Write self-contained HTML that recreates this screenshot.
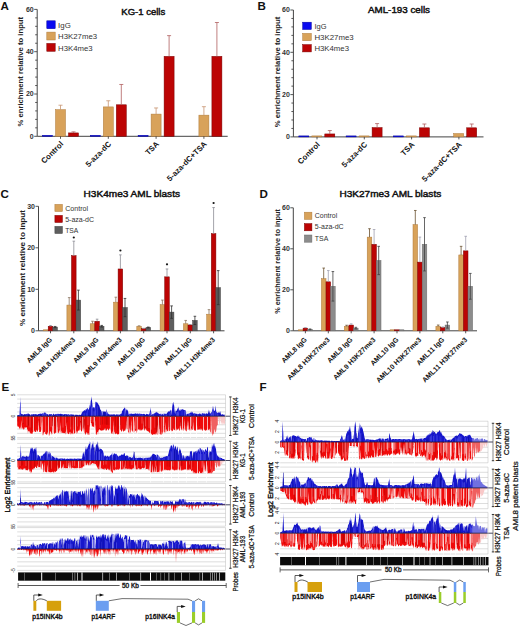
<!DOCTYPE html>
<html><head><meta charset="utf-8"><style>
html,body{margin:0;padding:0;background:#fff;}
svg{display:block;}
svg text{font-family:"Liberation Sans",sans-serif;}
</style></head><body>
<svg width="520" height="627" viewBox="0 0 520 627">
<rect width="520" height="627" fill="#fff"/>
<text x="0.60" y="10.30" font-size="11.6" font-weight="bold" text-anchor="start" fill="#111">A</text>
<text x="257.40" y="10.30" font-size="11.6" font-weight="bold" text-anchor="start" fill="#111">B</text>
<text x="0.60" y="197.50" font-size="11.6" font-weight="bold" text-anchor="start" fill="#111">C</text>
<text x="259.60" y="197.90" font-size="11.6" font-weight="bold" text-anchor="start" fill="#111">D</text>
<text x="1.40" y="390.90" font-size="11.6" font-weight="bold" text-anchor="start" fill="#111">E</text>
<text x="259.60" y="391.10" font-size="11.6" font-weight="bold" text-anchor="start" fill="#111">F</text>
<line x1="37.20" y1="9.40" x2="37.20" y2="136.30" stroke="#444" stroke-width="1"/>
<line x1="34.20" y1="136.30" x2="37.20" y2="136.30" stroke="#444" stroke-width="0.9"/>
<text x="33.70" y="138.70" font-size="7" font-weight="bold" text-anchor="end" fill="#333">0</text>
<line x1="35.20" y1="127.84" x2="37.20" y2="127.84" stroke="#444" stroke-width="0.9"/>
<line x1="35.20" y1="119.38" x2="37.20" y2="119.38" stroke="#444" stroke-width="0.9"/>
<line x1="35.20" y1="110.92" x2="37.20" y2="110.92" stroke="#444" stroke-width="0.9"/>
<line x1="35.20" y1="102.46" x2="37.20" y2="102.46" stroke="#444" stroke-width="0.9"/>
<line x1="34.20" y1="94.00" x2="37.20" y2="94.00" stroke="#444" stroke-width="0.9"/>
<text x="33.70" y="96.40" font-size="7" font-weight="bold" text-anchor="end" fill="#333">20</text>
<line x1="35.20" y1="85.54" x2="37.20" y2="85.54" stroke="#444" stroke-width="0.9"/>
<line x1="35.20" y1="77.08" x2="37.20" y2="77.08" stroke="#444" stroke-width="0.9"/>
<line x1="35.20" y1="68.62" x2="37.20" y2="68.62" stroke="#444" stroke-width="0.9"/>
<line x1="35.20" y1="60.16" x2="37.20" y2="60.16" stroke="#444" stroke-width="0.9"/>
<line x1="34.20" y1="51.70" x2="37.20" y2="51.70" stroke="#444" stroke-width="0.9"/>
<text x="33.70" y="54.10" font-size="7" font-weight="bold" text-anchor="end" fill="#333">40</text>
<line x1="35.20" y1="43.24" x2="37.20" y2="43.24" stroke="#444" stroke-width="0.9"/>
<line x1="35.20" y1="34.78" x2="37.20" y2="34.78" stroke="#444" stroke-width="0.9"/>
<line x1="35.20" y1="26.32" x2="37.20" y2="26.32" stroke="#444" stroke-width="0.9"/>
<line x1="35.20" y1="17.86" x2="37.20" y2="17.86" stroke="#444" stroke-width="0.9"/>
<line x1="34.20" y1="9.40" x2="37.20" y2="9.40" stroke="#444" stroke-width="0.9"/>
<text x="33.70" y="11.80" font-size="7" font-weight="bold" text-anchor="end" fill="#333">60</text>
<line x1="37.20" y1="136.30" x2="227.70" y2="136.30" stroke="#444" stroke-width="1"/>
<text x="23.20" y="71.70" font-size="7.2" font-weight="bold" text-anchor="middle" fill="#222" transform="rotate(-90 23.20 71.70)" textLength="109.6" lengthAdjust="spacingAndGlyphs">% enrichment relative to input</text>
<text x="121.30" y="14.80" font-size="9.2" font-weight="normal" text-anchor="start" fill="#111" textLength="43.9" lengthAdjust="spacingAndGlyphs" stroke="#111" stroke-width="0.45">KG-1 cells</text>
<rect x="46.80" y="20.80" width="8.40" height="7.90" fill="#0a0af0" stroke="#0000a0" stroke-width="0.5"/>
<text x="58.10" y="28.00" font-size="7.7" font-weight="normal" text-anchor="start" fill="#333" textLength="12.7" lengthAdjust="spacingAndGlyphs">IgG</text>
<rect x="46.80" y="32.10" width="8.40" height="7.90" fill="#d8a25a" stroke="#b07a3a" stroke-width="0.5"/>
<text x="58.10" y="39.30" font-size="7.7" font-weight="normal" text-anchor="start" fill="#333" textLength="39" lengthAdjust="spacingAndGlyphs">H3K27me3</text>
<rect x="46.80" y="43.40" width="8.40" height="7.90" fill="#bc0404" stroke="#7a0000" stroke-width="0.5"/>
<text x="58.10" y="50.60" font-size="7.7" font-weight="normal" text-anchor="start" fill="#333" textLength="34.5" lengthAdjust="spacingAndGlyphs">H3K4me3</text>
<rect x="42.50" y="135.30" width="10.00" height="1.00" fill="#0a0af0" stroke="#0000a0" stroke-width="0.5"/>
<rect x="55.50" y="109.65" width="10.00" height="26.65" fill="#d8a25a" stroke="#b07a3a" stroke-width="0.5"/>
<line x1="60.50" y1="105.21" x2="60.50" y2="109.65" stroke="#c89470" stroke-width="0.8"/>
<line x1="58.50" y1="105.21" x2="62.50" y2="105.21" stroke="#c89470" stroke-width="0.8"/>
<rect x="68.50" y="132.92" width="10.00" height="3.38" fill="#bc0404" stroke="#7a0000" stroke-width="0.5"/>
<line x1="73.50" y1="131.86" x2="73.50" y2="132.92" stroke="#b06060" stroke-width="0.8"/>
<line x1="71.50" y1="131.86" x2="75.50" y2="131.86" stroke="#b06060" stroke-width="0.8"/>
<line x1="60.50" y1="136.30" x2="60.50" y2="138.80" stroke="#444" stroke-width="0.9"/>
<rect x="90.30" y="135.30" width="10.00" height="1.00" fill="#0a0af0" stroke="#0000a0" stroke-width="0.5"/>
<rect x="103.30" y="106.90" width="10.00" height="29.40" fill="#d8a25a" stroke="#b07a3a" stroke-width="0.5"/>
<line x1="108.30" y1="100.77" x2="108.30" y2="106.90" stroke="#c89470" stroke-width="0.8"/>
<line x1="106.30" y1="100.77" x2="110.30" y2="100.77" stroke="#c89470" stroke-width="0.8"/>
<rect x="116.30" y="104.79" width="10.00" height="31.51" fill="#bc0404" stroke="#7a0000" stroke-width="0.5"/>
<line x1="121.30" y1="84.48" x2="121.30" y2="104.79" stroke="#b06060" stroke-width="0.8"/>
<line x1="119.30" y1="84.48" x2="123.30" y2="84.48" stroke="#b06060" stroke-width="0.8"/>
<line x1="108.30" y1="136.30" x2="108.30" y2="138.80" stroke="#444" stroke-width="0.9"/>
<rect x="138.10" y="135.30" width="10.00" height="1.00" fill="#0a0af0" stroke="#0000a0" stroke-width="0.5"/>
<rect x="151.10" y="114.09" width="10.00" height="22.21" fill="#d8a25a" stroke="#b07a3a" stroke-width="0.5"/>
<line x1="156.10" y1="107.96" x2="156.10" y2="114.09" stroke="#c89470" stroke-width="0.8"/>
<line x1="154.10" y1="107.96" x2="158.10" y2="107.96" stroke="#c89470" stroke-width="0.8"/>
<rect x="164.10" y="56.35" width="10.00" height="79.95" fill="#bc0404" stroke="#7a0000" stroke-width="0.5"/>
<line x1="169.10" y1="35.63" x2="169.10" y2="56.35" stroke="#b06060" stroke-width="0.8"/>
<line x1="167.10" y1="35.63" x2="171.10" y2="35.63" stroke="#b06060" stroke-width="0.8"/>
<line x1="156.10" y1="136.30" x2="156.10" y2="138.80" stroke="#444" stroke-width="0.9"/>
<rect x="198.90" y="115.15" width="10.00" height="21.15" fill="#d8a25a" stroke="#b07a3a" stroke-width="0.5"/>
<line x1="203.90" y1="106.69" x2="203.90" y2="115.15" stroke="#c89470" stroke-width="0.8"/>
<line x1="201.90" y1="106.69" x2="205.90" y2="106.69" stroke="#c89470" stroke-width="0.8"/>
<rect x="211.90" y="56.35" width="10.00" height="79.95" fill="#bc0404" stroke="#7a0000" stroke-width="0.5"/>
<line x1="216.90" y1="22.51" x2="216.90" y2="56.35" stroke="#b06060" stroke-width="0.8"/>
<line x1="214.90" y1="22.51" x2="218.90" y2="22.51" stroke="#b06060" stroke-width="0.8"/>
<line x1="203.90" y1="136.30" x2="203.90" y2="138.80" stroke="#444" stroke-width="0.9"/>
<text x="63.90" y="144.50" font-size="7.8" font-weight="bold" text-anchor="end" fill="#111" transform="rotate(-45 63.90 144.50)">Control</text>
<text x="111.70" y="144.50" font-size="7.8" font-weight="bold" text-anchor="end" fill="#111" transform="rotate(-45 111.70 144.50)">5-aza-dC</text>
<text x="159.50" y="144.50" font-size="7.8" font-weight="bold" text-anchor="end" fill="#111" transform="rotate(-45 159.50 144.50)">TSA</text>
<text x="207.30" y="144.50" font-size="7.8" font-weight="bold" text-anchor="end" fill="#111" transform="rotate(-45 207.30 144.50)">5-aza-dC+TSA</text>
<line x1="293.40" y1="10.00" x2="293.40" y2="136.90" stroke="#444" stroke-width="1"/>
<line x1="290.40" y1="136.90" x2="293.40" y2="136.90" stroke="#444" stroke-width="0.9"/>
<text x="289.90" y="139.30" font-size="7" font-weight="bold" text-anchor="end" fill="#333">0</text>
<line x1="291.40" y1="128.44" x2="293.40" y2="128.44" stroke="#444" stroke-width="0.9"/>
<line x1="291.40" y1="119.98" x2="293.40" y2="119.98" stroke="#444" stroke-width="0.9"/>
<line x1="291.40" y1="111.52" x2="293.40" y2="111.52" stroke="#444" stroke-width="0.9"/>
<line x1="291.40" y1="103.06" x2="293.40" y2="103.06" stroke="#444" stroke-width="0.9"/>
<line x1="290.40" y1="94.60" x2="293.40" y2="94.60" stroke="#444" stroke-width="0.9"/>
<text x="289.90" y="97.00" font-size="7" font-weight="bold" text-anchor="end" fill="#333">20</text>
<line x1="291.40" y1="86.14" x2="293.40" y2="86.14" stroke="#444" stroke-width="0.9"/>
<line x1="291.40" y1="77.68" x2="293.40" y2="77.68" stroke="#444" stroke-width="0.9"/>
<line x1="291.40" y1="69.22" x2="293.40" y2="69.22" stroke="#444" stroke-width="0.9"/>
<line x1="291.40" y1="60.76" x2="293.40" y2="60.76" stroke="#444" stroke-width="0.9"/>
<line x1="290.40" y1="52.30" x2="293.40" y2="52.30" stroke="#444" stroke-width="0.9"/>
<text x="289.90" y="54.70" font-size="7" font-weight="bold" text-anchor="end" fill="#333">40</text>
<line x1="291.40" y1="43.84" x2="293.40" y2="43.84" stroke="#444" stroke-width="0.9"/>
<line x1="291.40" y1="35.38" x2="293.40" y2="35.38" stroke="#444" stroke-width="0.9"/>
<line x1="291.40" y1="26.92" x2="293.40" y2="26.92" stroke="#444" stroke-width="0.9"/>
<line x1="291.40" y1="18.46" x2="293.40" y2="18.46" stroke="#444" stroke-width="0.9"/>
<line x1="290.40" y1="10.00" x2="293.40" y2="10.00" stroke="#444" stroke-width="0.9"/>
<text x="289.90" y="12.40" font-size="7" font-weight="bold" text-anchor="end" fill="#333">60</text>
<line x1="293.40" y1="136.90" x2="483.50" y2="136.90" stroke="#444" stroke-width="1"/>
<text x="279.80" y="72.00" font-size="7.2" font-weight="bold" text-anchor="middle" fill="#222" transform="rotate(-90 279.80 72.00)" textLength="110.5" lengthAdjust="spacingAndGlyphs">% enrichment relative to input</text>
<text x="368.00" y="13.10" font-size="9.3" font-weight="normal" text-anchor="start" fill="#111" textLength="62" lengthAdjust="spacingAndGlyphs" stroke="#111" stroke-width="0.45">AML-193 cells</text>
<rect x="302.70" y="22.20" width="8.60" height="7.30" fill="#0a0af0" stroke="#0000a0" stroke-width="0.5"/>
<text x="314.40" y="28.50" font-size="7.7" font-weight="normal" text-anchor="start" fill="#333" textLength="12.1" lengthAdjust="spacingAndGlyphs">IgG</text>
<rect x="302.70" y="33.40" width="8.60" height="7.30" fill="#d8a25a" stroke="#b07a3a" stroke-width="0.5"/>
<text x="314.40" y="39.70" font-size="7.7" font-weight="normal" text-anchor="start" fill="#333" textLength="39.3" lengthAdjust="spacingAndGlyphs">H3K27me3</text>
<rect x="302.70" y="44.60" width="8.60" height="7.30" fill="#bc0404" stroke="#7a0000" stroke-width="0.5"/>
<text x="314.40" y="50.90" font-size="7.7" font-weight="normal" text-anchor="start" fill="#333" textLength="34.6" lengthAdjust="spacingAndGlyphs">H3K4me3</text>
<rect x="298.80" y="135.90" width="10.00" height="1.00" fill="#0a0af0" stroke="#0000a0" stroke-width="0.5"/>
<rect x="311.80" y="135.90" width="10.00" height="1.00" fill="#d8a25a" stroke="#b07a3a" stroke-width="0.5"/>
<rect x="324.80" y="133.94" width="10.00" height="2.96" fill="#bc0404" stroke="#7a0000" stroke-width="0.5"/>
<line x1="329.80" y1="130.56" x2="329.80" y2="133.94" stroke="#b06060" stroke-width="0.8"/>
<line x1="327.80" y1="130.56" x2="331.80" y2="130.56" stroke="#b06060" stroke-width="0.8"/>
<line x1="317.00" y1="136.90" x2="317.00" y2="139.40" stroke="#444" stroke-width="0.9"/>
<rect x="346.10" y="135.90" width="10.00" height="1.00" fill="#0a0af0" stroke="#0000a0" stroke-width="0.5"/>
<rect x="359.10" y="135.90" width="10.00" height="1.00" fill="#d8a25a" stroke="#b07a3a" stroke-width="0.5"/>
<rect x="372.10" y="127.59" width="10.00" height="9.31" fill="#bc0404" stroke="#7a0000" stroke-width="0.5"/>
<line x1="377.10" y1="123.58" x2="377.10" y2="127.59" stroke="#b06060" stroke-width="0.8"/>
<line x1="375.10" y1="123.58" x2="379.10" y2="123.58" stroke="#b06060" stroke-width="0.8"/>
<line x1="364.30" y1="136.90" x2="364.30" y2="139.40" stroke="#444" stroke-width="0.9"/>
<rect x="393.40" y="135.90" width="10.00" height="1.00" fill="#0a0af0" stroke="#0000a0" stroke-width="0.5"/>
<rect x="406.40" y="135.90" width="10.00" height="1.00" fill="#d8a25a" stroke="#b07a3a" stroke-width="0.5"/>
<rect x="419.40" y="127.81" width="10.00" height="9.09" fill="#bc0404" stroke="#7a0000" stroke-width="0.5"/>
<line x1="424.40" y1="124.00" x2="424.40" y2="127.81" stroke="#b06060" stroke-width="0.8"/>
<line x1="422.40" y1="124.00" x2="426.40" y2="124.00" stroke="#b06060" stroke-width="0.8"/>
<line x1="411.60" y1="136.90" x2="411.60" y2="139.40" stroke="#444" stroke-width="0.9"/>
<rect x="453.70" y="133.52" width="10.00" height="3.38" fill="#d8a25a" stroke="#b07a3a" stroke-width="0.5"/>
<rect x="466.70" y="127.81" width="10.00" height="9.09" fill="#bc0404" stroke="#7a0000" stroke-width="0.5"/>
<line x1="471.70" y1="124.00" x2="471.70" y2="127.81" stroke="#b06060" stroke-width="0.8"/>
<line x1="469.70" y1="124.00" x2="473.70" y2="124.00" stroke="#b06060" stroke-width="0.8"/>
<line x1="458.90" y1="136.90" x2="458.90" y2="139.40" stroke="#444" stroke-width="0.9"/>
<text x="320.40" y="145.10" font-size="7.8" font-weight="bold" text-anchor="end" fill="#111" transform="rotate(-45 320.40 145.10)">Control</text>
<text x="367.70" y="145.10" font-size="7.8" font-weight="bold" text-anchor="end" fill="#111" transform="rotate(-45 367.70 145.10)">5-aza-dC</text>
<text x="415.00" y="145.10" font-size="7.8" font-weight="bold" text-anchor="end" fill="#111" transform="rotate(-45 415.00 145.10)">TSA</text>
<text x="462.30" y="145.10" font-size="7.8" font-weight="bold" text-anchor="end" fill="#111" transform="rotate(-45 462.30 145.10)">5-aza-dC+TSA</text>
<line x1="38.50" y1="206.30" x2="38.50" y2="330.80" stroke="#444" stroke-width="1"/>
<line x1="35.50" y1="330.80" x2="38.50" y2="330.80" stroke="#444" stroke-width="0.9"/>
<text x="35.00" y="333.20" font-size="7" font-weight="bold" text-anchor="end" fill="#333">0</text>
<line x1="35.50" y1="289.30" x2="38.50" y2="289.30" stroke="#444" stroke-width="0.9"/>
<text x="35.00" y="291.70" font-size="7" font-weight="bold" text-anchor="end" fill="#333">10</text>
<line x1="35.50" y1="247.80" x2="38.50" y2="247.80" stroke="#444" stroke-width="0.9"/>
<text x="35.00" y="250.20" font-size="7" font-weight="bold" text-anchor="end" fill="#333">20</text>
<line x1="35.50" y1="206.30" x2="38.50" y2="206.30" stroke="#444" stroke-width="0.9"/>
<text x="35.00" y="208.70" font-size="7" font-weight="bold" text-anchor="end" fill="#333">30</text>
<line x1="38.50" y1="330.80" x2="224.50" y2="330.80" stroke="#444" stroke-width="1"/>
<text x="25.00" y="268.00" font-size="7.2" font-weight="bold" text-anchor="middle" fill="#222" transform="rotate(-90 25.00 268.00)" textLength="116" lengthAdjust="spacingAndGlyphs">% enrichment relative to input</text>
<text x="83.60" y="197.10" font-size="9.4" font-weight="normal" text-anchor="start" fill="#111" textLength="96.4" lengthAdjust="spacingAndGlyphs" stroke="#111" stroke-width="0.45">H3K4me3 AML blasts</text>
<rect x="54.90" y="204.40" width="7.50" height="7.10" fill="#d8a25a" stroke="#b07a3a" stroke-width="0.5"/>
<text x="65.20" y="210.60" font-size="7.4" font-weight="normal" text-anchor="start" fill="#333" textLength="22.9" lengthAdjust="spacingAndGlyphs">Control</text>
<rect x="54.90" y="215.40" width="7.50" height="7.10" fill="#bc0404" stroke="#7a0000" stroke-width="0.5"/>
<text x="65.20" y="221.60" font-size="7.4" font-weight="normal" text-anchor="start" fill="#333" textLength="28.9" lengthAdjust="spacingAndGlyphs">5-aza-dC</text>
<rect x="54.90" y="226.40" width="7.50" height="7.10" fill="#5e5e5e" stroke="#404040" stroke-width="0.5"/>
<text x="65.20" y="232.60" font-size="7.4" font-weight="normal" text-anchor="start" fill="#333" textLength="13.1" lengthAdjust="spacingAndGlyphs">TSA</text>
<rect x="43.60" y="329.80" width="4.60" height="1.00" fill="#d8a25a" stroke="#b07a3a" stroke-width="0.5"/>
<rect x="48.20" y="326.32" width="4.60" height="4.48" fill="#bc0404" stroke="#7a0000" stroke-width="0.5"/>
<line x1="50.50" y1="325.49" x2="50.50" y2="326.32" stroke="#8c8c94" stroke-width="0.8"/>
<line x1="49.20" y1="325.49" x2="51.80" y2="325.49" stroke="#8c8c94" stroke-width="0.8"/>
<rect x="52.80" y="327.06" width="4.60" height="3.74" fill="#5e5e5e" stroke="#404040" stroke-width="0.5"/>
<line x1="55.10" y1="326.44" x2="55.10" y2="327.69" stroke="#303030" stroke-width="0.8"/>
<line x1="53.80" y1="326.44" x2="56.40" y2="326.44" stroke="#303030" stroke-width="0.8"/>
<line x1="53.80" y1="327.69" x2="56.40" y2="327.69" stroke="#303030" stroke-width="0.8"/>
<line x1="50.50" y1="330.80" x2="50.50" y2="333.30" stroke="#444" stroke-width="0.9"/>
<rect x="66.90" y="305.07" width="4.60" height="25.73" fill="#d8a25a" stroke="#b07a3a" stroke-width="0.5"/>
<line x1="69.20" y1="297.60" x2="69.20" y2="305.07" stroke="#8a7460" stroke-width="0.8"/>
<line x1="67.90" y1="297.60" x2="70.50" y2="297.60" stroke="#8a7460" stroke-width="0.8"/>
<rect x="71.50" y="255.69" width="4.60" height="75.12" fill="#bc0404" stroke="#7a0000" stroke-width="0.5"/>
<line x1="73.80" y1="241.16" x2="73.80" y2="255.69" stroke="#8c8c94" stroke-width="0.8"/>
<line x1="72.50" y1="241.16" x2="75.10" y2="241.16" stroke="#8c8c94" stroke-width="0.8"/>
<rect x="76.10" y="300.09" width="4.60" height="30.71" fill="#5e5e5e" stroke="#404040" stroke-width="0.5"/>
<line x1="78.40" y1="290.13" x2="78.40" y2="310.05" stroke="#303030" stroke-width="0.8"/>
<line x1="77.10" y1="290.13" x2="79.70" y2="290.13" stroke="#303030" stroke-width="0.8"/>
<line x1="77.10" y1="310.05" x2="79.70" y2="310.05" stroke="#303030" stroke-width="0.8"/>
<line x1="73.80" y1="330.80" x2="73.80" y2="333.30" stroke="#444" stroke-width="0.9"/>
<circle cx="73.80" cy="237.50" r="1.1" fill="#111"/>
<rect x="90.20" y="323.75" width="4.60" height="7.06" fill="#d8a25a" stroke="#b07a3a" stroke-width="0.5"/>
<line x1="92.50" y1="321.25" x2="92.50" y2="323.75" stroke="#8a7460" stroke-width="0.8"/>
<line x1="91.20" y1="321.25" x2="93.80" y2="321.25" stroke="#8a7460" stroke-width="0.8"/>
<rect x="94.80" y="321.25" width="4.60" height="9.54" fill="#bc0404" stroke="#7a0000" stroke-width="0.5"/>
<line x1="97.10" y1="319.18" x2="97.10" y2="321.25" stroke="#8c8c94" stroke-width="0.8"/>
<line x1="95.80" y1="319.18" x2="98.40" y2="319.18" stroke="#8c8c94" stroke-width="0.8"/>
<rect x="99.40" y="326.24" width="4.60" height="4.57" fill="#5e5e5e" stroke="#404040" stroke-width="0.5"/>
<line x1="101.70" y1="325.41" x2="101.70" y2="327.06" stroke="#303030" stroke-width="0.8"/>
<line x1="100.40" y1="325.41" x2="103.00" y2="325.41" stroke="#303030" stroke-width="0.8"/>
<line x1="100.40" y1="327.06" x2="103.00" y2="327.06" stroke="#303030" stroke-width="0.8"/>
<line x1="97.10" y1="330.80" x2="97.10" y2="333.30" stroke="#444" stroke-width="0.9"/>
<rect x="113.50" y="302.17" width="4.60" height="28.64" fill="#d8a25a" stroke="#b07a3a" stroke-width="0.5"/>
<line x1="115.80" y1="297.19" x2="115.80" y2="302.17" stroke="#8a7460" stroke-width="0.8"/>
<line x1="114.50" y1="297.19" x2="117.10" y2="297.19" stroke="#8a7460" stroke-width="0.8"/>
<rect x="118.10" y="268.97" width="4.60" height="61.84" fill="#bc0404" stroke="#7a0000" stroke-width="0.5"/>
<line x1="120.40" y1="254.86" x2="120.40" y2="268.97" stroke="#8c8c94" stroke-width="0.8"/>
<line x1="119.10" y1="254.86" x2="121.70" y2="254.86" stroke="#8c8c94" stroke-width="0.8"/>
<rect x="122.70" y="307.56" width="4.60" height="23.24" fill="#5e5e5e" stroke="#404040" stroke-width="0.5"/>
<line x1="125.00" y1="298.43" x2="125.00" y2="316.69" stroke="#303030" stroke-width="0.8"/>
<line x1="123.70" y1="298.43" x2="126.30" y2="298.43" stroke="#303030" stroke-width="0.8"/>
<line x1="123.70" y1="316.69" x2="126.30" y2="316.69" stroke="#303030" stroke-width="0.8"/>
<line x1="120.40" y1="330.80" x2="120.40" y2="333.30" stroke="#444" stroke-width="0.9"/>
<circle cx="120.40" cy="250.50" r="1.1" fill="#111"/>
<rect x="136.80" y="326.24" width="4.60" height="4.57" fill="#d8a25a" stroke="#b07a3a" stroke-width="0.5"/>
<line x1="139.10" y1="325.82" x2="139.10" y2="326.24" stroke="#8a7460" stroke-width="0.8"/>
<line x1="137.80" y1="325.82" x2="140.40" y2="325.82" stroke="#8a7460" stroke-width="0.8"/>
<rect x="141.40" y="328.73" width="4.60" height="2.08" fill="#bc0404" stroke="#7a0000" stroke-width="0.5"/>
<line x1="143.70" y1="328.31" x2="143.70" y2="328.73" stroke="#8c8c94" stroke-width="0.8"/>
<line x1="142.40" y1="328.31" x2="145.00" y2="328.31" stroke="#8c8c94" stroke-width="0.8"/>
<rect x="146.00" y="327.48" width="4.60" height="3.32" fill="#5e5e5e" stroke="#404040" stroke-width="0.5"/>
<line x1="148.30" y1="327.06" x2="148.30" y2="327.90" stroke="#303030" stroke-width="0.8"/>
<line x1="147.00" y1="327.06" x2="149.60" y2="327.06" stroke="#303030" stroke-width="0.8"/>
<line x1="147.00" y1="327.90" x2="149.60" y2="327.90" stroke="#303030" stroke-width="0.8"/>
<line x1="143.70" y1="330.80" x2="143.70" y2="333.30" stroke="#444" stroke-width="0.9"/>
<rect x="160.10" y="304.66" width="4.60" height="26.15" fill="#d8a25a" stroke="#b07a3a" stroke-width="0.5"/>
<line x1="162.40" y1="300.09" x2="162.40" y2="304.66" stroke="#8a7460" stroke-width="0.8"/>
<line x1="161.10" y1="300.09" x2="163.70" y2="300.09" stroke="#8a7460" stroke-width="0.8"/>
<rect x="164.70" y="276.85" width="4.60" height="53.95" fill="#bc0404" stroke="#7a0000" stroke-width="0.5"/>
<line x1="167.00" y1="268.97" x2="167.00" y2="276.85" stroke="#8c8c94" stroke-width="0.8"/>
<line x1="165.70" y1="268.97" x2="168.30" y2="268.97" stroke="#8c8c94" stroke-width="0.8"/>
<rect x="169.30" y="312.12" width="4.60" height="18.68" fill="#5e5e5e" stroke="#404040" stroke-width="0.5"/>
<line x1="171.60" y1="305.90" x2="171.60" y2="318.35" stroke="#303030" stroke-width="0.8"/>
<line x1="170.30" y1="305.90" x2="172.90" y2="305.90" stroke="#303030" stroke-width="0.8"/>
<line x1="170.30" y1="318.35" x2="172.90" y2="318.35" stroke="#303030" stroke-width="0.8"/>
<line x1="167.00" y1="330.80" x2="167.00" y2="333.30" stroke="#444" stroke-width="0.9"/>
<circle cx="167.00" cy="264.30" r="1.1" fill="#111"/>
<rect x="183.40" y="323.75" width="4.60" height="7.06" fill="#d8a25a" stroke="#b07a3a" stroke-width="0.5"/>
<line x1="185.70" y1="320.43" x2="185.70" y2="323.75" stroke="#8a7460" stroke-width="0.8"/>
<line x1="184.40" y1="320.43" x2="187.00" y2="320.43" stroke="#8a7460" stroke-width="0.8"/>
<rect x="188.00" y="324.99" width="4.60" height="5.81" fill="#bc0404" stroke="#7a0000" stroke-width="0.5"/>
<line x1="190.30" y1="324.57" x2="190.30" y2="324.99" stroke="#8c8c94" stroke-width="0.8"/>
<line x1="189.00" y1="324.57" x2="191.60" y2="324.57" stroke="#8c8c94" stroke-width="0.8"/>
<rect x="192.60" y="320.43" width="4.60" height="10.38" fill="#5e5e5e" stroke="#404040" stroke-width="0.5"/>
<line x1="194.90" y1="316.28" x2="194.90" y2="324.57" stroke="#303030" stroke-width="0.8"/>
<line x1="193.60" y1="316.28" x2="196.20" y2="316.28" stroke="#303030" stroke-width="0.8"/>
<line x1="193.60" y1="324.57" x2="196.20" y2="324.57" stroke="#303030" stroke-width="0.8"/>
<line x1="190.30" y1="330.80" x2="190.30" y2="333.30" stroke="#444" stroke-width="0.9"/>
<rect x="206.70" y="314.20" width="4.60" height="16.60" fill="#d8a25a" stroke="#b07a3a" stroke-width="0.5"/>
<line x1="209.00" y1="309.63" x2="209.00" y2="314.20" stroke="#8a7460" stroke-width="0.8"/>
<line x1="207.70" y1="309.63" x2="210.30" y2="309.63" stroke="#8a7460" stroke-width="0.8"/>
<rect x="211.30" y="233.69" width="4.60" height="97.11" fill="#bc0404" stroke="#7a0000" stroke-width="0.5"/>
<line x1="213.60" y1="207.55" x2="213.60" y2="233.69" stroke="#8c8c94" stroke-width="0.8"/>
<line x1="212.30" y1="207.55" x2="214.90" y2="207.55" stroke="#8c8c94" stroke-width="0.8"/>
<rect x="215.90" y="287.64" width="4.60" height="43.16" fill="#5e5e5e" stroke="#404040" stroke-width="0.5"/>
<line x1="218.20" y1="270.62" x2="218.20" y2="304.66" stroke="#303030" stroke-width="0.8"/>
<line x1="216.90" y1="270.62" x2="219.50" y2="270.62" stroke="#303030" stroke-width="0.8"/>
<line x1="216.90" y1="304.66" x2="219.50" y2="304.66" stroke="#303030" stroke-width="0.8"/>
<line x1="213.60" y1="330.80" x2="213.60" y2="333.30" stroke="#444" stroke-width="0.9"/>
<circle cx="213.60" cy="203.00" r="1.1" fill="#111"/>
<text x="52.50" y="340.20" font-size="7.0" font-weight="bold" text-anchor="end" fill="#111" transform="rotate(-45 52.50 340.20)">AML8 IgG</text>
<text x="75.80" y="340.20" font-size="7.0" font-weight="bold" text-anchor="end" fill="#111" transform="rotate(-45 75.80 340.20)">AML8 H3K4me3</text>
<text x="99.10" y="340.20" font-size="7.0" font-weight="bold" text-anchor="end" fill="#111" transform="rotate(-45 99.10 340.20)">AML9 IgG</text>
<text x="122.40" y="340.20" font-size="7.0" font-weight="bold" text-anchor="end" fill="#111" transform="rotate(-45 122.40 340.20)">AML9 H3K4me3</text>
<text x="145.70" y="340.20" font-size="7.0" font-weight="bold" text-anchor="end" fill="#111" transform="rotate(-45 145.70 340.20)">AML10 IgG</text>
<text x="169.00" y="340.20" font-size="7.0" font-weight="bold" text-anchor="end" fill="#111" transform="rotate(-45 169.00 340.20)">AML10 H3K4me3</text>
<text x="192.30" y="340.20" font-size="7.0" font-weight="bold" text-anchor="end" fill="#111" transform="rotate(-45 192.30 340.20)">AML11 IgG</text>
<text x="215.60" y="340.20" font-size="7.0" font-weight="bold" text-anchor="end" fill="#111" transform="rotate(-45 215.60 340.20)">AML11 H3K4me3</text>
<line x1="293.30" y1="207.80" x2="293.30" y2="330.80" stroke="#444" stroke-width="1"/>
<line x1="290.30" y1="330.80" x2="293.30" y2="330.80" stroke="#444" stroke-width="0.9"/>
<text x="289.80" y="333.20" font-size="7" font-weight="bold" text-anchor="end" fill="#333">0</text>
<line x1="290.30" y1="289.80" x2="293.30" y2="289.80" stroke="#444" stroke-width="0.9"/>
<text x="289.80" y="292.20" font-size="7" font-weight="bold" text-anchor="end" fill="#333">20</text>
<line x1="290.30" y1="248.80" x2="293.30" y2="248.80" stroke="#444" stroke-width="0.9"/>
<text x="289.80" y="251.20" font-size="7" font-weight="bold" text-anchor="end" fill="#333">40</text>
<line x1="290.30" y1="207.80" x2="293.30" y2="207.80" stroke="#444" stroke-width="0.9"/>
<text x="289.80" y="210.20" font-size="7" font-weight="bold" text-anchor="end" fill="#333">60</text>
<line x1="293.30" y1="330.80" x2="477.00" y2="330.80" stroke="#444" stroke-width="1"/>
<text x="280.00" y="261.40" font-size="7.2" font-weight="bold" text-anchor="middle" fill="#222" transform="rotate(-90 280.00 261.40)" textLength="104.8" lengthAdjust="spacingAndGlyphs">% enrichment relative to input</text>
<text x="339.50" y="197.30" font-size="9.4" font-weight="normal" text-anchor="start" fill="#111" textLength="101.7" lengthAdjust="spacingAndGlyphs" stroke="#111" stroke-width="0.45">H3K27me3 AML blasts</text>
<rect x="304.40" y="212.20" width="7.50" height="7.20" fill="#d8a25a" stroke="#b07a3a" stroke-width="0.5"/>
<text x="314.80" y="218.00" font-size="7.4" font-weight="normal" text-anchor="start" fill="#333" textLength="22.4" lengthAdjust="spacingAndGlyphs">Control</text>
<rect x="304.40" y="223.60" width="7.50" height="7.20" fill="#bc0404" stroke="#7a0000" stroke-width="0.5"/>
<text x="314.80" y="229.40" font-size="7.4" font-weight="normal" text-anchor="start" fill="#333" textLength="28.8" lengthAdjust="spacingAndGlyphs">5-aza-dC</text>
<rect x="304.40" y="235.00" width="7.50" height="7.20" fill="#8c8c8c" stroke="#6a6a6a" stroke-width="0.5"/>
<text x="314.80" y="240.80" font-size="7.4" font-weight="normal" text-anchor="start" fill="#333" textLength="13.5" lengthAdjust="spacingAndGlyphs">TSA</text>
<rect x="298.50" y="329.80" width="4.60" height="1.00" fill="#d8a25a" stroke="#b07a3a" stroke-width="0.5"/>
<rect x="303.10" y="328.13" width="4.60" height="2.67" fill="#bc0404" stroke="#7a0000" stroke-width="0.5"/>
<line x1="305.40" y1="327.52" x2="305.40" y2="328.13" stroke="#a0a0b0" stroke-width="0.8"/>
<line x1="304.10" y1="327.52" x2="306.70" y2="327.52" stroke="#a0a0b0" stroke-width="0.8"/>
<rect x="307.70" y="329.37" width="4.60" height="1.43" fill="#8c8c8c" stroke="#6a6a6a" stroke-width="0.5"/>
<line x1="310.00" y1="328.95" x2="310.00" y2="329.78" stroke="#404040" stroke-width="0.8"/>
<line x1="308.70" y1="328.95" x2="311.30" y2="328.95" stroke="#404040" stroke-width="0.8"/>
<line x1="308.70" y1="329.78" x2="311.30" y2="329.78" stroke="#404040" stroke-width="0.8"/>
<line x1="305.40" y1="330.80" x2="305.40" y2="333.30" stroke="#444" stroke-width="0.9"/>
<rect x="321.40" y="278.73" width="4.60" height="52.07" fill="#d8a25a" stroke="#b07a3a" stroke-width="0.5"/>
<line x1="323.70" y1="268.07" x2="323.70" y2="278.73" stroke="#6a5030" stroke-width="0.8"/>
<line x1="322.40" y1="268.07" x2="325.00" y2="268.07" stroke="#6a5030" stroke-width="0.8"/>
<rect x="326.00" y="281.81" width="4.60" height="48.99" fill="#bc0404" stroke="#7a0000" stroke-width="0.5"/>
<line x1="328.30" y1="270.53" x2="328.30" y2="281.81" stroke="#a0a0b0" stroke-width="0.8"/>
<line x1="327.00" y1="270.53" x2="329.60" y2="270.53" stroke="#a0a0b0" stroke-width="0.8"/>
<rect x="330.60" y="286.31" width="4.60" height="44.48" fill="#8c8c8c" stroke="#6a6a6a" stroke-width="0.5"/>
<line x1="332.90" y1="271.56" x2="332.90" y2="301.07" stroke="#404040" stroke-width="0.8"/>
<line x1="331.60" y1="271.56" x2="334.20" y2="271.56" stroke="#404040" stroke-width="0.8"/>
<line x1="331.60" y1="301.07" x2="334.20" y2="301.07" stroke="#404040" stroke-width="0.8"/>
<line x1="328.30" y1="330.80" x2="328.30" y2="333.30" stroke="#444" stroke-width="0.9"/>
<rect x="344.30" y="326.29" width="4.60" height="4.51" fill="#d8a25a" stroke="#b07a3a" stroke-width="0.5"/>
<line x1="346.60" y1="325.26" x2="346.60" y2="326.29" stroke="#6a5030" stroke-width="0.8"/>
<line x1="345.30" y1="325.26" x2="347.90" y2="325.26" stroke="#6a5030" stroke-width="0.8"/>
<rect x="348.90" y="325.06" width="4.60" height="5.74" fill="#bc0404" stroke="#7a0000" stroke-width="0.5"/>
<line x1="351.20" y1="323.83" x2="351.20" y2="325.06" stroke="#a0a0b0" stroke-width="0.8"/>
<line x1="349.90" y1="323.83" x2="352.50" y2="323.83" stroke="#a0a0b0" stroke-width="0.8"/>
<rect x="353.50" y="328.13" width="4.60" height="2.67" fill="#8c8c8c" stroke="#6a6a6a" stroke-width="0.5"/>
<line x1="355.80" y1="327.31" x2="355.80" y2="328.95" stroke="#404040" stroke-width="0.8"/>
<line x1="354.50" y1="327.31" x2="357.10" y2="327.31" stroke="#404040" stroke-width="0.8"/>
<line x1="354.50" y1="328.95" x2="357.10" y2="328.95" stroke="#404040" stroke-width="0.8"/>
<line x1="351.20" y1="330.80" x2="351.20" y2="333.30" stroke="#444" stroke-width="0.9"/>
<rect x="367.20" y="237.12" width="4.60" height="93.69" fill="#d8a25a" stroke="#b07a3a" stroke-width="0.5"/>
<line x1="369.50" y1="228.71" x2="369.50" y2="237.12" stroke="#6a5030" stroke-width="0.8"/>
<line x1="368.20" y1="228.71" x2="370.80" y2="228.71" stroke="#6a5030" stroke-width="0.8"/>
<rect x="371.80" y="244.29" width="4.60" height="86.51" fill="#bc0404" stroke="#7a0000" stroke-width="0.5"/>
<line x1="374.10" y1="229.53" x2="374.10" y2="244.29" stroke="#a0a0b0" stroke-width="0.8"/>
<line x1="372.80" y1="229.53" x2="375.40" y2="229.53" stroke="#a0a0b0" stroke-width="0.8"/>
<rect x="376.40" y="260.49" width="4.60" height="70.31" fill="#8c8c8c" stroke="#6a6a6a" stroke-width="0.5"/>
<line x1="378.70" y1="246.34" x2="378.70" y2="274.63" stroke="#404040" stroke-width="0.8"/>
<line x1="377.40" y1="246.34" x2="380.00" y2="246.34" stroke="#404040" stroke-width="0.8"/>
<line x1="377.40" y1="274.63" x2="380.00" y2="274.63" stroke="#404040" stroke-width="0.8"/>
<line x1="374.10" y1="330.80" x2="374.10" y2="333.30" stroke="#444" stroke-width="0.9"/>
<rect x="390.10" y="329.80" width="4.60" height="1.00" fill="#d8a25a" stroke="#b07a3a" stroke-width="0.5"/>
<rect x="394.70" y="329.80" width="4.60" height="1.00" fill="#bc0404" stroke="#7a0000" stroke-width="0.5"/>
<rect x="399.30" y="329.80" width="4.60" height="1.00" fill="#8c8c8c" stroke="#6a6a6a" stroke-width="0.5"/>
<line x1="397.00" y1="330.80" x2="397.00" y2="333.30" stroke="#444" stroke-width="0.9"/>
<rect x="413.00" y="224.61" width="4.60" height="106.19" fill="#d8a25a" stroke="#b07a3a" stroke-width="0.5"/>
<line x1="415.30" y1="210.47" x2="415.30" y2="224.61" stroke="#6a5030" stroke-width="0.8"/>
<line x1="414.00" y1="210.47" x2="416.60" y2="210.47" stroke="#6a5030" stroke-width="0.8"/>
<rect x="417.60" y="262.12" width="4.60" height="68.67" fill="#bc0404" stroke="#7a0000" stroke-width="0.5"/>
<line x1="419.90" y1="237.12" x2="419.90" y2="262.12" stroke="#a0a0b0" stroke-width="0.8"/>
<line x1="418.60" y1="237.12" x2="421.20" y2="237.12" stroke="#a0a0b0" stroke-width="0.8"/>
<rect x="422.20" y="244.29" width="4.60" height="86.51" fill="#8c8c8c" stroke="#6a6a6a" stroke-width="0.5"/>
<line x1="424.50" y1="217.64" x2="424.50" y2="270.94" stroke="#404040" stroke-width="0.8"/>
<line x1="423.20" y1="217.64" x2="425.80" y2="217.64" stroke="#404040" stroke-width="0.8"/>
<line x1="423.20" y1="270.94" x2="425.80" y2="270.94" stroke="#404040" stroke-width="0.8"/>
<line x1="419.90" y1="330.80" x2="419.90" y2="333.30" stroke="#444" stroke-width="0.9"/>
<rect x="435.90" y="326.29" width="4.60" height="4.51" fill="#d8a25a" stroke="#b07a3a" stroke-width="0.5"/>
<line x1="438.20" y1="325.06" x2="438.20" y2="326.29" stroke="#6a5030" stroke-width="0.8"/>
<line x1="436.90" y1="325.06" x2="439.50" y2="325.06" stroke="#6a5030" stroke-width="0.8"/>
<rect x="440.50" y="327.52" width="4.60" height="3.28" fill="#bc0404" stroke="#7a0000" stroke-width="0.5"/>
<line x1="442.80" y1="326.91" x2="442.80" y2="327.52" stroke="#a0a0b0" stroke-width="0.8"/>
<line x1="441.50" y1="326.91" x2="444.10" y2="326.91" stroke="#a0a0b0" stroke-width="0.8"/>
<rect x="445.10" y="325.06" width="4.60" height="5.74" fill="#8c8c8c" stroke="#6a6a6a" stroke-width="0.5"/>
<line x1="447.40" y1="321.99" x2="447.40" y2="328.13" stroke="#404040" stroke-width="0.8"/>
<line x1="446.10" y1="321.99" x2="448.70" y2="321.99" stroke="#404040" stroke-width="0.8"/>
<line x1="446.10" y1="328.13" x2="448.70" y2="328.13" stroke="#404040" stroke-width="0.8"/>
<line x1="442.80" y1="330.80" x2="442.80" y2="333.30" stroke="#444" stroke-width="0.9"/>
<rect x="458.80" y="254.95" width="4.60" height="75.85" fill="#d8a25a" stroke="#b07a3a" stroke-width="0.5"/>
<line x1="461.10" y1="246.34" x2="461.10" y2="254.95" stroke="#6a5030" stroke-width="0.8"/>
<line x1="459.80" y1="246.34" x2="462.40" y2="246.34" stroke="#6a5030" stroke-width="0.8"/>
<rect x="463.40" y="250.85" width="4.60" height="79.95" fill="#bc0404" stroke="#7a0000" stroke-width="0.5"/>
<line x1="465.70" y1="236.30" x2="465.70" y2="250.85" stroke="#a0a0b0" stroke-width="0.8"/>
<line x1="464.40" y1="236.30" x2="467.00" y2="236.30" stroke="#a0a0b0" stroke-width="0.8"/>
<rect x="468.00" y="286.31" width="4.60" height="44.48" fill="#8c8c8c" stroke="#6a6a6a" stroke-width="0.5"/>
<line x1="470.30" y1="273.40" x2="470.30" y2="299.23" stroke="#404040" stroke-width="0.8"/>
<line x1="469.00" y1="273.40" x2="471.60" y2="273.40" stroke="#404040" stroke-width="0.8"/>
<line x1="469.00" y1="299.23" x2="471.60" y2="299.23" stroke="#404040" stroke-width="0.8"/>
<line x1="465.70" y1="330.80" x2="465.70" y2="333.30" stroke="#444" stroke-width="0.9"/>
<text x="307.40" y="340.20" font-size="7.0" font-weight="bold" text-anchor="end" fill="#111" transform="rotate(-45 307.40 340.20)">AML8 IgG</text>
<text x="330.30" y="340.20" font-size="7.0" font-weight="bold" text-anchor="end" fill="#111" transform="rotate(-45 330.30 340.20)">AML8 H3K27me3</text>
<text x="353.20" y="340.20" font-size="7.0" font-weight="bold" text-anchor="end" fill="#111" transform="rotate(-45 353.20 340.20)">AML9 IgG</text>
<text x="376.10" y="340.20" font-size="7.0" font-weight="bold" text-anchor="end" fill="#111" transform="rotate(-45 376.10 340.20)">AML9 H3K27me3</text>
<text x="399.00" y="340.20" font-size="7.0" font-weight="bold" text-anchor="end" fill="#111" transform="rotate(-45 399.00 340.20)">AML10 IgG</text>
<text x="421.90" y="340.20" font-size="7.0" font-weight="bold" text-anchor="end" fill="#111" transform="rotate(-45 421.90 340.20)">AML10 H3K27me3</text>
<text x="444.80" y="340.20" font-size="7.0" font-weight="bold" text-anchor="end" fill="#111" transform="rotate(-45 444.80 340.20)">AML11 IgG</text>
<text x="467.70" y="340.20" font-size="7.0" font-weight="bold" text-anchor="end" fill="#111" transform="rotate(-45 467.70 340.20)">AML11 H3K27me3</text>
<line x1="17.20" y1="411.92" x2="225.50" y2="411.92" stroke="#cfcfcf" stroke-width="0.7"/>
<line x1="17.20" y1="420.48" x2="225.50" y2="420.48" stroke="#cfcfcf" stroke-width="0.7"/>
<line x1="17.20" y1="407.64" x2="225.50" y2="407.64" stroke="#cfcfcf" stroke-width="0.7"/>
<line x1="17.20" y1="424.76" x2="225.50" y2="424.76" stroke="#cfcfcf" stroke-width="0.7"/>
<line x1="17.20" y1="403.36" x2="225.50" y2="403.36" stroke="#cfcfcf" stroke-width="0.7"/>
<line x1="17.20" y1="429.04" x2="225.50" y2="429.04" stroke="#cfcfcf" stroke-width="0.7"/>
<line x1="17.20" y1="399.08" x2="225.50" y2="399.08" stroke="#cfcfcf" stroke-width="0.7"/>
<line x1="17.20" y1="433.32" x2="225.50" y2="433.32" stroke="#cfcfcf" stroke-width="0.7"/>
<line x1="17.20" y1="394.80" x2="225.50" y2="394.80" stroke="#cfcfcf" stroke-width="0.7"/>
<line x1="17.20" y1="437.60" x2="225.50" y2="437.60" stroke="#cfcfcf" stroke-width="0.7"/>
<path d="M17.20,416.20 L17.20,415.20 L17.70,415.32 L18.20,415.09 L18.70,415.07 L19.20,415.59 L19.50,414.70 L19.70,410.20 L20.20,402.09 L20.30,396.70 L20.70,412.69 L21.20,413.70 L21.70,414.05 L22.00,414.20 L22.20,414.32 L22.70,414.17 L23.20,414.12 L23.70,415.27 L24.20,414.22 L24.70,413.96 L25.20,414.48 L25.70,413.92 L26.20,414.21 L26.70,413.88 L27.00,413.70 L27.20,413.74 L27.70,413.54 L28.00,415.56 L28.20,413.40 L28.70,413.63 L29.00,414.20 L29.20,414.29 L29.70,414.35 L30.20,414.34 L30.70,416.06 L31.20,414.46 L31.70,414.34 L32.20,414.08 L32.70,414.76 L33.20,414.23 L33.70,414.03 L34.20,414.67 L34.70,414.11 L35.20,414.16 L35.70,413.90 L36.20,414.42 L36.70,414.30 L37.20,414.05 L37.70,415.14 L38.20,414.06 L38.70,413.98 L39.20,413.85 L39.70,413.97 L40.00,413.70 L40.20,413.64 L40.70,413.52 L41.20,414.08 L41.70,413.86 L42.20,413.11 L42.70,413.41 L43.20,414.85 L43.70,412.67 L44.20,412.95 L44.70,412.30 L45.00,412.20 L45.20,412.60 L45.70,413.46 L46.00,415.64 L46.20,413.86 L46.70,413.71 L47.20,413.93 L47.70,414.02 L48.20,415.91 L48.70,414.15 L49.20,414.13 L49.70,413.96 L50.20,414.53 L50.70,413.93 L51.20,414.07 L51.70,413.99 L52.20,415.74 L52.70,414.52 L53.20,413.78 L53.70,413.78 L54.20,414.18 L54.70,415.09 L55.20,413.70 L55.70,414.51 L56.20,413.73 L56.70,414.53 L57.20,413.93 L57.70,413.81 L58.20,414.10 L58.70,413.73 L59.20,414.09 L59.70,413.92 L60.00,413.70 L60.20,413.71 L60.70,413.83 L61.20,414.29 L61.70,413.83 L62.20,414.41 L62.70,413.95 L63.20,414.26 L63.70,414.69 L64.20,414.35 L64.70,413.98 L65.20,414.02 L65.70,414.29 L66.20,414.15 L66.70,414.14 L67.20,414.37 L67.70,414.70 L68.20,414.37 L68.70,414.18 L69.20,414.73 L69.70,414.71 L70.20,414.52 L70.70,414.39 L71.20,414.36 L71.70,414.40 L72.20,414.58 L72.70,414.54 L73.20,414.82 L73.70,414.46 L74.20,414.49 L74.70,415.93 L75.20,415.11 L75.70,414.58 L76.20,414.63 L76.70,414.63 L77.20,414.73 L77.70,415.12 L78.00,414.70 L78.20,414.71 L78.70,415.46 L79.20,414.75 L79.70,414.81 L80.20,414.70 L80.70,415.19 L81.00,414.70 L81.20,414.47 L81.70,413.29 L82.00,412.20 L82.20,412.43 L82.70,411.60 L83.20,411.14 L83.70,410.90 L84.00,410.20 L84.20,410.39 L84.70,409.98 L85.20,411.11 L85.70,409.30 L86.20,409.51 L86.70,409.37 L87.00,408.20 L87.20,408.21 L87.70,408.21 L88.20,409.33 L88.70,409.96 L89.00,408.20 L89.20,408.17 L89.70,405.42 L90.00,404.20 L90.20,407.57 L90.70,401.03 L91.20,399.50 L91.50,396.20 L91.70,398.11 L92.20,402.43 L92.40,404.20 L92.70,408.72 L93.00,407.20 L93.20,407.30 L93.70,407.28 L94.20,408.60 L94.70,407.21 L95.00,407.20 L95.20,405.97 L95.50,401.20 L95.70,401.93 L96.20,401.67 L96.70,402.86 L97.00,402.20 L97.20,402.49 L97.70,403.21 L98.20,404.11 L98.70,405.51 L99.00,404.20 L99.20,405.80 L99.70,406.97 L100.20,409.37 L100.70,409.89 L101.00,410.20 L101.20,410.90 L101.70,412.08 L102.20,415.73 L102.70,411.09 L103.20,410.74 L103.70,412.27 L104.20,411.80 L104.70,411.27 L105.20,412.10 L105.50,411.20 L105.70,412.54 L106.20,409.87 L106.50,409.20 L106.70,413.89 L107.20,411.99 L107.70,412.75 L108.00,414.73 L108.20,413.96 L108.70,413.62 L109.20,414.57 L109.70,414.50 L110.00,414.20 L110.20,414.34 L110.70,414.86 L111.20,414.65 L111.70,414.22 L112.20,414.21 L112.70,414.84 L113.20,414.45 L113.70,414.21 L114.20,414.24 L114.70,414.20 L115.20,415.54 L115.70,414.46 L116.20,414.23 L116.70,414.41 L117.20,414.44 L117.70,414.53 L118.20,414.66 L118.70,414.41 L119.20,414.71 L119.70,414.43 L120.00,414.20 L120.20,414.42 L120.70,413.75 L121.20,413.64 L121.70,413.16 L122.00,411.20 L122.20,411.05 L122.70,410.31 L123.20,409.20 L123.70,408.92 L124.20,408.02 L124.70,408.25 L125.00,406.20 L125.20,414.49 L125.70,408.06 L126.20,409.52 L126.70,410.73 L127.00,408.20 L127.20,410.16 L127.70,410.15 L128.20,411.87 L128.70,415.36 L129.00,413.20 L129.20,413.98 L129.70,413.78 L130.20,413.81 L130.70,413.82 L131.20,413.69 L131.70,413.44 L132.20,413.69 L132.70,413.91 L133.20,413.90 L133.70,413.68 L134.20,413.40 L134.70,414.10 L135.20,413.37 L135.70,413.60 L136.20,413.38 L136.70,413.93 L137.20,413.52 L137.70,413.41 L138.20,414.29 L138.70,413.59 L139.20,413.80 L139.70,413.50 L140.20,413.54 L140.70,414.14 L141.20,413.63 L141.70,414.02 L142.20,413.92 L142.70,414.15 L143.20,413.89 L143.70,413.85 L144.20,414.14 L144.70,413.68 L145.20,414.44 L145.70,415.02 L146.20,413.97 L146.70,413.80 L147.20,414.20 L147.70,414.00 L148.20,414.51 L148.70,414.42 L149.20,414.02 L149.50,413.70 L149.70,412.43 L150.20,409.47 L150.50,407.20 L150.70,409.97 L151.20,412.12 L151.50,414.20 L151.70,415.54 L152.20,414.55 L152.70,413.72 L153.20,414.14 L153.70,413.70 L154.00,413.20 L154.20,413.63 L154.70,413.06 L155.20,412.82 L155.70,412.48 L156.20,412.47 L156.70,412.01 L157.00,411.80 L157.20,413.17 L157.70,412.30 L158.20,413.56 L158.70,413.16 L159.20,414.19 L159.70,413.70 L160.20,413.68 L160.70,413.63 L161.20,415.62 L161.70,413.57 L162.20,414.18 L162.70,413.48 L163.20,415.72 L163.70,413.42 L164.20,413.37 L164.70,413.89 L165.20,414.02 L165.70,413.42 L166.20,414.20 L166.50,413.20 L166.70,413.97 L167.20,412.62 L167.70,412.41 L168.20,411.42 L168.70,411.20 L169.20,411.94 L169.70,410.81 L170.20,410.64 L170.30,409.20 L170.70,410.86 L171.20,409.65 L171.70,415.24 L172.20,407.09 L172.70,403.71 L173.20,401.80 L173.70,404.36 L174.20,405.77 L174.70,413.53 L175.10,408.20 L175.20,414.46 L175.70,410.75 L176.20,410.59 L176.50,411.20 L176.70,410.85 L177.20,409.50 L177.70,408.35 L178.20,408.76 L178.40,406.20 L178.70,408.46 L179.20,411.20 L179.40,409.20 L179.70,409.90 L180.20,410.89 L180.70,409.26 L181.20,409.87 L181.70,409.49 L182.20,409.20 L182.70,409.20 L183.20,409.59 L183.70,409.79 L184.20,410.29 L184.70,409.94 L185.20,410.29 L185.60,410.20 L185.70,411.60 L186.00,414.20 L186.20,414.60 L186.70,414.60 L187.20,413.74 L187.70,413.83 L188.20,413.94 L188.50,413.20 L188.70,414.05 L189.20,412.99 L189.70,413.75 L190.20,412.27 L190.70,412.65 L191.20,412.96 L191.70,411.66 L192.00,411.20 L192.20,412.08 L192.70,412.61 L193.00,413.20 L193.20,413.21 L193.70,413.96 L194.20,413.23 L194.70,413.20 L195.20,413.95 L195.70,413.28 L196.20,413.58 L196.70,414.04 L197.20,413.68 L197.70,414.14 L198.20,413.75 L198.70,414.25 L199.20,413.24 L199.70,413.82 L200.20,413.45 L200.70,414.02 L201.20,414.90 L201.70,413.42 L202.20,413.29 L202.70,413.20 L203.20,413.30 L203.70,413.79 L204.20,413.51 L204.70,413.52 L205.20,413.51 L205.70,414.15 L206.20,413.62 L206.70,413.30 L207.20,413.56 L207.70,414.20 L208.00,413.20 L208.20,413.12 L208.70,410.68 L209.00,409.20 L209.20,410.97 L209.70,413.26 L210.00,413.20 L210.20,413.71 L210.70,413.23 L211.20,412.17 L211.70,411.52 L212.00,415.56 L212.20,410.15 L212.70,408.12 L213.00,405.20 L213.20,407.12 L213.70,409.95 L214.20,411.20 L214.70,410.45 L215.20,410.17 L215.70,405.20 L216.20,411.41 L216.60,412.20 L216.70,412.52 L217.20,412.42 L217.70,413.17 L218.20,412.72 L218.30,412.20 L218.70,412.17 L219.20,413.20 L219.70,411.97 L220.20,411.20 L220.70,413.15 L221.00,414.20 L221.20,414.72 L221.70,414.52 L222.20,414.31 L222.70,414.26 L223.20,414.77 L223.70,414.71 L224.00,414.20 L224.20,414.43 L224.70,414.98 L224.70,416.20Z" fill="#1616cc"/>
<rect x="20.30" y="402.38" width="0.6" height="13.82" fill="#4848e8" opacity="0.75"/>
<rect x="20.70" y="414.18" width="0.6" height="2.02" fill="#4848e8" opacity="0.75"/>
<rect x="21.20" y="414.15" width="0.6" height="2.05" fill="#0c0c9a" opacity="0.75"/>
<rect x="22.00" y="414.84" width="0.6" height="1.36" fill="#4848e8" opacity="0.75"/>
<rect x="22.70" y="415.06" width="0.6" height="1.14" fill="#0c0c9a" opacity="0.75"/>
<rect x="24.20" y="414.57" width="0.6" height="1.63" fill="#0c0c9a" opacity="0.75"/>
<rect x="26.70" y="414.78" width="0.6" height="1.42" fill="#6a6af2" opacity="0.75"/>
<rect x="27.70" y="414.52" width="0.6" height="1.68" fill="#0c0c9a" opacity="0.75"/>
<rect x="28.20" y="413.65" width="0.6" height="2.55" fill="#0c0c9a" opacity="0.75"/>
<rect x="29.20" y="414.65" width="0.6" height="1.55" fill="#0c0c9a" opacity="0.75"/>
<rect x="29.70" y="415.21" width="0.6" height="0.99" fill="#0c0c9a" opacity="0.75"/>
<rect x="31.70" y="415.15" width="0.6" height="1.05" fill="#6a6af2" opacity="0.75"/>
<rect x="33.70" y="414.29" width="0.6" height="1.91" fill="#0c0c9a" opacity="0.75"/>
<rect x="34.20" y="414.76" width="0.6" height="1.44" fill="#4848e8" opacity="0.75"/>
<rect x="37.20" y="414.98" width="0.6" height="1.22" fill="#0c0c9a" opacity="0.75"/>
<rect x="39.20" y="414.97" width="0.6" height="1.23" fill="#4848e8" opacity="0.75"/>
<rect x="40.00" y="414.79" width="0.6" height="1.41" fill="#0c0c9a" opacity="0.75"/>
<rect x="42.20" y="414.18" width="0.6" height="2.02" fill="#6a6af2" opacity="0.75"/>
<rect x="42.70" y="414.77" width="0.6" height="1.43" fill="#4848e8" opacity="0.75"/>
<rect x="43.70" y="413.57" width="0.6" height="2.63" fill="#4848e8" opacity="0.75"/>
<rect x="44.70" y="413.51" width="0.6" height="2.69" fill="#6a6af2" opacity="0.75"/>
<rect x="45.00" y="412.92" width="0.6" height="3.28" fill="#0c0c9a" opacity="0.75"/>
<rect x="45.70" y="413.67" width="0.6" height="2.53" fill="#4848e8" opacity="0.75"/>
<rect x="46.20" y="414.56" width="0.6" height="1.64" fill="#4848e8" opacity="0.75"/>
<rect x="47.70" y="414.86" width="0.6" height="1.34" fill="#0c0c9a" opacity="0.75"/>
<rect x="50.20" y="414.94" width="0.6" height="1.26" fill="#0c0c9a" opacity="0.75"/>
<rect x="50.70" y="414.74" width="0.6" height="1.46" fill="#4848e8" opacity="0.75"/>
<rect x="51.20" y="415.11" width="0.6" height="1.09" fill="#6a6af2" opacity="0.75"/>
<rect x="53.20" y="414.92" width="0.6" height="1.28" fill="#0c0c9a" opacity="0.75"/>
<rect x="53.70" y="414.86" width="0.6" height="1.34" fill="#4848e8" opacity="0.75"/>
<rect x="54.20" y="415.14" width="0.6" height="1.06" fill="#0c0c9a" opacity="0.75"/>
<rect x="56.20" y="414.74" width="0.6" height="1.46" fill="#4848e8" opacity="0.75"/>
<rect x="57.20" y="414.18" width="0.6" height="2.02" fill="#6a6af2" opacity="0.75"/>
<rect x="58.70" y="414.22" width="0.6" height="1.98" fill="#6a6af2" opacity="0.75"/>
<rect x="59.20" y="414.66" width="0.6" height="1.54" fill="#4848e8" opacity="0.75"/>
<rect x="59.70" y="414.12" width="0.6" height="2.08" fill="#0c0c9a" opacity="0.75"/>
<rect x="60.70" y="414.54" width="0.6" height="1.66" fill="#0c0c9a" opacity="0.75"/>
<rect x="62.20" y="414.53" width="0.6" height="1.67" fill="#4848e8" opacity="0.75"/>
<rect x="63.70" y="415.02" width="0.6" height="1.18" fill="#0c0c9a" opacity="0.75"/>
<rect x="64.20" y="415.08" width="0.6" height="1.12" fill="#0c0c9a" opacity="0.75"/>
<rect x="65.20" y="414.32" width="0.6" height="1.88" fill="#6a6af2" opacity="0.75"/>
<rect x="66.70" y="414.64" width="0.6" height="1.56" fill="#0c0c9a" opacity="0.75"/>
<rect x="67.70" y="415.28" width="0.6" height="0.92" fill="#6a6af2" opacity="0.75"/>
<rect x="68.20" y="414.61" width="0.6" height="1.59" fill="#4848e8" opacity="0.75"/>
<rect x="68.70" y="414.52" width="0.6" height="1.68" fill="#6a6af2" opacity="0.75"/>
<rect x="70.20" y="414.80" width="0.6" height="1.40" fill="#6a6af2" opacity="0.75"/>
<rect x="70.70" y="414.73" width="0.6" height="1.47" fill="#4848e8" opacity="0.75"/>
<rect x="74.20" y="415.22" width="0.6" height="0.98" fill="#6a6af2" opacity="0.75"/>
<rect x="81.20" y="415.29" width="0.6" height="0.91" fill="#0c0c9a" opacity="0.75"/>
<rect x="83.20" y="412.51" width="0.6" height="3.69" fill="#0c0c9a" opacity="0.75"/>
<rect x="83.70" y="412.88" width="0.6" height="3.32" fill="#6a6af2" opacity="0.75"/>
<rect x="86.20" y="412.69" width="0.6" height="3.51" fill="#4848e8" opacity="0.75"/>
<rect x="87.20" y="408.70" width="0.6" height="7.50" fill="#4848e8" opacity="0.75"/>
<rect x="88.70" y="412.54" width="0.6" height="3.66" fill="#0c0c9a" opacity="0.75"/>
<rect x="91.20" y="407.31" width="0.6" height="8.89" fill="#6a6af2" opacity="0.75"/>
<rect x="91.70" y="405.85" width="0.6" height="10.35" fill="#6a6af2" opacity="0.75"/>
<rect x="92.70" y="409.41" width="0.6" height="6.79" fill="#4848e8" opacity="0.75"/>
<rect x="93.00" y="408.51" width="0.6" height="7.69" fill="#0c0c9a" opacity="0.75"/>
<rect x="93.70" y="411.33" width="0.6" height="4.87" fill="#6a6af2" opacity="0.75"/>
<rect x="94.70" y="407.68" width="0.6" height="8.52" fill="#6a6af2" opacity="0.75"/>
<rect x="95.00" y="410.23" width="0.6" height="5.97" fill="#4848e8" opacity="0.75"/>
<rect x="95.20" y="410.39" width="0.6" height="5.81" fill="#4848e8" opacity="0.75"/>
<rect x="95.50" y="403.58" width="0.6" height="12.62" fill="#4848e8" opacity="0.75"/>
<rect x="97.00" y="405.69" width="0.6" height="10.51" fill="#6a6af2" opacity="0.75"/>
<rect x="97.70" y="404.80" width="0.6" height="11.40" fill="#0c0c9a" opacity="0.75"/>
<rect x="99.20" y="408.88" width="0.6" height="7.32" fill="#0c0c9a" opacity="0.75"/>
<rect x="100.20" y="410.43" width="0.6" height="5.77" fill="#0c0c9a" opacity="0.75"/>
<rect x="100.70" y="410.80" width="0.6" height="5.40" fill="#4848e8" opacity="0.75"/>
<rect x="101.70" y="414.07" width="0.6" height="2.13" fill="#6a6af2" opacity="0.75"/>
<rect x="103.20" y="411.95" width="0.6" height="4.25" fill="#0c0c9a" opacity="0.75"/>
<rect x="104.20" y="412.39" width="0.6" height="3.81" fill="#0c0c9a" opacity="0.75"/>
<rect x="104.70" y="412.07" width="0.6" height="4.13" fill="#0c0c9a" opacity="0.75"/>
<rect x="106.50" y="411.93" width="0.6" height="4.27" fill="#6a6af2" opacity="0.75"/>
<rect x="109.20" y="415.04" width="0.6" height="1.16" fill="#0c0c9a" opacity="0.75"/>
<rect x="109.70" y="415.27" width="0.6" height="0.93" fill="#6a6af2" opacity="0.75"/>
<rect x="117.70" y="414.72" width="0.6" height="1.48" fill="#4848e8" opacity="0.75"/>
<rect x="118.20" y="414.78" width="0.6" height="1.42" fill="#6a6af2" opacity="0.75"/>
<rect x="118.70" y="415.24" width="0.6" height="0.96" fill="#0c0c9a" opacity="0.75"/>
<rect x="120.00" y="414.74" width="0.6" height="1.46" fill="#4848e8" opacity="0.75"/>
<rect x="124.20" y="410.17" width="0.6" height="6.03" fill="#6a6af2" opacity="0.75"/>
<rect x="125.70" y="410.31" width="0.6" height="5.89" fill="#6a6af2" opacity="0.75"/>
<rect x="126.20" y="410.50" width="0.6" height="5.70" fill="#0c0c9a" opacity="0.75"/>
<rect x="129.20" y="414.11" width="0.6" height="2.09" fill="#6a6af2" opacity="0.75"/>
<rect x="129.70" y="414.17" width="0.6" height="2.03" fill="#6a6af2" opacity="0.75"/>
<rect x="136.70" y="414.66" width="0.6" height="1.54" fill="#4848e8" opacity="0.75"/>
<rect x="138.70" y="413.93" width="0.6" height="2.27" fill="#4848e8" opacity="0.75"/>
<rect x="139.70" y="414.29" width="0.6" height="1.91" fill="#6a6af2" opacity="0.75"/>
<rect x="141.20" y="414.62" width="0.6" height="1.58" fill="#4848e8" opacity="0.75"/>
<rect x="142.20" y="414.41" width="0.6" height="1.79" fill="#4848e8" opacity="0.75"/>
<rect x="142.70" y="415.06" width="0.6" height="1.14" fill="#6a6af2" opacity="0.75"/>
<rect x="148.70" y="414.68" width="0.6" height="1.52" fill="#4848e8" opacity="0.75"/>
<rect x="149.50" y="414.74" width="0.6" height="1.46" fill="#4848e8" opacity="0.75"/>
<rect x="149.70" y="413.00" width="0.6" height="3.20" fill="#4848e8" opacity="0.75"/>
<rect x="150.20" y="411.55" width="0.6" height="4.65" fill="#6a6af2" opacity="0.75"/>
<rect x="152.70" y="414.41" width="0.6" height="1.79" fill="#6a6af2" opacity="0.75"/>
<rect x="153.70" y="413.88" width="0.6" height="2.32" fill="#6a6af2" opacity="0.75"/>
<rect x="154.00" y="414.00" width="0.6" height="2.20" fill="#0c0c9a" opacity="0.75"/>
<rect x="159.20" y="415.16" width="0.6" height="1.04" fill="#4848e8" opacity="0.75"/>
<rect x="160.20" y="414.09" width="0.6" height="2.11" fill="#4848e8" opacity="0.75"/>
<rect x="164.70" y="414.20" width="0.6" height="2.00" fill="#6a6af2" opacity="0.75"/>
<rect x="166.20" y="414.75" width="0.6" height="1.45" fill="#6a6af2" opacity="0.75"/>
<rect x="166.70" y="414.17" width="0.6" height="2.03" fill="#6a6af2" opacity="0.75"/>
<rect x="167.20" y="412.95" width="0.6" height="3.25" fill="#0c0c9a" opacity="0.75"/>
<rect x="169.20" y="413.26" width="0.6" height="2.94" fill="#4848e8" opacity="0.75"/>
<rect x="170.20" y="412.42" width="0.6" height="3.78" fill="#0c0c9a" opacity="0.75"/>
<rect x="170.30" y="411.51" width="0.6" height="4.69" fill="#6a6af2" opacity="0.75"/>
<rect x="176.50" y="413.45" width="0.6" height="2.75" fill="#4848e8" opacity="0.75"/>
<rect x="176.70" y="411.87" width="0.6" height="4.33" fill="#6a6af2" opacity="0.75"/>
<rect x="177.20" y="411.89" width="0.6" height="4.31" fill="#6a6af2" opacity="0.75"/>
<rect x="178.20" y="412.44" width="0.6" height="3.76" fill="#6a6af2" opacity="0.75"/>
<rect x="178.40" y="407.93" width="0.6" height="8.27" fill="#4848e8" opacity="0.75"/>
<rect x="181.70" y="410.26" width="0.6" height="5.94" fill="#4848e8" opacity="0.75"/>
<rect x="184.20" y="410.78" width="0.6" height="5.42" fill="#6a6af2" opacity="0.75"/>
<rect x="185.70" y="411.95" width="0.6" height="4.25" fill="#6a6af2" opacity="0.75"/>
<rect x="186.20" y="415.08" width="0.6" height="1.12" fill="#6a6af2" opacity="0.75"/>
<rect x="188.20" y="414.34" width="0.6" height="1.86" fill="#0c0c9a" opacity="0.75"/>
<rect x="188.50" y="413.58" width="0.6" height="2.62" fill="#6a6af2" opacity="0.75"/>
<rect x="189.20" y="414.22" width="0.6" height="1.98" fill="#6a6af2" opacity="0.75"/>
<rect x="190.20" y="414.00" width="0.6" height="2.20" fill="#4848e8" opacity="0.75"/>
<rect x="192.70" y="414.28" width="0.6" height="1.92" fill="#0c0c9a" opacity="0.75"/>
<rect x="193.00" y="414.55" width="0.6" height="1.65" fill="#6a6af2" opacity="0.75"/>
<rect x="193.20" y="413.40" width="0.6" height="2.80" fill="#0c0c9a" opacity="0.75"/>
<rect x="194.20" y="413.56" width="0.6" height="2.64" fill="#4848e8" opacity="0.75"/>
<rect x="196.20" y="414.25" width="0.6" height="1.95" fill="#0c0c9a" opacity="0.75"/>
<rect x="197.20" y="413.88" width="0.6" height="2.32" fill="#6a6af2" opacity="0.75"/>
<rect x="198.20" y="414.23" width="0.6" height="1.97" fill="#4848e8" opacity="0.75"/>
<rect x="198.70" y="414.62" width="0.6" height="1.58" fill="#0c0c9a" opacity="0.75"/>
<rect x="200.20" y="414.39" width="0.6" height="1.81" fill="#0c0c9a" opacity="0.75"/>
<rect x="202.70" y="414.53" width="0.6" height="1.67" fill="#6a6af2" opacity="0.75"/>
<rect x="205.20" y="413.86" width="0.6" height="2.34" fill="#4848e8" opacity="0.75"/>
<rect x="206.70" y="413.69" width="0.6" height="2.51" fill="#0c0c9a" opacity="0.75"/>
<rect x="208.70" y="411.87" width="0.6" height="4.33" fill="#0c0c9a" opacity="0.75"/>
<rect x="210.20" y="414.50" width="0.6" height="1.70" fill="#4848e8" opacity="0.75"/>
<rect x="211.20" y="413.95" width="0.6" height="2.25" fill="#6a6af2" opacity="0.75"/>
<rect x="212.20" y="410.86" width="0.6" height="5.34" fill="#4848e8" opacity="0.75"/>
<rect x="212.70" y="409.89" width="0.6" height="6.31" fill="#4848e8" opacity="0.75"/>
<rect x="213.20" y="409.43" width="0.6" height="6.77" fill="#4848e8" opacity="0.75"/>
<rect x="213.70" y="412.29" width="0.6" height="3.91" fill="#6a6af2" opacity="0.75"/>
<rect x="214.70" y="411.65" width="0.6" height="4.55" fill="#0c0c9a" opacity="0.75"/>
<rect x="215.20" y="411.31" width="0.6" height="4.89" fill="#4848e8" opacity="0.75"/>
<rect x="216.20" y="412.64" width="0.6" height="3.56" fill="#4848e8" opacity="0.75"/>
<rect x="216.70" y="413.30" width="0.6" height="2.90" fill="#0c0c9a" opacity="0.75"/>
<rect x="217.20" y="413.21" width="0.6" height="2.99" fill="#4848e8" opacity="0.75"/>
<rect x="217.70" y="414.05" width="0.6" height="2.15" fill="#6a6af2" opacity="0.75"/>
<rect x="218.70" y="413.96" width="0.6" height="2.24" fill="#0c0c9a" opacity="0.75"/>
<rect x="221.00" y="415.17" width="0.6" height="1.03" fill="#0c0c9a" opacity="0.75"/>
<path d="M17.20,416.20 L17.20,425.20 L17.70,426.38 L18.00,427.10 L18.20,426.25 L18.70,427.02 L19.20,427.68 L19.70,428.69 L20.00,429.60 L20.20,426.94 L20.70,429.02 L21.20,419.67 L21.70,429.30 L22.20,427.26 L22.70,428.67 L23.20,429.60 L23.70,429.54 L24.20,426.66 L24.70,429.50 L25.20,427.73 L25.70,427.18 L26.20,427.76 L26.70,426.76 L27.20,429.52 L27.50,429.60 L27.70,430.38 L28.00,433.90 L28.20,431.21 L28.70,430.86 L29.20,433.07 L29.70,430.60 L30.20,432.98 L30.70,433.49 L31.20,433.79 L31.70,433.62 L32.20,433.53 L32.50,433.90 L32.70,432.59 L33.20,431.62 L33.70,432.02 L33.75,432.10 L34.20,432.08 L34.70,430.26 L35.20,431.97 L35.70,432.09 L36.20,431.84 L36.70,429.42 L37.20,431.15 L37.70,431.89 L38.20,429.39 L38.70,419.59 L39.20,432.00 L39.70,432.08 L40.20,432.10 L40.70,432.10 L41.20,429.79 L41.25,432.10 L41.70,424.63 L42.20,419.94 L42.50,435.20 L42.70,435.15 L43.20,435.20 L43.70,432.75 L44.20,431.80 L44.70,432.09 L45.20,434.27 L45.70,433.37 L46.20,435.16 L46.25,435.20 L46.70,433.99 L47.20,434.56 L47.70,431.95 L48.20,434.60 L48.70,436.47 L48.75,417.52 L49.20,436.15 L49.70,434.25 L50.20,431.59 L50.70,431.29 L51.20,434.40 L51.25,435.20 L51.70,432.37 L52.20,434.55 L52.70,417.42 L53.20,433.75 L53.70,432.14 L54.20,433.98 L54.70,433.61 L55.20,432.58 L55.70,433.06 L56.20,433.05 L56.25,433.20 L56.70,432.50 L57.20,420.25 L57.70,432.17 L58.20,433.17 L58.70,432.70 L59.20,430.02 L59.70,432.89 L60.20,422.29 L60.70,433.16 L61.20,430.56 L61.70,433.20 L62.20,432.57 L62.70,433.04 L63.20,433.18 L63.70,432.68 L64.20,433.18 L64.70,433.06 L65.00,433.20 L65.20,431.32 L65.70,434.12 L66.00,434.60 L66.20,432.94 L66.70,422.58 L67.20,432.15 L67.70,433.60 L68.20,433.75 L68.70,434.31 L69.20,433.68 L69.70,431.98 L70.20,431.77 L70.70,434.38 L71.20,434.33 L71.70,432.73 L72.20,433.21 L72.70,434.56 L73.20,430.57 L73.70,417.83 L73.75,434.60 L74.20,432.77 L74.70,433.95 L75.20,432.37 L75.70,433.24 L76.20,433.79 L76.70,430.21 L77.20,433.49 L77.70,431.43 L78.20,430.21 L78.70,431.22 L79.20,429.26 L79.70,431.54 L80.20,421.41 L80.70,429.65 L81.20,431.35 L81.70,431.54 L81.75,432.10 L82.20,429.98 L82.70,428.82 L83.00,428.20 L83.20,427.22 L83.70,430.77 L84.20,433.09 L84.25,421.12 L84.70,433.08 L85.20,433.43 L85.70,435.20 L86.20,432.98 L86.70,431.77 L87.20,435.16 L87.70,432.74 L88.20,432.88 L88.70,435.05 L89.20,435.12 L89.25,435.20 L89.70,427.73 L90.00,424.20 L90.20,418.35 L90.70,422.97 L91.20,423.20 L91.70,423.40 L91.75,424.20 L92.00,427.70 L92.20,426.26 L92.70,426.28 L93.20,427.29 L93.70,426.13 L94.20,427.65 L94.70,427.33 L95.20,419.66 L95.50,427.70 L95.70,429.78 L96.00,435.20 L96.20,434.80 L96.70,434.22 L97.20,431.70 L97.70,432.36 L98.00,435.20 L98.20,432.62 L98.70,429.64 L99.00,430.80 L99.20,429.90 L99.70,428.76 L100.20,430.50 L100.70,430.13 L101.20,430.55 L101.70,430.76 L102.20,430.34 L102.70,430.47 L103.20,430.13 L103.70,430.17 L104.20,428.23 L104.70,430.17 L105.20,428.02 L105.70,430.77 L106.20,430.68 L106.70,430.35 L107.20,428.77 L107.70,428.70 L108.20,430.29 L108.70,430.42 L109.20,428.05 L109.70,429.27 L110.20,429.03 L110.50,430.80 L110.70,430.31 L111.00,434.60 L111.20,432.78 L111.70,433.97 L112.20,430.89 L112.70,433.68 L113.20,434.46 L113.70,420.02 L114.20,434.08 L114.70,431.44 L115.20,433.83 L115.70,434.37 L116.20,433.98 L116.70,432.95 L117.20,434.19 L117.70,434.56 L118.20,434.43 L118.70,433.88 L119.20,434.12 L119.25,434.60 L119.70,432.68 L120.00,418.03 L120.20,429.57 L120.70,429.98 L121.20,431.14 L121.70,431.70 L122.20,430.80 L122.70,428.62 L123.20,431.31 L123.70,431.75 L124.20,430.85 L124.70,431.09 L125.20,428.68 L125.70,431.38 L126.20,417.77 L126.70,428.64 L127.20,429.03 L127.70,429.17 L128.00,432.10 L128.20,432.32 L128.70,432.42 L129.00,433.20 L129.20,433.17 L129.70,423.93 L130.20,432.98 L130.70,432.03 L131.20,418.58 L131.70,430.04 L132.20,432.18 L132.70,430.33 L133.20,432.29 L133.70,433.15 L134.20,418.70 L134.70,432.66 L135.20,430.44 L135.70,431.27 L136.20,430.06 L136.70,433.16 L136.75,433.20 L137.20,431.27 L137.50,430.80 L137.70,430.29 L138.20,428.68 L138.70,430.08 L139.20,428.92 L139.70,430.63 L140.20,429.23 L140.70,430.80 L141.20,430.67 L141.70,429.72 L142.20,429.54 L142.70,429.21 L143.00,430.80 L143.20,428.66 L143.70,418.24 L144.20,431.04 L144.70,430.22 L145.20,428.28 L145.70,428.72 L146.20,431.26 L146.70,429.35 L147.20,431.52 L147.70,430.78 L148.20,431.41 L148.70,431.40 L149.00,432.20 L149.20,432.23 L149.70,433.08 L150.20,432.87 L150.70,433.62 L151.00,435.20 L151.20,433.19 L151.70,434.36 L152.20,434.70 L152.70,434.93 L153.20,434.25 L153.70,434.28 L154.20,434.80 L154.70,433.67 L155.20,434.99 L155.70,433.39 L156.20,433.25 L156.70,435.02 L157.20,424.59 L157.70,435.04 L158.20,434.77 L158.70,433.01 L159.20,434.39 L159.70,422.11 L160.20,435.13 L160.70,433.66 L161.20,435.18 L161.70,431.71 L162.00,435.20 L162.20,431.58 L162.70,434.37 L163.20,430.97 L163.70,432.12 L164.20,432.38 L164.70,432.36 L165.20,422.10 L165.70,432.66 L166.20,431.85 L166.70,428.78 L167.20,430.96 L167.70,431.25 L168.00,431.20 L168.20,431.17 L168.70,421.72 L169.20,430.67 L169.70,431.17 L170.20,430.31 L170.70,430.09 L171.20,429.42 L171.70,431.20 L172.20,431.14 L172.70,430.86 L173.20,429.95 L173.70,428.27 L174.20,430.17 L174.70,429.72 L175.20,431.14 L175.70,429.76 L176.20,428.26 L176.70,430.82 L177.20,429.99 L177.70,429.17 L178.20,428.24 L178.70,429.06 L179.20,430.34 L179.70,431.20 L180.20,421.49 L180.70,427.91 L181.20,428.75 L181.70,430.24 L182.20,430.57 L182.70,429.14 L183.20,431.19 L183.70,428.12 L184.20,429.70 L184.70,418.61 L185.20,429.15 L185.70,430.66 L186.20,431.16 L186.70,431.18 L187.20,419.69 L187.70,430.37 L188.20,420.44 L188.70,430.28 L189.20,428.44 L189.70,430.60 L190.20,430.74 L190.70,430.12 L191.20,430.56 L191.70,428.22 L192.20,429.82 L192.70,430.03 L193.20,421.71 L193.70,428.05 L194.20,430.13 L194.70,430.55 L195.20,430.61 L195.70,431.04 L196.20,428.21 L196.70,418.99 L197.20,428.87 L197.70,430.21 L198.20,429.65 L198.70,429.53 L199.20,428.83 L199.70,429.75 L200.20,430.26 L200.70,428.21 L201.20,430.62 L201.70,428.54 L202.20,429.79 L202.70,431.15 L203.20,429.91 L203.70,428.14 L204.20,430.70 L204.70,429.27 L205.20,430.77 L205.70,430.80 L206.20,429.74 L206.70,430.65 L207.20,427.98 L207.70,430.65 L208.20,430.13 L208.70,429.82 L209.20,428.55 L209.70,429.73 L210.00,431.20 L210.20,431.66 L210.70,432.47 L210.70,416.20Z" fill="#f00a0a"/>
<rect x="17.70" y="416.20" width="0.6" height="5.40" fill="#b00000" opacity="0.75"/>
<rect x="22.70" y="416.20" width="0.6" height="6.60" fill="#f89090" opacity="0.75"/>
<rect x="23.20" y="416.20" width="0.6" height="7.56" fill="#b00000" opacity="0.75"/>
<rect x="26.70" y="416.20" width="0.6" height="9.51" fill="#f89090" opacity="0.75"/>
<rect x="27.50" y="416.20" width="0.6" height="10.36" fill="#c80000" opacity="0.75"/>
<rect x="28.00" y="416.20" width="0.6" height="9.09" fill="#b00000" opacity="0.75"/>
<rect x="28.20" y="416.20" width="0.6" height="9.35" fill="#b00000" opacity="0.75"/>
<rect x="29.70" y="416.20" width="0.6" height="11.31" fill="#f89090" opacity="0.75"/>
<rect x="31.20" y="416.20" width="0.6" height="14.63" fill="#b00000" opacity="0.75"/>
<rect x="32.70" y="416.20" width="0.6" height="11.79" fill="#c80000" opacity="0.75"/>
<rect x="33.75" y="416.20" width="0.6" height="14.61" fill="#b00000" opacity="0.75"/>
<rect x="36.70" y="416.20" width="0.6" height="6.99" fill="#c80000" opacity="0.75"/>
<rect x="38.70" y="416.20" width="0.6" height="2.79" fill="#f89090" opacity="0.75"/>
<rect x="39.20" y="416.20" width="0.6" height="10.49" fill="#c80000" opacity="0.75"/>
<rect x="40.20" y="416.20" width="0.6" height="10.67" fill="#f89090" opacity="0.75"/>
<rect x="41.70" y="416.20" width="0.6" height="6.29" fill="#b00000" opacity="0.75"/>
<rect x="45.20" y="416.20" width="0.6" height="16.58" fill="#f89090" opacity="0.75"/>
<rect x="46.70" y="416.20" width="0.6" height="9.48" fill="#c80000" opacity="0.75"/>
<rect x="48.70" y="416.20" width="0.6" height="14.57" fill="#c80000" opacity="0.75"/>
<rect x="50.70" y="416.20" width="0.6" height="10.94" fill="#f89090" opacity="0.75"/>
<rect x="52.20" y="416.20" width="0.6" height="9.94" fill="#b00000" opacity="0.75"/>
<rect x="53.20" y="416.20" width="0.6" height="16.11" fill="#c80000" opacity="0.75"/>
<rect x="54.20" y="416.20" width="0.6" height="9.78" fill="#b00000" opacity="0.75"/>
<rect x="55.20" y="416.20" width="0.6" height="12.51" fill="#c80000" opacity="0.75"/>
<rect x="56.70" y="416.20" width="0.6" height="11.11" fill="#c80000" opacity="0.75"/>
<rect x="58.70" y="416.20" width="0.6" height="13.15" fill="#f89090" opacity="0.75"/>
<rect x="60.20" y="416.20" width="0.6" height="5.16" fill="#c80000" opacity="0.75"/>
<rect x="62.70" y="416.20" width="0.6" height="11.36" fill="#f89090" opacity="0.75"/>
<rect x="65.00" y="416.20" width="0.6" height="9.78" fill="#f89090" opacity="0.75"/>
<rect x="66.70" y="416.20" width="0.6" height="5.84" fill="#b00000" opacity="0.75"/>
<rect x="70.20" y="416.20" width="0.6" height="13.22" fill="#f89090" opacity="0.75"/>
<rect x="70.70" y="416.20" width="0.6" height="10.67" fill="#c80000" opacity="0.75"/>
<rect x="71.70" y="416.20" width="0.6" height="9.10" fill="#c80000" opacity="0.75"/>
<rect x="73.20" y="416.20" width="0.6" height="9.49" fill="#f89090" opacity="0.75"/>
<rect x="73.75" y="416.20" width="0.6" height="13.38" fill="#b00000" opacity="0.75"/>
<rect x="75.70" y="416.20" width="0.6" height="10.41" fill="#b00000" opacity="0.75"/>
<rect x="76.70" y="416.20" width="0.6" height="7.64" fill="#c80000" opacity="0.75"/>
<rect x="77.20" y="416.20" width="0.6" height="10.30" fill="#f89090" opacity="0.75"/>
<rect x="77.70" y="416.20" width="0.6" height="11.41" fill="#c80000" opacity="0.75"/>
<rect x="80.20" y="416.20" width="0.6" height="4.81" fill="#f89090" opacity="0.75"/>
<rect x="80.70" y="416.20" width="0.6" height="6.96" fill="#c80000" opacity="0.75"/>
<rect x="81.20" y="416.20" width="0.6" height="10.86" fill="#c80000" opacity="0.75"/>
<rect x="81.70" y="416.20" width="0.6" height="14.18" fill="#c80000" opacity="0.75"/>
<rect x="83.00" y="416.20" width="0.6" height="11.09" fill="#b00000" opacity="0.75"/>
<rect x="83.70" y="416.20" width="0.6" height="12.49" fill="#b00000" opacity="0.75"/>
<rect x="84.25" y="416.20" width="0.6" height="2.94" fill="#f89090" opacity="0.75"/>
<rect x="84.70" y="416.20" width="0.6" height="9.29" fill="#b00000" opacity="0.75"/>
<rect x="85.70" y="416.20" width="0.6" height="13.01" fill="#c80000" opacity="0.75"/>
<rect x="87.70" y="416.20" width="0.6" height="8.89" fill="#f89090" opacity="0.75"/>
<rect x="89.25" y="416.20" width="0.6" height="10.21" fill="#c80000" opacity="0.75"/>
<rect x="90.70" y="416.20" width="0.6" height="3.74" fill="#f89090" opacity="0.75"/>
<rect x="91.75" y="416.20" width="0.6" height="5.94" fill="#f89090" opacity="0.75"/>
<rect x="92.00" y="416.20" width="0.6" height="9.05" fill="#c80000" opacity="0.75"/>
<rect x="93.20" y="416.20" width="0.6" height="6.11" fill="#f89090" opacity="0.75"/>
<rect x="94.70" y="416.20" width="0.6" height="9.16" fill="#b00000" opacity="0.75"/>
<rect x="99.70" y="416.20" width="0.6" height="11.65" fill="#f89090" opacity="0.75"/>
<rect x="100.20" y="416.20" width="0.6" height="8.67" fill="#b00000" opacity="0.75"/>
<rect x="102.20" y="416.20" width="0.6" height="8.29" fill="#b00000" opacity="0.75"/>
<rect x="104.70" y="416.20" width="0.6" height="8.21" fill="#b00000" opacity="0.75"/>
<rect x="106.20" y="416.20" width="0.6" height="8.58" fill="#b00000" opacity="0.75"/>
<rect x="106.70" y="416.20" width="0.6" height="8.58" fill="#b00000" opacity="0.75"/>
<rect x="107.20" y="416.20" width="0.6" height="8.40" fill="#c80000" opacity="0.75"/>
<rect x="108.70" y="416.20" width="0.6" height="8.74" fill="#b00000" opacity="0.75"/>
<rect x="110.20" y="416.20" width="0.6" height="9.76" fill="#c80000" opacity="0.75"/>
<rect x="114.70" y="416.20" width="0.6" height="9.03" fill="#c80000" opacity="0.75"/>
<rect x="115.20" y="416.20" width="0.6" height="10.40" fill="#b00000" opacity="0.75"/>
<rect x="117.20" y="416.20" width="0.6" height="14.77" fill="#b00000" opacity="0.75"/>
<rect x="117.70" y="416.20" width="0.6" height="17.31" fill="#c80000" opacity="0.75"/>
<rect x="118.20" y="416.20" width="0.6" height="12.49" fill="#c80000" opacity="0.75"/>
<rect x="119.25" y="416.20" width="0.6" height="9.64" fill="#f89090" opacity="0.75"/>
<rect x="119.70" y="416.20" width="0.6" height="9.67" fill="#f89090" opacity="0.75"/>
<rect x="120.00" y="416.20" width="0.6" height="1.68" fill="#b00000" opacity="0.75"/>
<rect x="120.20" y="416.20" width="0.6" height="9.22" fill="#b00000" opacity="0.75"/>
<rect x="125.70" y="416.20" width="0.6" height="11.61" fill="#c80000" opacity="0.75"/>
<rect x="127.70" y="416.20" width="0.6" height="10.28" fill="#b00000" opacity="0.75"/>
<rect x="128.00" y="416.20" width="0.6" height="14.17" fill="#f89090" opacity="0.75"/>
<rect x="129.00" y="416.20" width="0.6" height="12.29" fill="#c80000" opacity="0.75"/>
<rect x="135.20" y="416.20" width="0.6" height="12.72" fill="#f89090" opacity="0.75"/>
<rect x="139.70" y="416.20" width="0.6" height="11.62" fill="#b00000" opacity="0.75"/>
<rect x="141.70" y="416.20" width="0.6" height="7.36" fill="#f89090" opacity="0.75"/>
<rect x="143.00" y="416.20" width="0.6" height="12.17" fill="#c80000" opacity="0.75"/>
<rect x="144.20" y="416.20" width="0.6" height="12.20" fill="#b00000" opacity="0.75"/>
<rect x="145.20" y="416.20" width="0.6" height="10.22" fill="#f89090" opacity="0.75"/>
<rect x="147.70" y="416.20" width="0.6" height="12.68" fill="#b00000" opacity="0.75"/>
<rect x="148.70" y="416.20" width="0.6" height="11.97" fill="#f89090" opacity="0.75"/>
<rect x="151.00" y="416.20" width="0.6" height="13.45" fill="#f89090" opacity="0.75"/>
<rect x="154.70" y="416.20" width="0.6" height="11.45" fill="#f89090" opacity="0.75"/>
<rect x="155.20" y="416.20" width="0.6" height="13.39" fill="#c80000" opacity="0.75"/>
<rect x="155.70" y="416.20" width="0.6" height="10.89" fill="#c80000" opacity="0.75"/>
<rect x="156.20" y="416.20" width="0.6" height="16.04" fill="#b00000" opacity="0.75"/>
<rect x="156.70" y="416.20" width="0.6" height="15.52" fill="#b00000" opacity="0.75"/>
<rect x="159.20" y="416.20" width="0.6" height="12.59" fill="#b00000" opacity="0.75"/>
<rect x="161.20" y="416.20" width="0.6" height="16.89" fill="#f89090" opacity="0.75"/>
<rect x="162.00" y="416.20" width="0.6" height="11.45" fill="#c80000" opacity="0.75"/>
<rect x="162.20" y="416.20" width="0.6" height="13.19" fill="#c80000" opacity="0.75"/>
<rect x="162.70" y="416.20" width="0.6" height="16.91" fill="#f89090" opacity="0.75"/>
<rect x="163.70" y="416.20" width="0.6" height="9.88" fill="#f89090" opacity="0.75"/>
<rect x="168.00" y="416.20" width="0.6" height="11.24" fill="#b00000" opacity="0.75"/>
<rect x="168.20" y="416.20" width="0.6" height="12.59" fill="#f89090" opacity="0.75"/>
<rect x="168.70" y="416.20" width="0.6" height="4.34" fill="#c80000" opacity="0.75"/>
<rect x="169.20" y="416.20" width="0.6" height="10.67" fill="#b00000" opacity="0.75"/>
<rect x="169.70" y="416.20" width="0.6" height="11.77" fill="#f89090" opacity="0.75"/>
<rect x="170.20" y="416.20" width="0.6" height="12.88" fill="#b00000" opacity="0.75"/>
<rect x="171.70" y="416.20" width="0.6" height="12.68" fill="#f89090" opacity="0.75"/>
<rect x="172.20" y="416.20" width="0.6" height="12.42" fill="#b00000" opacity="0.75"/>
<rect x="174.70" y="416.20" width="0.6" height="7.87" fill="#c80000" opacity="0.75"/>
<rect x="176.20" y="416.20" width="0.6" height="10.49" fill="#b00000" opacity="0.75"/>
<rect x="179.70" y="416.20" width="0.6" height="10.15" fill="#c80000" opacity="0.75"/>
<rect x="180.70" y="416.20" width="0.6" height="9.81" fill="#b00000" opacity="0.75"/>
<rect x="181.70" y="416.20" width="0.6" height="7.98" fill="#b00000" opacity="0.75"/>
<rect x="185.70" y="416.20" width="0.6" height="7.74" fill="#b00000" opacity="0.75"/>
<rect x="189.20" y="416.20" width="0.6" height="10.15" fill="#b00000" opacity="0.75"/>
<rect x="191.20" y="416.20" width="0.6" height="10.20" fill="#f89090" opacity="0.75"/>
<rect x="192.20" y="416.20" width="0.6" height="10.10" fill="#c80000" opacity="0.75"/>
<rect x="192.70" y="416.20" width="0.6" height="12.67" fill="#f89090" opacity="0.75"/>
<rect x="196.70" y="416.20" width="0.6" height="2.17" fill="#c80000" opacity="0.75"/>
<rect x="199.20" y="416.20" width="0.6" height="9.77" fill="#c80000" opacity="0.75"/>
<rect x="208.70" y="416.20" width="0.6" height="8.98" fill="#c80000" opacity="0.75"/>
<path d="M210.80,416.20 L210.80,432.81 L211.30,433.45 L211.80,417.29 L212.00,436.20 L212.30,435.57 L212.80,433.94 L213.30,433.60 L213.80,434.83 L214.30,429.10 L214.80,430.35 L215.00,434.20 L215.30,431.17 L215.80,432.59 L216.30,430.22 L216.80,426.15 L217.30,425.05 L217.80,425.42 L217.80,416.20Z" fill="#f06060"/>
<path d="M218.00,416.20 L218.00,418.94 L218.50,418.90 L219.00,422.81 L219.50,424.08 L220.00,425.49 L220.50,417.75 L221.00,422.06 L221.50,422.95 L222.00,425.73 L222.50,423.78 L223.00,422.00 L223.50,425.02 L224.00,422.84 L224.50,424.35 L225.00,424.20 L225.00,416.20Z" fill="#f8c8c8"/>
<rect x="33.10" y="417.00" width="0.8" height="21.40" fill="#fff" opacity="0.85"/>
<rect x="41.60" y="417.00" width="0.8" height="21.40" fill="#fff" opacity="0.85"/>
<rect x="48.10" y="417.00" width="0.8" height="21.40" fill="#fff" opacity="0.85"/>
<rect x="53.10" y="417.00" width="0.8" height="21.40" fill="#fff" opacity="0.85"/>
<rect x="56.25" y="417.00" width="0.8" height="21.40" fill="#fff" opacity="0.85"/>
<rect x="75.00" y="417.00" width="0.8" height="21.40" fill="#fff" opacity="0.85"/>
<rect x="82.40" y="417.00" width="0.8" height="21.40" fill="#fff" opacity="0.85"/>
<rect x="89.90" y="417.00" width="0.8" height="21.40" fill="#fff" opacity="0.85"/>
<rect x="94.20" y="417.00" width="0.8" height="21.40" fill="#fff" opacity="0.85"/>
<rect x="109.90" y="417.00" width="0.8" height="21.40" fill="#fff" opacity="0.85"/>
<rect x="119.20" y="417.00" width="0.8" height="21.40" fill="#fff" opacity="0.85"/>
<rect x="127.40" y="417.00" width="0.8" height="21.40" fill="#fff" opacity="0.85"/>
<rect x="133.00" y="417.00" width="0.8" height="21.40" fill="#fff" opacity="0.85"/>
<rect x="136.80" y="417.00" width="0.8" height="21.40" fill="#fff" opacity="0.85"/>
<rect x="150.00" y="417.00" width="0.8" height="21.40" fill="#fff" opacity="0.85"/>
<rect x="158.00" y="417.00" width="0.8" height="21.40" fill="#fff" opacity="0.85"/>
<rect x="163.00" y="417.00" width="0.8" height="21.40" fill="#fff" opacity="0.85"/>
<rect x="170.00" y="417.00" width="0.8" height="21.40" fill="#fff" opacity="0.85"/>
<rect x="175.00" y="417.00" width="0.8" height="21.40" fill="#fff" opacity="0.85"/>
<rect x="182.00" y="417.00" width="0.8" height="21.40" fill="#fff" opacity="0.85"/>
<rect x="190.00" y="417.00" width="0.8" height="21.40" fill="#fff" opacity="0.85"/>
<rect x="196.00" y="417.00" width="0.8" height="21.40" fill="#fff" opacity="0.85"/>
<rect x="203.00" y="417.00" width="0.8" height="21.40" fill="#fff" opacity="0.85"/>
<rect x="207.00" y="417.00" width="0.8" height="21.40" fill="#fff" opacity="0.85"/>
<line x1="17.20" y1="416.20" x2="230.40" y2="416.20" stroke="#1a1a3a" stroke-width="0.8"/>
<line x1="230.40" y1="396.94" x2="230.40" y2="435.46" stroke="#555" stroke-width="0.7"/>
<line x1="229.20" y1="396.94" x2="231.60" y2="396.94" stroke="#333" stroke-width="1.0"/>
<line x1="229.20" y1="435.46" x2="231.60" y2="435.46" stroke="#333" stroke-width="1.0"/>
<line x1="225.50" y1="394.80" x2="225.50" y2="437.60" stroke="#bbb" stroke-width="0.5"/>
<line x1="17.20" y1="456.22" x2="225.50" y2="456.22" stroke="#cfcfcf" stroke-width="0.7"/>
<line x1="17.20" y1="464.78" x2="225.50" y2="464.78" stroke="#cfcfcf" stroke-width="0.7"/>
<line x1="17.20" y1="451.94" x2="225.50" y2="451.94" stroke="#cfcfcf" stroke-width="0.7"/>
<line x1="17.20" y1="469.06" x2="225.50" y2="469.06" stroke="#cfcfcf" stroke-width="0.7"/>
<line x1="17.20" y1="447.66" x2="225.50" y2="447.66" stroke="#cfcfcf" stroke-width="0.7"/>
<line x1="17.20" y1="473.34" x2="225.50" y2="473.34" stroke="#cfcfcf" stroke-width="0.7"/>
<line x1="17.20" y1="443.38" x2="225.50" y2="443.38" stroke="#cfcfcf" stroke-width="0.7"/>
<line x1="17.20" y1="477.62" x2="225.50" y2="477.62" stroke="#cfcfcf" stroke-width="0.7"/>
<line x1="17.20" y1="439.10" x2="225.50" y2="439.10" stroke="#cfcfcf" stroke-width="0.7"/>
<line x1="17.20" y1="481.90" x2="225.50" y2="481.90" stroke="#cfcfcf" stroke-width="0.7"/>
<path d="M17.20,460.50 L17.20,459.00 L17.70,458.73 L18.20,458.96 L18.70,458.56 L19.20,458.26 L19.70,458.00 L20.00,457.50 L20.20,450.97 L20.30,444.50 L20.70,451.99 L21.00,459.46 L21.20,456.58 L21.70,457.45 L22.20,456.58 L22.70,455.93 L23.20,455.80 L23.70,457.31 L24.00,455.50 L24.20,456.61 L24.70,456.94 L25.20,456.59 L25.70,457.18 L26.20,455.55 L26.70,456.40 L27.20,455.99 L27.70,457.00 L28.20,456.71 L28.70,456.86 L29.00,455.50 L29.20,456.33 L29.70,452.92 L30.20,450.29 L30.50,448.50 L30.70,448.54 L31.20,448.00 L31.70,449.27 L32.00,446.50 L32.20,448.46 L32.70,447.75 L33.20,452.03 L33.70,449.07 L34.00,449.50 L34.20,449.34 L34.70,448.46 L35.20,448.03 L35.70,450.59 L36.00,446.50 L36.20,447.84 L36.70,453.02 L37.20,458.88 L37.50,454.50 L37.70,454.63 L38.20,454.90 L38.70,455.19 L39.20,456.64 L39.70,455.81 L40.20,458.29 L40.70,459.65 L41.00,456.50 L41.20,456.25 L41.70,455.57 L42.20,456.05 L42.50,454.50 L42.70,455.89 L43.20,454.23 L43.70,454.26 L44.20,452.59 L44.70,454.27 L45.20,452.50 L45.70,451.74 L46.00,450.50 L46.20,451.83 L46.70,450.68 L47.20,459.87 L47.70,451.01 L48.20,452.38 L48.70,454.33 L49.20,454.48 L49.70,452.05 L50.00,451.50 L50.20,453.78 L50.70,452.85 L51.20,460.04 L51.70,454.69 L52.20,456.14 L52.70,456.02 L53.00,456.50 L53.20,456.93 L53.70,456.83 L54.20,456.90 L54.70,458.13 L55.20,457.35 L55.70,459.73 L56.20,457.71 L56.70,457.57 L57.20,457.83 L57.70,458.63 L58.20,458.06 L58.70,459.65 L59.20,458.28 L59.70,458.93 L60.00,458.50 L60.20,458.62 L60.70,458.53 L61.20,458.50 L61.70,458.60 L62.20,458.50 L62.70,458.53 L63.20,458.61 L63.70,458.90 L64.20,458.51 L64.70,458.50 L65.20,458.79 L65.70,459.81 L66.20,458.92 L66.70,458.67 L67.20,458.65 L67.70,458.55 L68.20,458.66 L68.70,458.95 L69.20,458.99 L69.70,458.54 L70.20,458.55 L70.70,458.82 L71.20,458.74 L71.70,458.51 L72.20,459.20 L72.70,458.62 L73.20,458.51 L73.70,459.18 L74.20,458.51 L74.70,458.54 L75.20,458.82 L75.70,458.69 L76.20,458.70 L76.70,458.90 L77.20,458.69 L77.70,458.55 L78.20,458.65 L78.70,458.61 L79.20,458.93 L79.70,458.51 L80.20,458.50 L80.70,459.04 L81.20,458.68 L81.70,458.61 L82.00,458.50 L82.20,457.55 L82.70,454.54 L83.00,452.50 L83.20,454.18 L83.70,452.17 L84.20,451.38 L84.70,457.40 L85.20,449.69 L85.70,448.32 L86.00,445.50 L86.20,448.37 L86.70,450.05 L87.20,446.15 L87.70,449.26 L88.00,446.50 L88.20,446.09 L88.70,444.51 L89.20,444.06 L89.70,443.54 L90.00,440.50 L90.20,455.51 L90.70,449.10 L91.00,447.50 L91.20,448.98 L91.70,445.44 L92.20,443.30 L92.70,445.32 L93.00,440.50 L93.20,442.78 L93.70,448.13 L94.00,446.50 L94.20,447.02 L94.70,456.08 L95.20,450.27 L95.70,446.39 L96.00,444.50 L96.20,444.52 L96.70,444.10 L97.20,446.92 L97.50,440.50 L97.70,444.11 L98.20,445.87 L98.70,449.06 L99.00,446.50 L99.20,448.06 L99.70,450.16 L100.20,448.13 L100.70,449.10 L101.20,449.02 L101.70,449.25 L102.20,450.24 L102.70,450.57 L103.00,450.50 L103.20,452.12 L103.70,455.82 L104.00,455.50 L104.20,457.01 L104.70,455.52 L105.20,455.56 L105.70,455.74 L106.20,456.61 L106.70,456.64 L107.20,455.78 L107.70,455.70 L108.20,457.00 L108.70,456.33 L109.20,456.46 L109.70,456.82 L110.00,455.50 L110.20,455.36 L110.70,455.40 L111.20,454.07 L111.70,455.37 L112.00,452.50 L112.20,452.65 L112.70,458.87 L113.20,453.15 L113.70,454.99 L114.20,453.55 L114.70,453.32 L115.20,453.68 L115.70,454.43 L116.00,453.50 L116.20,453.76 L116.70,454.43 L117.20,455.28 L117.70,455.74 L118.20,456.23 L118.50,456.50 L118.70,457.20 L119.20,455.97 L119.70,455.86 L120.20,455.17 L120.70,456.18 L121.00,454.50 L121.20,454.70 L121.70,454.38 L122.20,454.61 L122.70,455.12 L123.20,453.94 L123.70,455.35 L124.00,452.50 L124.20,453.14 L124.70,453.13 L125.20,455.97 L125.70,456.01 L126.20,456.23 L126.70,455.08 L127.20,455.34 L127.70,455.99 L128.20,456.27 L128.50,456.50 L128.70,458.70 L129.20,456.73 L129.70,457.17 L130.20,457.20 L130.70,457.04 L131.20,457.90 L131.70,457.75 L132.20,457.34 L132.70,457.45 L133.00,457.50 L133.20,456.10 L133.70,453.00 L134.00,450.50 L134.20,453.45 L134.70,456.90 L135.00,457.50 L135.20,457.91 L135.70,457.65 L136.20,457.69 L136.70,457.67 L137.20,458.19 L137.70,457.73 L138.20,458.12 L138.70,457.56 L139.20,458.01 L139.70,457.50 L140.20,457.54 L140.70,457.85 L141.20,457.91 L141.70,458.02 L142.20,457.50 L142.70,458.21 L143.20,460.09 L143.70,457.51 L144.20,457.81 L144.70,458.46 L145.20,458.35 L145.70,457.59 L146.20,458.21 L146.70,457.58 L147.20,457.84 L147.70,457.68 L148.20,457.72 L148.70,457.52 L149.20,457.58 L149.70,457.55 L150.00,457.50 L150.20,457.55 L150.70,456.62 L151.20,456.67 L151.70,455.60 L152.20,454.82 L152.70,454.05 L153.00,453.50 L153.20,454.08 L153.70,453.87 L154.20,454.61 L154.70,453.96 L155.20,454.94 L155.70,455.09 L156.20,454.24 L156.70,457.73 L157.20,454.42 L157.70,454.66 L158.00,454.50 L158.20,455.19 L158.70,458.96 L159.20,456.33 L159.70,457.49 L160.00,457.50 L160.20,458.34 L160.70,457.60 L161.20,458.17 L161.70,457.18 L162.20,458.02 L162.70,457.46 L163.20,457.17 L163.70,456.95 L164.20,456.51 L164.70,456.97 L165.20,456.78 L165.70,456.37 L166.20,456.19 L166.70,456.06 L167.20,455.78 L167.70,456.73 L168.00,455.50 L168.20,454.61 L168.70,452.81 L169.20,450.14 L169.70,449.05 L170.00,446.50 L170.20,448.98 L170.70,445.80 L171.20,445.39 L171.70,445.37 L172.20,446.45 L172.70,448.99 L173.00,443.50 L173.20,446.28 L173.70,444.08 L174.20,446.77 L174.70,449.59 L175.20,445.60 L175.70,447.25 L176.00,445.50 L176.20,450.28 L176.70,449.17 L177.20,447.41 L177.70,446.35 L178.20,455.60 L178.70,451.62 L179.20,450.59 L179.70,448.69 L180.00,447.50 L180.20,450.70 L180.70,449.11 L181.20,453.60 L181.70,452.83 L182.20,459.22 L182.70,455.16 L183.20,455.14 L183.50,455.50 L183.70,455.51 L184.20,459.34 L184.70,455.94 L185.20,459.09 L185.70,455.99 L186.20,456.96 L186.70,455.82 L187.20,455.74 L187.70,456.07 L188.20,455.84 L188.70,457.08 L189.00,455.50 L189.20,455.24 L189.70,457.38 L190.00,450.50 L190.20,451.64 L190.70,451.18 L191.20,451.13 L191.70,450.67 L192.20,453.68 L192.70,458.64 L193.20,452.97 L193.70,451.55 L194.20,452.15 L194.70,452.27 L195.00,450.50 L195.20,451.94 L195.70,451.12 L196.20,453.18 L196.70,450.16 L197.20,452.37 L197.70,450.61 L198.20,448.64 L198.70,449.95 L199.20,452.05 L199.70,448.36 L200.00,447.50 L200.20,448.18 L200.70,448.32 L201.20,449.92 L201.70,448.90 L202.20,452.52 L202.70,449.27 L203.20,450.11 L203.70,450.67 L204.20,452.36 L204.70,451.11 L205.00,449.50 L205.20,449.35 L205.70,449.34 L206.20,450.60 L206.70,450.89 L207.20,447.33 L207.70,447.58 L208.00,446.50 L208.20,456.78 L208.70,457.95 L209.20,449.46 L209.70,453.02 L210.20,451.64 L210.70,451.17 L211.00,451.50 L211.20,452.46 L211.70,448.59 L212.00,443.50 L212.20,445.37 L212.70,447.49 L213.20,443.10 L213.70,446.76 L214.00,442.50 L214.20,443.45 L214.70,446.52 L215.20,446.23 L215.70,448.61 L216.00,448.50 L216.20,451.33 L216.70,453.94 L217.20,455.50 L217.50,455.50 L217.70,455.63 L218.20,456.93 L218.70,456.35 L219.20,458.78 L219.70,457.08 L220.20,457.55 L220.50,457.50 L220.70,458.25 L221.20,458.01 L221.70,458.04 L222.20,458.44 L222.70,458.94 L223.20,459.10 L223.70,458.92 L224.20,459.17 L224.70,459.37 L224.70,460.50Z" fill="#1616cc"/>
<rect x="17.70" y="459.56" width="0.6" height="0.94" fill="#6a6af2" opacity="0.75"/>
<rect x="18.20" y="459.44" width="0.6" height="1.06" fill="#4848e8" opacity="0.75"/>
<rect x="20.00" y="457.91" width="0.6" height="2.59" fill="#4848e8" opacity="0.75"/>
<rect x="20.20" y="455.46" width="0.6" height="5.04" fill="#0c0c9a" opacity="0.75"/>
<rect x="20.30" y="451.47" width="0.6" height="9.03" fill="#6a6af2" opacity="0.75"/>
<rect x="20.70" y="452.72" width="0.6" height="7.78" fill="#4848e8" opacity="0.75"/>
<rect x="22.70" y="457.42" width="0.6" height="3.08" fill="#6a6af2" opacity="0.75"/>
<rect x="23.70" y="458.03" width="0.6" height="2.47" fill="#4848e8" opacity="0.75"/>
<rect x="24.20" y="458.50" width="0.6" height="2.00" fill="#6a6af2" opacity="0.75"/>
<rect x="24.70" y="458.28" width="0.6" height="2.22" fill="#6a6af2" opacity="0.75"/>
<rect x="26.20" y="456.61" width="0.6" height="3.89" fill="#0c0c9a" opacity="0.75"/>
<rect x="27.70" y="457.59" width="0.6" height="2.91" fill="#6a6af2" opacity="0.75"/>
<rect x="28.20" y="457.15" width="0.6" height="3.35" fill="#4848e8" opacity="0.75"/>
<rect x="28.70" y="457.88" width="0.6" height="2.62" fill="#4848e8" opacity="0.75"/>
<rect x="29.70" y="453.54" width="0.6" height="6.96" fill="#6a6af2" opacity="0.75"/>
<rect x="32.00" y="453.09" width="0.6" height="7.41" fill="#4848e8" opacity="0.75"/>
<rect x="33.70" y="451.10" width="0.6" height="9.40" fill="#0c0c9a" opacity="0.75"/>
<rect x="34.00" y="453.20" width="0.6" height="7.30" fill="#4848e8" opacity="0.75"/>
<rect x="34.70" y="452.42" width="0.6" height="8.08" fill="#0c0c9a" opacity="0.75"/>
<rect x="36.20" y="451.05" width="0.6" height="9.45" fill="#6a6af2" opacity="0.75"/>
<rect x="39.70" y="456.20" width="0.6" height="4.30" fill="#0c0c9a" opacity="0.75"/>
<rect x="41.70" y="457.87" width="0.6" height="2.63" fill="#4848e8" opacity="0.75"/>
<rect x="43.20" y="456.00" width="0.6" height="4.50" fill="#4848e8" opacity="0.75"/>
<rect x="45.20" y="454.70" width="0.6" height="5.80" fill="#0c0c9a" opacity="0.75"/>
<rect x="46.70" y="455.18" width="0.6" height="5.32" fill="#6a6af2" opacity="0.75"/>
<rect x="47.70" y="451.79" width="0.6" height="8.71" fill="#4848e8" opacity="0.75"/>
<rect x="48.70" y="457.11" width="0.6" height="3.39" fill="#6a6af2" opacity="0.75"/>
<rect x="49.70" y="454.05" width="0.6" height="6.45" fill="#4848e8" opacity="0.75"/>
<rect x="51.70" y="456.54" width="0.6" height="3.96" fill="#4848e8" opacity="0.75"/>
<rect x="52.70" y="456.76" width="0.6" height="3.74" fill="#0c0c9a" opacity="0.75"/>
<rect x="54.70" y="458.49" width="0.6" height="2.01" fill="#4848e8" opacity="0.75"/>
<rect x="55.20" y="458.00" width="0.6" height="2.50" fill="#4848e8" opacity="0.75"/>
<rect x="58.20" y="459.22" width="0.6" height="1.28" fill="#0c0c9a" opacity="0.75"/>
<rect x="59.20" y="459.19" width="0.6" height="1.31" fill="#0c0c9a" opacity="0.75"/>
<rect x="60.70" y="459.15" width="0.6" height="1.35" fill="#6a6af2" opacity="0.75"/>
<rect x="61.20" y="458.67" width="0.6" height="1.83" fill="#6a6af2" opacity="0.75"/>
<rect x="64.70" y="458.81" width="0.6" height="1.69" fill="#0c0c9a" opacity="0.75"/>
<rect x="65.20" y="459.49" width="0.6" height="1.01" fill="#4848e8" opacity="0.75"/>
<rect x="66.70" y="459.49" width="0.6" height="1.01" fill="#4848e8" opacity="0.75"/>
<rect x="68.20" y="459.29" width="0.6" height="1.21" fill="#0c0c9a" opacity="0.75"/>
<rect x="69.20" y="459.40" width="0.6" height="1.10" fill="#6a6af2" opacity="0.75"/>
<rect x="69.70" y="459.06" width="0.6" height="1.44" fill="#0c0c9a" opacity="0.75"/>
<rect x="71.20" y="459.27" width="0.6" height="1.23" fill="#0c0c9a" opacity="0.75"/>
<rect x="71.70" y="459.41" width="0.6" height="1.09" fill="#4848e8" opacity="0.75"/>
<rect x="72.70" y="459.38" width="0.6" height="1.12" fill="#0c0c9a" opacity="0.75"/>
<rect x="73.20" y="459.01" width="0.6" height="1.49" fill="#4848e8" opacity="0.75"/>
<rect x="76.20" y="458.84" width="0.6" height="1.66" fill="#0c0c9a" opacity="0.75"/>
<rect x="76.70" y="459.67" width="0.6" height="0.83" fill="#4848e8" opacity="0.75"/>
<rect x="77.20" y="459.20" width="0.6" height="1.30" fill="#4848e8" opacity="0.75"/>
<rect x="77.70" y="458.69" width="0.6" height="1.81" fill="#4848e8" opacity="0.75"/>
<rect x="78.70" y="459.48" width="0.6" height="1.02" fill="#4848e8" opacity="0.75"/>
<rect x="79.20" y="459.05" width="0.6" height="1.45" fill="#0c0c9a" opacity="0.75"/>
<rect x="79.70" y="458.76" width="0.6" height="1.74" fill="#0c0c9a" opacity="0.75"/>
<rect x="80.20" y="459.31" width="0.6" height="1.19" fill="#0c0c9a" opacity="0.75"/>
<rect x="81.20" y="459.50" width="0.6" height="1.00" fill="#6a6af2" opacity="0.75"/>
<rect x="82.00" y="459.13" width="0.6" height="1.37" fill="#4848e8" opacity="0.75"/>
<rect x="83.20" y="457.11" width="0.6" height="3.39" fill="#0c0c9a" opacity="0.75"/>
<rect x="85.20" y="454.69" width="0.6" height="5.81" fill="#4848e8" opacity="0.75"/>
<rect x="86.70" y="454.72" width="0.6" height="5.78" fill="#0c0c9a" opacity="0.75"/>
<rect x="88.00" y="450.10" width="0.6" height="10.40" fill="#0c0c9a" opacity="0.75"/>
<rect x="88.20" y="449.16" width="0.6" height="11.34" fill="#4848e8" opacity="0.75"/>
<rect x="88.70" y="451.12" width="0.6" height="9.38" fill="#0c0c9a" opacity="0.75"/>
<rect x="89.20" y="448.70" width="0.6" height="11.80" fill="#6a6af2" opacity="0.75"/>
<rect x="89.70" y="449.79" width="0.6" height="10.71" fill="#4848e8" opacity="0.75"/>
<rect x="90.00" y="442.24" width="0.6" height="18.26" fill="#6a6af2" opacity="0.75"/>
<rect x="92.70" y="449.93" width="0.6" height="10.57" fill="#4848e8" opacity="0.75"/>
<rect x="94.00" y="447.51" width="0.6" height="12.99" fill="#0c0c9a" opacity="0.75"/>
<rect x="94.20" y="452.33" width="0.6" height="8.17" fill="#6a6af2" opacity="0.75"/>
<rect x="96.00" y="451.12" width="0.6" height="9.38" fill="#6a6af2" opacity="0.75"/>
<rect x="97.50" y="442.50" width="0.6" height="18.00" fill="#0c0c9a" opacity="0.75"/>
<rect x="98.20" y="451.63" width="0.6" height="8.87" fill="#4848e8" opacity="0.75"/>
<rect x="99.00" y="451.35" width="0.6" height="9.15" fill="#6a6af2" opacity="0.75"/>
<rect x="99.20" y="451.35" width="0.6" height="9.15" fill="#6a6af2" opacity="0.75"/>
<rect x="101.20" y="453.45" width="0.6" height="7.05" fill="#6a6af2" opacity="0.75"/>
<rect x="102.70" y="452.94" width="0.6" height="7.56" fill="#4848e8" opacity="0.75"/>
<rect x="103.20" y="452.57" width="0.6" height="7.93" fill="#4848e8" opacity="0.75"/>
<rect x="106.20" y="458.19" width="0.6" height="2.31" fill="#4848e8" opacity="0.75"/>
<rect x="106.70" y="458.23" width="0.6" height="2.27" fill="#6a6af2" opacity="0.75"/>
<rect x="107.20" y="457.48" width="0.6" height="3.02" fill="#4848e8" opacity="0.75"/>
<rect x="109.20" y="456.70" width="0.6" height="3.80" fill="#4848e8" opacity="0.75"/>
<rect x="109.70" y="457.98" width="0.6" height="2.52" fill="#4848e8" opacity="0.75"/>
<rect x="110.70" y="457.83" width="0.6" height="2.67" fill="#0c0c9a" opacity="0.75"/>
<rect x="111.20" y="456.73" width="0.6" height="3.77" fill="#0c0c9a" opacity="0.75"/>
<rect x="111.70" y="455.78" width="0.6" height="4.72" fill="#6a6af2" opacity="0.75"/>
<rect x="112.00" y="454.98" width="0.6" height="5.52" fill="#6a6af2" opacity="0.75"/>
<rect x="114.20" y="456.14" width="0.6" height="4.36" fill="#0c0c9a" opacity="0.75"/>
<rect x="116.00" y="454.52" width="0.6" height="5.98" fill="#4848e8" opacity="0.75"/>
<rect x="118.20" y="457.11" width="0.6" height="3.39" fill="#6a6af2" opacity="0.75"/>
<rect x="118.50" y="456.94" width="0.6" height="3.56" fill="#0c0c9a" opacity="0.75"/>
<rect x="119.70" y="457.15" width="0.6" height="3.35" fill="#4848e8" opacity="0.75"/>
<rect x="125.20" y="456.45" width="0.6" height="4.05" fill="#0c0c9a" opacity="0.75"/>
<rect x="128.70" y="459.59" width="0.6" height="0.91" fill="#4848e8" opacity="0.75"/>
<rect x="129.20" y="458.50" width="0.6" height="2.00" fill="#4848e8" opacity="0.75"/>
<rect x="130.20" y="457.72" width="0.6" height="2.78" fill="#0c0c9a" opacity="0.75"/>
<rect x="130.70" y="458.62" width="0.6" height="1.88" fill="#0c0c9a" opacity="0.75"/>
<rect x="131.20" y="458.73" width="0.6" height="1.77" fill="#0c0c9a" opacity="0.75"/>
<rect x="133.20" y="456.89" width="0.6" height="3.61" fill="#6a6af2" opacity="0.75"/>
<rect x="134.00" y="452.04" width="0.6" height="8.46" fill="#0c0c9a" opacity="0.75"/>
<rect x="135.70" y="458.02" width="0.6" height="2.48" fill="#6a6af2" opacity="0.75"/>
<rect x="136.20" y="457.93" width="0.6" height="2.57" fill="#6a6af2" opacity="0.75"/>
<rect x="139.70" y="458.38" width="0.6" height="2.12" fill="#0c0c9a" opacity="0.75"/>
<rect x="144.20" y="458.74" width="0.6" height="1.76" fill="#0c0c9a" opacity="0.75"/>
<rect x="144.70" y="459.05" width="0.6" height="1.45" fill="#4848e8" opacity="0.75"/>
<rect x="145.20" y="459.14" width="0.6" height="1.36" fill="#4848e8" opacity="0.75"/>
<rect x="145.70" y="457.76" width="0.6" height="2.74" fill="#6a6af2" opacity="0.75"/>
<rect x="146.20" y="458.61" width="0.6" height="1.89" fill="#6a6af2" opacity="0.75"/>
<rect x="148.70" y="458.43" width="0.6" height="2.07" fill="#6a6af2" opacity="0.75"/>
<rect x="149.70" y="458.77" width="0.6" height="1.73" fill="#4848e8" opacity="0.75"/>
<rect x="151.20" y="458.19" width="0.6" height="2.31" fill="#4848e8" opacity="0.75"/>
<rect x="151.70" y="456.30" width="0.6" height="4.20" fill="#4848e8" opacity="0.75"/>
<rect x="152.20" y="455.21" width="0.6" height="5.29" fill="#0c0c9a" opacity="0.75"/>
<rect x="153.00" y="456.16" width="0.6" height="4.34" fill="#0c0c9a" opacity="0.75"/>
<rect x="157.20" y="455.95" width="0.6" height="4.55" fill="#6a6af2" opacity="0.75"/>
<rect x="157.70" y="455.58" width="0.6" height="4.92" fill="#0c0c9a" opacity="0.75"/>
<rect x="158.00" y="455.78" width="0.6" height="4.72" fill="#4848e8" opacity="0.75"/>
<rect x="158.20" y="456.58" width="0.6" height="3.92" fill="#6a6af2" opacity="0.75"/>
<rect x="158.70" y="459.29" width="0.6" height="1.21" fill="#0c0c9a" opacity="0.75"/>
<rect x="159.20" y="456.69" width="0.6" height="3.81" fill="#6a6af2" opacity="0.75"/>
<rect x="160.20" y="458.68" width="0.6" height="1.82" fill="#0c0c9a" opacity="0.75"/>
<rect x="160.70" y="458.09" width="0.6" height="2.41" fill="#6a6af2" opacity="0.75"/>
<rect x="161.20" y="458.65" width="0.6" height="1.85" fill="#0c0c9a" opacity="0.75"/>
<rect x="162.20" y="459.05" width="0.6" height="1.45" fill="#4848e8" opacity="0.75"/>
<rect x="163.70" y="457.41" width="0.6" height="3.09" fill="#6a6af2" opacity="0.75"/>
<rect x="167.20" y="457.31" width="0.6" height="3.19" fill="#4848e8" opacity="0.75"/>
<rect x="168.00" y="456.31" width="0.6" height="4.19" fill="#6a6af2" opacity="0.75"/>
<rect x="168.70" y="456.13" width="0.6" height="4.37" fill="#6a6af2" opacity="0.75"/>
<rect x="170.00" y="451.45" width="0.6" height="9.05" fill="#0c0c9a" opacity="0.75"/>
<rect x="170.70" y="451.12" width="0.6" height="9.38" fill="#6a6af2" opacity="0.75"/>
<rect x="171.20" y="452.34" width="0.6" height="8.16" fill="#4848e8" opacity="0.75"/>
<rect x="172.20" y="447.28" width="0.6" height="13.22" fill="#4848e8" opacity="0.75"/>
<rect x="173.00" y="446.39" width="0.6" height="14.11" fill="#6a6af2" opacity="0.75"/>
<rect x="173.70" y="448.43" width="0.6" height="12.07" fill="#0c0c9a" opacity="0.75"/>
<rect x="174.20" y="450.49" width="0.6" height="10.01" fill="#0c0c9a" opacity="0.75"/>
<rect x="175.20" y="449.65" width="0.6" height="10.85" fill="#4848e8" opacity="0.75"/>
<rect x="175.70" y="448.37" width="0.6" height="12.13" fill="#0c0c9a" opacity="0.75"/>
<rect x="179.20" y="452.80" width="0.6" height="7.70" fill="#4848e8" opacity="0.75"/>
<rect x="179.70" y="452.77" width="0.6" height="7.73" fill="#4848e8" opacity="0.75"/>
<rect x="180.00" y="451.63" width="0.6" height="8.87" fill="#0c0c9a" opacity="0.75"/>
<rect x="190.00" y="453.90" width="0.6" height="6.60" fill="#4848e8" opacity="0.75"/>
<rect x="193.70" y="453.03" width="0.6" height="7.47" fill="#0c0c9a" opacity="0.75"/>
<rect x="195.00" y="451.28" width="0.6" height="9.22" fill="#4848e8" opacity="0.75"/>
<rect x="197.70" y="451.16" width="0.6" height="9.34" fill="#4848e8" opacity="0.75"/>
<rect x="198.20" y="452.81" width="0.6" height="7.69" fill="#4848e8" opacity="0.75"/>
<rect x="199.20" y="453.77" width="0.6" height="6.73" fill="#4848e8" opacity="0.75"/>
<rect x="200.00" y="451.43" width="0.6" height="9.07" fill="#6a6af2" opacity="0.75"/>
<rect x="200.20" y="449.22" width="0.6" height="11.28" fill="#6a6af2" opacity="0.75"/>
<rect x="201.20" y="453.95" width="0.6" height="6.55" fill="#4848e8" opacity="0.75"/>
<rect x="202.70" y="453.50" width="0.6" height="7.00" fill="#4848e8" opacity="0.75"/>
<rect x="203.20" y="450.81" width="0.6" height="9.69" fill="#6a6af2" opacity="0.75"/>
<rect x="203.70" y="453.83" width="0.6" height="6.67" fill="#0c0c9a" opacity="0.75"/>
<rect x="204.20" y="454.10" width="0.6" height="6.40" fill="#6a6af2" opacity="0.75"/>
<rect x="205.20" y="450.97" width="0.6" height="9.53" fill="#4848e8" opacity="0.75"/>
<rect x="205.70" y="451.89" width="0.6" height="8.61" fill="#4848e8" opacity="0.75"/>
<rect x="206.20" y="454.11" width="0.6" height="6.39" fill="#0c0c9a" opacity="0.75"/>
<rect x="207.70" y="452.06" width="0.6" height="8.44" fill="#0c0c9a" opacity="0.75"/>
<rect x="209.20" y="452.03" width="0.6" height="8.47" fill="#6a6af2" opacity="0.75"/>
<rect x="210.20" y="452.15" width="0.6" height="8.35" fill="#0c0c9a" opacity="0.75"/>
<rect x="210.70" y="455.33" width="0.6" height="5.17" fill="#4848e8" opacity="0.75"/>
<rect x="211.00" y="455.31" width="0.6" height="5.19" fill="#0c0c9a" opacity="0.75"/>
<rect x="211.20" y="454.15" width="0.6" height="6.35" fill="#0c0c9a" opacity="0.75"/>
<rect x="211.70" y="454.29" width="0.6" height="6.21" fill="#6a6af2" opacity="0.75"/>
<rect x="212.00" y="448.66" width="0.6" height="11.84" fill="#4848e8" opacity="0.75"/>
<rect x="212.70" y="452.31" width="0.6" height="8.19" fill="#6a6af2" opacity="0.75"/>
<rect x="216.20" y="454.03" width="0.6" height="6.47" fill="#4848e8" opacity="0.75"/>
<rect x="218.20" y="457.32" width="0.6" height="3.18" fill="#0c0c9a" opacity="0.75"/>
<rect x="218.70" y="457.30" width="0.6" height="3.20" fill="#4848e8" opacity="0.75"/>
<rect x="219.20" y="459.10" width="0.6" height="1.40" fill="#4848e8" opacity="0.75"/>
<rect x="220.20" y="458.52" width="0.6" height="1.98" fill="#6a6af2" opacity="0.75"/>
<rect x="222.70" y="459.05" width="0.6" height="1.45" fill="#0c0c9a" opacity="0.75"/>
<path d="M17.20,460.50 L17.20,466.50 L17.70,468.14 L18.00,461.00 L18.20,468.13 L18.70,469.46 L19.20,469.18 L19.70,469.21 L20.20,469.67 L20.70,468.23 L21.20,468.69 L21.70,469.86 L22.20,469.20 L22.70,469.97 L23.20,469.55 L23.70,468.44 L24.20,468.32 L24.70,468.81 L25.20,468.35 L25.70,470.25 L26.20,470.22 L26.70,469.96 L27.20,470.22 L27.70,470.14 L28.00,470.50 L28.20,468.87 L28.70,469.17 L29.20,469.28 L29.70,472.13 L30.20,470.20 L30.70,472.30 L31.00,473.50 L31.20,472.25 L31.70,472.32 L32.20,469.13 L32.70,469.23 L33.20,469.79 L33.70,467.89 L34.00,468.50 L34.20,468.46 L34.70,468.19 L35.20,466.65 L35.70,466.52 L36.20,468.12 L36.70,468.05 L37.20,467.69 L37.70,463.75 L38.20,467.64 L38.70,466.44 L39.20,467.30 L39.70,466.91 L40.00,467.50 L40.20,466.41 L40.70,468.33 L41.20,469.39 L41.70,468.26 L42.20,463.03 L42.70,464.26 L43.00,464.49 L43.20,471.93 L43.70,472.17 L44.20,461.43 L44.70,471.29 L45.20,472.33 L45.70,471.57 L46.20,472.15 L46.70,472.14 L47.20,472.26 L47.70,464.17 L48.20,471.07 L48.70,472.37 L49.20,472.35 L49.70,472.00 L50.20,472.47 L50.70,472.21 L51.20,471.99 L51.70,472.42 L52.20,471.38 L52.70,471.96 L53.20,472.46 L53.70,472.40 L54.20,470.64 L54.70,472.30 L55.00,472.50 L55.20,472.03 L55.70,471.73 L56.20,471.36 L56.70,470.73 L57.20,470.36 L57.70,465.17 L58.20,468.33 L58.70,469.16 L59.20,467.51 L59.70,467.73 L60.00,468.50 L60.20,468.35 L60.70,463.02 L61.20,468.36 L61.70,468.50 L62.20,467.65 L62.70,467.09 L63.20,463.58 L63.70,468.45 L64.20,467.73 L64.70,468.20 L65.20,467.84 L65.70,468.39 L66.20,468.10 L66.70,468.28 L67.20,468.00 L67.70,468.45 L68.20,467.00 L68.70,463.16 L69.20,461.88 L69.70,468.37 L70.20,468.19 L70.70,461.10 L71.20,468.47 L71.70,468.49 L72.20,467.22 L72.70,468.06 L73.20,468.33 L73.70,467.76 L74.20,468.27 L74.70,468.31 L75.20,467.96 L75.70,468.25 L76.20,468.44 L76.70,467.86 L77.20,468.25 L77.70,467.82 L78.20,468.26 L78.70,467.63 L79.20,467.65 L79.70,468.39 L80.20,467.65 L80.70,468.18 L81.20,467.14 L81.70,468.25 L82.00,468.50 L82.20,467.98 L82.70,466.89 L83.20,466.37 L83.70,466.57 L84.20,466.41 L84.70,461.18 L85.20,461.01 L85.70,465.71 L86.00,462.64 L86.20,465.48 L86.70,465.00 L87.20,464.50 L87.70,462.48 L88.20,465.21 L88.70,465.49 L89.20,461.48 L89.70,465.15 L90.00,465.50 L90.20,465.23 L90.70,464.26 L91.20,464.19 L91.70,463.71 L92.00,463.50 L92.20,462.91 L92.70,463.28 L93.20,463.45 L93.70,463.58 L94.20,463.87 L94.70,463.52 L95.20,464.29 L95.70,463.70 L96.00,464.50 L96.20,464.97 L96.70,466.20 L97.20,467.35 L97.70,467.88 L98.00,469.50 L98.20,469.18 L98.70,468.88 L99.20,462.92 L99.70,469.35 L100.20,469.42 L100.70,468.51 L101.20,467.76 L101.70,469.07 L102.20,468.42 L102.70,469.25 L103.20,468.86 L103.70,469.64 L104.20,468.09 L104.70,469.95 L105.20,469.01 L105.70,468.19 L106.20,470.06 L106.70,470.08 L107.20,469.20 L107.70,468.56 L108.20,468.73 L108.70,470.00 L109.20,470.42 L109.70,468.95 L110.00,470.50 L110.20,462.57 L110.70,471.09 L111.20,472.19 L111.70,470.53 L112.00,473.50 L112.20,473.09 L112.70,472.77 L113.20,470.16 L113.70,469.60 L114.20,469.88 L114.70,470.60 L115.00,470.50 L115.20,470.33 L115.70,468.41 L116.20,469.76 L116.70,469.80 L117.20,469.17 L117.70,469.54 L118.20,469.29 L118.70,470.06 L119.20,469.17 L119.70,468.21 L120.20,469.75 L120.70,469.19 L121.20,469.01 L121.70,469.63 L122.20,469.77 L122.70,468.57 L123.20,468.58 L123.70,469.49 L124.20,463.02 L124.70,469.41 L125.00,469.50 L125.20,469.18 L125.70,468.32 L126.20,468.08 L126.70,469.36 L127.20,469.47 L127.70,468.45 L128.20,469.43 L128.70,468.41 L129.20,468.39 L129.70,469.46 L130.20,469.43 L130.70,468.86 L131.20,469.38 L131.70,469.50 L132.20,467.93 L132.70,469.21 L133.20,468.83 L133.70,467.61 L134.20,469.32 L134.70,469.04 L135.20,464.07 L135.70,468.63 L136.20,468.96 L136.70,469.43 L137.20,469.50 L137.70,468.67 L138.20,468.87 L138.70,467.92 L139.20,468.26 L139.70,469.49 L140.20,469.39 L140.70,468.93 L141.20,469.29 L141.70,468.54 L142.20,468.04 L142.70,467.80 L143.20,468.42 L143.70,468.21 L144.20,468.03 L144.70,468.37 L145.20,461.27 L145.70,469.42 L146.20,469.01 L146.70,468.93 L147.20,468.67 L147.70,469.07 L148.00,469.50 L148.20,468.14 L148.70,470.25 L149.20,470.63 L149.70,462.16 L150.00,472.50 L150.20,471.94 L150.70,472.38 L151.20,472.07 L151.70,472.50 L152.20,472.43 L152.70,463.52 L153.20,472.06 L153.70,472.49 L154.20,466.31 L154.70,472.37 L155.20,471.91 L155.70,471.48 L156.20,465.03 L156.70,472.30 L157.20,471.93 L157.70,472.26 L158.20,472.31 L158.70,471.46 L159.20,472.48 L159.70,470.02 L160.00,461.59 L160.20,461.39 L160.70,471.12 L161.20,471.92 L161.70,471.25 L162.20,469.56 L162.70,471.42 L163.20,470.35 L163.70,471.00 L164.20,469.18 L164.70,470.28 L165.00,470.50 L165.20,470.43 L165.70,469.31 L166.20,469.83 L166.70,470.21 L167.20,470.38 L167.70,469.99 L168.20,470.44 L168.70,469.69 L169.20,470.17 L169.70,470.45 L170.20,470.50 L170.70,469.23 L171.20,470.48 L171.70,468.93 L172.20,468.80 L172.70,470.05 L173.20,469.32 L173.70,470.20 L174.20,470.15 L174.70,470.48 L175.20,470.47 L175.70,469.57 L176.20,470.49 L176.70,469.59 L177.20,470.50 L177.70,468.44 L178.20,469.80 L178.70,469.16 L179.20,469.13 L179.70,470.42 L180.20,470.49 L180.70,465.35 L181.20,470.41 L181.70,470.48 L182.20,470.39 L182.70,469.67 L183.20,469.22 L183.70,470.24 L184.20,470.06 L184.70,468.96 L185.20,469.04 L185.70,469.86 L186.20,469.33 L186.70,470.24 L187.20,470.49 L187.70,469.31 L188.20,469.58 L188.70,470.40 L189.20,468.32 L189.70,470.09 L190.00,470.50 L190.20,468.76 L190.70,469.40 L191.20,470.78 L191.70,471.46 L192.20,470.29 L192.70,470.68 L193.00,473.50 L193.20,470.66 L193.70,473.26 L194.20,473.40 L194.70,472.01 L195.20,472.73 L195.70,473.50 L196.20,473.28 L196.70,473.16 L197.20,471.90 L197.70,473.47 L198.20,473.02 L198.70,473.43 L199.20,472.10 L199.70,470.76 L200.20,473.10 L200.70,473.22 L201.20,472.71 L201.70,473.13 L202.20,473.27 L202.70,471.25 L203.20,473.25 L203.70,461.92 L204.20,472.69 L204.70,462.34 L205.20,471.80 L205.70,470.76 L206.20,462.23 L206.70,473.50 L207.20,464.34 L207.70,473.47 L208.20,473.33 L208.70,473.00 L209.20,473.49 L209.70,472.37 L210.00,473.50 L210.20,473.42 L210.70,472.16 L211.20,473.33 L211.70,473.42 L212.00,465.25 L212.20,471.80 L212.70,472.94 L213.20,470.55 L213.70,471.30 L214.20,470.91 L214.70,470.82 L214.70,460.50Z" fill="#f00a0a"/>
<rect x="17.20" y="460.50" width="0.6" height="5.57" fill="#f89090" opacity="0.75"/>
<rect x="17.70" y="460.50" width="0.6" height="6.33" fill="#f89090" opacity="0.75"/>
<rect x="19.70" y="460.50" width="0.6" height="5.39" fill="#f89090" opacity="0.75"/>
<rect x="21.20" y="460.50" width="0.6" height="5.24" fill="#b00000" opacity="0.75"/>
<rect x="22.20" y="460.50" width="0.6" height="4.90" fill="#b00000" opacity="0.75"/>
<rect x="25.70" y="460.50" width="0.6" height="5.58" fill="#f89090" opacity="0.75"/>
<rect x="26.70" y="460.50" width="0.6" height="7.29" fill="#b00000" opacity="0.75"/>
<rect x="27.20" y="460.50" width="0.6" height="5.57" fill="#c80000" opacity="0.75"/>
<rect x="27.70" y="460.50" width="0.6" height="8.79" fill="#b00000" opacity="0.75"/>
<rect x="28.00" y="460.50" width="0.6" height="8.60" fill="#f89090" opacity="0.75"/>
<rect x="30.20" y="460.50" width="0.6" height="7.98" fill="#b00000" opacity="0.75"/>
<rect x="31.20" y="460.50" width="0.6" height="7.67" fill="#c80000" opacity="0.75"/>
<rect x="34.00" y="460.50" width="0.6" height="7.21" fill="#b00000" opacity="0.75"/>
<rect x="34.70" y="460.50" width="0.6" height="6.32" fill="#c80000" opacity="0.75"/>
<rect x="37.20" y="460.50" width="0.6" height="5.49" fill="#c80000" opacity="0.75"/>
<rect x="38.20" y="460.50" width="0.6" height="5.84" fill="#f89090" opacity="0.75"/>
<rect x="38.70" y="460.50" width="0.6" height="5.06" fill="#b00000" opacity="0.75"/>
<rect x="40.20" y="460.50" width="0.6" height="4.89" fill="#c80000" opacity="0.75"/>
<rect x="43.00" y="460.50" width="0.6" height="2.37" fill="#c80000" opacity="0.75"/>
<rect x="48.20" y="460.50" width="0.6" height="9.44" fill="#f89090" opacity="0.75"/>
<rect x="48.70" y="460.50" width="0.6" height="10.92" fill="#b00000" opacity="0.75"/>
<rect x="49.20" y="460.50" width="0.6" height="6.67" fill="#b00000" opacity="0.75"/>
<rect x="50.20" y="460.50" width="0.6" height="9.69" fill="#b00000" opacity="0.75"/>
<rect x="51.20" y="460.50" width="0.6" height="8.20" fill="#f89090" opacity="0.75"/>
<rect x="52.70" y="460.50" width="0.6" height="10.15" fill="#c80000" opacity="0.75"/>
<rect x="54.70" y="460.50" width="0.6" height="7.33" fill="#c80000" opacity="0.75"/>
<rect x="56.20" y="460.50" width="0.6" height="10.31" fill="#b00000" opacity="0.75"/>
<rect x="57.20" y="460.50" width="0.6" height="8.47" fill="#f89090" opacity="0.75"/>
<rect x="57.70" y="460.50" width="0.6" height="4.42" fill="#b00000" opacity="0.75"/>
<rect x="58.70" y="460.50" width="0.6" height="6.88" fill="#b00000" opacity="0.75"/>
<rect x="59.20" y="460.50" width="0.6" height="5.53" fill="#c80000" opacity="0.75"/>
<rect x="62.70" y="460.50" width="0.6" height="3.36" fill="#b00000" opacity="0.75"/>
<rect x="64.70" y="460.50" width="0.6" height="3.86" fill="#c80000" opacity="0.75"/>
<rect x="66.70" y="460.50" width="0.6" height="6.44" fill="#f89090" opacity="0.75"/>
<rect x="67.20" y="460.50" width="0.6" height="5.78" fill="#b00000" opacity="0.75"/>
<rect x="68.70" y="460.50" width="0.6" height="2.09" fill="#f89090" opacity="0.75"/>
<rect x="69.70" y="460.50" width="0.6" height="6.97" fill="#c80000" opacity="0.75"/>
<rect x="71.70" y="460.50" width="0.6" height="6.08" fill="#b00000" opacity="0.75"/>
<rect x="72.20" y="460.50" width="0.6" height="5.79" fill="#f89090" opacity="0.75"/>
<rect x="74.20" y="460.50" width="0.6" height="5.34" fill="#f89090" opacity="0.75"/>
<rect x="76.20" y="460.50" width="0.6" height="4.31" fill="#c80000" opacity="0.75"/>
<rect x="77.70" y="460.50" width="0.6" height="5.58" fill="#c80000" opacity="0.75"/>
<rect x="78.20" y="460.50" width="0.6" height="6.45" fill="#f89090" opacity="0.75"/>
<rect x="79.70" y="460.50" width="0.6" height="6.94" fill="#f89090" opacity="0.75"/>
<rect x="80.20" y="460.50" width="0.6" height="6.52" fill="#f89090" opacity="0.75"/>
<rect x="80.70" y="460.50" width="0.6" height="6.50" fill="#c80000" opacity="0.75"/>
<rect x="81.70" y="460.50" width="0.6" height="4.66" fill="#b00000" opacity="0.75"/>
<rect x="82.00" y="460.50" width="0.6" height="4.45" fill="#b00000" opacity="0.75"/>
<rect x="82.70" y="460.50" width="0.6" height="4.20" fill="#f89090" opacity="0.75"/>
<rect x="86.20" y="460.50" width="0.6" height="3.67" fill="#c80000" opacity="0.75"/>
<rect x="88.20" y="460.50" width="0.6" height="3.86" fill="#c80000" opacity="0.75"/>
<rect x="90.00" y="460.50" width="0.6" height="4.48" fill="#f89090" opacity="0.75"/>
<rect x="90.20" y="460.50" width="0.6" height="2.59" fill="#f89090" opacity="0.75"/>
<rect x="92.70" y="460.50" width="0.6" height="2.35" fill="#c80000" opacity="0.75"/>
<rect x="94.70" y="460.50" width="0.6" height="2.33" fill="#f89090" opacity="0.75"/>
<rect x="95.70" y="460.50" width="0.6" height="2.24" fill="#b00000" opacity="0.75"/>
<rect x="96.20" y="460.50" width="0.6" height="2.56" fill="#c80000" opacity="0.75"/>
<rect x="97.70" y="460.50" width="0.6" height="5.16" fill="#c80000" opacity="0.75"/>
<rect x="98.20" y="460.50" width="0.6" height="6.00" fill="#b00000" opacity="0.75"/>
<rect x="99.20" y="460.50" width="0.6" height="1.43" fill="#b00000" opacity="0.75"/>
<rect x="99.70" y="460.50" width="0.6" height="6.02" fill="#f89090" opacity="0.75"/>
<rect x="102.20" y="460.50" width="0.6" height="4.59" fill="#c80000" opacity="0.75"/>
<rect x="103.20" y="460.50" width="0.6" height="4.63" fill="#f89090" opacity="0.75"/>
<rect x="104.70" y="460.50" width="0.6" height="6.93" fill="#c80000" opacity="0.75"/>
<rect x="105.70" y="460.50" width="0.6" height="3.98" fill="#f89090" opacity="0.75"/>
<rect x="108.70" y="460.50" width="0.6" height="6.71" fill="#c80000" opacity="0.75"/>
<rect x="110.70" y="460.50" width="0.6" height="8.81" fill="#b00000" opacity="0.75"/>
<rect x="112.20" y="460.50" width="0.6" height="10.51" fill="#f89090" opacity="0.75"/>
<rect x="113.20" y="460.50" width="0.6" height="5.18" fill="#b00000" opacity="0.75"/>
<rect x="115.00" y="460.50" width="0.6" height="6.83" fill="#f89090" opacity="0.75"/>
<rect x="115.20" y="460.50" width="0.6" height="7.02" fill="#f89090" opacity="0.75"/>
<rect x="120.20" y="460.50" width="0.6" height="8.55" fill="#f89090" opacity="0.75"/>
<rect x="122.20" y="460.50" width="0.6" height="7.25" fill="#f89090" opacity="0.75"/>
<rect x="123.70" y="460.50" width="0.6" height="6.73" fill="#c80000" opacity="0.75"/>
<rect x="124.70" y="460.50" width="0.6" height="6.98" fill="#c80000" opacity="0.75"/>
<rect x="125.20" y="460.50" width="0.6" height="6.73" fill="#f89090" opacity="0.75"/>
<rect x="126.20" y="460.50" width="0.6" height="4.95" fill="#b00000" opacity="0.75"/>
<rect x="129.20" y="460.50" width="0.6" height="5.49" fill="#c80000" opacity="0.75"/>
<rect x="129.70" y="460.50" width="0.6" height="7.49" fill="#c80000" opacity="0.75"/>
<rect x="131.70" y="460.50" width="0.6" height="4.54" fill="#f89090" opacity="0.75"/>
<rect x="135.70" y="460.50" width="0.6" height="4.82" fill="#b00000" opacity="0.75"/>
<rect x="137.20" y="460.50" width="0.6" height="8.09" fill="#f89090" opacity="0.75"/>
<rect x="139.70" y="460.50" width="0.6" height="7.85" fill="#b00000" opacity="0.75"/>
<rect x="141.20" y="460.50" width="0.6" height="5.92" fill="#f89090" opacity="0.75"/>
<rect x="144.20" y="460.50" width="0.6" height="6.30" fill="#c80000" opacity="0.75"/>
<rect x="144.70" y="460.50" width="0.6" height="5.30" fill="#f89090" opacity="0.75"/>
<rect x="145.70" y="460.50" width="0.6" height="4.76" fill="#b00000" opacity="0.75"/>
<rect x="146.70" y="460.50" width="0.6" height="7.02" fill="#c80000" opacity="0.75"/>
<rect x="150.00" y="460.50" width="0.6" height="11.32" fill="#b00000" opacity="0.75"/>
<rect x="150.70" y="460.50" width="0.6" height="6.12" fill="#c80000" opacity="0.75"/>
<rect x="153.20" y="460.50" width="0.6" height="10.89" fill="#b00000" opacity="0.75"/>
<rect x="155.20" y="460.50" width="0.6" height="6.33" fill="#f89090" opacity="0.75"/>
<rect x="157.20" y="460.50" width="0.6" height="9.35" fill="#b00000" opacity="0.75"/>
<rect x="166.70" y="460.50" width="0.6" height="6.26" fill="#c80000" opacity="0.75"/>
<rect x="167.70" y="460.50" width="0.6" height="6.07" fill="#c80000" opacity="0.75"/>
<rect x="169.20" y="460.50" width="0.6" height="6.30" fill="#b00000" opacity="0.75"/>
<rect x="172.20" y="460.50" width="0.6" height="6.82" fill="#b00000" opacity="0.75"/>
<rect x="172.70" y="460.50" width="0.6" height="6.07" fill="#f89090" opacity="0.75"/>
<rect x="177.20" y="460.50" width="0.6" height="8.25" fill="#f89090" opacity="0.75"/>
<rect x="177.70" y="460.50" width="0.6" height="7.53" fill="#c80000" opacity="0.75"/>
<rect x="179.70" y="460.50" width="0.6" height="6.86" fill="#f89090" opacity="0.75"/>
<rect x="181.20" y="460.50" width="0.6" height="5.32" fill="#b00000" opacity="0.75"/>
<rect x="181.70" y="460.50" width="0.6" height="5.27" fill="#b00000" opacity="0.75"/>
<rect x="188.20" y="460.50" width="0.6" height="8.25" fill="#c80000" opacity="0.75"/>
<rect x="188.70" y="460.50" width="0.6" height="6.97" fill="#c80000" opacity="0.75"/>
<rect x="189.20" y="460.50" width="0.6" height="3.97" fill="#f89090" opacity="0.75"/>
<rect x="189.70" y="460.50" width="0.6" height="8.80" fill="#c80000" opacity="0.75"/>
<rect x="191.20" y="460.50" width="0.6" height="8.82" fill="#f89090" opacity="0.75"/>
<rect x="192.70" y="460.50" width="0.6" height="6.65" fill="#c80000" opacity="0.75"/>
<rect x="197.70" y="460.50" width="0.6" height="9.40" fill="#c80000" opacity="0.75"/>
<rect x="198.20" y="460.50" width="0.6" height="8.83" fill="#c80000" opacity="0.75"/>
<rect x="201.70" y="460.50" width="0.6" height="7.37" fill="#f89090" opacity="0.75"/>
<rect x="202.70" y="460.50" width="0.6" height="6.16" fill="#f89090" opacity="0.75"/>
<rect x="205.20" y="460.50" width="0.6" height="8.24" fill="#c80000" opacity="0.75"/>
<rect x="206.70" y="460.50" width="0.6" height="10.65" fill="#c80000" opacity="0.75"/>
<rect x="209.20" y="460.50" width="0.6" height="12.20" fill="#c80000" opacity="0.75"/>
<rect x="210.20" y="460.50" width="0.6" height="8.80" fill="#f89090" opacity="0.75"/>
<rect x="212.70" y="460.50" width="0.6" height="10.36" fill="#f89090" opacity="0.75"/>
<rect x="213.70" y="460.50" width="0.6" height="8.54" fill="#c80000" opacity="0.75"/>
<path d="M215.00,460.50 L215.00,462.78 L215.50,462.72 L216.00,466.65 L216.50,467.32 L217.00,468.06 L217.50,461.70 L218.00,465.63 L218.50,466.01 L219.00,467.48 L219.50,466.17 L220.00,465.00 L220.50,466.50 L220.50,460.50Z" fill="#f06060"/>
<path d="M220.50,460.50 L220.50,466.50 L221.00,464.22 L221.50,464.05 L222.00,464.83 L222.50,462.60 L223.00,461.34 L223.50,463.09 L224.00,460.81 L224.50,461.99 L225.00,460.91 L225.00,460.50Z" fill="#f8c8c8"/>
<rect x="40.50" y="461.30" width="0.8" height="21.40" fill="#fff" opacity="0.85"/>
<rect x="60.00" y="461.30" width="0.8" height="21.40" fill="#fff" opacity="0.85"/>
<rect x="78.00" y="461.30" width="0.8" height="21.40" fill="#fff" opacity="0.85"/>
<rect x="100.00" y="461.30" width="0.8" height="21.40" fill="#fff" opacity="0.85"/>
<rect x="120.00" y="461.30" width="0.8" height="21.40" fill="#fff" opacity="0.85"/>
<rect x="134.00" y="461.30" width="0.8" height="21.40" fill="#fff" opacity="0.85"/>
<rect x="150.00" y="461.30" width="0.8" height="21.40" fill="#fff" opacity="0.85"/>
<rect x="163.00" y="461.30" width="0.8" height="21.40" fill="#fff" opacity="0.85"/>
<rect x="171.00" y="461.30" width="0.8" height="21.40" fill="#fff" opacity="0.85"/>
<rect x="178.00" y="461.30" width="0.8" height="21.40" fill="#fff" opacity="0.85"/>
<rect x="186.00" y="461.30" width="0.8" height="21.40" fill="#fff" opacity="0.85"/>
<rect x="197.00" y="461.30" width="0.8" height="21.40" fill="#fff" opacity="0.85"/>
<rect x="206.00" y="461.30" width="0.8" height="21.40" fill="#fff" opacity="0.85"/>
<line x1="17.20" y1="460.50" x2="230.40" y2="460.50" stroke="#1a1a3a" stroke-width="0.8"/>
<line x1="230.40" y1="441.24" x2="230.40" y2="479.76" stroke="#555" stroke-width="0.7"/>
<line x1="229.20" y1="441.24" x2="231.60" y2="441.24" stroke="#333" stroke-width="1.0"/>
<line x1="229.20" y1="479.76" x2="231.60" y2="479.76" stroke="#333" stroke-width="1.0"/>
<line x1="225.50" y1="439.10" x2="225.50" y2="481.90" stroke="#bbb" stroke-width="0.5"/>
<line x1="17.20" y1="500.52" x2="225.50" y2="500.52" stroke="#cfcfcf" stroke-width="0.7"/>
<line x1="17.20" y1="509.08" x2="225.50" y2="509.08" stroke="#cfcfcf" stroke-width="0.7"/>
<line x1="17.20" y1="496.24" x2="225.50" y2="496.24" stroke="#cfcfcf" stroke-width="0.7"/>
<line x1="17.20" y1="513.36" x2="225.50" y2="513.36" stroke="#cfcfcf" stroke-width="0.7"/>
<line x1="17.20" y1="491.96" x2="225.50" y2="491.96" stroke="#cfcfcf" stroke-width="0.7"/>
<line x1="17.20" y1="517.64" x2="225.50" y2="517.64" stroke="#cfcfcf" stroke-width="0.7"/>
<line x1="17.20" y1="487.68" x2="225.50" y2="487.68" stroke="#cfcfcf" stroke-width="0.7"/>
<line x1="17.20" y1="521.92" x2="225.50" y2="521.92" stroke="#cfcfcf" stroke-width="0.7"/>
<line x1="17.20" y1="483.40" x2="225.50" y2="483.40" stroke="#cfcfcf" stroke-width="0.7"/>
<line x1="17.20" y1="526.20" x2="225.50" y2="526.20" stroke="#cfcfcf" stroke-width="0.7"/>
<path d="M17.20,504.80 L17.20,503.30 L17.70,503.29 L18.20,504.71 L18.70,503.47 L19.20,502.98 L19.70,503.00 L20.00,502.80 L20.20,493.56 L20.30,488.80 L20.70,497.88 L21.00,501.80 L21.20,502.17 L21.70,501.80 L22.20,502.03 L22.70,502.61 L23.20,502.69 L23.70,502.47 L24.20,502.72 L24.70,501.81 L25.20,501.85 L25.70,502.00 L26.20,501.90 L26.70,501.96 L27.20,502.16 L27.70,502.66 L28.20,502.71 L28.70,502.83 L29.20,501.83 L29.70,502.78 L30.20,502.14 L30.70,501.85 L31.20,502.15 L31.70,501.80 L32.20,503.57 L32.70,501.98 L33.20,501.89 L33.70,503.82 L34.20,501.80 L34.70,501.92 L35.20,502.81 L35.70,502.85 L36.20,501.81 L36.70,501.80 L37.20,501.97 L37.70,503.48 L38.20,501.90 L38.70,502.64 L39.20,502.02 L39.70,502.24 L40.20,502.13 L40.70,502.73 L41.20,502.00 L41.70,501.86 L42.20,502.80 L42.70,504.09 L43.20,503.82 L43.70,503.80 L44.20,502.03 L44.70,501.93 L45.20,504.57 L45.70,502.28 L46.20,501.87 L46.70,502.17 L47.20,501.94 L47.70,501.94 L48.00,501.80 L48.20,503.84 L48.70,501.96 L49.20,501.01 L49.70,500.67 L50.20,500.53 L50.70,499.89 L51.20,499.72 L51.70,499.54 L52.20,498.86 L52.70,499.38 L53.20,498.56 L53.70,497.76 L54.20,497.47 L54.70,498.93 L55.00,496.80 L55.20,497.80 L55.70,496.55 L56.20,496.02 L56.70,495.56 L57.20,495.48 L57.70,495.05 L58.20,499.68 L58.70,496.61 L59.20,493.90 L59.70,496.33 L60.20,494.69 L60.70,493.81 L61.20,491.77 L61.70,500.43 L62.20,490.91 L62.70,490.07 L63.00,489.80 L63.20,494.04 L63.70,499.06 L64.20,490.12 L64.70,492.31 L65.20,490.99 L65.70,492.10 L66.20,490.58 L66.70,491.48 L67.20,491.02 L67.70,491.90 L68.20,490.69 L68.70,494.83 L69.20,500.10 L69.70,502.38 L70.00,490.80 L70.20,491.68 L70.70,503.75 L71.20,490.88 L71.70,490.82 L72.20,500.94 L72.70,491.29 L73.20,491.40 L73.70,492.49 L74.20,490.98 L74.70,490.88 L75.20,493.31 L75.70,490.83 L76.20,491.48 L76.70,493.80 L77.20,493.95 L77.70,491.71 L78.20,492.01 L78.70,491.67 L79.20,491.84 L79.70,492.21 L80.20,490.83 L80.70,491.69 L81.20,495.10 L81.70,494.75 L82.20,491.14 L82.70,490.87 L83.20,492.95 L83.70,493.88 L84.20,493.44 L84.70,490.85 L85.00,490.80 L85.20,503.47 L85.70,488.76 L86.00,497.51 L86.20,487.89 L86.70,490.50 L87.20,493.20 L87.70,498.08 L88.20,489.36 L88.70,487.87 L89.20,501.47 L89.70,489.69 L90.20,488.15 L90.70,488.17 L91.20,491.18 L91.70,488.60 L92.20,488.53 L92.70,487.84 L93.20,493.43 L93.70,491.12 L94.20,490.64 L94.70,490.50 L95.00,487.80 L95.20,492.16 L95.70,485.76 L96.00,484.80 L96.20,486.17 L96.70,485.04 L97.20,485.08 L97.70,485.49 L98.20,488.14 L98.70,485.41 L99.20,486.00 L99.70,487.19 L100.20,499.48 L100.70,485.83 L101.20,485.71 L101.70,489.00 L102.20,491.68 L102.70,487.31 L103.20,489.68 L103.70,486.97 L104.20,488.44 L104.70,485.92 L105.20,491.25 L105.70,485.17 L106.20,488.41 L106.70,491.23 L107.20,485.21 L107.70,485.27 L108.20,488.28 L108.70,490.47 L109.20,490.04 L109.70,486.05 L110.20,496.29 L110.70,485.40 L111.20,487.16 L111.70,484.80 L112.20,486.13 L112.70,485.11 L113.20,491.19 L113.70,501.33 L114.20,495.82 L114.70,495.33 L115.20,485.78 L115.70,488.81 L116.20,488.00 L116.70,489.35 L117.20,488.78 L117.70,487.97 L118.20,484.89 L118.70,485.67 L119.20,488.02 L119.70,485.03 L120.20,487.59 L120.70,490.34 L121.20,484.91 L121.70,484.94 L122.20,488.43 L122.70,486.96 L123.20,486.27 L123.70,497.36 L124.20,488.78 L124.70,488.63 L125.00,484.80 L125.20,499.38 L125.70,486.77 L126.20,488.26 L126.70,489.55 L127.20,492.89 L127.70,502.41 L128.20,499.67 L128.70,495.29 L129.00,493.80 L129.20,495.93 L129.70,495.96 L130.20,493.88 L130.70,493.94 L131.20,495.04 L131.70,494.04 L132.20,493.80 L132.70,496.86 L133.20,494.37 L133.70,495.11 L134.20,497.47 L134.70,494.15 L135.20,494.70 L135.70,500.44 L136.20,495.49 L136.70,494.86 L137.20,493.94 L137.70,493.81 L138.20,495.41 L138.70,495.03 L139.20,496.86 L139.70,496.22 L140.00,493.80 L140.20,501.55 L140.70,496.88 L141.20,496.28 L141.70,493.02 L142.00,492.80 L142.20,495.12 L142.70,493.97 L143.20,497.28 L143.70,495.19 L144.20,504.12 L144.70,495.52 L145.20,496.08 L145.70,497.92 L146.20,497.49 L146.70,497.74 L147.20,499.36 L147.70,498.57 L148.20,500.05 L148.70,499.76 L149.00,499.80 L149.20,499.90 L149.70,501.15 L150.20,500.73 L150.70,500.71 L151.00,500.80 L151.20,504.30 L151.70,504.56 L152.20,501.08 L152.70,503.87 L153.20,502.86 L153.70,503.75 L154.20,500.84 L154.70,500.97 L155.20,500.80 L155.70,500.91 L156.20,501.10 L156.70,500.93 L157.20,500.90 L157.70,501.35 L158.20,500.81 L158.70,502.12 L159.20,504.44 L159.70,504.50 L160.20,501.40 L160.70,500.86 L161.20,501.12 L161.70,501.98 L162.20,500.80 L162.70,501.32 L163.20,500.81 L163.70,503.90 L164.20,500.96 L164.70,502.01 L165.20,501.57 L165.70,501.78 L166.20,501.99 L166.70,501.04 L167.20,501.65 L167.70,500.90 L168.20,501.53 L168.70,501.51 L169.20,501.13 L169.70,503.76 L170.20,501.61 L170.70,500.81 L171.20,501.80 L171.70,501.88 L172.20,501.08 L172.70,501.55 L173.20,503.88 L173.70,503.58 L174.20,503.43 L174.70,504.33 L175.20,501.38 L175.70,500.80 L176.20,502.11 L176.70,501.24 L177.20,501.65 L177.70,501.67 L178.00,500.80 L178.20,500.61 L178.70,502.52 L179.20,499.67 L179.70,499.11 L180.00,498.80 L180.20,499.60 L180.70,500.02 L181.20,499.05 L181.70,502.24 L182.20,499.54 L182.70,498.89 L183.20,499.25 L183.70,498.81 L184.20,503.01 L184.70,499.94 L185.00,498.80 L185.20,499.49 L185.70,502.25 L186.00,504.36 L186.20,501.83 L186.70,502.35 L187.20,502.82 L187.70,502.71 L188.20,501.98 L188.70,502.66 L189.20,502.05 L189.70,501.97 L190.20,502.69 L190.70,502.72 L191.20,501.81 L191.70,501.89 L192.20,503.64 L192.70,501.88 L193.20,501.92 L193.70,502.39 L194.20,501.81 L194.70,504.44 L195.20,502.41 L195.70,502.80 L196.20,502.61 L196.70,501.83 L197.20,502.03 L197.70,502.11 L198.20,502.56 L198.70,502.03 L199.20,502.48 L199.70,501.86 L200.20,501.80 L200.70,502.10 L201.20,504.37 L201.70,502.42 L202.20,502.81 L202.70,504.40 L203.20,501.80 L203.70,503.91 L204.20,501.81 L204.70,501.86 L205.20,501.98 L205.70,501.80 L206.20,502.21 L206.70,502.67 L207.20,501.86 L207.70,502.40 L208.20,502.07 L208.70,502.12 L209.20,503.78 L209.70,502.64 L210.00,501.80 L210.20,502.72 L210.70,502.26 L211.20,502.22 L211.70,502.05 L212.20,503.01 L212.70,502.29 L213.20,502.39 L213.70,502.44 L214.20,502.35 L214.70,502.62 L215.20,503.05 L215.70,503.21 L216.20,502.58 L216.70,502.87 L217.20,502.76 L217.70,504.09 L218.00,502.80 L218.20,503.38 L218.70,503.18 L219.20,503.51 L219.70,503.13 L220.20,503.17 L220.70,503.70 L221.20,503.31 L221.70,503.37 L222.20,503.43 L222.70,503.47 L223.20,504.44 L223.70,503.84 L224.20,503.84 L224.70,503.76 L224.70,504.80Z" fill="#1616cc"/>
<rect x="17.20" y="503.41" width="0.6" height="1.39" fill="#0c0c9a" opacity="0.75"/>
<rect x="17.70" y="503.55" width="0.6" height="1.25" fill="#0c0c9a" opacity="0.75"/>
<rect x="20.20" y="497.85" width="0.6" height="6.95" fill="#0c0c9a" opacity="0.75"/>
<rect x="21.00" y="502.88" width="0.6" height="1.92" fill="#6a6af2" opacity="0.75"/>
<rect x="21.70" y="503.11" width="0.6" height="1.69" fill="#6a6af2" opacity="0.75"/>
<rect x="25.20" y="503.11" width="0.6" height="1.69" fill="#0c0c9a" opacity="0.75"/>
<rect x="26.20" y="502.56" width="0.6" height="2.24" fill="#6a6af2" opacity="0.75"/>
<rect x="26.70" y="503.17" width="0.6" height="1.63" fill="#4848e8" opacity="0.75"/>
<rect x="27.20" y="502.39" width="0.6" height="2.41" fill="#6a6af2" opacity="0.75"/>
<rect x="27.70" y="502.96" width="0.6" height="1.84" fill="#0c0c9a" opacity="0.75"/>
<rect x="30.20" y="502.61" width="0.6" height="2.19" fill="#6a6af2" opacity="0.75"/>
<rect x="31.70" y="502.85" width="0.6" height="1.95" fill="#4848e8" opacity="0.75"/>
<rect x="35.70" y="503.04" width="0.6" height="1.76" fill="#6a6af2" opacity="0.75"/>
<rect x="36.70" y="502.34" width="0.6" height="2.46" fill="#4848e8" opacity="0.75"/>
<rect x="39.70" y="502.84" width="0.6" height="1.96" fill="#4848e8" opacity="0.75"/>
<rect x="40.20" y="502.56" width="0.6" height="2.24" fill="#6a6af2" opacity="0.75"/>
<rect x="41.20" y="502.41" width="0.6" height="2.39" fill="#6a6af2" opacity="0.75"/>
<rect x="44.70" y="502.43" width="0.6" height="2.37" fill="#4848e8" opacity="0.75"/>
<rect x="48.00" y="503.02" width="0.6" height="1.78" fill="#4848e8" opacity="0.75"/>
<rect x="53.20" y="499.23" width="0.6" height="5.57" fill="#0c0c9a" opacity="0.75"/>
<rect x="53.70" y="498.33" width="0.6" height="6.47" fill="#6a6af2" opacity="0.75"/>
<rect x="54.20" y="500.67" width="0.6" height="4.13" fill="#6a6af2" opacity="0.75"/>
<rect x="55.00" y="498.32" width="0.6" height="6.48" fill="#6a6af2" opacity="0.75"/>
<rect x="55.70" y="498.91" width="0.6" height="5.89" fill="#0c0c9a" opacity="0.75"/>
<rect x="56.20" y="498.34" width="0.6" height="6.46" fill="#0c0c9a" opacity="0.75"/>
<rect x="59.20" y="498.03" width="0.6" height="6.77" fill="#4848e8" opacity="0.75"/>
<rect x="61.20" y="492.43" width="0.6" height="12.37" fill="#6a6af2" opacity="0.75"/>
<rect x="62.20" y="492.88" width="0.6" height="11.92" fill="#0c0c9a" opacity="0.75"/>
<rect x="62.70" y="490.86" width="0.6" height="13.94" fill="#6a6af2" opacity="0.75"/>
<rect x="63.20" y="496.26" width="0.6" height="8.54" fill="#6a6af2" opacity="0.75"/>
<rect x="63.70" y="500.27" width="0.6" height="4.53" fill="#4848e8" opacity="0.75"/>
<rect x="67.70" y="498.22" width="0.6" height="6.58" fill="#6a6af2" opacity="0.75"/>
<rect x="69.70" y="503.59" width="0.6" height="1.21" fill="#4848e8" opacity="0.75"/>
<rect x="71.70" y="493.23" width="0.6" height="11.57" fill="#0c0c9a" opacity="0.75"/>
<rect x="72.20" y="501.82" width="0.6" height="2.98" fill="#6a6af2" opacity="0.75"/>
<rect x="73.70" y="495.14" width="0.6" height="9.66" fill="#0c0c9a" opacity="0.75"/>
<rect x="74.20" y="492.57" width="0.6" height="12.23" fill="#4848e8" opacity="0.75"/>
<rect x="75.70" y="494.18" width="0.6" height="10.62" fill="#6a6af2" opacity="0.75"/>
<rect x="76.20" y="493.33" width="0.6" height="11.47" fill="#0c0c9a" opacity="0.75"/>
<rect x="78.20" y="496.01" width="0.6" height="8.79" fill="#0c0c9a" opacity="0.75"/>
<rect x="80.20" y="497.21" width="0.6" height="7.59" fill="#4848e8" opacity="0.75"/>
<rect x="81.70" y="497.13" width="0.6" height="7.67" fill="#4848e8" opacity="0.75"/>
<rect x="82.20" y="493.44" width="0.6" height="11.36" fill="#0c0c9a" opacity="0.75"/>
<rect x="83.70" y="495.20" width="0.6" height="9.60" fill="#0c0c9a" opacity="0.75"/>
<rect x="84.20" y="494.44" width="0.6" height="10.36" fill="#0c0c9a" opacity="0.75"/>
<rect x="84.70" y="493.00" width="0.6" height="11.80" fill="#4848e8" opacity="0.75"/>
<rect x="85.70" y="495.15" width="0.6" height="9.65" fill="#6a6af2" opacity="0.75"/>
<rect x="86.00" y="500.75" width="0.6" height="4.05" fill="#6a6af2" opacity="0.75"/>
<rect x="86.70" y="495.40" width="0.6" height="9.40" fill="#0c0c9a" opacity="0.75"/>
<rect x="89.70" y="493.67" width="0.6" height="11.13" fill="#4848e8" opacity="0.75"/>
<rect x="91.70" y="491.55" width="0.6" height="13.25" fill="#4848e8" opacity="0.75"/>
<rect x="93.20" y="494.62" width="0.6" height="10.18" fill="#0c0c9a" opacity="0.75"/>
<rect x="93.70" y="497.32" width="0.6" height="7.48" fill="#0c0c9a" opacity="0.75"/>
<rect x="94.20" y="494.93" width="0.6" height="9.87" fill="#4848e8" opacity="0.75"/>
<rect x="95.00" y="493.67" width="0.6" height="11.13" fill="#6a6af2" opacity="0.75"/>
<rect x="96.70" y="489.55" width="0.6" height="15.25" fill="#0c0c9a" opacity="0.75"/>
<rect x="97.20" y="489.02" width="0.6" height="15.78" fill="#6a6af2" opacity="0.75"/>
<rect x="98.70" y="493.69" width="0.6" height="11.11" fill="#4848e8" opacity="0.75"/>
<rect x="100.20" y="501.09" width="0.6" height="3.71" fill="#4848e8" opacity="0.75"/>
<rect x="101.20" y="491.60" width="0.6" height="13.20" fill="#6a6af2" opacity="0.75"/>
<rect x="102.20" y="497.03" width="0.6" height="7.77" fill="#6a6af2" opacity="0.75"/>
<rect x="102.70" y="492.91" width="0.6" height="11.89" fill="#0c0c9a" opacity="0.75"/>
<rect x="104.20" y="494.66" width="0.6" height="10.14" fill="#4848e8" opacity="0.75"/>
<rect x="105.20" y="495.49" width="0.6" height="9.31" fill="#4848e8" opacity="0.75"/>
<rect x="106.20" y="493.12" width="0.6" height="11.68" fill="#4848e8" opacity="0.75"/>
<rect x="106.70" y="494.85" width="0.6" height="9.95" fill="#4848e8" opacity="0.75"/>
<rect x="107.70" y="494.69" width="0.6" height="10.11" fill="#0c0c9a" opacity="0.75"/>
<rect x="110.70" y="491.10" width="0.6" height="13.70" fill="#4848e8" opacity="0.75"/>
<rect x="113.20" y="493.47" width="0.6" height="11.33" fill="#6a6af2" opacity="0.75"/>
<rect x="113.70" y="502.10" width="0.6" height="2.70" fill="#0c0c9a" opacity="0.75"/>
<rect x="114.20" y="497.30" width="0.6" height="7.50" fill="#0c0c9a" opacity="0.75"/>
<rect x="115.20" y="494.60" width="0.6" height="10.20" fill="#6a6af2" opacity="0.75"/>
<rect x="117.20" y="493.86" width="0.6" height="10.94" fill="#0c0c9a" opacity="0.75"/>
<rect x="117.70" y="492.78" width="0.6" height="12.02" fill="#0c0c9a" opacity="0.75"/>
<rect x="122.70" y="488.31" width="0.6" height="16.49" fill="#0c0c9a" opacity="0.75"/>
<rect x="124.70" y="492.15" width="0.6" height="12.65" fill="#0c0c9a" opacity="0.75"/>
<rect x="125.70" y="491.30" width="0.6" height="13.50" fill="#4848e8" opacity="0.75"/>
<rect x="126.70" y="492.85" width="0.6" height="11.95" fill="#4848e8" opacity="0.75"/>
<rect x="127.20" y="498.36" width="0.6" height="6.44" fill="#6a6af2" opacity="0.75"/>
<rect x="129.20" y="499.74" width="0.6" height="5.06" fill="#4848e8" opacity="0.75"/>
<rect x="130.20" y="494.58" width="0.6" height="10.22" fill="#0c0c9a" opacity="0.75"/>
<rect x="130.70" y="497.25" width="0.6" height="7.55" fill="#4848e8" opacity="0.75"/>
<rect x="131.20" y="496.64" width="0.6" height="8.16" fill="#4848e8" opacity="0.75"/>
<rect x="133.20" y="499.54" width="0.6" height="5.26" fill="#0c0c9a" opacity="0.75"/>
<rect x="137.20" y="498.37" width="0.6" height="6.43" fill="#6a6af2" opacity="0.75"/>
<rect x="138.70" y="496.02" width="0.6" height="8.78" fill="#0c0c9a" opacity="0.75"/>
<rect x="140.70" y="497.89" width="0.6" height="6.91" fill="#6a6af2" opacity="0.75"/>
<rect x="142.00" y="496.72" width="0.6" height="8.08" fill="#0c0c9a" opacity="0.75"/>
<rect x="145.20" y="497.51" width="0.6" height="7.29" fill="#4848e8" opacity="0.75"/>
<rect x="145.70" y="500.16" width="0.6" height="4.64" fill="#0c0c9a" opacity="0.75"/>
<rect x="146.20" y="500.90" width="0.6" height="3.90" fill="#6a6af2" opacity="0.75"/>
<rect x="147.20" y="500.27" width="0.6" height="4.53" fill="#4848e8" opacity="0.75"/>
<rect x="149.70" y="502.52" width="0.6" height="2.28" fill="#0c0c9a" opacity="0.75"/>
<rect x="152.20" y="502.88" width="0.6" height="1.92" fill="#4848e8" opacity="0.75"/>
<rect x="155.70" y="501.13" width="0.6" height="3.67" fill="#6a6af2" opacity="0.75"/>
<rect x="157.70" y="502.89" width="0.6" height="1.91" fill="#0c0c9a" opacity="0.75"/>
<rect x="160.70" y="501.58" width="0.6" height="3.22" fill="#6a6af2" opacity="0.75"/>
<rect x="166.20" y="502.27" width="0.6" height="2.53" fill="#4848e8" opacity="0.75"/>
<rect x="170.20" y="502.74" width="0.6" height="2.06" fill="#4848e8" opacity="0.75"/>
<rect x="170.70" y="502.53" width="0.6" height="2.27" fill="#6a6af2" opacity="0.75"/>
<rect x="171.20" y="501.98" width="0.6" height="2.82" fill="#0c0c9a" opacity="0.75"/>
<rect x="172.20" y="502.70" width="0.6" height="2.10" fill="#0c0c9a" opacity="0.75"/>
<rect x="175.20" y="502.08" width="0.6" height="2.72" fill="#0c0c9a" opacity="0.75"/>
<rect x="176.20" y="502.59" width="0.6" height="2.21" fill="#6a6af2" opacity="0.75"/>
<rect x="176.70" y="502.54" width="0.6" height="2.26" fill="#0c0c9a" opacity="0.75"/>
<rect x="178.20" y="501.53" width="0.6" height="3.27" fill="#0c0c9a" opacity="0.75"/>
<rect x="179.70" y="500.11" width="0.6" height="4.69" fill="#0c0c9a" opacity="0.75"/>
<rect x="180.00" y="499.11" width="0.6" height="5.69" fill="#4848e8" opacity="0.75"/>
<rect x="181.20" y="501.02" width="0.6" height="3.78" fill="#0c0c9a" opacity="0.75"/>
<rect x="182.20" y="500.12" width="0.6" height="4.68" fill="#6a6af2" opacity="0.75"/>
<rect x="182.70" y="501.63" width="0.6" height="3.17" fill="#6a6af2" opacity="0.75"/>
<rect x="183.20" y="501.87" width="0.6" height="2.93" fill="#6a6af2" opacity="0.75"/>
<rect x="185.20" y="501.91" width="0.6" height="2.89" fill="#0c0c9a" opacity="0.75"/>
<rect x="187.20" y="503.30" width="0.6" height="1.50" fill="#4848e8" opacity="0.75"/>
<rect x="187.70" y="502.90" width="0.6" height="1.90" fill="#4848e8" opacity="0.75"/>
<rect x="188.20" y="502.82" width="0.6" height="1.98" fill="#4848e8" opacity="0.75"/>
<rect x="188.70" y="503.71" width="0.6" height="1.09" fill="#0c0c9a" opacity="0.75"/>
<rect x="189.20" y="502.27" width="0.6" height="2.53" fill="#4848e8" opacity="0.75"/>
<rect x="191.20" y="502.23" width="0.6" height="2.57" fill="#0c0c9a" opacity="0.75"/>
<rect x="193.20" y="502.92" width="0.6" height="1.88" fill="#4848e8" opacity="0.75"/>
<rect x="198.70" y="502.48" width="0.6" height="2.32" fill="#0c0c9a" opacity="0.75"/>
<rect x="199.70" y="502.73" width="0.6" height="2.07" fill="#4848e8" opacity="0.75"/>
<rect x="204.70" y="503.09" width="0.6" height="1.71" fill="#0c0c9a" opacity="0.75"/>
<rect x="205.70" y="503.08" width="0.6" height="1.72" fill="#0c0c9a" opacity="0.75"/>
<rect x="207.20" y="503.15" width="0.6" height="1.65" fill="#6a6af2" opacity="0.75"/>
<rect x="209.70" y="503.03" width="0.6" height="1.77" fill="#4848e8" opacity="0.75"/>
<rect x="211.70" y="502.21" width="0.6" height="2.59" fill="#4848e8" opacity="0.75"/>
<rect x="212.70" y="502.53" width="0.6" height="2.27" fill="#6a6af2" opacity="0.75"/>
<rect x="216.20" y="502.95" width="0.6" height="1.85" fill="#0c0c9a" opacity="0.75"/>
<rect x="217.20" y="503.19" width="0.6" height="1.61" fill="#4848e8" opacity="0.75"/>
<rect x="219.70" y="503.47" width="0.6" height="1.33" fill="#0c0c9a" opacity="0.75"/>
<rect x="86.70" y="492.46" width="0.7" height="11.74" fill="#fff" opacity="0.8"/>
<rect x="88.70" y="487.91" width="0.7" height="16.29" fill="#fff" opacity="0.8"/>
<rect x="95.70" y="489.27" width="0.7" height="14.93" fill="#fff" opacity="0.8"/>
<rect x="101.20" y="488.27" width="0.7" height="15.93" fill="#fff" opacity="0.8"/>
<rect x="105.70" y="486.03" width="0.7" height="18.17" fill="#fff" opacity="0.8"/>
<rect x="106.20" y="488.67" width="0.7" height="15.53" fill="#fff" opacity="0.8"/>
<rect x="107.70" y="485.72" width="0.7" height="18.48" fill="#fff" opacity="0.8"/>
<rect x="129.20" y="497.76" width="0.7" height="6.44" fill="#fff" opacity="0.8"/>
<path d="M17.20,504.80 L17.20,504.83 L17.60,504.90 L18.00,504.80 L18.40,505.65 L18.80,505.35 L19.20,505.03 L19.60,504.81 L20.00,504.82 L20.40,505.52 L20.80,505.47 L21.20,504.86 L21.60,505.35 L22.00,505.69 L22.40,505.15 L22.80,505.03 L23.20,505.00 L23.60,505.89 L24.00,505.09 L24.40,505.85 L24.80,505.79 L25.20,505.05 L25.60,505.19 L26.00,504.81 L26.40,504.90 L26.80,505.25 L27.20,505.11 L27.60,504.90 L28.00,504.83 L28.40,504.85 L28.80,504.95 L29.20,507.11 L29.60,506.18 L30.00,505.87 L30.40,508.38 L30.80,504.99 L31.20,504.89 L31.60,504.80 L32.00,510.12 L32.40,508.04 L32.80,504.80 L33.20,511.22 L33.60,505.56 L34.00,506.92 L34.40,505.13 L34.80,505.72 L35.20,505.43 L35.60,505.29 L36.00,504.88 L36.40,505.27 L36.80,504.81 L37.20,505.23 L37.60,505.13 L38.00,505.37 L38.40,504.80 L38.80,504.85 L39.20,504.81 L39.60,505.59 L40.00,506.25 L40.40,504.84 L40.80,504.80 L41.20,504.85 L41.60,505.74 L42.00,504.80 L42.40,504.84 L42.80,504.84 L43.20,505.50 L43.60,505.16 L44.00,504.95 L44.40,505.32 L44.80,505.52 L45.20,504.80 L45.60,505.87 L46.00,506.03 L46.40,505.95 L46.80,506.49 L47.00,506.02 L47.20,507.14 L47.60,509.71 L48.00,504.81 L48.40,510.24 L48.80,504.80 L49.20,504.83 L49.60,505.55 L50.00,506.73 L50.40,507.26 L50.80,506.75 L51.20,504.80 L51.60,504.81 L52.00,505.61 L52.40,505.14 L52.80,504.83 L53.20,504.90 L53.60,505.64 L54.00,504.91 L54.40,505.25 L54.80,505.96 L55.20,504.81 L55.60,505.69 L56.00,504.80 L56.40,505.91 L56.80,505.19 L57.20,505.80 L57.60,504.85 L58.00,506.52 L58.40,504.81 L58.80,506.22 L59.20,505.04 L59.60,505.68 L60.00,504.83 L60.40,506.08 L60.80,505.94 L61.20,506.23 L61.60,504.82 L62.00,504.93 L62.40,506.35 L62.80,504.80 L63.20,505.24 L63.60,505.67 L64.00,504.80 L64.40,506.12 L64.80,505.83 L65.20,505.42 L65.60,505.38 L66.00,506.39 L66.40,506.39 L66.80,506.20 L67.20,505.39 L67.60,504.81 L68.00,504.96 L68.40,504.81 L68.80,504.82 L69.20,504.83 L69.60,504.97 L70.00,504.95 L70.40,504.81 L70.80,506.50 L71.20,505.49 L71.60,504.92 L72.00,506.56 L72.40,505.95 L72.80,506.57 L73.20,505.32 L73.60,505.30 L74.00,505.81 L74.40,504.81 L74.80,505.55 L75.00,505.40 L75.20,504.90 L75.60,505.01 L76.00,506.32 L76.40,504.91 L76.80,504.92 L77.20,506.78 L77.60,505.00 L78.00,506.01 L78.40,505.07 L78.80,505.23 L79.20,505.39 L79.60,506.56 L80.00,505.78 L80.40,506.74 L80.80,505.37 L81.20,504.81 L81.60,504.85 L82.00,506.31 L82.40,504.82 L82.80,504.90 L83.20,504.82 L83.60,505.56 L84.00,506.60 L84.40,505.20 L84.80,505.18 L85.20,505.79 L85.60,504.89 L86.00,505.63 L86.40,506.33 L86.80,509.72 L87.00,506.68 L87.20,508.36 L87.60,506.23 L88.00,510.04 L88.40,504.81 L88.80,510.53 L89.20,505.57 L89.60,510.31 L90.00,505.54 L90.40,504.80 L90.80,504.80 L91.20,504.87 L91.60,510.11 L92.00,505.01 L92.40,506.06 L92.80,504.92 L93.20,512.73 L93.60,511.32 L94.00,505.51 L94.40,509.88 L94.80,504.83 L95.20,511.15 L95.60,507.49 L96.00,507.48 L96.40,505.06 L96.80,507.65 L97.00,510.87 L97.20,505.30 L97.60,509.45 L98.00,508.47 L98.40,506.35 L98.80,505.32 L99.00,504.95 L99.20,505.66 L99.60,505.24 L100.00,504.86 L100.40,504.80 L100.80,506.37 L101.20,504.81 L101.60,506.04 L102.00,504.80 L102.40,505.41 L102.80,504.80 L103.20,504.80 L103.60,504.82 L104.00,506.30 L104.40,506.00 L104.80,504.99 L105.20,504.80 L105.60,506.68 L106.00,506.18 L106.40,505.59 L106.80,505.63 L107.20,505.70 L107.60,506.48 L108.00,505.79 L108.40,505.42 L108.80,504.92 L109.20,504.87 L109.60,504.80 L110.00,504.89 L110.40,504.83 L110.80,504.82 L111.00,504.89 L111.20,504.95 L111.60,507.07 L112.00,505.68 L112.40,505.06 L112.80,507.34 L113.00,504.86 L113.20,504.81 L113.60,504.90 L114.00,505.51 L114.40,504.80 L114.80,504.83 L115.20,504.80 L115.60,504.83 L116.00,504.80 L116.40,504.92 L116.80,505.37 L117.20,506.75 L117.60,504.84 L118.00,506.57 L118.40,505.71 L118.80,505.63 L119.20,506.11 L119.60,504.84 L120.00,505.12 L120.40,505.23 L120.80,505.75 L121.20,505.04 L121.60,504.85 L122.00,505.30 L122.40,505.42 L122.80,504.96 L123.20,506.53 L123.60,504.94 L124.00,505.07 L124.40,506.04 L124.80,506.51 L125.20,504.80 L125.60,505.68 L126.00,504.81 L126.40,505.09 L126.80,505.07 L127.20,504.80 L127.60,505.72 L128.00,504.81 L128.40,505.27 L128.80,505.12 L129.20,505.20 L129.60,505.39 L130.00,505.36 L130.40,504.80 L130.80,508.24 L131.00,504.80 L131.20,505.08 L131.60,505.10 L132.00,504.85 L132.40,506.11 L132.80,507.05 L133.00,504.87 L133.20,505.22 L133.60,504.96 L134.00,504.83 L134.40,504.81 L134.80,505.35 L135.20,504.82 L135.60,505.64 L136.00,506.23 L136.40,506.52 L136.80,505.37 L137.20,505.33 L137.60,506.20 L138.00,505.11 L138.40,505.59 L138.80,506.29 L139.20,505.38 L139.60,506.15 L140.00,504.80 L140.40,504.80 L140.80,506.39 L141.20,506.12 L141.60,506.01 L142.00,506.42 L142.40,504.90 L142.80,504.89 L143.20,505.03 L143.60,505.46 L144.00,505.43 L144.40,505.25 L144.80,504.80 L145.20,504.81 L145.60,505.81 L146.00,504.93 L146.40,505.33 L146.80,505.46 L147.20,506.58 L147.60,505.83 L148.00,505.04 L148.40,504.95 L148.80,505.20 L149.20,504.86 L149.60,504.82 L150.00,505.49 L150.40,505.57 L150.80,504.87 L151.20,506.73 L151.60,510.15 L152.00,505.25 L152.40,505.14 L152.80,505.08 L153.20,505.45 L153.60,505.05 L154.00,504.91 L154.40,505.99 L154.80,506.20 L155.20,504.81 L155.60,505.86 L156.00,504.80 L156.40,505.40 L156.80,504.88 L157.20,505.07 L157.60,505.18 L158.00,504.94 L158.40,506.91 L158.80,507.09 L159.20,505.47 L159.60,506.24 L160.00,505.28 L160.40,506.30 L160.80,508.36 L161.20,506.00 L161.60,505.68 L162.00,505.49 L162.40,505.48 L162.80,504.80 L163.20,504.84 L163.60,508.24 L164.00,510.23 L164.40,507.53 L164.80,505.54 L165.20,504.83 L165.60,510.31 L166.00,509.58 L166.40,505.75 L166.80,510.36 L167.20,507.15 L167.60,505.14 L168.00,504.80 L168.40,507.26 L168.80,505.02 L169.20,506.06 L169.60,505.40 L170.00,505.70 L170.40,504.84 L170.80,504.80 L171.20,509.08 L171.60,508.84 L172.00,504.86 L172.40,505.12 L172.80,506.94 L173.20,513.33 L173.60,509.93 L174.00,512.56 L174.40,505.48 L174.80,509.57 L175.20,512.28 L175.60,508.41 L176.00,507.85 L176.40,507.70 L176.80,504.80 L177.20,508.89 L177.60,504.80 L178.00,506.37 L178.40,506.61 L178.80,505.55 L179.20,505.55 L179.60,506.13 L180.00,504.87 L180.40,504.80 L180.80,505.21 L181.20,506.49 L181.60,504.80 L182.00,505.02 L182.40,505.56 L182.80,507.21 L183.20,505.76 L183.60,504.89 L184.00,506.87 L184.40,506.08 L184.80,505.08 L185.20,504.89 L185.60,505.08 L186.00,506.80 L186.40,507.21 L186.80,506.50 L187.20,506.55 L187.60,507.59 L188.00,504.82 L188.40,504.86 L188.80,508.83 L189.20,508.99 L189.60,506.39 L190.00,507.09 L190.40,504.80 L190.80,506.47 L191.20,505.11 L191.60,508.95 L192.00,508.55 L192.40,511.15 L192.80,505.47 L193.20,507.19 L193.60,504.91 L194.00,506.31 L194.40,505.16 L194.80,505.81 L195.20,506.23 L195.60,509.16 L196.00,504.91 L196.40,506.61 L196.80,506.41 L197.00,506.74 L197.20,505.94 L197.60,505.23 L198.00,504.89 L198.40,509.48 L198.80,507.15 L199.20,504.80 L199.60,506.40 L200.00,505.41 L200.40,504.84 L200.80,505.37 L201.20,505.21 L201.60,507.19 L202.00,506.29 L202.40,505.29 L202.80,504.81 L203.20,506.25 L203.60,507.23 L204.00,505.30 L204.40,504.81 L204.80,505.46 L205.00,505.68 L205.20,505.40 L205.60,505.15 L206.00,505.05 L206.40,505.29 L206.80,505.61 L207.20,505.10 L207.60,505.61 L208.00,504.80 L208.40,504.80 L208.80,504.89 L209.20,504.80 L209.60,504.96 L210.00,507.06 L210.40,504.80 L210.80,505.17 L211.00,505.01 L211.20,505.55 L211.60,504.82 L212.00,507.58 L212.40,506.02 L212.80,505.16 L213.20,506.30 L213.60,506.15 L214.00,505.59 L214.40,505.69 L214.80,505.68 L215.20,504.90 L215.60,505.35 L216.00,505.20 L216.40,505.05 L216.80,505.03 L217.20,505.97 L217.60,506.48 L218.00,506.24 L218.40,504.87 L218.80,505.62 L219.20,505.17 L219.60,504.86 L220.00,504.80 L220.40,505.00 L220.80,504.81 L221.20,504.80 L221.60,504.86 L222.00,504.81 L222.40,505.53 L222.80,504.98 L223.20,504.81 L223.60,505.03 L224.00,504.88 L224.40,505.15 L224.80,505.00 L224.80,504.80Z" fill="#f00a0a"/>
<line x1="17.20" y1="504.80" x2="230.40" y2="504.80" stroke="#1a1a3a" stroke-width="0.8"/>
<line x1="230.40" y1="485.54" x2="230.40" y2="524.06" stroke="#555" stroke-width="0.7"/>
<line x1="229.20" y1="485.54" x2="231.60" y2="485.54" stroke="#333" stroke-width="1.0"/>
<line x1="229.20" y1="524.06" x2="231.60" y2="524.06" stroke="#333" stroke-width="1.0"/>
<line x1="225.50" y1="483.40" x2="225.50" y2="526.20" stroke="#bbb" stroke-width="0.5"/>
<line x1="17.20" y1="544.72" x2="225.50" y2="544.72" stroke="#cfcfcf" stroke-width="0.7"/>
<line x1="17.20" y1="553.28" x2="225.50" y2="553.28" stroke="#cfcfcf" stroke-width="0.7"/>
<line x1="17.20" y1="540.44" x2="225.50" y2="540.44" stroke="#cfcfcf" stroke-width="0.7"/>
<line x1="17.20" y1="557.56" x2="225.50" y2="557.56" stroke="#cfcfcf" stroke-width="0.7"/>
<line x1="17.20" y1="536.16" x2="225.50" y2="536.16" stroke="#cfcfcf" stroke-width="0.7"/>
<line x1="17.20" y1="561.84" x2="225.50" y2="561.84" stroke="#cfcfcf" stroke-width="0.7"/>
<line x1="17.20" y1="531.88" x2="225.50" y2="531.88" stroke="#cfcfcf" stroke-width="0.7"/>
<line x1="17.20" y1="566.12" x2="225.50" y2="566.12" stroke="#cfcfcf" stroke-width="0.7"/>
<line x1="17.20" y1="527.60" x2="225.50" y2="527.60" stroke="#cfcfcf" stroke-width="0.7"/>
<line x1="17.20" y1="570.40" x2="225.50" y2="570.40" stroke="#cfcfcf" stroke-width="0.7"/>
<path d="M17.20,549.00 L17.20,548.66 L17.70,548.63 L18.20,547.82 L18.70,547.59 L19.20,547.33 L19.70,548.71 L20.00,547.00 L20.20,541.79 L20.30,536.00 L20.70,542.72 L21.00,546.00 L21.20,546.01 L21.70,546.47 L22.20,546.03 L22.70,546.01 L23.20,546.79 L23.70,546.09 L24.20,546.34 L24.70,546.76 L25.20,546.18 L25.70,546.20 L26.20,546.10 L26.70,548.00 L27.20,546.08 L27.70,546.23 L28.20,547.04 L28.70,546.18 L29.20,546.42 L29.70,546.13 L30.00,546.00 L30.20,548.75 L30.70,545.14 L31.20,545.01 L31.70,543.94 L32.20,546.84 L32.70,544.25 L33.00,542.00 L33.20,542.40 L33.70,545.23 L34.20,544.67 L34.70,545.89 L35.00,546.00 L35.20,546.13 L35.70,545.89 L36.20,548.76 L36.70,545.36 L37.20,545.30 L37.70,544.93 L38.20,544.99 L38.70,548.44 L39.20,545.07 L39.70,544.12 L40.20,544.03 L40.70,543.75 L41.20,544.67 L41.70,545.26 L42.20,543.24 L42.50,543.00 L42.70,543.12 L43.20,544.41 L43.70,542.92 L44.20,543.01 L44.70,542.96 L45.20,546.11 L45.70,543.48 L46.20,543.10 L46.70,543.65 L47.20,543.90 L47.70,542.66 L48.20,544.32 L48.70,544.50 L49.20,543.51 L49.70,543.44 L50.20,543.11 L50.70,543.52 L51.20,544.37 L51.70,542.38 L52.20,544.49 L52.70,542.30 L53.20,542.30 L53.70,548.15 L54.20,543.15 L54.70,543.49 L55.20,545.80 L55.70,542.09 L56.20,542.09 L56.70,543.52 L57.00,542.00 L57.20,541.84 L57.70,541.37 L58.20,542.20 L58.70,548.39 L59.20,540.30 L59.70,541.17 L60.00,538.00 L60.20,540.27 L60.70,538.00 L61.20,545.76 L61.70,538.56 L62.20,538.37 L62.70,538.91 L63.20,545.38 L63.70,541.02 L64.20,538.73 L64.70,544.09 L65.20,538.15 L65.70,540.69 L66.20,540.45 L66.70,540.94 L67.20,538.09 L67.70,538.44 L68.20,541.15 L68.70,538.00 L69.20,539.14 L69.70,539.97 L70.20,538.02 L70.70,540.77 L71.20,540.26 L71.70,539.51 L72.20,539.43 L72.70,541.21 L73.20,541.20 L73.70,540.90 L74.20,539.45 L74.70,538.08 L75.20,538.51 L75.70,547.74 L76.20,540.52 L76.70,541.13 L77.20,539.28 L77.70,546.46 L78.00,538.00 L78.20,539.39 L78.70,548.29 L79.20,540.24 L79.70,538.49 L80.00,535.00 L80.20,536.67 L80.70,536.59 L81.20,537.80 L81.70,535.01 L82.20,537.17 L82.70,536.79 L83.20,535.35 L83.70,535.69 L84.20,538.84 L84.70,535.32 L85.20,535.36 L85.70,539.74 L86.20,535.59 L86.70,538.10 L87.20,547.11 L87.70,536.20 L88.20,536.61 L88.70,539.23 L89.20,542.02 L89.70,539.57 L90.20,536.49 L90.70,534.69 L91.20,534.87 L91.70,538.62 L92.20,534.70 L92.70,535.03 L93.20,534.69 L93.70,536.89 L94.20,539.19 L94.70,535.90 L95.20,546.21 L95.70,541.79 L96.20,534.89 L96.70,536.95 L97.20,536.62 L97.70,538.35 L98.20,536.00 L98.70,537.06 L99.20,535.65 L99.70,538.00 L100.20,534.35 L100.70,538.24 L101.20,535.08 L101.70,538.10 L102.20,535.03 L102.70,534.25 L103.20,534.23 L103.70,534.33 L104.20,537.93 L104.70,534.46 L105.20,535.34 L105.70,534.32 L106.20,539.30 L106.70,538.53 L107.20,534.84 L107.70,537.71 L108.20,534.12 L108.70,538.39 L109.20,536.22 L109.70,543.99 L110.00,534.00 L110.20,536.13 L110.70,537.71 L111.20,533.45 L111.70,536.95 L112.00,532.00 L112.20,534.94 L112.70,533.80 L113.20,542.79 L113.70,533.83 L114.20,534.57 L114.70,542.42 L115.20,537.44 L115.70,532.93 L116.20,536.80 L116.70,533.08 L117.20,535.35 L117.70,533.32 L118.20,533.44 L118.70,533.66 L119.20,537.92 L119.70,537.32 L120.20,534.69 L120.70,534.01 L121.20,539.07 L121.70,538.08 L122.20,536.80 L122.70,536.99 L123.20,542.53 L123.70,539.05 L124.20,537.65 L124.70,536.87 L125.00,535.00 L125.20,535.36 L125.70,535.14 L126.20,535.64 L126.70,535.42 L127.20,535.48 L127.70,547.05 L128.20,539.71 L128.70,539.42 L129.20,535.90 L129.70,536.89 L130.00,536.00 L130.20,543.06 L130.70,539.11 L131.00,540.00 L131.20,540.00 L131.70,540.03 L132.20,539.88 L132.70,539.94 L133.20,539.78 L133.70,540.08 L134.20,540.88 L134.70,542.84 L135.20,539.73 L135.70,542.53 L136.20,544.65 L136.70,541.09 L137.20,547.66 L137.70,539.39 L138.20,540.29 L138.70,539.68 L139.20,541.60 L139.70,539.13 L140.20,539.25 L140.70,540.18 L141.00,539.00 L141.20,539.49 L141.70,542.18 L142.20,539.57 L142.70,547.67 L143.20,541.59 L143.70,542.32 L144.20,539.41 L144.70,541.19 L145.20,539.59 L145.70,540.30 L146.20,540.30 L146.70,539.72 L147.20,541.51 L147.70,539.88 L148.20,540.89 L148.70,540.70 L149.00,540.00 L149.20,541.89 L149.70,543.58 L150.00,544.00 L150.20,545.12 L150.70,544.00 L151.20,544.14 L151.70,544.17 L152.20,544.05 L152.70,544.80 L153.20,545.61 L153.70,544.12 L154.20,544.51 L154.70,544.23 L155.20,544.07 L155.70,544.02 L156.20,544.62 L156.70,544.04 L157.20,546.90 L157.70,546.63 L158.20,545.08 L158.70,544.52 L159.20,544.01 L159.70,545.31 L160.20,544.39 L160.70,544.84 L161.20,545.38 L161.70,547.56 L162.00,544.00 L162.20,543.71 L162.70,542.96 L163.20,544.18 L163.70,543.34 L164.00,541.00 L164.20,543.35 L164.70,548.58 L165.20,541.17 L165.70,546.26 L166.20,542.13 L166.70,541.58 L167.20,546.98 L167.70,545.77 L168.20,541.04 L168.70,540.93 L169.20,540.72 L169.70,540.66 L170.20,540.68 L170.70,541.46 L171.20,540.82 L171.70,542.23 L172.20,541.34 L172.70,541.62 L173.20,541.12 L173.70,541.29 L174.20,541.35 L174.70,543.11 L175.20,541.90 L175.70,540.89 L176.20,540.52 L176.70,540.48 L177.20,540.31 L177.70,540.41 L178.20,541.48 L178.70,542.41 L179.20,540.39 L179.70,544.53 L180.00,545.04 L180.20,540.04 L180.70,541.10 L181.20,540.42 L181.70,540.81 L182.20,541.02 L182.70,545.57 L183.20,548.56 L183.70,543.59 L184.20,542.39 L184.70,543.62 L185.00,541.00 L185.20,542.30 L185.70,546.25 L186.00,547.50 L186.20,547.60 L186.70,548.66 L187.20,548.73 L187.70,547.51 L188.20,547.79 L188.70,547.91 L189.20,547.74 L189.70,547.58 L190.00,547.50 L190.20,547.40 L190.70,546.00 L191.00,544.00 L191.20,545.35 L191.70,544.68 L192.20,544.14 L192.70,544.00 L193.20,544.69 L193.70,544.10 L194.20,544.40 L194.70,544.22 L195.20,544.31 L195.70,544.03 L196.20,544.00 L196.70,545.02 L197.20,544.96 L197.70,544.03 L198.20,544.12 L198.70,544.56 L199.20,545.67 L199.70,545.10 L200.20,545.51 L200.70,544.21 L201.20,545.00 L201.70,545.42 L202.20,544.78 L202.70,544.68 L203.20,544.73 L203.70,544.00 L204.20,545.32 L204.70,544.00 L205.20,545.04 L205.70,545.17 L206.20,544.58 L206.70,547.76 L207.20,544.91 L207.70,544.09 L208.20,544.01 L208.70,548.31 L209.20,545.11 L209.70,544.00 L210.20,544.21 L210.70,544.58 L211.00,544.00 L211.20,548.25 L211.70,545.41 L212.00,546.00 L212.20,546.81 L212.70,546.04 L213.20,546.25 L213.70,546.01 L214.20,546.43 L214.70,546.75 L215.20,546.71 L215.70,546.19 L216.20,548.66 L216.70,546.03 L217.00,546.00 L217.20,546.32 L217.70,544.47 L218.00,543.00 L218.20,543.80 L218.70,546.16 L219.00,547.00 L219.20,547.49 L219.70,547.52 L220.20,547.78 L220.70,547.37 L221.20,547.61 L221.70,547.47 L222.20,548.72 L222.70,547.62 L223.20,547.70 L223.70,547.82 L224.20,548.10 L224.70,548.19 L224.70,549.00Z" fill="#1616cc"/>
<rect x="19.20" y="548.10" width="0.6" height="0.90" fill="#4848e8" opacity="0.75"/>
<rect x="20.00" y="547.30" width="0.6" height="1.70" fill="#0c0c9a" opacity="0.75"/>
<rect x="20.20" y="543.47" width="0.6" height="5.53" fill="#4848e8" opacity="0.75"/>
<rect x="20.30" y="541.20" width="0.6" height="7.80" fill="#6a6af2" opacity="0.75"/>
<rect x="25.70" y="546.57" width="0.6" height="2.43" fill="#0c0c9a" opacity="0.75"/>
<rect x="27.20" y="547.19" width="0.6" height="1.81" fill="#0c0c9a" opacity="0.75"/>
<rect x="29.20" y="547.28" width="0.6" height="1.72" fill="#4848e8" opacity="0.75"/>
<rect x="31.20" y="545.89" width="0.6" height="3.11" fill="#6a6af2" opacity="0.75"/>
<rect x="32.70" y="546.27" width="0.6" height="2.73" fill="#4848e8" opacity="0.75"/>
<rect x="33.20" y="545.26" width="0.6" height="3.74" fill="#0c0c9a" opacity="0.75"/>
<rect x="34.20" y="545.73" width="0.6" height="3.27" fill="#4848e8" opacity="0.75"/>
<rect x="36.70" y="545.68" width="0.6" height="3.32" fill="#6a6af2" opacity="0.75"/>
<rect x="39.20" y="545.89" width="0.6" height="3.11" fill="#0c0c9a" opacity="0.75"/>
<rect x="39.70" y="545.01" width="0.6" height="3.99" fill="#6a6af2" opacity="0.75"/>
<rect x="40.70" y="545.89" width="0.6" height="3.11" fill="#6a6af2" opacity="0.75"/>
<rect x="41.70" y="546.87" width="0.6" height="2.13" fill="#0c0c9a" opacity="0.75"/>
<rect x="43.20" y="545.96" width="0.6" height="3.04" fill="#4848e8" opacity="0.75"/>
<rect x="44.20" y="544.99" width="0.6" height="4.01" fill="#6a6af2" opacity="0.75"/>
<rect x="45.20" y="547.07" width="0.6" height="1.93" fill="#0c0c9a" opacity="0.75"/>
<rect x="47.20" y="544.63" width="0.6" height="4.37" fill="#4848e8" opacity="0.75"/>
<rect x="48.70" y="545.55" width="0.6" height="3.45" fill="#0c0c9a" opacity="0.75"/>
<rect x="50.70" y="544.49" width="0.6" height="4.51" fill="#6a6af2" opacity="0.75"/>
<rect x="51.70" y="545.25" width="0.6" height="3.75" fill="#4848e8" opacity="0.75"/>
<rect x="55.20" y="546.50" width="0.6" height="2.50" fill="#6a6af2" opacity="0.75"/>
<rect x="57.70" y="541.77" width="0.6" height="7.23" fill="#6a6af2" opacity="0.75"/>
<rect x="58.20" y="543.53" width="0.6" height="5.47" fill="#4848e8" opacity="0.75"/>
<rect x="59.20" y="541.99" width="0.6" height="7.01" fill="#4848e8" opacity="0.75"/>
<rect x="59.70" y="543.79" width="0.6" height="5.21" fill="#4848e8" opacity="0.75"/>
<rect x="60.00" y="540.67" width="0.6" height="8.33" fill="#4848e8" opacity="0.75"/>
<rect x="61.20" y="546.78" width="0.6" height="2.22" fill="#4848e8" opacity="0.75"/>
<rect x="62.20" y="542.55" width="0.6" height="6.45" fill="#0c0c9a" opacity="0.75"/>
<rect x="65.20" y="543.19" width="0.6" height="5.81" fill="#0c0c9a" opacity="0.75"/>
<rect x="65.70" y="543.70" width="0.6" height="5.30" fill="#0c0c9a" opacity="0.75"/>
<rect x="66.20" y="543.07" width="0.6" height="5.93" fill="#6a6af2" opacity="0.75"/>
<rect x="68.20" y="543.94" width="0.6" height="5.06" fill="#6a6af2" opacity="0.75"/>
<rect x="69.70" y="544.41" width="0.6" height="4.59" fill="#6a6af2" opacity="0.75"/>
<rect x="70.20" y="538.92" width="0.6" height="10.08" fill="#4848e8" opacity="0.75"/>
<rect x="70.70" y="543.62" width="0.6" height="5.38" fill="#6a6af2" opacity="0.75"/>
<rect x="71.70" y="543.90" width="0.6" height="5.10" fill="#4848e8" opacity="0.75"/>
<rect x="73.20" y="543.69" width="0.6" height="5.31" fill="#0c0c9a" opacity="0.75"/>
<rect x="74.20" y="543.54" width="0.6" height="5.46" fill="#4848e8" opacity="0.75"/>
<rect x="76.20" y="543.11" width="0.6" height="5.89" fill="#0c0c9a" opacity="0.75"/>
<rect x="76.70" y="543.81" width="0.6" height="5.19" fill="#6a6af2" opacity="0.75"/>
<rect x="80.20" y="538.98" width="0.6" height="10.02" fill="#6a6af2" opacity="0.75"/>
<rect x="84.70" y="540.22" width="0.6" height="8.78" fill="#6a6af2" opacity="0.75"/>
<rect x="85.70" y="543.71" width="0.6" height="5.29" fill="#6a6af2" opacity="0.75"/>
<rect x="86.20" y="541.26" width="0.6" height="7.74" fill="#4848e8" opacity="0.75"/>
<rect x="87.20" y="547.27" width="0.6" height="1.73" fill="#0c0c9a" opacity="0.75"/>
<rect x="90.20" y="540.36" width="0.6" height="8.64" fill="#0c0c9a" opacity="0.75"/>
<rect x="91.20" y="536.88" width="0.6" height="12.12" fill="#4848e8" opacity="0.75"/>
<rect x="91.70" y="543.71" width="0.6" height="5.29" fill="#0c0c9a" opacity="0.75"/>
<rect x="92.20" y="538.42" width="0.6" height="10.58" fill="#6a6af2" opacity="0.75"/>
<rect x="92.70" y="539.47" width="0.6" height="9.53" fill="#6a6af2" opacity="0.75"/>
<rect x="94.70" y="539.49" width="0.6" height="9.51" fill="#6a6af2" opacity="0.75"/>
<rect x="95.20" y="547.31" width="0.6" height="1.69" fill="#6a6af2" opacity="0.75"/>
<rect x="98.70" y="539.22" width="0.6" height="9.78" fill="#6a6af2" opacity="0.75"/>
<rect x="99.70" y="542.65" width="0.6" height="6.35" fill="#0c0c9a" opacity="0.75"/>
<rect x="100.70" y="539.06" width="0.6" height="9.94" fill="#0c0c9a" opacity="0.75"/>
<rect x="101.20" y="541.69" width="0.6" height="7.31" fill="#4848e8" opacity="0.75"/>
<rect x="101.70" y="538.91" width="0.6" height="10.09" fill="#0c0c9a" opacity="0.75"/>
<rect x="103.20" y="537.32" width="0.6" height="11.68" fill="#0c0c9a" opacity="0.75"/>
<rect x="105.20" y="539.84" width="0.6" height="9.16" fill="#6a6af2" opacity="0.75"/>
<rect x="106.20" y="540.72" width="0.6" height="8.28" fill="#6a6af2" opacity="0.75"/>
<rect x="107.20" y="541.22" width="0.6" height="7.78" fill="#6a6af2" opacity="0.75"/>
<rect x="110.00" y="537.80" width="0.6" height="11.20" fill="#0c0c9a" opacity="0.75"/>
<rect x="110.70" y="542.31" width="0.6" height="6.69" fill="#6a6af2" opacity="0.75"/>
<rect x="111.20" y="534.80" width="0.6" height="14.20" fill="#0c0c9a" opacity="0.75"/>
<rect x="112.00" y="534.35" width="0.6" height="14.65" fill="#6a6af2" opacity="0.75"/>
<rect x="112.20" y="541.63" width="0.6" height="7.37" fill="#6a6af2" opacity="0.75"/>
<rect x="113.20" y="543.57" width="0.6" height="5.43" fill="#0c0c9a" opacity="0.75"/>
<rect x="115.20" y="538.24" width="0.6" height="10.76" fill="#0c0c9a" opacity="0.75"/>
<rect x="116.20" y="542.38" width="0.6" height="6.62" fill="#6a6af2" opacity="0.75"/>
<rect x="125.70" y="541.98" width="0.6" height="7.02" fill="#6a6af2" opacity="0.75"/>
<rect x="128.20" y="540.96" width="0.6" height="8.04" fill="#6a6af2" opacity="0.75"/>
<rect x="129.70" y="542.01" width="0.6" height="6.99" fill="#6a6af2" opacity="0.75"/>
<rect x="135.20" y="540.98" width="0.6" height="8.02" fill="#4848e8" opacity="0.75"/>
<rect x="135.70" y="545.70" width="0.6" height="3.30" fill="#6a6af2" opacity="0.75"/>
<rect x="136.20" y="545.92" width="0.6" height="3.08" fill="#0c0c9a" opacity="0.75"/>
<rect x="138.70" y="542.71" width="0.6" height="6.29" fill="#6a6af2" opacity="0.75"/>
<rect x="143.20" y="545.22" width="0.6" height="3.78" fill="#6a6af2" opacity="0.75"/>
<rect x="144.20" y="541.26" width="0.6" height="7.74" fill="#6a6af2" opacity="0.75"/>
<rect x="149.00" y="542.74" width="0.6" height="6.26" fill="#0c0c9a" opacity="0.75"/>
<rect x="151.20" y="545.69" width="0.6" height="3.31" fill="#6a6af2" opacity="0.75"/>
<rect x="152.20" y="544.71" width="0.6" height="4.29" fill="#0c0c9a" opacity="0.75"/>
<rect x="153.70" y="545.33" width="0.6" height="3.67" fill="#0c0c9a" opacity="0.75"/>
<rect x="154.70" y="545.08" width="0.6" height="3.92" fill="#6a6af2" opacity="0.75"/>
<rect x="156.20" y="546.00" width="0.6" height="3.00" fill="#4848e8" opacity="0.75"/>
<rect x="156.70" y="545.45" width="0.6" height="3.55" fill="#0c0c9a" opacity="0.75"/>
<rect x="157.20" y="547.87" width="0.6" height="1.13" fill="#0c0c9a" opacity="0.75"/>
<rect x="158.20" y="545.44" width="0.6" height="3.56" fill="#6a6af2" opacity="0.75"/>
<rect x="160.70" y="545.55" width="0.6" height="3.45" fill="#0c0c9a" opacity="0.75"/>
<rect x="161.20" y="545.66" width="0.6" height="3.34" fill="#0c0c9a" opacity="0.75"/>
<rect x="162.00" y="546.04" width="0.6" height="2.96" fill="#6a6af2" opacity="0.75"/>
<rect x="162.20" y="544.44" width="0.6" height="4.56" fill="#6a6af2" opacity="0.75"/>
<rect x="167.20" y="547.54" width="0.6" height="1.46" fill="#6a6af2" opacity="0.75"/>
<rect x="168.70" y="542.95" width="0.6" height="6.05" fill="#0c0c9a" opacity="0.75"/>
<rect x="169.70" y="543.11" width="0.6" height="5.89" fill="#6a6af2" opacity="0.75"/>
<rect x="170.70" y="545.22" width="0.6" height="3.78" fill="#4848e8" opacity="0.75"/>
<rect x="171.70" y="542.60" width="0.6" height="6.40" fill="#4848e8" opacity="0.75"/>
<rect x="172.70" y="543.97" width="0.6" height="5.03" fill="#4848e8" opacity="0.75"/>
<rect x="175.70" y="542.67" width="0.6" height="6.33" fill="#6a6af2" opacity="0.75"/>
<rect x="176.20" y="544.16" width="0.6" height="4.84" fill="#0c0c9a" opacity="0.75"/>
<rect x="178.20" y="543.89" width="0.6" height="5.11" fill="#6a6af2" opacity="0.75"/>
<rect x="180.00" y="546.02" width="0.6" height="2.98" fill="#0c0c9a" opacity="0.75"/>
<rect x="184.20" y="543.03" width="0.6" height="5.97" fill="#4848e8" opacity="0.75"/>
<rect x="184.70" y="544.34" width="0.6" height="4.66" fill="#6a6af2" opacity="0.75"/>
<rect x="190.20" y="547.52" width="0.6" height="1.48" fill="#0c0c9a" opacity="0.75"/>
<rect x="191.00" y="544.36" width="0.6" height="4.64" fill="#6a6af2" opacity="0.75"/>
<rect x="191.20" y="547.13" width="0.6" height="1.87" fill="#6a6af2" opacity="0.75"/>
<rect x="195.70" y="545.13" width="0.6" height="3.87" fill="#6a6af2" opacity="0.75"/>
<rect x="196.70" y="546.99" width="0.6" height="2.01" fill="#6a6af2" opacity="0.75"/>
<rect x="197.20" y="545.66" width="0.6" height="3.34" fill="#6a6af2" opacity="0.75"/>
<rect x="198.70" y="545.96" width="0.6" height="3.04" fill="#0c0c9a" opacity="0.75"/>
<rect x="200.20" y="546.07" width="0.6" height="2.93" fill="#6a6af2" opacity="0.75"/>
<rect x="202.20" y="546.44" width="0.6" height="2.56" fill="#4848e8" opacity="0.75"/>
<rect x="202.70" y="546.22" width="0.6" height="2.78" fill="#4848e8" opacity="0.75"/>
<rect x="203.70" y="544.73" width="0.6" height="4.27" fill="#4848e8" opacity="0.75"/>
<rect x="204.70" y="544.68" width="0.6" height="4.32" fill="#0c0c9a" opacity="0.75"/>
<rect x="210.20" y="546.02" width="0.6" height="2.98" fill="#4848e8" opacity="0.75"/>
<rect x="210.70" y="546.63" width="0.6" height="2.37" fill="#4848e8" opacity="0.75"/>
<rect x="211.70" y="545.93" width="0.6" height="3.07" fill="#6a6af2" opacity="0.75"/>
<rect x="212.20" y="547.54" width="0.6" height="1.46" fill="#4848e8" opacity="0.75"/>
<rect x="212.70" y="547.14" width="0.6" height="1.86" fill="#0c0c9a" opacity="0.75"/>
<rect x="213.20" y="547.06" width="0.6" height="1.94" fill="#0c0c9a" opacity="0.75"/>
<rect x="215.70" y="546.96" width="0.6" height="2.04" fill="#4848e8" opacity="0.75"/>
<rect x="216.70" y="547.15" width="0.6" height="1.85" fill="#4848e8" opacity="0.75"/>
<rect x="217.00" y="546.76" width="0.6" height="2.24" fill="#6a6af2" opacity="0.75"/>
<rect x="20.20" y="543.39" width="0.7" height="5.01" fill="#fff" opacity="0.8"/>
<rect x="47.20" y="543.98" width="0.7" height="4.42" fill="#fff" opacity="0.8"/>
<rect x="57.70" y="541.88" width="0.7" height="6.52" fill="#fff" opacity="0.8"/>
<rect x="62.70" y="540.59" width="0.7" height="7.81" fill="#fff" opacity="0.8"/>
<rect x="86.70" y="540.52" width="0.7" height="7.88" fill="#fff" opacity="0.8"/>
<rect x="92.20" y="536.94" width="0.7" height="11.46" fill="#fff" opacity="0.8"/>
<rect x="93.70" y="539.54" width="0.7" height="8.86" fill="#fff" opacity="0.8"/>
<rect x="94.70" y="537.17" width="0.7" height="11.23" fill="#fff" opacity="0.8"/>
<rect x="112.70" y="535.26" width="0.7" height="13.14" fill="#fff" opacity="0.8"/>
<rect x="124.20" y="539.12" width="0.7" height="9.28" fill="#fff" opacity="0.8"/>
<rect x="125.20" y="538.77" width="0.7" height="9.63" fill="#fff" opacity="0.8"/>
<rect x="141.00" y="539.11" width="0.7" height="9.29" fill="#fff" opacity="0.8"/>
<rect x="146.20" y="541.80" width="0.7" height="6.60" fill="#fff" opacity="0.8"/>
<rect x="146.70" y="541.09" width="0.7" height="7.31" fill="#fff" opacity="0.8"/>
<rect x="148.70" y="541.11" width="0.7" height="7.29" fill="#fff" opacity="0.8"/>
<rect x="168.20" y="541.90" width="0.7" height="6.50" fill="#fff" opacity="0.8"/>
<rect x="172.20" y="541.86" width="0.7" height="6.54" fill="#fff" opacity="0.8"/>
<path d="M17.20,549.00 L17.20,549.47 L17.60,549.73 L18.00,549.68 L18.40,549.00 L18.80,550.10 L19.20,550.06 L19.60,549.39 L20.00,549.51 L20.40,549.00 L20.80,549.19 L21.20,549.99 L21.60,550.09 L22.00,549.75 L22.40,549.00 L22.80,549.14 L23.20,550.72 L23.60,549.25 L24.00,549.70 L24.40,549.15 L24.80,550.09 L25.00,550.67 L25.20,549.49 L25.60,549.65 L26.00,550.60 L26.40,549.97 L26.80,553.72 L27.00,550.11 L27.20,552.47 L27.60,549.02 L28.00,552.03 L28.40,550.54 L28.80,550.04 L29.20,556.53 L29.60,554.30 L30.00,556.73 L30.40,550.66 L30.80,554.93 L31.20,554.72 L31.60,553.42 L32.00,549.21 L32.40,553.41 L32.80,550.76 L33.00,552.79 L33.20,550.58 L33.60,549.17 L34.00,554.29 L34.40,553.66 L34.80,552.40 L35.20,549.91 L35.60,555.60 L36.00,553.07 L36.40,549.04 L36.80,555.40 L37.20,554.05 L37.60,552.90 L38.00,549.22 L38.40,549.38 L38.80,550.10 L39.20,556.59 L39.60,556.18 L40.00,551.33 L40.40,551.22 L40.80,550.66 L41.20,550.46 L41.60,555.37 L42.00,551.19 L42.40,549.14 L42.80,553.32 L43.20,550.23 L43.60,553.08 L44.00,552.12 L44.40,550.19 L44.80,549.79 L45.20,552.95 L45.60,549.85 L46.00,552.01 L46.40,549.00 L46.80,549.66 L47.20,550.75 L47.60,551.99 L48.00,550.11 L48.40,552.69 L48.80,550.12 L49.20,553.80 L49.60,554.77 L50.00,551.10 L50.40,549.34 L50.80,554.41 L51.20,552.32 L51.60,552.63 L52.00,553.03 L52.40,552.13 L52.80,551.82 L53.20,551.91 L53.60,549.02 L54.00,550.62 L54.40,549.53 L54.80,550.57 L55.20,549.66 L55.60,549.96 L56.00,550.56 L56.40,550.28 L56.80,551.58 L57.00,550.39 L57.20,549.77 L57.60,549.18 L58.00,550.85 L58.40,549.13 L58.80,549.96 L59.20,553.92 L59.60,550.28 L60.00,551.46 L60.40,549.22 L60.80,551.00 L61.20,553.75 L61.60,549.94 L62.00,549.00 L62.40,551.01 L62.80,549.22 L63.20,553.16 L63.60,550.30 L64.00,549.70 L64.40,550.06 L64.80,553.33 L65.20,549.58 L65.60,550.63 L66.00,549.80 L66.40,550.61 L66.80,550.53 L67.20,551.34 L67.60,549.70 L68.00,550.45 L68.40,549.63 L68.80,552.37 L69.20,549.61 L69.60,553.91 L70.00,551.26 L70.40,551.48 L70.80,552.11 L71.20,552.23 L71.60,550.83 L72.00,549.72 L72.40,550.47 L72.80,552.12 L73.20,549.02 L73.60,550.42 L74.00,553.13 L74.40,549.01 L74.80,550.28 L75.20,551.88 L75.60,550.55 L76.00,550.09 L76.40,552.87 L76.80,549.71 L77.20,549.06 L77.60,551.79 L78.00,549.68 L78.40,553.65 L78.80,550.78 L79.20,551.03 L79.60,549.33 L80.00,550.07 L80.40,554.38 L80.80,551.93 L81.20,556.92 L81.60,552.69 L82.00,549.79 L82.40,557.69 L82.80,549.40 L83.00,557.72 L83.20,553.54 L83.60,549.54 L84.00,549.07 L84.40,551.12 L84.80,549.10 L85.20,555.21 L85.60,549.40 L86.00,550.57 L86.40,552.19 L86.80,552.64 L87.20,549.49 L87.60,552.36 L88.00,552.90 L88.40,550.18 L88.80,550.12 L89.20,552.48 L89.60,549.98 L90.00,555.13 L90.40,554.82 L90.80,549.19 L91.20,549.22 L91.60,553.35 L92.00,557.10 L92.40,550.64 L92.80,549.04 L93.20,549.09 L93.60,558.24 L94.00,549.91 L94.40,558.57 L94.80,556.29 L95.20,553.71 L95.60,549.99 L96.00,553.58 L96.40,551.18 L96.80,556.44 L97.20,556.06 L97.60,556.73 L98.00,553.33 L98.40,555.18 L98.80,550.41 L99.20,549.06 L99.60,552.10 L100.00,549.00 L100.40,557.30 L100.80,551.58 L101.20,549.25 L101.60,549.53 L102.00,551.18 L102.40,549.49 L102.80,550.29 L103.20,550.36 L103.60,553.66 L104.00,551.03 L104.40,554.49 L104.80,552.01 L105.00,549.33 L105.20,550.33 L105.60,554.31 L106.00,550.23 L106.40,549.12 L106.80,555.13 L107.00,549.93 L107.20,549.81 L107.60,552.66 L108.00,549.65 L108.40,554.91 L108.80,550.73 L109.20,551.73 L109.60,551.07 L110.00,556.01 L110.40,550.36 L110.80,549.11 L111.20,551.43 L111.60,549.07 L112.00,549.07 L112.40,549.09 L112.80,550.94 L113.20,553.06 L113.60,549.54 L114.00,551.01 L114.40,549.17 L114.80,549.25 L115.00,556.89 L115.20,556.03 L115.60,549.01 L116.00,551.84 L116.40,550.89 L116.80,554.39 L117.20,550.36 L117.60,555.63 L118.00,549.29 L118.40,549.18 L118.80,555.54 L119.00,549.34 L119.20,549.88 L119.60,550.86 L120.00,551.19 L120.40,549.05 L120.80,549.81 L121.20,549.15 L121.60,549.94 L122.00,551.35 L122.40,552.04 L122.80,551.47 L123.20,553.34 L123.60,554.57 L124.00,552.40 L124.40,553.30 L124.80,549.76 L125.20,549.71 L125.60,551.36 L126.00,549.44 L126.40,549.23 L126.80,553.71 L127.20,551.73 L127.60,550.55 L128.00,550.88 L128.40,553.43 L128.80,549.14 L129.20,549.36 L129.60,550.65 L130.00,553.15 L130.40,549.96 L130.80,550.74 L131.20,550.62 L131.60,554.40 L132.00,554.71 L132.40,549.16 L132.80,551.94 L133.00,549.03 L133.20,550.87 L133.60,550.35 L134.00,549.78 L134.40,551.42 L134.80,552.86 L135.20,550.15 L135.60,554.98 L136.00,553.76 L136.40,550.44 L136.80,553.63 L137.20,549.03 L137.60,549.15 L138.00,554.32 L138.40,553.39 L138.80,552.44 L139.20,551.99 L139.60,550.79 L140.00,551.73 L140.40,550.42 L140.80,549.02 L141.20,550.39 L141.60,552.70 L142.00,555.35 L142.40,554.77 L142.80,552.47 L143.20,553.61 L143.60,551.87 L144.00,551.35 L144.40,549.11 L144.80,550.28 L145.20,553.33 L145.60,550.02 L146.00,549.86 L146.40,549.10 L146.80,552.59 L147.20,554.75 L147.60,554.17 L148.00,552.13 L148.40,551.40 L148.80,549.70 L149.20,551.62 L149.60,549.00 L150.00,549.44 L150.40,554.91 L150.80,552.20 L151.20,549.20 L151.60,551.72 L152.00,550.45 L152.40,549.59 L152.80,549.85 L153.20,554.89 L153.60,552.37 L154.00,551.13 L154.40,554.20 L154.80,553.21 L155.20,550.78 L155.60,554.96 L156.00,549.92 L156.40,555.63 L156.80,549.03 L157.20,551.79 L157.60,549.47 L158.00,552.05 L158.40,552.87 L158.80,549.08 L159.20,554.24 L159.60,550.12 L160.00,552.47 L160.40,549.66 L160.80,554.30 L161.20,549.18 L161.60,549.36 L162.00,549.34 L162.40,549.19 L162.80,553.29 L163.20,553.93 L163.60,555.17 L164.00,552.30 L164.40,549.19 L164.80,549.09 L165.20,550.45 L165.60,552.78 L166.00,549.13 L166.40,551.64 L166.80,549.23 L167.20,550.45 L167.60,551.28 L168.00,555.39 L168.40,553.51 L168.80,550.00 L169.20,551.16 L169.60,553.30 L170.00,550.50 L170.40,551.30 L170.80,553.79 L171.20,550.00 L171.60,554.38 L172.00,549.06 L172.40,549.70 L172.80,549.11 L173.20,549.16 L173.60,555.83 L174.00,550.53 L174.40,549.15 L174.80,551.76 L175.00,550.14 L175.20,551.41 L175.60,550.66 L176.00,562.43 L176.40,552.37 L176.80,550.09 L177.00,552.84 L177.20,549.06 L177.60,553.64 L178.00,551.99 L178.40,552.39 L178.80,551.69 L179.20,550.64 L179.60,553.94 L180.00,550.41 L180.40,553.24 L180.80,549.31 L181.20,550.64 L181.60,555.43 L182.00,550.62 L182.40,550.91 L182.80,552.32 L183.20,549.37 L183.60,549.10 L184.00,554.23 L184.40,551.61 L184.80,554.75 L185.20,549.25 L185.60,554.29 L186.00,549.02 L186.40,550.45 L186.80,552.31 L187.20,552.19 L187.60,550.54 L188.00,551.27 L188.40,549.11 L188.80,549.67 L189.20,549.86 L189.60,551.27 L190.00,549.81 L190.40,550.36 L190.80,549.21 L191.00,551.38 L191.20,550.49 L191.60,551.72 L192.00,549.06 L192.40,549.03 L192.80,550.10 L193.20,550.67 L193.60,554.29 L194.00,551.17 L194.40,554.41 L194.80,554.89 L195.20,549.34 L195.60,549.10 L196.00,552.68 L196.40,550.32 L196.80,549.87 L197.20,553.45 L197.60,550.12 L198.00,551.41 L198.40,549.54 L198.80,550.08 L199.20,554.69 L199.60,549.76 L200.00,552.72 L200.40,553.45 L200.80,550.32 L201.20,549.64 L201.60,553.86 L202.00,554.04 L202.40,551.30 L202.80,549.42 L203.20,553.40 L203.60,550.89 L204.00,549.19 L204.40,551.73 L204.80,549.54 L205.20,551.15 L205.60,550.54 L206.00,552.00 L206.40,551.04 L206.80,553.57 L207.20,552.82 L207.60,551.35 L208.00,551.08 L208.40,550.77 L208.80,549.52 L209.20,554.50 L209.60,549.12 L210.00,549.10 L210.40,551.74 L210.80,549.35 L211.20,550.80 L211.60,550.51 L212.00,553.60 L212.40,549.63 L212.80,550.87 L213.20,550.92 L213.60,550.20 L214.00,552.50 L214.40,549.13 L214.80,549.85 L215.20,549.51 L215.60,551.03 L216.00,549.13 L216.40,549.68 L216.80,550.79 L217.20,550.75 L217.60,549.75 L218.00,550.99 L218.40,549.76 L218.80,550.14 L219.20,549.71 L219.60,549.03 L220.00,549.17 L220.40,550.74 L220.80,549.81 L221.20,549.56 L221.60,549.01 L222.00,549.28 L222.40,549.64 L222.80,550.59 L223.20,549.04 L223.60,549.05 L224.00,549.03 L224.40,549.45 L224.80,549.13 L224.80,549.00Z" fill="#f00a0a"/>
<line x1="17.20" y1="549.00" x2="230.40" y2="549.00" stroke="#1a1a3a" stroke-width="0.8"/>
<line x1="230.40" y1="529.74" x2="230.40" y2="568.26" stroke="#555" stroke-width="0.7"/>
<line x1="229.20" y1="529.74" x2="231.60" y2="529.74" stroke="#333" stroke-width="1.0"/>
<line x1="229.20" y1="568.26" x2="231.60" y2="568.26" stroke="#333" stroke-width="1.0"/>
<line x1="225.50" y1="527.60" x2="225.50" y2="570.40" stroke="#bbb" stroke-width="0.5"/>
<text x="15.00" y="394.80" font-size="5.0" font-weight="normal" text-anchor="middle" fill="#222" transform="rotate(-90 15.00 394.80)">5</text>
<text x="15.00" y="416.20" font-size="5.0" font-weight="normal" text-anchor="middle" fill="#222" transform="rotate(-90 15.00 416.20)">0</text>
<text x="15.00" y="437.60" font-size="5.0" font-weight="normal" text-anchor="middle" fill="#222" transform="rotate(-90 15.00 437.60)">-5</text>
<text x="15.00" y="439.10" font-size="5.0" font-weight="normal" text-anchor="middle" fill="#222" transform="rotate(-90 15.00 439.10)">5</text>
<text x="15.00" y="460.50" font-size="5.0" font-weight="normal" text-anchor="middle" fill="#222" transform="rotate(-90 15.00 460.50)">0</text>
<text x="15.00" y="481.90" font-size="5.0" font-weight="normal" text-anchor="middle" fill="#222" transform="rotate(-90 15.00 481.90)">-5</text>
<text x="15.00" y="483.40" font-size="5.0" font-weight="normal" text-anchor="middle" fill="#222" transform="rotate(-90 15.00 483.40)">5</text>
<text x="15.00" y="504.80" font-size="5.0" font-weight="normal" text-anchor="middle" fill="#222" transform="rotate(-90 15.00 504.80)">0</text>
<text x="15.00" y="526.20" font-size="5.0" font-weight="normal" text-anchor="middle" fill="#222" transform="rotate(-90 15.00 526.20)">-5</text>
<text x="15.00" y="527.60" font-size="5.0" font-weight="normal" text-anchor="middle" fill="#222" transform="rotate(-90 15.00 527.60)">5</text>
<text x="15.00" y="549.00" font-size="5.0" font-weight="normal" text-anchor="middle" fill="#222" transform="rotate(-90 15.00 549.00)">0</text>
<text x="15.00" y="570.40" font-size="5.0" font-weight="normal" text-anchor="middle" fill="#222" transform="rotate(-90 15.00 570.40)">-5</text>
<text x="9.70" y="485.20" font-size="7.8" font-weight="normal" text-anchor="middle" fill="#111" transform="rotate(-90 9.70 485.20)" textLength="54.7" lengthAdjust="spacingAndGlyphs" stroke="#111" stroke-width="0.4">Log2 Enrichment</text>
<text x="237.80" y="416.20" font-size="7.5" font-weight="normal" text-anchor="middle" fill="#111" transform="rotate(-90 237.80 416.20)" textLength="37.5" lengthAdjust="spacingAndGlyphs" stroke="#111" stroke-width="0.25">H3K27 H3K4</text>
<text x="245.00" y="416.20" font-size="7.5" font-weight="normal" text-anchor="middle" fill="#111" transform="rotate(-90 245.00 416.20)" textLength="14" lengthAdjust="spacingAndGlyphs" stroke="#111" stroke-width="0.25">KG-1</text>
<text x="253.80" y="416.20" font-size="7.5" font-weight="normal" text-anchor="middle" fill="#111" transform="rotate(-90 253.80 416.20)" textLength="24" lengthAdjust="spacingAndGlyphs" stroke="#111" stroke-width="0.25">Control</text>
<text x="237.80" y="460.50" font-size="7.5" font-weight="normal" text-anchor="middle" fill="#111" transform="rotate(-90 237.80 460.50)" textLength="37.5" lengthAdjust="spacingAndGlyphs" stroke="#111" stroke-width="0.25">H3K27 H3K4</text>
<text x="245.00" y="460.50" font-size="7.5" font-weight="normal" text-anchor="middle" fill="#111" transform="rotate(-90 245.00 460.50)" textLength="14" lengthAdjust="spacingAndGlyphs" stroke="#111" stroke-width="0.25">KG-1</text>
<text x="253.80" y="458.30" font-size="7.5" font-weight="normal" text-anchor="middle" fill="#111" transform="rotate(-90 253.80 458.30)" textLength="43.5" lengthAdjust="spacingAndGlyphs" stroke="#111" stroke-width="0.25">5-aza-dC+TSA</text>
<text x="237.80" y="504.80" font-size="7.5" font-weight="normal" text-anchor="middle" fill="#111" transform="rotate(-90 237.80 504.80)" textLength="37.5" lengthAdjust="spacingAndGlyphs" stroke="#111" stroke-width="0.25">H3K27 H3K4</text>
<text x="245.00" y="504.80" font-size="7.5" font-weight="normal" text-anchor="middle" fill="#111" transform="rotate(-90 245.00 504.80)" textLength="26.6" lengthAdjust="spacingAndGlyphs" stroke="#111" stroke-width="0.25">AML-193</text>
<text x="253.80" y="504.80" font-size="7.5" font-weight="normal" text-anchor="middle" fill="#111" transform="rotate(-90 253.80 504.80)" textLength="24" lengthAdjust="spacingAndGlyphs" stroke="#111" stroke-width="0.25">Control</text>
<text x="237.80" y="549.00" font-size="7.5" font-weight="normal" text-anchor="middle" fill="#111" transform="rotate(-90 237.80 549.00)" textLength="37.5" lengthAdjust="spacingAndGlyphs" stroke="#111" stroke-width="0.25">H3K27 H3K4</text>
<text x="245.00" y="549.00" font-size="7.5" font-weight="normal" text-anchor="middle" fill="#111" transform="rotate(-90 245.00 549.00)" textLength="26.6" lengthAdjust="spacingAndGlyphs" stroke="#111" stroke-width="0.25">AML-193</text>
<text x="253.80" y="546.80" font-size="7.5" font-weight="normal" text-anchor="middle" fill="#111" transform="rotate(-90 253.80 546.80)" textLength="43.5" lengthAdjust="spacingAndGlyphs" stroke="#111" stroke-width="0.25">5-aza-dC+TSA</text>
<line x1="280.20" y1="436.80" x2="488.00" y2="436.80" stroke="#cfcfcf" stroke-width="0.7"/>
<line x1="280.20" y1="447.20" x2="488.00" y2="447.20" stroke="#cfcfcf" stroke-width="0.7"/>
<line x1="280.20" y1="431.60" x2="488.00" y2="431.60" stroke="#cfcfcf" stroke-width="0.7"/>
<line x1="280.20" y1="452.40" x2="488.00" y2="452.40" stroke="#cfcfcf" stroke-width="0.7"/>
<line x1="280.20" y1="426.40" x2="488.00" y2="426.40" stroke="#cfcfcf" stroke-width="0.7"/>
<line x1="280.20" y1="457.60" x2="488.00" y2="457.60" stroke="#cfcfcf" stroke-width="0.7"/>
<line x1="280.20" y1="421.20" x2="488.00" y2="421.20" stroke="#cfcfcf" stroke-width="0.7"/>
<line x1="280.20" y1="462.80" x2="488.00" y2="462.80" stroke="#cfcfcf" stroke-width="0.7"/>
<path d="M280.20,442.00 L280.20,441.00 L280.70,440.85 L281.20,440.46 L281.70,440.47 L282.00,440.00 L282.20,434.57 L282.70,421.20 L283.20,433.79 L283.50,440.50 L283.70,439.41 L284.20,441.41 L284.70,439.19 L285.20,439.68 L285.70,439.02 L286.00,439.00 L286.20,438.21 L286.70,435.69 L287.00,438.48 L287.20,435.10 L287.70,437.55 L288.00,439.00 L288.20,439.09 L288.70,438.19 L289.00,437.00 L289.20,436.95 L289.70,437.70 L290.20,436.59 L290.70,436.37 L291.20,441.44 L291.70,436.47 L292.20,435.81 L292.70,435.67 L293.00,435.00 L293.20,435.60 L293.70,435.29 L294.20,435.60 L294.70,435.76 L295.20,435.88 L295.70,435.91 L296.00,436.00 L296.20,436.61 L296.70,436.93 L297.20,435.67 L297.70,436.73 L298.00,435.00 L298.20,435.44 L298.70,436.91 L299.20,436.21 L299.70,437.49 L300.20,438.04 L300.70,437.77 L301.00,438.00 L301.20,438.07 L301.70,438.99 L302.20,438.90 L302.70,438.62 L303.20,438.96 L303.70,438.90 L304.00,439.00 L304.20,439.53 L304.70,438.91 L305.20,439.21 L305.70,438.69 L306.20,440.66 L306.70,440.76 L307.00,438.00 L307.20,438.28 L307.70,437.94 L308.20,438.50 L308.70,437.44 L309.20,437.27 L309.70,437.12 L310.00,437.00 L310.20,437.41 L310.70,437.47 L311.20,437.33 L311.70,437.59 L312.20,440.35 L312.70,438.50 L313.20,440.91 L313.70,437.93 L314.00,438.00 L314.20,438.26 L314.70,441.26 L315.20,439.27 L315.70,439.75 L316.00,440.00 L316.20,440.02 L316.70,440.16 L317.20,440.52 L317.70,440.32 L318.20,440.26 L318.70,440.45 L319.20,440.23 L319.70,440.64 L320.20,440.22 L320.70,440.54 L321.20,440.36 L321.70,440.30 L322.20,440.41 L322.70,440.42 L323.20,441.60 L323.70,440.43 L324.20,440.69 L324.70,440.54 L325.20,440.54 L325.70,440.66 L326.20,440.54 L326.70,440.65 L327.20,440.87 L327.70,440.75 L328.20,440.79 L328.70,440.83 L329.20,440.71 L329.70,440.77 L330.20,440.96 L330.70,441.77 L331.20,440.83 L331.70,440.83 L332.20,440.85 L332.70,441.13 L333.20,440.96 L333.70,441.18 L334.20,440.97 L334.70,441.09 L335.00,441.00 L335.20,441.03 L335.70,441.18 L336.20,441.12 L336.70,441.09 L337.20,441.04 L337.70,441.05 L338.20,441.10 L338.70,441.01 L339.20,441.02 L339.60,441.59 L339.70,441.02 L340.20,439.50 L340.40,439.00 L340.70,438.68 L341.20,436.92 L341.70,435.63 L341.90,435.10 L342.20,436.36 L342.70,438.57 L343.00,441.60 L343.20,439.31 L343.70,439.73 L344.00,440.00 L344.20,441.13 L344.50,438.00 L344.70,439.25 L345.00,440.00 L345.20,439.50 L345.70,437.03 L346.20,434.00 L346.70,433.01 L347.20,431.92 L347.50,431.00 L347.70,430.81 L348.20,431.64 L348.50,430.00 L348.70,429.47 L349.20,429.74 L349.70,426.90 L350.00,426.00 L350.20,427.63 L350.70,431.16 L351.20,432.00 L351.70,440.83 L352.00,439.00 L352.20,438.89 L352.70,438.74 L353.20,438.89 L353.50,438.00 L353.70,435.87 L354.20,432.68 L354.50,427.00 L354.70,425.78 L355.20,421.20 L355.70,424.56 L356.00,427.00 L356.20,432.57 L356.50,437.00 L356.70,437.64 L357.20,438.09 L357.50,438.50 L357.70,437.43 L358.00,434.00 L358.20,432.85 L358.70,429.56 L359.20,425.29 L359.50,422.40 L359.70,435.33 L360.20,424.42 L360.50,425.00 L360.70,428.68 L361.20,426.20 L361.70,427.20 L362.20,429.07 L362.50,427.00 L362.70,428.65 L363.20,431.19 L363.50,432.00 L363.70,432.94 L364.20,435.85 L364.70,438.20 L365.00,439.00 L365.20,440.95 L365.70,439.25 L366.20,439.75 L366.70,439.04 L367.00,439.00 L367.20,439.03 L367.70,439.58 L368.20,439.30 L368.70,439.49 L369.20,439.60 L369.70,439.71 L370.20,439.44 L370.70,439.86 L371.20,439.55 L371.70,440.07 L372.20,439.71 L372.70,439.72 L373.20,439.81 L373.70,439.88 L374.20,439.92 L374.70,440.22 L375.00,440.00 L375.20,440.14 L375.70,439.74 L376.20,439.52 L376.70,439.43 L377.20,439.68 L377.70,438.92 L378.20,439.01 L378.70,438.74 L379.20,438.45 L379.70,438.51 L380.00,438.00 L380.20,438.44 L380.70,438.39 L381.20,440.72 L381.70,438.53 L382.20,438.75 L382.70,438.55 L383.20,438.66 L383.70,438.83 L384.20,441.58 L384.70,438.96 L385.00,439.00 L385.20,438.94 L385.70,438.78 L386.20,439.09 L386.70,438.87 L387.20,438.27 L387.70,438.45 L388.00,438.00 L388.20,438.11 L388.70,440.82 L389.20,434.20 L389.50,433.00 L389.70,433.80 L390.20,437.03 L390.70,438.15 L391.00,439.00 L391.20,439.70 L391.70,439.39 L392.20,439.02 L392.70,439.33 L393.20,439.11 L393.70,439.00 L394.20,439.01 L394.70,439.47 L395.20,439.02 L395.70,439.01 L396.20,439.15 L396.70,439.11 L397.20,439.14 L397.70,439.30 L398.20,439.23 L398.70,439.03 L399.20,439.07 L399.70,439.03 L400.20,439.14 L400.70,439.00 L401.20,439.57 L401.70,439.33 L402.20,439.32 L402.70,439.41 L403.20,439.11 L403.70,439.26 L404.20,439.36 L404.70,439.08 L405.20,439.54 L405.70,439.35 L406.20,439.34 L406.70,439.58 L407.20,439.75 L407.70,439.11 L408.20,439.02 L408.70,439.29 L409.20,439.05 L409.70,439.28 L410.20,439.47 L410.70,439.60 L411.20,439.72 L411.70,439.37 L412.00,439.00 L412.20,438.24 L412.70,435.84 L413.20,433.68 L413.70,431.00 L414.20,434.49 L414.70,437.16 L415.00,439.00 L415.20,439.05 L415.70,439.32 L416.20,439.00 L416.70,438.84 L417.20,439.18 L417.70,439.51 L418.20,439.00 L418.70,439.04 L419.20,438.60 L419.70,439.29 L420.20,438.83 L420.70,438.50 L421.20,438.38 L421.70,438.36 L422.20,440.47 L422.70,438.26 L423.20,438.47 L423.70,438.82 L424.20,438.11 L424.70,438.04 L425.00,438.00 L425.20,437.78 L425.70,437.84 L426.20,437.18 L426.70,435.83 L427.20,435.23 L427.70,435.85 L428.00,434.00 L428.20,435.56 L428.70,434.47 L429.20,433.12 L429.70,434.90 L430.20,434.27 L430.70,433.14 L431.20,433.62 L431.70,431.87 L432.20,432.48 L432.70,430.24 L433.00,430.00 L433.20,431.37 L433.70,433.25 L434.20,431.72 L434.70,432.04 L435.20,432.59 L435.70,434.01 L436.00,433.00 L436.20,432.97 L436.70,434.45 L437.20,432.52 L437.70,431.90 L438.20,432.12 L438.70,431.76 L439.20,430.62 L439.70,430.39 L440.00,430.00 L440.20,431.57 L440.70,432.68 L441.20,432.05 L441.70,433.86 L442.20,434.53 L442.70,435.76 L443.20,435.61 L443.70,436.00 L444.00,436.00 L444.20,436.37 L444.70,437.16 L445.20,437.67 L445.70,438.97 L446.20,439.24 L446.70,439.65 L447.00,440.00 L447.20,440.21 L447.70,440.02 L448.20,440.10 L448.70,439.77 L449.20,439.85 L449.70,439.50 L450.20,441.52 L450.70,439.36 L451.20,439.48 L451.70,439.70 L452.00,439.00 L452.20,439.08 L452.70,438.30 L453.20,437.95 L453.70,437.52 L454.20,437.40 L454.70,436.38 L455.00,436.00 L455.20,435.96 L455.70,435.63 L456.20,436.15 L456.70,434.99 L457.20,436.00 L457.70,435.79 L458.20,434.14 L458.70,435.16 L459.20,433.48 L459.70,433.26 L460.00,433.00 L460.20,433.48 L460.70,433.67 L461.20,433.81 L461.70,434.08 L462.20,434.54 L462.70,434.89 L463.20,435.45 L463.70,435.61 L464.20,436.38 L464.70,436.69 L465.00,436.00 L465.20,436.11 L465.70,435.88 L466.20,435.78 L466.70,436.43 L467.20,436.46 L467.70,435.22 L468.20,434.73 L468.70,435.46 L469.20,434.75 L469.70,435.37 L470.00,434.00 L470.20,435.55 L470.70,435.59 L471.20,437.55 L471.70,437.55 L472.00,438.00 L472.20,438.20 L472.70,438.01 L472.70,442.00Z" fill="#1616cc"/>
<rect x="281.20" y="440.79" width="0.6" height="1.21" fill="#6a6af2" opacity="0.75"/>
<rect x="282.70" y="431.50" width="0.6" height="10.50" fill="#6a6af2" opacity="0.75"/>
<rect x="285.20" y="439.80" width="0.6" height="2.20" fill="#6a6af2" opacity="0.75"/>
<rect x="286.00" y="439.59" width="0.6" height="2.41" fill="#0c0c9a" opacity="0.75"/>
<rect x="287.70" y="439.60" width="0.6" height="2.40" fill="#6a6af2" opacity="0.75"/>
<rect x="288.20" y="439.98" width="0.6" height="2.02" fill="#0c0c9a" opacity="0.75"/>
<rect x="289.70" y="438.99" width="0.6" height="3.01" fill="#4848e8" opacity="0.75"/>
<rect x="291.70" y="438.41" width="0.6" height="3.59" fill="#6a6af2" opacity="0.75"/>
<rect x="292.20" y="437.07" width="0.6" height="4.93" fill="#0c0c9a" opacity="0.75"/>
<rect x="293.20" y="438.40" width="0.6" height="3.60" fill="#4848e8" opacity="0.75"/>
<rect x="294.20" y="437.33" width="0.6" height="4.67" fill="#0c0c9a" opacity="0.75"/>
<rect x="296.00" y="437.55" width="0.6" height="4.45" fill="#0c0c9a" opacity="0.75"/>
<rect x="296.70" y="437.56" width="0.6" height="4.44" fill="#6a6af2" opacity="0.75"/>
<rect x="298.00" y="438.43" width="0.6" height="3.57" fill="#6a6af2" opacity="0.75"/>
<rect x="298.70" y="438.03" width="0.6" height="3.97" fill="#4848e8" opacity="0.75"/>
<rect x="299.70" y="438.45" width="0.6" height="3.55" fill="#6a6af2" opacity="0.75"/>
<rect x="300.20" y="439.43" width="0.6" height="2.57" fill="#4848e8" opacity="0.75"/>
<rect x="301.20" y="439.56" width="0.6" height="2.44" fill="#0c0c9a" opacity="0.75"/>
<rect x="302.70" y="439.26" width="0.6" height="2.74" fill="#4848e8" opacity="0.75"/>
<rect x="303.20" y="439.69" width="0.6" height="2.31" fill="#4848e8" opacity="0.75"/>
<rect x="304.70" y="439.25" width="0.6" height="2.75" fill="#0c0c9a" opacity="0.75"/>
<rect x="305.20" y="440.22" width="0.6" height="1.78" fill="#6a6af2" opacity="0.75"/>
<rect x="308.20" y="438.74" width="0.6" height="3.26" fill="#6a6af2" opacity="0.75"/>
<rect x="309.70" y="438.58" width="0.6" height="3.42" fill="#4848e8" opacity="0.75"/>
<rect x="310.70" y="437.97" width="0.6" height="4.03" fill="#4848e8" opacity="0.75"/>
<rect x="315.20" y="439.99" width="0.6" height="2.01" fill="#4848e8" opacity="0.75"/>
<rect x="316.20" y="440.22" width="0.6" height="1.78" fill="#4848e8" opacity="0.75"/>
<rect x="318.20" y="440.95" width="0.6" height="1.05" fill="#0c0c9a" opacity="0.75"/>
<rect x="321.70" y="440.77" width="0.6" height="1.23" fill="#0c0c9a" opacity="0.75"/>
<rect x="322.20" y="441.07" width="0.6" height="0.93" fill="#4848e8" opacity="0.75"/>
<rect x="322.70" y="440.90" width="0.6" height="1.10" fill="#0c0c9a" opacity="0.75"/>
<rect x="340.20" y="439.64" width="0.6" height="2.36" fill="#4848e8" opacity="0.75"/>
<rect x="341.20" y="439.01" width="0.6" height="2.99" fill="#4848e8" opacity="0.75"/>
<rect x="341.70" y="437.25" width="0.6" height="4.75" fill="#4848e8" opacity="0.75"/>
<rect x="343.20" y="440.66" width="0.6" height="1.34" fill="#4848e8" opacity="0.75"/>
<rect x="344.00" y="440.28" width="0.6" height="1.72" fill="#6a6af2" opacity="0.75"/>
<rect x="344.70" y="439.68" width="0.6" height="2.32" fill="#4848e8" opacity="0.75"/>
<rect x="345.70" y="437.65" width="0.6" height="4.35" fill="#6a6af2" opacity="0.75"/>
<rect x="346.20" y="436.41" width="0.6" height="5.59" fill="#0c0c9a" opacity="0.75"/>
<rect x="347.20" y="435.71" width="0.6" height="6.29" fill="#4848e8" opacity="0.75"/>
<rect x="348.50" y="434.67" width="0.6" height="7.33" fill="#6a6af2" opacity="0.75"/>
<rect x="348.70" y="433.17" width="0.6" height="8.83" fill="#0c0c9a" opacity="0.75"/>
<rect x="353.50" y="439.65" width="0.6" height="2.35" fill="#0c0c9a" opacity="0.75"/>
<rect x="354.20" y="433.16" width="0.6" height="8.84" fill="#6a6af2" opacity="0.75"/>
<rect x="354.50" y="431.02" width="0.6" height="10.98" fill="#6a6af2" opacity="0.75"/>
<rect x="354.70" y="431.05" width="0.6" height="10.95" fill="#0c0c9a" opacity="0.75"/>
<rect x="355.70" y="432.48" width="0.6" height="9.52" fill="#4848e8" opacity="0.75"/>
<rect x="356.00" y="433.37" width="0.6" height="8.63" fill="#0c0c9a" opacity="0.75"/>
<rect x="356.50" y="437.37" width="0.6" height="4.63" fill="#0c0c9a" opacity="0.75"/>
<rect x="357.20" y="439.90" width="0.6" height="2.10" fill="#4848e8" opacity="0.75"/>
<rect x="357.70" y="438.68" width="0.6" height="3.32" fill="#0c0c9a" opacity="0.75"/>
<rect x="358.20" y="433.47" width="0.6" height="8.53" fill="#4848e8" opacity="0.75"/>
<rect x="359.20" y="429.64" width="0.6" height="12.36" fill="#4848e8" opacity="0.75"/>
<rect x="359.50" y="429.35" width="0.6" height="12.65" fill="#6a6af2" opacity="0.75"/>
<rect x="359.70" y="437.23" width="0.6" height="4.77" fill="#6a6af2" opacity="0.75"/>
<rect x="360.50" y="433.31" width="0.6" height="8.69" fill="#6a6af2" opacity="0.75"/>
<rect x="360.70" y="433.36" width="0.6" height="8.64" fill="#4848e8" opacity="0.75"/>
<rect x="361.70" y="434.18" width="0.6" height="7.82" fill="#0c0c9a" opacity="0.75"/>
<rect x="364.70" y="439.54" width="0.6" height="2.46" fill="#4848e8" opacity="0.75"/>
<rect x="366.70" y="439.82" width="0.6" height="2.18" fill="#6a6af2" opacity="0.75"/>
<rect x="367.70" y="439.77" width="0.6" height="2.23" fill="#4848e8" opacity="0.75"/>
<rect x="368.20" y="439.83" width="0.6" height="2.17" fill="#4848e8" opacity="0.75"/>
<rect x="369.20" y="440.51" width="0.6" height="1.49" fill="#6a6af2" opacity="0.75"/>
<rect x="370.20" y="440.10" width="0.6" height="1.90" fill="#0c0c9a" opacity="0.75"/>
<rect x="371.70" y="440.47" width="0.6" height="1.53" fill="#4848e8" opacity="0.75"/>
<rect x="375.20" y="441.04" width="0.6" height="0.96" fill="#4848e8" opacity="0.75"/>
<rect x="376.70" y="440.40" width="0.6" height="1.60" fill="#4848e8" opacity="0.75"/>
<rect x="377.70" y="440.19" width="0.6" height="1.81" fill="#0c0c9a" opacity="0.75"/>
<rect x="378.20" y="439.63" width="0.6" height="2.37" fill="#6a6af2" opacity="0.75"/>
<rect x="379.20" y="439.27" width="0.6" height="2.73" fill="#0c0c9a" opacity="0.75"/>
<rect x="381.70" y="440.16" width="0.6" height="1.84" fill="#0c0c9a" opacity="0.75"/>
<rect x="382.70" y="438.87" width="0.6" height="3.13" fill="#4848e8" opacity="0.75"/>
<rect x="384.70" y="439.86" width="0.6" height="2.14" fill="#6a6af2" opacity="0.75"/>
<rect x="385.00" y="440.11" width="0.6" height="1.89" fill="#4848e8" opacity="0.75"/>
<rect x="385.70" y="439.11" width="0.6" height="2.89" fill="#0c0c9a" opacity="0.75"/>
<rect x="386.20" y="440.01" width="0.6" height="1.99" fill="#6a6af2" opacity="0.75"/>
<rect x="386.70" y="439.80" width="0.6" height="2.20" fill="#6a6af2" opacity="0.75"/>
<rect x="387.70" y="440.12" width="0.6" height="1.88" fill="#4848e8" opacity="0.75"/>
<rect x="390.20" y="438.37" width="0.6" height="3.63" fill="#0c0c9a" opacity="0.75"/>
<rect x="391.20" y="440.54" width="0.6" height="1.46" fill="#4848e8" opacity="0.75"/>
<rect x="393.70" y="440.13" width="0.6" height="1.87" fill="#4848e8" opacity="0.75"/>
<rect x="395.70" y="440.26" width="0.6" height="1.74" fill="#6a6af2" opacity="0.75"/>
<rect x="396.70" y="440.52" width="0.6" height="1.48" fill="#4848e8" opacity="0.75"/>
<rect x="397.70" y="440.29" width="0.6" height="1.71" fill="#6a6af2" opacity="0.75"/>
<rect x="399.20" y="440.16" width="0.6" height="1.84" fill="#4848e8" opacity="0.75"/>
<rect x="400.70" y="439.73" width="0.6" height="2.27" fill="#6a6af2" opacity="0.75"/>
<rect x="401.20" y="439.93" width="0.6" height="2.07" fill="#0c0c9a" opacity="0.75"/>
<rect x="401.70" y="439.63" width="0.6" height="2.37" fill="#4848e8" opacity="0.75"/>
<rect x="403.20" y="439.69" width="0.6" height="2.31" fill="#0c0c9a" opacity="0.75"/>
<rect x="404.20" y="440.35" width="0.6" height="1.65" fill="#6a6af2" opacity="0.75"/>
<rect x="404.70" y="440.08" width="0.6" height="1.92" fill="#4848e8" opacity="0.75"/>
<rect x="405.70" y="439.97" width="0.6" height="2.03" fill="#0c0c9a" opacity="0.75"/>
<rect x="406.20" y="440.48" width="0.6" height="1.52" fill="#4848e8" opacity="0.75"/>
<rect x="407.70" y="439.47" width="0.6" height="2.53" fill="#4848e8" opacity="0.75"/>
<rect x="408.20" y="439.71" width="0.6" height="2.29" fill="#4848e8" opacity="0.75"/>
<rect x="408.70" y="440.55" width="0.6" height="1.45" fill="#4848e8" opacity="0.75"/>
<rect x="409.70" y="440.60" width="0.6" height="1.40" fill="#0c0c9a" opacity="0.75"/>
<rect x="410.70" y="440.30" width="0.6" height="1.70" fill="#6a6af2" opacity="0.75"/>
<rect x="415.70" y="440.62" width="0.6" height="1.38" fill="#6a6af2" opacity="0.75"/>
<rect x="417.20" y="439.32" width="0.6" height="2.68" fill="#0c0c9a" opacity="0.75"/>
<rect x="417.70" y="440.13" width="0.6" height="1.87" fill="#0c0c9a" opacity="0.75"/>
<rect x="418.70" y="439.22" width="0.6" height="2.78" fill="#6a6af2" opacity="0.75"/>
<rect x="421.70" y="439.89" width="0.6" height="2.11" fill="#0c0c9a" opacity="0.75"/>
<rect x="422.70" y="439.65" width="0.6" height="2.35" fill="#6a6af2" opacity="0.75"/>
<rect x="425.00" y="439.97" width="0.6" height="2.03" fill="#4848e8" opacity="0.75"/>
<rect x="426.20" y="438.60" width="0.6" height="3.40" fill="#0c0c9a" opacity="0.75"/>
<rect x="427.20" y="438.57" width="0.6" height="3.43" fill="#0c0c9a" opacity="0.75"/>
<rect x="428.70" y="437.60" width="0.6" height="4.40" fill="#0c0c9a" opacity="0.75"/>
<rect x="429.20" y="436.23" width="0.6" height="5.77" fill="#0c0c9a" opacity="0.75"/>
<rect x="429.70" y="436.64" width="0.6" height="5.36" fill="#6a6af2" opacity="0.75"/>
<rect x="430.70" y="435.71" width="0.6" height="6.29" fill="#6a6af2" opacity="0.75"/>
<rect x="431.20" y="435.13" width="0.6" height="6.87" fill="#4848e8" opacity="0.75"/>
<rect x="433.00" y="431.01" width="0.6" height="10.99" fill="#0c0c9a" opacity="0.75"/>
<rect x="433.20" y="435.99" width="0.6" height="6.01" fill="#6a6af2" opacity="0.75"/>
<rect x="433.70" y="434.03" width="0.6" height="7.97" fill="#4848e8" opacity="0.75"/>
<rect x="436.00" y="435.01" width="0.6" height="6.99" fill="#4848e8" opacity="0.75"/>
<rect x="437.20" y="435.30" width="0.6" height="6.70" fill="#4848e8" opacity="0.75"/>
<rect x="439.70" y="436.03" width="0.6" height="5.97" fill="#4848e8" opacity="0.75"/>
<rect x="440.70" y="437.09" width="0.6" height="4.91" fill="#4848e8" opacity="0.75"/>
<rect x="444.00" y="438.36" width="0.6" height="3.64" fill="#6a6af2" opacity="0.75"/>
<rect x="446.70" y="439.82" width="0.6" height="2.18" fill="#6a6af2" opacity="0.75"/>
<rect x="448.20" y="440.64" width="0.6" height="1.36" fill="#0c0c9a" opacity="0.75"/>
<rect x="450.70" y="440.67" width="0.6" height="1.33" fill="#0c0c9a" opacity="0.75"/>
<rect x="452.00" y="440.45" width="0.6" height="1.55" fill="#6a6af2" opacity="0.75"/>
<rect x="453.70" y="438.95" width="0.6" height="3.05" fill="#0c0c9a" opacity="0.75"/>
<rect x="455.00" y="438.17" width="0.6" height="3.83" fill="#6a6af2" opacity="0.75"/>
<rect x="455.20" y="436.70" width="0.6" height="5.30" fill="#4848e8" opacity="0.75"/>
<rect x="455.70" y="436.39" width="0.6" height="5.61" fill="#0c0c9a" opacity="0.75"/>
<rect x="456.70" y="438.41" width="0.6" height="3.59" fill="#6a6af2" opacity="0.75"/>
<rect x="457.70" y="438.50" width="0.6" height="3.50" fill="#6a6af2" opacity="0.75"/>
<rect x="458.20" y="436.42" width="0.6" height="5.58" fill="#6a6af2" opacity="0.75"/>
<rect x="459.20" y="434.87" width="0.6" height="7.13" fill="#4848e8" opacity="0.75"/>
<rect x="459.70" y="436.63" width="0.6" height="5.37" fill="#6a6af2" opacity="0.75"/>
<rect x="460.70" y="436.33" width="0.6" height="5.67" fill="#6a6af2" opacity="0.75"/>
<rect x="463.20" y="437.84" width="0.6" height="4.16" fill="#0c0c9a" opacity="0.75"/>
<rect x="464.70" y="437.56" width="0.6" height="4.44" fill="#6a6af2" opacity="0.75"/>
<rect x="465.00" y="436.85" width="0.6" height="5.15" fill="#4848e8" opacity="0.75"/>
<rect x="467.20" y="438.36" width="0.6" height="3.64" fill="#4848e8" opacity="0.75"/>
<rect x="468.20" y="436.26" width="0.6" height="5.74" fill="#0c0c9a" opacity="0.75"/>
<rect x="468.70" y="437.95" width="0.6" height="4.05" fill="#0c0c9a" opacity="0.75"/>
<rect x="469.70" y="438.09" width="0.6" height="3.91" fill="#4848e8" opacity="0.75"/>
<rect x="471.70" y="438.54" width="0.6" height="3.46" fill="#6a6af2" opacity="0.75"/>
<rect x="472.70" y="439.90" width="0.6" height="2.10" fill="#4848e8" opacity="0.75"/>
<path d="M473.00,442.00 L473.00,438.78 L473.50,438.06 L474.00,438.00 L474.50,440.57 L475.00,438.35 L475.50,439.27 L476.00,438.23 L476.50,438.87 L477.00,438.00 L477.50,438.07 L478.00,438.50 L478.50,439.28 L479.00,440.06 L479.50,438.12 L480.00,441.79 L480.50,438.59 L481.00,439.09 L481.50,438.53 L482.00,438.45 L482.50,438.58 L483.00,438.78 L483.50,441.72 L484.00,439.13 L484.50,438.90 L485.00,439.00 L485.50,440.15 L486.00,439.64 L486.50,440.08 L487.00,440.14 L487.50,439.93 L487.70,440.00 L487.70,442.00Z" fill="#7070e0"/>
<path d="M280.20,442.00 L280.20,447.00 L280.70,447.26 L281.20,447.49 L281.70,447.25 L282.20,447.00 L282.70,447.04 L283.20,448.06 L283.70,448.14 L284.00,445.13 L284.20,449.76 L284.70,453.81 L285.00,456.00 L285.20,454.26 L285.70,455.40 L286.20,455.51 L286.70,454.00 L287.20,455.26 L287.70,456.16 L288.20,455.53 L288.70,446.69 L289.20,458.52 L289.70,457.87 L290.00,459.00 L290.20,455.86 L290.70,458.48 L291.20,458.67 L291.70,457.90 L292.20,457.30 L292.70,458.97 L293.20,458.53 L293.70,458.39 L294.20,455.61 L294.70,458.40 L295.00,459.00 L295.20,455.64 L295.70,450.40 L296.00,443.45 L296.20,447.42 L296.70,451.46 L297.20,454.79 L297.70,455.63 L298.00,460.00 L298.20,459.05 L298.70,458.75 L299.20,457.99 L299.70,458.16 L300.20,459.86 L300.70,457.72 L301.20,447.10 L301.70,458.97 L302.20,460.58 L302.70,460.00 L303.20,460.86 L303.70,460.43 L304.00,461.00 L304.20,455.36 L304.70,450.36 L305.00,446.00 L305.20,447.16 L305.70,448.94 L306.20,453.80 L306.70,444.13 L307.00,459.00 L307.20,456.95 L307.70,458.42 L308.20,459.20 L308.70,459.55 L309.20,459.64 L309.70,446.91 L310.00,446.84 L310.20,460.30 L310.70,461.05 L311.20,457.57 L311.70,462.30 L312.00,462.80 L312.20,459.55 L312.70,462.80 L313.20,461.11 L313.70,460.02 L314.20,461.60 L314.70,459.67 L315.20,462.80 L315.70,462.80 L316.20,461.80 L316.70,459.91 L317.20,462.80 L317.70,459.47 L318.00,462.80 L318.20,459.65 L318.70,451.79 L319.00,447.00 L319.20,447.87 L319.70,454.48 L320.00,459.00 L320.20,450.11 L320.70,457.24 L321.20,456.45 L321.70,458.98 L322.20,458.05 L322.70,455.91 L323.20,457.55 L323.70,458.59 L324.20,455.68 L324.70,455.96 L325.20,457.41 L325.70,458.70 L326.20,458.99 L326.70,445.27 L327.20,458.96 L327.70,458.59 L328.20,458.15 L328.70,458.53 L329.20,458.65 L329.70,456.12 L330.20,450.12 L330.70,458.01 L331.20,458.94 L331.70,458.64 L332.20,458.99 L332.70,456.48 L333.20,458.14 L333.70,445.45 L334.20,458.46 L334.70,457.73 L335.00,448.10 L335.20,455.70 L335.70,455.11 L336.00,454.00 L336.20,453.94 L336.70,452.40 L337.20,453.41 L337.70,447.57 L338.20,453.10 L338.70,453.85 L339.00,454.00 L339.20,454.26 L339.70,456.35 L340.20,455.20 L340.70,457.28 L341.00,461.00 L341.20,460.79 L341.70,459.06 L342.20,459.49 L342.70,459.72 L343.20,458.34 L343.70,456.99 L344.20,460.78 L344.70,460.93 L345.20,460.99 L345.70,460.60 L346.20,460.93 L346.70,458.87 L347.20,460.93 L347.70,459.24 L348.00,461.00 L348.20,455.70 L348.70,448.85 L349.00,446.00 L349.20,445.90 L349.70,446.05 L350.20,445.90 L350.70,446.01 L351.20,445.79 L351.70,446.25 L352.20,442.46 L352.70,446.41 L353.20,446.18 L353.70,446.13 L354.20,446.39 L354.70,446.58 L355.20,442.96 L355.70,446.42 L356.20,445.93 L356.70,446.58 L357.20,446.40 L357.70,446.94 L358.00,447.00 L358.20,449.35 L358.70,454.91 L359.00,460.00 L359.20,458.48 L359.70,459.77 L360.20,449.43 L360.70,459.33 L361.20,458.83 L361.70,459.55 L362.20,459.21 L362.70,456.97 L363.20,458.94 L363.70,457.18 L364.20,459.11 L364.70,458.87 L365.20,458.40 L365.70,455.89 L366.20,455.82 L366.70,458.72 L367.20,456.24 L367.70,455.70 L368.20,458.46 L368.70,458.04 L369.20,455.83 L369.70,457.78 L370.20,457.95 L370.70,457.44 L371.20,456.45 L371.70,455.12 L372.20,457.16 L372.70,457.31 L373.20,457.58 L373.70,457.36 L374.20,457.04 L374.70,444.88 L375.20,456.78 L375.70,457.08 L376.20,457.05 L376.70,454.00 L377.20,446.02 L377.70,455.76 L378.20,456.23 L378.70,456.72 L379.20,455.12 L379.70,455.79 L380.20,455.61 L380.70,455.55 L381.20,443.73 L381.70,456.21 L382.20,455.96 L382.70,455.27 L383.00,456.00 L383.20,454.58 L383.70,455.17 L384.20,455.93 L384.70,453.94 L385.20,455.84 L385.70,453.72 L386.20,455.77 L386.70,453.47 L387.20,455.57 L387.70,455.70 L388.20,454.62 L388.70,453.44 L389.20,455.42 L389.70,455.56 L390.20,453.82 L390.70,455.33 L391.20,453.89 L391.70,453.62 L392.20,453.82 L392.70,453.79 L393.20,452.46 L393.70,455.21 L394.20,455.32 L394.70,453.36 L395.20,454.48 L395.70,455.23 L396.20,454.54 L396.70,453.83 L397.20,453.30 L397.70,453.78 L398.20,452.30 L398.70,454.06 L399.20,454.54 L399.70,454.62 L400.00,455.00 L400.20,453.59 L400.70,446.54 L401.20,453.47 L401.70,446.70 L402.20,454.96 L402.70,453.03 L403.20,443.75 L403.70,455.18 L404.20,443.20 L404.70,455.37 L405.20,452.65 L405.70,454.69 L406.20,453.69 L406.70,455.54 L407.20,453.37 L407.70,453.40 L408.20,452.87 L408.70,453.47 L409.20,453.75 L409.70,455.00 L410.20,454.26 L410.70,454.87 L411.20,455.83 L411.70,453.99 L412.00,456.00 L412.20,454.53 L412.70,451.99 L413.20,449.32 L413.70,446.19 L414.00,445.00 L414.20,446.87 L414.70,452.99 L415.00,457.00 L415.20,456.97 L415.70,455.58 L416.20,456.34 L416.70,457.00 L417.20,455.14 L417.70,456.10 L418.20,455.97 L418.70,444.81 L419.20,454.35 L419.70,453.79 L420.20,455.87 L420.70,455.96 L421.20,456.63 L421.70,454.33 L422.20,456.53 L422.70,456.97 L423.20,454.96 L423.70,455.40 L424.20,456.64 L424.70,453.88 L425.00,457.00 L425.20,456.36 L425.70,457.87 L426.00,461.00 L426.20,451.38 L426.70,460.95 L427.20,459.41 L427.70,460.88 L428.20,460.79 L428.70,458.86 L429.20,460.17 L429.70,459.82 L430.20,457.68 L430.70,460.89 L431.20,460.94 L431.70,460.34 L432.20,460.02 L432.70,461.00 L433.20,460.29 L433.70,460.96 L434.20,459.02 L434.70,460.21 L435.20,456.94 L435.70,458.10 L436.20,457.92 L436.70,460.65 L437.20,457.66 L437.70,460.04 L438.20,448.37 L438.70,446.18 L439.20,459.26 L439.70,459.83 L440.20,460.71 L440.70,460.49 L441.20,459.54 L441.70,460.28 L442.20,457.84 L442.70,460.87 L443.20,458.64 L443.70,459.82 L444.20,459.26 L444.70,457.66 L445.20,456.89 L445.70,458.85 L446.20,460.67 L446.70,457.53 L447.20,459.83 L447.70,460.82 L448.20,458.60 L448.70,459.62 L449.20,460.71 L449.70,460.45 L450.20,460.94 L450.70,460.75 L451.20,460.08 L451.70,458.67 L452.20,460.90 L452.70,458.49 L453.20,461.00 L453.70,458.51 L454.20,460.98 L454.70,448.43 L455.20,457.92 L455.70,460.87 L456.20,458.42 L456.70,457.96 L457.20,457.77 L457.70,458.21 L458.20,461.00 L458.70,459.96 L459.20,460.93 L459.70,443.11 L460.20,458.96 L460.70,457.84 L461.20,449.59 L461.70,460.83 L462.20,460.01 L462.70,460.75 L463.20,460.99 L463.70,460.93 L464.20,460.59 L464.70,457.61 L465.20,457.94 L465.70,460.18 L466.20,459.10 L466.70,460.71 L467.20,460.80 L467.70,461.00 L468.20,458.28 L468.70,460.85 L469.20,443.41 L469.70,460.83 L470.20,458.48 L470.70,458.98 L471.20,460.72 L471.70,460.16 L472.20,460.18 L472.70,458.48 L472.80,461.00 L472.80,442.00Z" fill="#f00a0a"/>
<rect x="281.20" y="442.00" width="0.6" height="5.07" fill="#ffffff" opacity="0.75"/>
<rect x="283.70" y="442.00" width="0.6" height="4.23" fill="#ffffff" opacity="0.75"/>
<rect x="285.00" y="442.00" width="0.6" height="13.08" fill="#ffffff" opacity="0.75"/>
<rect x="286.20" y="442.00" width="0.6" height="8.37" fill="#f8a0a0" opacity="0.75"/>
<rect x="287.20" y="442.00" width="0.6" height="9.43" fill="#b00000" opacity="0.75"/>
<rect x="287.70" y="442.00" width="0.6" height="9.57" fill="#b00000" opacity="0.75"/>
<rect x="288.20" y="442.00" width="0.6" height="12.39" fill="#ffffff" opacity="0.75"/>
<rect x="289.70" y="442.00" width="0.6" height="13.82" fill="#ffffff" opacity="0.75"/>
<rect x="290.00" y="442.00" width="0.6" height="9.18" fill="#f8a0a0" opacity="0.75"/>
<rect x="290.20" y="442.00" width="0.6" height="12.18" fill="#b00000" opacity="0.75"/>
<rect x="291.70" y="442.00" width="0.6" height="11.81" fill="#f8a0a0" opacity="0.75"/>
<rect x="292.70" y="442.00" width="0.6" height="14.45" fill="#b00000" opacity="0.75"/>
<rect x="294.20" y="442.00" width="0.6" height="10.11" fill="#b00000" opacity="0.75"/>
<rect x="295.20" y="442.00" width="0.6" height="7.48" fill="#ffffff" opacity="0.75"/>
<rect x="296.20" y="442.00" width="0.6" height="4.56" fill="#f8a0a0" opacity="0.75"/>
<rect x="298.20" y="442.00" width="0.6" height="15.02" fill="#b00000" opacity="0.75"/>
<rect x="298.70" y="442.00" width="0.6" height="10.29" fill="#f8a0a0" opacity="0.75"/>
<rect x="300.70" y="442.00" width="0.6" height="14.62" fill="#ffffff" opacity="0.75"/>
<rect x="301.20" y="442.00" width="0.6" height="3.41" fill="#ffffff" opacity="0.75"/>
<rect x="301.70" y="442.00" width="0.6" height="8.94" fill="#f8a0a0" opacity="0.75"/>
<rect x="303.70" y="442.00" width="0.6" height="17.13" fill="#ffffff" opacity="0.75"/>
<rect x="304.00" y="442.00" width="0.6" height="12.09" fill="#ffffff" opacity="0.75"/>
<rect x="304.70" y="442.00" width="0.6" height="6.68" fill="#ffffff" opacity="0.75"/>
<rect x="305.70" y="442.00" width="0.6" height="6.05" fill="#f8a0a0" opacity="0.75"/>
<rect x="306.70" y="442.00" width="0.6" height="1.80" fill="#b00000" opacity="0.75"/>
<rect x="307.00" y="442.00" width="0.6" height="14.26" fill="#b00000" opacity="0.75"/>
<rect x="307.70" y="442.00" width="0.6" height="13.90" fill="#ffffff" opacity="0.75"/>
<rect x="310.00" y="442.00" width="0.6" height="3.35" fill="#f8a0a0" opacity="0.75"/>
<rect x="311.70" y="442.00" width="0.6" height="16.22" fill="#b00000" opacity="0.75"/>
<rect x="312.00" y="442.00" width="0.6" height="14.28" fill="#ffffff" opacity="0.75"/>
<rect x="315.70" y="442.00" width="0.6" height="18.80" fill="#f8a0a0" opacity="0.75"/>
<rect x="316.20" y="442.00" width="0.6" height="12.79" fill="#f8a0a0" opacity="0.75"/>
<rect x="316.70" y="442.00" width="0.6" height="10.82" fill="#ffffff" opacity="0.75"/>
<rect x="318.00" y="442.00" width="0.6" height="12.72" fill="#ffffff" opacity="0.75"/>
<rect x="319.00" y="442.00" width="0.6" height="3.65" fill="#b00000" opacity="0.75"/>
<rect x="319.20" y="442.00" width="0.6" height="3.50" fill="#ffffff" opacity="0.75"/>
<rect x="319.70" y="442.00" width="0.6" height="11.22" fill="#b00000" opacity="0.75"/>
<rect x="320.00" y="442.00" width="0.6" height="8.72" fill="#ffffff" opacity="0.75"/>
<rect x="320.20" y="442.00" width="0.6" height="6.05" fill="#f8a0a0" opacity="0.75"/>
<rect x="321.20" y="442.00" width="0.6" height="13.07" fill="#b00000" opacity="0.75"/>
<rect x="322.20" y="442.00" width="0.6" height="10.48" fill="#f8a0a0" opacity="0.75"/>
<rect x="323.70" y="442.00" width="0.6" height="9.76" fill="#ffffff" opacity="0.75"/>
<rect x="326.70" y="442.00" width="0.6" height="2.10" fill="#ffffff" opacity="0.75"/>
<rect x="327.70" y="442.00" width="0.6" height="9.81" fill="#f8a0a0" opacity="0.75"/>
<rect x="330.20" y="442.00" width="0.6" height="6.53" fill="#ffffff" opacity="0.75"/>
<rect x="330.70" y="442.00" width="0.6" height="13.56" fill="#f8a0a0" opacity="0.75"/>
<rect x="333.70" y="442.00" width="0.6" height="2.87" fill="#b00000" opacity="0.75"/>
<rect x="334.20" y="442.00" width="0.6" height="15.24" fill="#ffffff" opacity="0.75"/>
<rect x="334.70" y="442.00" width="0.6" height="14.19" fill="#ffffff" opacity="0.75"/>
<rect x="335.00" y="442.00" width="0.6" height="5.77" fill="#b00000" opacity="0.75"/>
<rect x="337.20" y="442.00" width="0.6" height="8.71" fill="#ffffff" opacity="0.75"/>
<rect x="337.70" y="442.00" width="0.6" height="2.99" fill="#ffffff" opacity="0.75"/>
<rect x="338.20" y="442.00" width="0.6" height="9.28" fill="#b00000" opacity="0.75"/>
<rect x="339.70" y="442.00" width="0.6" height="9.62" fill="#b00000" opacity="0.75"/>
<rect x="341.00" y="442.00" width="0.6" height="17.51" fill="#b00000" opacity="0.75"/>
<rect x="342.70" y="442.00" width="0.6" height="14.52" fill="#ffffff" opacity="0.75"/>
<rect x="343.20" y="442.00" width="0.6" height="10.44" fill="#b00000" opacity="0.75"/>
<rect x="343.70" y="442.00" width="0.6" height="11.90" fill="#b00000" opacity="0.75"/>
<rect x="344.70" y="442.00" width="0.6" height="15.47" fill="#f8a0a0" opacity="0.75"/>
<rect x="345.70" y="442.00" width="0.6" height="17.28" fill="#ffffff" opacity="0.75"/>
<rect x="346.20" y="442.00" width="0.6" height="9.92" fill="#b00000" opacity="0.75"/>
<rect x="347.70" y="442.00" width="0.6" height="13.60" fill="#f8a0a0" opacity="0.75"/>
<rect x="351.70" y="442.00" width="0.6" height="3.06" fill="#ffffff" opacity="0.75"/>
<rect x="353.20" y="442.00" width="0.6" height="3.46" fill="#f8a0a0" opacity="0.75"/>
<rect x="353.70" y="442.00" width="0.6" height="3.05" fill="#f8a0a0" opacity="0.75"/>
<rect x="354.70" y="442.00" width="0.6" height="3.59" fill="#ffffff" opacity="0.75"/>
<rect x="355.70" y="442.00" width="0.6" height="3.24" fill="#f8a0a0" opacity="0.75"/>
<rect x="358.00" y="442.00" width="0.6" height="4.67" fill="#ffffff" opacity="0.75"/>
<rect x="359.20" y="442.00" width="0.6" height="13.94" fill="#f8a0a0" opacity="0.75"/>
<rect x="360.20" y="442.00" width="0.6" height="3.77" fill="#f8a0a0" opacity="0.75"/>
<rect x="364.70" y="442.00" width="0.6" height="14.31" fill="#ffffff" opacity="0.75"/>
<rect x="365.20" y="442.00" width="0.6" height="9.81" fill="#ffffff" opacity="0.75"/>
<rect x="366.20" y="442.00" width="0.6" height="12.27" fill="#ffffff" opacity="0.75"/>
<rect x="366.70" y="442.00" width="0.6" height="13.40" fill="#ffffff" opacity="0.75"/>
<rect x="368.20" y="442.00" width="0.6" height="9.57" fill="#ffffff" opacity="0.75"/>
<rect x="372.70" y="442.00" width="0.6" height="7.87" fill="#ffffff" opacity="0.75"/>
<rect x="373.20" y="442.00" width="0.6" height="8.64" fill="#f8a0a0" opacity="0.75"/>
<rect x="377.70" y="442.00" width="0.6" height="8.19" fill="#ffffff" opacity="0.75"/>
<rect x="379.20" y="442.00" width="0.6" height="7.09" fill="#ffffff" opacity="0.75"/>
<rect x="379.70" y="442.00" width="0.6" height="9.28" fill="#b00000" opacity="0.75"/>
<rect x="381.70" y="442.00" width="0.6" height="7.33" fill="#f8a0a0" opacity="0.75"/>
<rect x="382.20" y="442.00" width="0.6" height="11.62" fill="#b00000" opacity="0.75"/>
<rect x="383.20" y="442.00" width="0.6" height="9.77" fill="#b00000" opacity="0.75"/>
<rect x="383.70" y="442.00" width="0.6" height="9.24" fill="#ffffff" opacity="0.75"/>
<rect x="386.70" y="442.00" width="0.6" height="7.05" fill="#ffffff" opacity="0.75"/>
<rect x="387.20" y="442.00" width="0.6" height="8.29" fill="#ffffff" opacity="0.75"/>
<rect x="387.70" y="442.00" width="0.6" height="9.00" fill="#f8a0a0" opacity="0.75"/>
<rect x="388.70" y="442.00" width="0.6" height="5.88" fill="#f8a0a0" opacity="0.75"/>
<rect x="391.20" y="442.00" width="0.6" height="6.05" fill="#ffffff" opacity="0.75"/>
<rect x="391.70" y="442.00" width="0.6" height="8.93" fill="#ffffff" opacity="0.75"/>
<rect x="392.20" y="442.00" width="0.6" height="10.36" fill="#ffffff" opacity="0.75"/>
<rect x="392.70" y="442.00" width="0.6" height="7.44" fill="#ffffff" opacity="0.75"/>
<rect x="393.20" y="442.00" width="0.6" height="9.03" fill="#f8a0a0" opacity="0.75"/>
<rect x="393.70" y="442.00" width="0.6" height="8.40" fill="#ffffff" opacity="0.75"/>
<rect x="394.20" y="442.00" width="0.6" height="7.52" fill="#f8a0a0" opacity="0.75"/>
<rect x="395.70" y="442.00" width="0.6" height="7.24" fill="#ffffff" opacity="0.75"/>
<rect x="396.20" y="442.00" width="0.6" height="11.10" fill="#b00000" opacity="0.75"/>
<rect x="399.20" y="442.00" width="0.6" height="7.24" fill="#f8a0a0" opacity="0.75"/>
<rect x="399.70" y="442.00" width="0.6" height="7.57" fill="#ffffff" opacity="0.75"/>
<rect x="402.20" y="442.00" width="0.6" height="9.46" fill="#b00000" opacity="0.75"/>
<rect x="403.20" y="442.00" width="0.6" height="1.47" fill="#b00000" opacity="0.75"/>
<rect x="405.70" y="442.00" width="0.6" height="7.78" fill="#ffffff" opacity="0.75"/>
<rect x="406.20" y="442.00" width="0.6" height="9.68" fill="#f8a0a0" opacity="0.75"/>
<rect x="406.70" y="442.00" width="0.6" height="12.77" fill="#f8a0a0" opacity="0.75"/>
<rect x="407.70" y="442.00" width="0.6" height="9.69" fill="#ffffff" opacity="0.75"/>
<rect x="408.20" y="442.00" width="0.6" height="7.19" fill="#b00000" opacity="0.75"/>
<rect x="409.20" y="442.00" width="0.6" height="6.24" fill="#ffffff" opacity="0.75"/>
<rect x="409.70" y="442.00" width="0.6" height="10.57" fill="#b00000" opacity="0.75"/>
<rect x="410.20" y="442.00" width="0.6" height="6.58" fill="#f8a0a0" opacity="0.75"/>
<rect x="410.70" y="442.00" width="0.6" height="11.96" fill="#ffffff" opacity="0.75"/>
<rect x="412.20" y="442.00" width="0.6" height="11.43" fill="#b00000" opacity="0.75"/>
<rect x="412.70" y="442.00" width="0.6" height="8.22" fill="#f8a0a0" opacity="0.75"/>
<rect x="413.20" y="442.00" width="0.6" height="4.07" fill="#ffffff" opacity="0.75"/>
<rect x="413.70" y="442.00" width="0.6" height="2.82" fill="#b00000" opacity="0.75"/>
<rect x="414.20" y="442.00" width="0.6" height="3.49" fill="#f8a0a0" opacity="0.75"/>
<rect x="416.20" y="442.00" width="0.6" height="10.78" fill="#ffffff" opacity="0.75"/>
<rect x="418.20" y="442.00" width="0.6" height="10.25" fill="#ffffff" opacity="0.75"/>
<rect x="420.20" y="442.00" width="0.6" height="12.76" fill="#f8a0a0" opacity="0.75"/>
<rect x="421.20" y="442.00" width="0.6" height="8.17" fill="#ffffff" opacity="0.75"/>
<rect x="422.20" y="442.00" width="0.6" height="9.90" fill="#ffffff" opacity="0.75"/>
<rect x="424.70" y="442.00" width="0.6" height="7.22" fill="#f8a0a0" opacity="0.75"/>
<rect x="425.00" y="442.00" width="0.6" height="8.51" fill="#ffffff" opacity="0.75"/>
<rect x="425.20" y="442.00" width="0.6" height="7.53" fill="#ffffff" opacity="0.75"/>
<rect x="426.00" y="442.00" width="0.6" height="10.43" fill="#b00000" opacity="0.75"/>
<rect x="426.20" y="442.00" width="0.6" height="5.55" fill="#b00000" opacity="0.75"/>
<rect x="426.70" y="442.00" width="0.6" height="15.63" fill="#ffffff" opacity="0.75"/>
<rect x="428.20" y="442.00" width="0.6" height="10.34" fill="#ffffff" opacity="0.75"/>
<rect x="429.20" y="442.00" width="0.6" height="12.06" fill="#ffffff" opacity="0.75"/>
<rect x="430.70" y="442.00" width="0.6" height="10.75" fill="#ffffff" opacity="0.75"/>
<rect x="431.20" y="442.00" width="0.6" height="10.35" fill="#b00000" opacity="0.75"/>
<rect x="432.20" y="442.00" width="0.6" height="13.22" fill="#ffffff" opacity="0.75"/>
<rect x="433.20" y="442.00" width="0.6" height="9.95" fill="#b00000" opacity="0.75"/>
<rect x="433.70" y="442.00" width="0.6" height="9.86" fill="#ffffff" opacity="0.75"/>
<rect x="434.70" y="442.00" width="0.6" height="16.02" fill="#b00000" opacity="0.75"/>
<rect x="437.20" y="442.00" width="0.6" height="8.41" fill="#f8a0a0" opacity="0.75"/>
<rect x="438.70" y="442.00" width="0.6" height="2.24" fill="#f8a0a0" opacity="0.75"/>
<rect x="440.20" y="442.00" width="0.6" height="11.27" fill="#f8a0a0" opacity="0.75"/>
<rect x="441.70" y="442.00" width="0.6" height="13.54" fill="#ffffff" opacity="0.75"/>
<rect x="442.20" y="442.00" width="0.6" height="14.17" fill="#b00000" opacity="0.75"/>
<rect x="443.70" y="442.00" width="0.6" height="10.92" fill="#b00000" opacity="0.75"/>
<rect x="444.20" y="442.00" width="0.6" height="10.21" fill="#ffffff" opacity="0.75"/>
<rect x="445.20" y="442.00" width="0.6" height="8.57" fill="#f8a0a0" opacity="0.75"/>
<rect x="445.70" y="442.00" width="0.6" height="10.61" fill="#ffffff" opacity="0.75"/>
<rect x="446.20" y="442.00" width="0.6" height="14.67" fill="#ffffff" opacity="0.75"/>
<rect x="446.70" y="442.00" width="0.6" height="11.75" fill="#f8a0a0" opacity="0.75"/>
<rect x="447.70" y="442.00" width="0.6" height="17.85" fill="#ffffff" opacity="0.75"/>
<rect x="449.70" y="442.00" width="0.6" height="16.78" fill="#ffffff" opacity="0.75"/>
<rect x="450.20" y="442.00" width="0.6" height="12.76" fill="#ffffff" opacity="0.75"/>
<rect x="450.70" y="442.00" width="0.6" height="15.56" fill="#f8a0a0" opacity="0.75"/>
<rect x="451.20" y="442.00" width="0.6" height="14.33" fill="#ffffff" opacity="0.75"/>
<rect x="453.70" y="442.00" width="0.6" height="10.65" fill="#ffffff" opacity="0.75"/>
<rect x="454.70" y="442.00" width="0.6" height="5.93" fill="#ffffff" opacity="0.75"/>
<rect x="455.20" y="442.00" width="0.6" height="10.72" fill="#ffffff" opacity="0.75"/>
<rect x="455.70" y="442.00" width="0.6" height="14.52" fill="#f8a0a0" opacity="0.75"/>
<rect x="457.20" y="442.00" width="0.6" height="13.36" fill="#b00000" opacity="0.75"/>
<rect x="458.20" y="442.00" width="0.6" height="13.20" fill="#ffffff" opacity="0.75"/>
<rect x="460.20" y="442.00" width="0.6" height="9.74" fill="#b00000" opacity="0.75"/>
<rect x="460.70" y="442.00" width="0.6" height="12.71" fill="#ffffff" opacity="0.75"/>
<rect x="461.70" y="442.00" width="0.6" height="12.29" fill="#f8a0a0" opacity="0.75"/>
<rect x="463.70" y="442.00" width="0.6" height="12.07" fill="#f8a0a0" opacity="0.75"/>
<rect x="464.20" y="442.00" width="0.6" height="17.21" fill="#f8a0a0" opacity="0.75"/>
<rect x="464.70" y="442.00" width="0.6" height="13.74" fill="#ffffff" opacity="0.75"/>
<rect x="465.20" y="442.00" width="0.6" height="11.64" fill="#ffffff" opacity="0.75"/>
<rect x="467.20" y="442.00" width="0.6" height="15.04" fill="#b00000" opacity="0.75"/>
<rect x="467.70" y="442.00" width="0.6" height="17.71" fill="#ffffff" opacity="0.75"/>
<rect x="469.70" y="442.00" width="0.6" height="9.58" fill="#f8a0a0" opacity="0.75"/>
<rect x="470.70" y="442.00" width="0.6" height="8.60" fill="#f8a0a0" opacity="0.75"/>
<rect x="471.70" y="442.00" width="0.6" height="14.85" fill="#ffffff" opacity="0.75"/>
<path d="M473.00,442.00 L473.00,453.94 L473.50,447.06 L474.00,456.42 L474.50,456.97 L475.00,455.46 L475.50,443.25 L476.00,452.93 L476.50,453.84 L477.00,447.14 L477.50,452.60 L478.00,452.02 L478.50,452.79 L479.00,452.33 L479.50,450.64 L480.00,452.00 L480.00,442.00Z" fill="#f06060"/>
<path d="M480.00,442.00 L480.00,452.00 L480.50,451.45 L481.00,451.05 L481.50,450.79 L482.00,450.34 L482.50,447.94 L483.00,448.92 L483.50,444.06 L484.00,445.72 L484.50,447.85 L485.00,444.39 L485.50,443.13 L486.00,447.08 L486.50,446.60 L487.00,444.60 L487.50,442.39 L487.70,446.00 L487.70,442.00Z" fill="#f8c8c8"/>
<rect x="296.00" y="442.80" width="0.8" height="20.80" fill="#fff" opacity="0.85"/>
<rect x="305.00" y="442.80" width="0.8" height="20.80" fill="#fff" opacity="0.85"/>
<rect x="311.00" y="442.80" width="0.8" height="20.80" fill="#fff" opacity="0.85"/>
<rect x="319.00" y="442.80" width="0.8" height="20.80" fill="#fff" opacity="0.85"/>
<rect x="337.00" y="442.80" width="0.8" height="20.80" fill="#fff" opacity="0.85"/>
<rect x="349.00" y="442.80" width="0.8" height="20.80" fill="#fff" opacity="0.85"/>
<rect x="352.00" y="442.80" width="0.8" height="20.80" fill="#fff" opacity="0.85"/>
<rect x="355.00" y="442.80" width="0.8" height="20.80" fill="#fff" opacity="0.85"/>
<rect x="358.00" y="442.80" width="0.8" height="20.80" fill="#fff" opacity="0.85"/>
<rect x="392.00" y="442.80" width="0.8" height="20.80" fill="#fff" opacity="0.85"/>
<rect x="414.00" y="442.80" width="0.8" height="20.80" fill="#fff" opacity="0.85"/>
<rect x="427.50" y="442.80" width="0.8" height="20.80" fill="#fff" opacity="0.85"/>
<rect x="430.70" y="442.80" width="0.8" height="20.80" fill="#fff" opacity="0.85"/>
<rect x="438.00" y="442.80" width="0.8" height="20.80" fill="#fff" opacity="0.85"/>
<rect x="443.00" y="442.80" width="0.8" height="20.80" fill="#fff" opacity="0.85"/>
<rect x="450.00" y="442.80" width="0.8" height="20.80" fill="#fff" opacity="0.85"/>
<rect x="455.00" y="442.80" width="0.8" height="20.80" fill="#fff" opacity="0.85"/>
<rect x="461.00" y="442.80" width="0.8" height="20.80" fill="#fff" opacity="0.85"/>
<rect x="466.00" y="442.80" width="0.8" height="20.80" fill="#fff" opacity="0.85"/>
<rect x="471.00" y="442.80" width="0.8" height="20.80" fill="#fff" opacity="0.85"/>
<line x1="280.20" y1="442.00" x2="493.00" y2="442.00" stroke="#1a1a3a" stroke-width="0.8"/>
<line x1="493.00" y1="423.28" x2="493.00" y2="460.72" stroke="#555" stroke-width="0.7"/>
<line x1="491.80" y1="423.28" x2="494.20" y2="423.28" stroke="#333" stroke-width="1.0"/>
<line x1="491.80" y1="460.72" x2="494.20" y2="460.72" stroke="#333" stroke-width="1.0"/>
<line x1="488.00" y1="421.20" x2="488.00" y2="462.80" stroke="#bbb" stroke-width="0.5"/>
<line x1="280.20" y1="482.70" x2="488.00" y2="482.70" stroke="#cfcfcf" stroke-width="0.7"/>
<line x1="280.20" y1="493.10" x2="488.00" y2="493.10" stroke="#cfcfcf" stroke-width="0.7"/>
<line x1="280.20" y1="477.50" x2="488.00" y2="477.50" stroke="#cfcfcf" stroke-width="0.7"/>
<line x1="280.20" y1="498.30" x2="488.00" y2="498.30" stroke="#cfcfcf" stroke-width="0.7"/>
<line x1="280.20" y1="472.30" x2="488.00" y2="472.30" stroke="#cfcfcf" stroke-width="0.7"/>
<line x1="280.20" y1="503.50" x2="488.00" y2="503.50" stroke="#cfcfcf" stroke-width="0.7"/>
<line x1="280.20" y1="467.10" x2="488.00" y2="467.10" stroke="#cfcfcf" stroke-width="0.7"/>
<line x1="280.20" y1="508.70" x2="488.00" y2="508.70" stroke="#cfcfcf" stroke-width="0.7"/>
<path d="M280.20,487.90 L280.20,486.90 L280.70,486.68 L281.20,486.48 L281.70,486.42 L282.20,486.40 L282.50,485.90 L282.70,481.76 L283.20,471.46 L283.30,478.52 L283.70,478.12 L284.00,484.90 L284.20,485.15 L284.70,485.35 L285.20,485.14 L285.70,485.18 L286.20,485.59 L286.70,485.36 L287.20,485.22 L287.70,485.41 L288.20,487.03 L288.70,484.90 L289.20,485.09 L289.70,485.03 L290.00,484.90 L290.20,484.43 L290.70,482.91 L291.20,481.79 L291.70,480.72 L292.00,478.90 L292.20,478.99 L292.70,478.59 L293.20,480.01 L293.70,477.63 L294.20,478.95 L294.70,477.07 L295.00,475.90 L295.20,484.43 L295.70,478.00 L296.20,476.42 L296.70,476.47 L297.20,478.56 L297.70,477.39 L298.00,476.90 L298.20,478.34 L298.70,480.07 L299.20,481.19 L299.70,481.74 L300.20,482.90 L300.70,486.68 L301.20,484.40 L301.70,484.59 L302.00,484.90 L302.20,484.79 L302.70,484.61 L303.20,484.26 L303.70,484.67 L304.20,483.72 L304.70,483.61 L305.20,483.21 L305.50,482.90 L305.70,482.42 L306.20,486.96 L306.70,480.49 L307.20,480.10 L307.70,478.17 L308.00,476.90 L308.20,477.01 L308.70,477.32 L309.20,478.58 L309.70,478.38 L310.20,478.00 L310.70,478.25 L311.20,478.50 L311.70,480.97 L312.00,478.90 L312.20,479.28 L312.70,481.53 L313.20,480.90 L313.70,482.37 L314.20,483.43 L314.70,483.74 L315.00,483.90 L315.20,484.07 L315.70,484.39 L316.20,484.91 L316.70,485.51 L317.20,485.39 L317.70,486.12 L318.00,485.90 L318.20,485.92 L318.70,485.90 L319.20,485.93 L319.70,486.37 L320.20,486.06 L320.70,486.08 L321.20,486.95 L321.70,486.14 L322.20,486.24 L322.70,485.90 L323.20,486.03 L323.70,486.31 L324.20,486.09 L324.70,485.96 L325.20,486.34 L325.70,486.31 L326.20,486.11 L326.70,485.94 L327.20,485.90 L327.70,487.52 L328.20,485.91 L328.70,485.96 L329.20,486.01 L329.70,485.96 L330.20,485.95 L330.70,486.29 L331.20,486.94 L331.70,486.03 L332.20,485.91 L332.70,485.95 L333.20,485.90 L333.70,486.24 L334.20,486.02 L334.70,486.03 L335.00,485.90 L335.20,486.16 L335.70,485.34 L336.20,484.70 L336.70,484.80 L337.00,483.90 L337.20,484.30 L337.70,485.32 L338.00,485.90 L338.20,485.87 L338.70,486.73 L339.20,485.25 L339.70,484.67 L340.20,485.04 L340.70,484.03 L341.20,483.53 L341.70,484.13 L342.00,482.90 L342.20,484.33 L342.70,485.04 L343.00,485.90 L343.20,485.98 L343.70,485.68 L344.20,485.64 L344.70,485.64 L345.20,484.69 L345.70,484.37 L346.20,484.07 L346.50,483.90 L346.70,483.25 L347.20,482.37 L347.70,479.93 L348.00,478.90 L348.20,478.23 L348.70,478.42 L349.20,477.78 L349.50,473.90 L349.70,472.86 L350.20,468.52 L350.50,467.10 L350.70,467.44 L351.20,469.83 L351.50,467.90 L351.70,473.22 L352.20,474.95 L352.30,475.90 L352.70,477.56 L353.00,473.90 L353.20,474.87 L353.70,473.06 L354.20,467.59 L354.50,467.10 L354.70,470.49 L355.20,467.43 L355.70,468.61 L356.00,467.10 L356.20,472.90 L356.70,476.50 L356.80,477.50 L357.20,477.21 L357.70,475.90 L358.20,472.21 L358.70,479.71 L359.00,467.10 L359.20,467.80 L359.70,468.45 L360.20,470.50 L360.40,470.90 L360.70,471.53 L361.20,473.71 L361.70,471.93 L362.20,472.48 L362.70,473.25 L363.00,472.90 L363.20,477.04 L363.70,477.80 L364.00,479.90 L364.20,482.27 L364.70,483.40 L365.00,484.90 L365.20,485.42 L365.70,484.99 L366.00,484.90 L366.20,484.45 L366.70,483.35 L367.00,481.90 L367.20,482.75 L367.70,484.12 L368.00,484.90 L368.20,484.94 L368.70,484.99 L369.20,484.96 L369.70,484.97 L370.20,485.52 L370.70,484.93 L371.20,484.95 L371.70,485.55 L372.20,484.90 L372.70,485.16 L373.00,484.90 L373.20,483.50 L373.70,480.93 L374.00,477.90 L374.20,478.51 L374.70,478.34 L375.20,486.64 L375.70,477.34 L376.20,477.32 L376.70,477.69 L377.00,476.90 L377.20,478.65 L377.70,479.44 L378.20,480.26 L378.70,482.66 L379.20,483.07 L379.50,483.90 L379.70,483.99 L380.20,484.89 L380.70,484.43 L381.20,484.59 L381.70,485.06 L382.00,484.90 L382.20,484.95 L382.70,484.91 L383.20,485.34 L383.70,484.95 L384.20,485.31 L384.70,485.37 L385.20,485.32 L385.70,485.32 L386.20,485.65 L386.70,484.94 L387.20,484.91 L387.70,485.40 L388.00,484.90 L388.20,483.83 L388.70,481.53 L389.20,479.55 L389.30,477.90 L389.70,482.60 L390.00,484.90 L390.20,485.16 L390.70,485.03 L391.20,485.00 L391.70,485.30 L392.20,485.27 L392.70,486.86 L393.20,485.32 L393.70,486.83 L394.20,484.96 L394.70,485.47 L395.20,485.06 L395.70,484.92 L396.20,484.93 L396.70,484.90 L397.20,484.91 L397.70,485.61 L398.20,485.10 L398.70,485.36 L399.20,484.90 L399.70,485.46 L400.20,485.46 L400.70,485.60 L401.20,485.46 L401.70,485.40 L402.20,485.10 L402.70,485.29 L403.20,485.15 L403.70,484.93 L404.20,485.38 L404.70,484.99 L405.00,484.90 L405.20,484.84 L405.70,484.52 L406.20,484.60 L406.70,484.27 L407.20,484.06 L407.70,483.47 L408.20,483.67 L408.70,482.69 L409.20,482.97 L409.70,482.37 L410.00,481.90 L410.20,482.42 L410.70,481.08 L411.20,480.28 L411.70,486.17 L412.20,479.78 L412.70,479.50 L413.20,476.87 L413.70,474.90 L414.20,480.73 L414.50,483.90 L414.70,484.03 L415.20,483.87 L415.70,484.46 L416.20,484.30 L416.70,483.88 L417.20,484.72 L417.70,483.74 L418.20,484.11 L418.70,484.17 L419.20,484.64 L419.70,485.77 L420.20,483.57 L420.70,483.94 L421.20,483.53 L421.70,483.52 L422.20,484.00 L422.70,483.63 L423.20,483.69 L423.70,484.25 L424.20,483.34 L424.70,483.30 L425.20,483.43 L425.70,483.49 L426.20,483.19 L426.70,483.36 L427.20,483.14 L427.70,483.67 L428.20,483.30 L428.70,484.22 L429.20,483.86 L429.70,483.88 L430.20,483.05 L430.70,483.91 L431.00,482.90 L431.20,486.07 L431.70,486.44 L432.20,480.91 L432.70,479.56 L433.20,477.94 L433.70,476.94 L434.00,475.90 L434.20,476.18 L434.70,477.46 L435.20,474.51 L435.70,475.77 L436.20,474.19 L436.70,474.13 L437.20,475.09 L437.70,475.36 L438.00,470.90 L438.20,470.45 L438.70,472.21 L439.00,467.10 L439.20,467.71 L439.70,471.71 L440.20,471.93 L440.70,472.28 L441.00,472.90 L441.20,473.36 L441.70,474.54 L442.20,476.06 L442.70,478.00 L443.20,477.49 L443.70,479.87 L444.20,479.49 L444.40,479.90 L444.70,480.85 L445.20,482.62 L445.70,484.37 L446.00,484.90 L446.20,485.52 L446.70,484.92 L447.20,485.55 L447.70,485.32 L448.20,486.83 L448.70,485.09 L449.20,484.91 L449.70,485.51 L450.20,484.90 L450.70,484.96 L451.20,485.06 L451.70,484.90 L452.00,484.90 L452.20,483.76 L452.70,480.12 L453.00,477.90 L453.20,476.85 L453.70,474.39 L454.20,474.66 L454.70,472.09 L455.00,467.10 L455.20,471.24 L455.70,474.83 L456.00,477.90 L456.20,477.90 L456.70,479.52 L457.20,477.99 L457.70,487.16 L458.20,478.00 L458.70,479.41 L459.20,479.11 L459.70,478.07 L460.20,478.41 L460.70,478.39 L461.20,479.40 L461.70,479.36 L462.20,478.95 L462.70,480.11 L463.20,479.23 L463.70,477.96 L464.20,478.69 L464.70,478.17 L465.00,477.90 L465.20,476.39 L465.70,471.89 L466.00,467.10 L466.20,469.66 L466.70,483.96 L467.00,477.90 L467.20,478.48 L467.70,479.26 L468.20,478.28 L468.70,477.72 L469.20,477.60 L469.70,477.82 L470.20,485.97 L470.70,484.02 L471.20,478.05 L471.70,477.38 L472.20,479.65 L472.70,476.97 L472.70,487.90Z" fill="#1616cc"/>
<rect x="283.20" y="472.71" width="0.6" height="15.19" fill="#0c0c9a" opacity="0.75"/>
<rect x="284.70" y="486.14" width="0.6" height="1.76" fill="#6a6af2" opacity="0.75"/>
<rect x="286.70" y="485.66" width="0.6" height="2.24" fill="#4848e8" opacity="0.75"/>
<rect x="289.70" y="486.46" width="0.6" height="1.44" fill="#0c0c9a" opacity="0.75"/>
<rect x="290.70" y="484.95" width="0.6" height="2.95" fill="#0c0c9a" opacity="0.75"/>
<rect x="291.20" y="483.52" width="0.6" height="4.38" fill="#6a6af2" opacity="0.75"/>
<rect x="292.70" y="479.80" width="0.6" height="8.10" fill="#0c0c9a" opacity="0.75"/>
<rect x="293.20" y="483.64" width="0.6" height="4.26" fill="#0c0c9a" opacity="0.75"/>
<rect x="293.70" y="479.29" width="0.6" height="8.61" fill="#4848e8" opacity="0.75"/>
<rect x="295.20" y="485.32" width="0.6" height="2.58" fill="#0c0c9a" opacity="0.75"/>
<rect x="296.20" y="478.12" width="0.6" height="9.78" fill="#6a6af2" opacity="0.75"/>
<rect x="297.70" y="477.98" width="0.6" height="9.92" fill="#4848e8" opacity="0.75"/>
<rect x="301.20" y="485.37" width="0.6" height="2.53" fill="#4848e8" opacity="0.75"/>
<rect x="302.70" y="485.13" width="0.6" height="2.77" fill="#0c0c9a" opacity="0.75"/>
<rect x="304.70" y="484.32" width="0.6" height="3.58" fill="#4848e8" opacity="0.75"/>
<rect x="305.20" y="485.36" width="0.6" height="2.54" fill="#6a6af2" opacity="0.75"/>
<rect x="306.70" y="481.05" width="0.6" height="6.85" fill="#4848e8" opacity="0.75"/>
<rect x="307.20" y="483.33" width="0.6" height="4.57" fill="#4848e8" opacity="0.75"/>
<rect x="308.20" y="480.61" width="0.6" height="7.29" fill="#6a6af2" opacity="0.75"/>
<rect x="308.70" y="481.34" width="0.6" height="6.56" fill="#4848e8" opacity="0.75"/>
<rect x="309.70" y="479.92" width="0.6" height="7.98" fill="#6a6af2" opacity="0.75"/>
<rect x="311.70" y="483.49" width="0.6" height="4.41" fill="#0c0c9a" opacity="0.75"/>
<rect x="312.20" y="481.19" width="0.6" height="6.71" fill="#4848e8" opacity="0.75"/>
<rect x="314.70" y="485.69" width="0.6" height="2.21" fill="#6a6af2" opacity="0.75"/>
<rect x="317.20" y="485.77" width="0.6" height="2.13" fill="#6a6af2" opacity="0.75"/>
<rect x="317.70" y="486.41" width="0.6" height="1.49" fill="#6a6af2" opacity="0.75"/>
<rect x="318.20" y="486.52" width="0.6" height="1.38" fill="#4848e8" opacity="0.75"/>
<rect x="320.20" y="486.78" width="0.6" height="1.12" fill="#4848e8" opacity="0.75"/>
<rect x="320.70" y="486.40" width="0.6" height="1.50" fill="#0c0c9a" opacity="0.75"/>
<rect x="322.70" y="486.30" width="0.6" height="1.60" fill="#6a6af2" opacity="0.75"/>
<rect x="324.70" y="486.56" width="0.6" height="1.34" fill="#0c0c9a" opacity="0.75"/>
<rect x="328.20" y="486.10" width="0.6" height="1.80" fill="#0c0c9a" opacity="0.75"/>
<rect x="330.20" y="486.62" width="0.6" height="1.28" fill="#4848e8" opacity="0.75"/>
<rect x="332.70" y="486.48" width="0.6" height="1.42" fill="#4848e8" opacity="0.75"/>
<rect x="333.20" y="486.37" width="0.6" height="1.53" fill="#0c0c9a" opacity="0.75"/>
<rect x="333.70" y="486.87" width="0.6" height="1.03" fill="#4848e8" opacity="0.75"/>
<rect x="334.20" y="486.77" width="0.6" height="1.13" fill="#0c0c9a" opacity="0.75"/>
<rect x="334.70" y="486.22" width="0.6" height="1.68" fill="#6a6af2" opacity="0.75"/>
<rect x="335.00" y="486.87" width="0.6" height="1.03" fill="#0c0c9a" opacity="0.75"/>
<rect x="335.20" y="486.60" width="0.6" height="1.30" fill="#0c0c9a" opacity="0.75"/>
<rect x="336.20" y="485.01" width="0.6" height="2.89" fill="#6a6af2" opacity="0.75"/>
<rect x="337.00" y="485.29" width="0.6" height="2.61" fill="#0c0c9a" opacity="0.75"/>
<rect x="338.00" y="486.72" width="0.6" height="1.18" fill="#0c0c9a" opacity="0.75"/>
<rect x="341.20" y="485.09" width="0.6" height="2.81" fill="#0c0c9a" opacity="0.75"/>
<rect x="342.00" y="484.94" width="0.6" height="2.96" fill="#0c0c9a" opacity="0.75"/>
<rect x="343.70" y="486.12" width="0.6" height="1.78" fill="#6a6af2" opacity="0.75"/>
<rect x="344.20" y="485.87" width="0.6" height="2.03" fill="#4848e8" opacity="0.75"/>
<rect x="347.70" y="481.26" width="0.6" height="6.64" fill="#6a6af2" opacity="0.75"/>
<rect x="348.00" y="479.57" width="0.6" height="8.33" fill="#0c0c9a" opacity="0.75"/>
<rect x="348.20" y="479.18" width="0.6" height="8.72" fill="#0c0c9a" opacity="0.75"/>
<rect x="348.70" y="478.93" width="0.6" height="8.97" fill="#6a6af2" opacity="0.75"/>
<rect x="350.70" y="475.78" width="0.6" height="12.12" fill="#4848e8" opacity="0.75"/>
<rect x="351.20" y="474.18" width="0.6" height="13.72" fill="#0c0c9a" opacity="0.75"/>
<rect x="351.50" y="476.66" width="0.6" height="11.24" fill="#6a6af2" opacity="0.75"/>
<rect x="355.20" y="469.04" width="0.6" height="18.86" fill="#6a6af2" opacity="0.75"/>
<rect x="356.70" y="478.56" width="0.6" height="9.34" fill="#6a6af2" opacity="0.75"/>
<rect x="356.80" y="481.25" width="0.6" height="6.65" fill="#6a6af2" opacity="0.75"/>
<rect x="357.20" y="479.41" width="0.6" height="8.49" fill="#6a6af2" opacity="0.75"/>
<rect x="358.20" y="477.88" width="0.6" height="10.02" fill="#4848e8" opacity="0.75"/>
<rect x="359.20" y="469.23" width="0.6" height="18.67" fill="#6a6af2" opacity="0.75"/>
<rect x="359.70" y="477.71" width="0.6" height="10.19" fill="#6a6af2" opacity="0.75"/>
<rect x="360.70" y="475.22" width="0.6" height="12.68" fill="#4848e8" opacity="0.75"/>
<rect x="365.20" y="486.11" width="0.6" height="1.79" fill="#6a6af2" opacity="0.75"/>
<rect x="366.00" y="485.41" width="0.6" height="2.49" fill="#0c0c9a" opacity="0.75"/>
<rect x="366.20" y="485.36" width="0.6" height="2.54" fill="#0c0c9a" opacity="0.75"/>
<rect x="367.00" y="482.45" width="0.6" height="5.45" fill="#4848e8" opacity="0.75"/>
<rect x="368.00" y="485.70" width="0.6" height="2.20" fill="#0c0c9a" opacity="0.75"/>
<rect x="370.20" y="485.75" width="0.6" height="2.15" fill="#4848e8" opacity="0.75"/>
<rect x="373.20" y="484.18" width="0.6" height="3.72" fill="#0c0c9a" opacity="0.75"/>
<rect x="374.00" y="482.83" width="0.6" height="5.07" fill="#0c0c9a" opacity="0.75"/>
<rect x="380.20" y="486.13" width="0.6" height="1.77" fill="#6a6af2" opacity="0.75"/>
<rect x="381.20" y="485.91" width="0.6" height="1.99" fill="#4848e8" opacity="0.75"/>
<rect x="381.70" y="486.05" width="0.6" height="1.85" fill="#0c0c9a" opacity="0.75"/>
<rect x="384.70" y="486.10" width="0.6" height="1.80" fill="#4848e8" opacity="0.75"/>
<rect x="386.70" y="485.44" width="0.6" height="2.46" fill="#6a6af2" opacity="0.75"/>
<rect x="387.20" y="485.07" width="0.6" height="2.83" fill="#6a6af2" opacity="0.75"/>
<rect x="390.00" y="486.11" width="0.6" height="1.79" fill="#6a6af2" opacity="0.75"/>
<rect x="391.20" y="485.52" width="0.6" height="2.38" fill="#4848e8" opacity="0.75"/>
<rect x="391.70" y="486.23" width="0.6" height="1.67" fill="#6a6af2" opacity="0.75"/>
<rect x="392.20" y="485.87" width="0.6" height="2.03" fill="#0c0c9a" opacity="0.75"/>
<rect x="394.70" y="486.64" width="0.6" height="1.26" fill="#0c0c9a" opacity="0.75"/>
<rect x="395.20" y="486.42" width="0.6" height="1.48" fill="#4848e8" opacity="0.75"/>
<rect x="400.20" y="486.60" width="0.6" height="1.30" fill="#0c0c9a" opacity="0.75"/>
<rect x="400.70" y="485.79" width="0.6" height="2.11" fill="#4848e8" opacity="0.75"/>
<rect x="401.70" y="485.80" width="0.6" height="2.10" fill="#6a6af2" opacity="0.75"/>
<rect x="402.20" y="486.23" width="0.6" height="1.67" fill="#0c0c9a" opacity="0.75"/>
<rect x="402.70" y="485.49" width="0.6" height="2.41" fill="#0c0c9a" opacity="0.75"/>
<rect x="403.20" y="486.49" width="0.6" height="1.41" fill="#0c0c9a" opacity="0.75"/>
<rect x="405.20" y="486.34" width="0.6" height="1.56" fill="#0c0c9a" opacity="0.75"/>
<rect x="405.70" y="485.51" width="0.6" height="2.39" fill="#4848e8" opacity="0.75"/>
<rect x="406.20" y="485.01" width="0.6" height="2.89" fill="#6a6af2" opacity="0.75"/>
<rect x="406.70" y="485.61" width="0.6" height="2.29" fill="#6a6af2" opacity="0.75"/>
<rect x="407.20" y="484.58" width="0.6" height="3.32" fill="#0c0c9a" opacity="0.75"/>
<rect x="407.70" y="485.36" width="0.6" height="2.54" fill="#4848e8" opacity="0.75"/>
<rect x="408.20" y="485.51" width="0.6" height="2.39" fill="#0c0c9a" opacity="0.75"/>
<rect x="409.70" y="484.87" width="0.6" height="3.03" fill="#0c0c9a" opacity="0.75"/>
<rect x="410.00" y="482.59" width="0.6" height="5.31" fill="#6a6af2" opacity="0.75"/>
<rect x="412.70" y="483.05" width="0.6" height="4.85" fill="#0c0c9a" opacity="0.75"/>
<rect x="414.50" y="484.93" width="0.6" height="2.97" fill="#4848e8" opacity="0.75"/>
<rect x="415.20" y="484.96" width="0.6" height="2.94" fill="#6a6af2" opacity="0.75"/>
<rect x="416.20" y="484.86" width="0.6" height="3.04" fill="#6a6af2" opacity="0.75"/>
<rect x="418.20" y="485.28" width="0.6" height="2.62" fill="#4848e8" opacity="0.75"/>
<rect x="418.70" y="484.81" width="0.6" height="3.09" fill="#4848e8" opacity="0.75"/>
<rect x="420.20" y="485.15" width="0.6" height="2.75" fill="#4848e8" opacity="0.75"/>
<rect x="421.70" y="484.18" width="0.6" height="3.72" fill="#0c0c9a" opacity="0.75"/>
<rect x="422.20" y="485.32" width="0.6" height="2.58" fill="#6a6af2" opacity="0.75"/>
<rect x="423.20" y="484.83" width="0.6" height="3.07" fill="#4848e8" opacity="0.75"/>
<rect x="423.70" y="485.87" width="0.6" height="2.03" fill="#6a6af2" opacity="0.75"/>
<rect x="424.70" y="485.43" width="0.6" height="2.47" fill="#0c0c9a" opacity="0.75"/>
<rect x="425.20" y="483.75" width="0.6" height="4.15" fill="#6a6af2" opacity="0.75"/>
<rect x="427.20" y="485.39" width="0.6" height="2.51" fill="#4848e8" opacity="0.75"/>
<rect x="428.70" y="486.03" width="0.6" height="1.87" fill="#6a6af2" opacity="0.75"/>
<rect x="430.20" y="484.87" width="0.6" height="3.03" fill="#0c0c9a" opacity="0.75"/>
<rect x="430.70" y="484.32" width="0.6" height="3.58" fill="#6a6af2" opacity="0.75"/>
<rect x="431.00" y="484.32" width="0.6" height="3.58" fill="#0c0c9a" opacity="0.75"/>
<rect x="435.70" y="479.04" width="0.6" height="8.86" fill="#6a6af2" opacity="0.75"/>
<rect x="436.70" y="477.79" width="0.6" height="10.11" fill="#6a6af2" opacity="0.75"/>
<rect x="438.20" y="476.90" width="0.6" height="11.00" fill="#4848e8" opacity="0.75"/>
<rect x="439.00" y="468.25" width="0.6" height="19.65" fill="#4848e8" opacity="0.75"/>
<rect x="439.70" y="477.59" width="0.6" height="10.31" fill="#0c0c9a" opacity="0.75"/>
<rect x="440.20" y="478.61" width="0.6" height="9.29" fill="#0c0c9a" opacity="0.75"/>
<rect x="440.70" y="473.19" width="0.6" height="14.71" fill="#0c0c9a" opacity="0.75"/>
<rect x="441.20" y="479.07" width="0.6" height="8.83" fill="#0c0c9a" opacity="0.75"/>
<rect x="441.70" y="480.32" width="0.6" height="7.58" fill="#6a6af2" opacity="0.75"/>
<rect x="442.20" y="477.71" width="0.6" height="10.19" fill="#4848e8" opacity="0.75"/>
<rect x="442.70" y="481.15" width="0.6" height="6.75" fill="#4848e8" opacity="0.75"/>
<rect x="443.70" y="483.00" width="0.6" height="4.90" fill="#0c0c9a" opacity="0.75"/>
<rect x="444.70" y="482.85" width="0.6" height="5.05" fill="#6a6af2" opacity="0.75"/>
<rect x="446.00" y="485.42" width="0.6" height="2.48" fill="#4848e8" opacity="0.75"/>
<rect x="447.70" y="485.66" width="0.6" height="2.24" fill="#0c0c9a" opacity="0.75"/>
<rect x="450.70" y="486.23" width="0.6" height="1.67" fill="#6a6af2" opacity="0.75"/>
<rect x="451.20" y="486.35" width="0.6" height="1.55" fill="#6a6af2" opacity="0.75"/>
<rect x="452.00" y="485.12" width="0.6" height="2.78" fill="#4848e8" opacity="0.75"/>
<rect x="453.00" y="482.46" width="0.6" height="5.44" fill="#6a6af2" opacity="0.75"/>
<rect x="453.20" y="482.15" width="0.6" height="5.75" fill="#6a6af2" opacity="0.75"/>
<rect x="456.70" y="483.40" width="0.6" height="4.50" fill="#0c0c9a" opacity="0.75"/>
<rect x="458.70" y="481.28" width="0.6" height="6.62" fill="#4848e8" opacity="0.75"/>
<rect x="461.70" y="479.97" width="0.6" height="7.93" fill="#4848e8" opacity="0.75"/>
<rect x="462.70" y="482.13" width="0.6" height="5.77" fill="#6a6af2" opacity="0.75"/>
<rect x="463.20" y="483.08" width="0.6" height="4.82" fill="#4848e8" opacity="0.75"/>
<rect x="463.70" y="479.16" width="0.6" height="8.74" fill="#0c0c9a" opacity="0.75"/>
<rect x="464.20" y="482.26" width="0.6" height="5.64" fill="#6a6af2" opacity="0.75"/>
<rect x="467.70" y="480.12" width="0.6" height="7.78" fill="#0c0c9a" opacity="0.75"/>
<rect x="468.70" y="481.60" width="0.6" height="6.30" fill="#4848e8" opacity="0.75"/>
<rect x="469.70" y="481.75" width="0.6" height="6.15" fill="#0c0c9a" opacity="0.75"/>
<rect x="470.20" y="486.24" width="0.6" height="1.66" fill="#4848e8" opacity="0.75"/>
<rect x="471.20" y="478.93" width="0.6" height="8.97" fill="#6a6af2" opacity="0.75"/>
<rect x="471.70" y="480.82" width="0.6" height="7.08" fill="#0c0c9a" opacity="0.75"/>
<rect x="472.20" y="482.46" width="0.6" height="5.44" fill="#4848e8" opacity="0.75"/>
<rect x="472.70" y="480.45" width="0.6" height="7.45" fill="#4848e8" opacity="0.75"/>
<path d="M473.00,487.90 L473.00,476.90 L473.50,480.77 L474.00,477.91 L474.50,478.77 L475.00,478.90 L475.50,480.97 L476.00,477.42 L476.50,477.94 L477.00,475.90 L477.50,477.65 L478.00,481.37 L478.50,475.89 L479.00,475.11 L479.20,472.90 L479.50,475.80 L480.00,477.78 L480.50,479.90 L481.00,482.27 L481.50,481.70 L482.00,482.64 L482.50,483.43 L482.80,483.90 L483.00,484.19 L483.50,484.54 L484.00,484.85 L484.50,485.07 L485.00,485.81 L485.50,485.66 L486.00,486.05 L486.50,486.52 L487.00,486.48 L487.50,486.78 L487.70,486.90 L487.70,487.90Z" fill="#7070e0"/>
<path d="M280.20,487.90 L280.20,490.90 L280.70,490.55 L281.20,491.05 L281.70,491.30 L282.20,491.70 L282.70,491.90 L283.20,492.15 L283.70,491.86 L284.20,492.30 L284.70,489.86 L285.00,492.90 L285.20,493.02 L285.70,494.79 L286.20,496.24 L286.70,497.03 L287.00,498.90 L287.20,497.72 L287.70,498.68 L288.20,499.30 L288.70,499.31 L289.20,499.68 L289.70,490.00 L290.20,499.29 L290.70,500.08 L291.20,500.35 L291.70,499.07 L292.00,500.90 L292.20,499.25 L292.70,499.29 L293.20,500.72 L293.70,500.84 L294.20,502.13 L294.70,502.51 L295.20,502.82 L295.70,501.54 L296.20,501.21 L296.70,502.71 L297.00,503.90 L297.20,500.60 L297.70,503.94 L298.20,503.42 L298.70,501.18 L299.20,504.28 L299.70,503.55 L300.20,503.61 L300.70,504.59 L301.20,501.91 L301.70,504.63 L302.20,502.68 L302.70,503.51 L303.20,503.60 L303.70,503.98 L304.20,505.36 L304.70,503.48 L305.00,505.90 L305.20,505.82 L305.70,505.34 L306.20,502.95 L306.70,502.07 L307.20,504.28 L307.70,505.20 L308.20,504.47 L308.70,491.71 L309.20,502.80 L309.70,502.21 L310.20,503.21 L310.70,504.11 L311.20,504.75 L311.70,503.83 L312.20,503.52 L312.70,503.49 L313.20,501.48 L313.70,501.54 L314.20,503.34 L314.70,502.52 L315.20,503.74 L315.70,503.52 L316.00,503.90 L316.20,502.98 L316.70,500.36 L317.20,500.58 L317.70,500.29 L318.00,499.90 L318.20,497.98 L318.70,499.87 L319.20,499.86 L319.70,499.38 L320.20,499.72 L320.70,499.74 L321.20,492.86 L321.70,499.70 L322.20,499.84 L322.70,499.88 L323.20,499.49 L323.70,499.67 L324.20,497.69 L324.70,499.82 L325.20,497.71 L325.70,499.90 L326.20,499.85 L326.70,499.32 L327.20,499.04 L327.70,498.12 L328.20,498.98 L328.70,499.85 L329.20,497.96 L329.70,499.42 L330.20,498.89 L330.70,497.95 L331.20,499.55 L331.70,498.44 L332.20,499.64 L332.70,497.36 L333.20,499.86 L333.70,498.32 L334.20,499.90 L334.70,498.52 L335.20,499.14 L335.70,490.20 L336.20,499.42 L336.70,498.98 L337.20,499.74 L337.70,498.71 L338.20,499.82 L338.70,499.03 L339.00,499.90 L339.20,499.71 L339.70,498.53 L340.20,500.37 L340.70,502.44 L341.00,502.90 L341.20,491.30 L341.70,499.90 L342.20,501.51 L342.70,503.07 L343.20,492.79 L343.70,502.66 L344.20,492.05 L344.70,503.75 L345.00,503.90 L345.20,501.92 L345.70,502.91 L346.20,503.48 L346.70,503.65 L347.20,503.04 L347.70,501.70 L348.20,494.39 L348.70,502.76 L349.20,503.82 L349.70,500.74 L350.20,503.86 L350.70,500.59 L351.20,501.49 L351.70,503.88 L352.20,502.08 L352.70,502.49 L353.20,503.64 L353.70,500.43 L354.20,501.20 L354.70,502.00 L355.20,503.88 L355.70,503.79 L356.00,503.90 L356.20,501.64 L356.70,496.20 L357.00,492.90 L357.20,492.54 L357.70,492.45 L358.20,492.20 L358.70,492.53 L359.20,492.00 L359.70,492.10 L360.20,492.78 L360.70,492.49 L361.20,492.85 L361.70,492.20 L362.20,492.88 L362.70,491.85 L363.00,492.90 L363.20,494.06 L363.70,499.80 L364.00,503.90 L364.20,501.42 L364.70,502.63 L365.20,502.08 L365.70,500.95 L366.20,502.99 L366.70,503.75 L367.20,500.49 L367.70,503.87 L368.20,503.42 L368.70,503.16 L369.20,502.83 L369.70,503.89 L370.20,500.44 L370.70,501.99 L371.20,502.79 L371.70,501.87 L372.20,503.89 L372.70,503.65 L373.20,503.14 L373.70,503.50 L374.20,503.26 L374.70,501.69 L375.20,502.34 L375.70,502.01 L376.20,501.17 L376.70,503.90 L377.20,501.77 L377.70,503.86 L378.20,501.80 L378.70,500.63 L379.20,502.49 L379.70,503.83 L380.20,502.91 L380.70,500.70 L381.20,502.54 L381.70,500.75 L382.20,501.98 L382.70,503.33 L383.00,491.12 L383.20,503.48 L383.70,502.74 L384.20,500.39 L384.70,501.58 L385.20,502.55 L385.70,501.35 L386.20,499.23 L386.70,499.61 L387.20,501.77 L387.70,500.11 L388.20,498.77 L388.70,499.68 L389.20,498.06 L389.70,499.07 L390.20,498.84 L390.70,499.26 L391.20,490.50 L391.70,499.30 L392.20,489.06 L392.70,499.02 L393.20,497.00 L393.70,498.53 L394.20,498.05 L394.70,496.80 L395.00,497.90 L395.20,496.32 L395.70,496.15 L396.20,497.80 L396.70,496.69 L397.20,496.86 L397.70,496.56 L398.20,490.61 L398.70,496.96 L399.20,496.55 L399.70,498.09 L400.20,497.26 L400.70,498.28 L401.20,497.55 L401.70,496.09 L402.20,497.05 L402.70,498.26 L403.20,498.38 L403.70,498.04 L404.20,498.48 L404.70,490.38 L405.20,496.40 L405.70,498.54 L406.20,498.53 L406.70,497.72 L407.20,498.62 L407.70,498.67 L408.20,491.09 L408.70,498.71 L409.20,498.85 L409.70,490.48 L410.00,498.90 L410.20,498.08 L410.70,497.52 L411.20,498.24 L411.70,500.15 L412.20,500.53 L412.70,500.87 L413.20,499.16 L413.70,500.93 L414.00,488.89 L414.20,491.79 L414.70,500.70 L415.20,501.90 L415.70,501.60 L416.20,501.90 L416.70,499.08 L417.20,500.53 L417.70,499.71 L418.20,501.17 L418.70,499.96 L419.20,500.39 L419.70,498.97 L420.20,501.60 L420.70,501.75 L421.20,494.08 L421.70,501.42 L422.20,500.43 L422.70,501.75 L423.20,501.09 L423.70,501.35 L424.20,501.88 L424.70,501.89 L425.00,501.90 L425.20,500.59 L425.70,504.70 L426.00,505.90 L426.20,505.89 L426.70,502.48 L427.20,505.84 L427.70,503.03 L428.20,505.90 L428.70,503.84 L429.20,502.26 L429.70,490.37 L430.20,504.93 L430.70,505.91 L431.20,505.28 L431.70,504.79 L432.20,504.09 L432.70,503.59 L433.20,503.54 L433.70,505.04 L434.20,505.40 L434.70,502.62 L435.20,505.83 L435.70,503.34 L436.20,504.46 L436.70,493.54 L437.20,505.52 L437.70,504.83 L438.20,495.09 L438.70,503.94 L439.20,506.26 L439.70,506.33 L440.20,506.02 L440.70,504.57 L441.20,506.10 L441.70,502.92 L442.20,506.20 L442.70,506.20 L443.20,503.86 L443.70,504.52 L444.20,505.32 L444.70,505.19 L445.20,505.15 L445.70,504.19 L446.20,506.07 L446.70,489.89 L447.20,504.82 L447.70,504.57 L448.20,506.48 L448.70,506.86 L449.20,502.72 L449.70,506.27 L450.20,505.57 L450.70,506.46 L451.20,504.91 L451.70,504.98 L452.20,506.27 L452.70,506.81 L453.20,504.70 L453.70,494.94 L454.20,505.45 L454.70,503.30 L455.20,504.76 L455.70,491.23 L456.20,494.40 L456.70,505.72 L457.20,504.85 L457.70,506.91 L458.20,507.03 L458.70,506.27 L459.20,504.10 L459.70,506.78 L460.20,507.33 L460.70,504.02 L461.20,506.86 L461.70,504.95 L462.20,507.14 L462.70,505.61 L463.20,506.35 L463.70,505.27 L464.20,506.08 L464.70,505.90 L465.20,503.26 L465.70,504.89 L466.20,507.01 L466.70,507.40 L467.20,506.81 L467.70,506.55 L468.20,505.86 L468.70,506.51 L469.20,504.46 L469.70,505.85 L470.20,507.07 L470.70,505.78 L471.20,507.80 L471.70,492.12 L472.20,507.24 L472.70,507.71 L472.70,487.90Z" fill="#f00a0a"/>
<rect x="280.70" y="487.90" width="0.6" height="2.35" fill="#ffffff" opacity="0.75"/>
<rect x="281.70" y="487.90" width="0.6" height="2.96" fill="#b00000" opacity="0.75"/>
<rect x="283.70" y="487.90" width="0.6" height="3.76" fill="#f8a0a0" opacity="0.75"/>
<rect x="284.70" y="487.90" width="0.6" height="1.42" fill="#f8a0a0" opacity="0.75"/>
<rect x="286.20" y="487.90" width="0.6" height="6.52" fill="#ffffff" opacity="0.75"/>
<rect x="287.70" y="487.90" width="0.6" height="8.83" fill="#f8a0a0" opacity="0.75"/>
<rect x="288.70" y="487.90" width="0.6" height="6.12" fill="#b00000" opacity="0.75"/>
<rect x="289.20" y="487.90" width="0.6" height="7.45" fill="#ffffff" opacity="0.75"/>
<rect x="293.70" y="487.90" width="0.6" height="6.79" fill="#ffffff" opacity="0.75"/>
<rect x="294.20" y="487.90" width="0.6" height="11.78" fill="#b00000" opacity="0.75"/>
<rect x="295.70" y="487.90" width="0.6" height="9.67" fill="#f8a0a0" opacity="0.75"/>
<rect x="296.20" y="487.90" width="0.6" height="12.22" fill="#f8a0a0" opacity="0.75"/>
<rect x="296.70" y="487.90" width="0.6" height="13.92" fill="#ffffff" opacity="0.75"/>
<rect x="297.00" y="487.90" width="0.6" height="13.40" fill="#f8a0a0" opacity="0.75"/>
<rect x="299.70" y="487.90" width="0.6" height="8.16" fill="#b00000" opacity="0.75"/>
<rect x="300.20" y="487.90" width="0.6" height="8.62" fill="#ffffff" opacity="0.75"/>
<rect x="300.70" y="487.90" width="0.6" height="10.73" fill="#ffffff" opacity="0.75"/>
<rect x="301.20" y="487.90" width="0.6" height="8.37" fill="#b00000" opacity="0.75"/>
<rect x="301.70" y="487.90" width="0.6" height="9.01" fill="#f8a0a0" opacity="0.75"/>
<rect x="302.70" y="487.90" width="0.6" height="11.11" fill="#f8a0a0" opacity="0.75"/>
<rect x="303.70" y="487.90" width="0.6" height="8.74" fill="#f8a0a0" opacity="0.75"/>
<rect x="304.20" y="487.90" width="0.6" height="13.72" fill="#ffffff" opacity="0.75"/>
<rect x="305.70" y="487.90" width="0.6" height="9.23" fill="#ffffff" opacity="0.75"/>
<rect x="306.70" y="487.90" width="0.6" height="10.92" fill="#f8a0a0" opacity="0.75"/>
<rect x="311.70" y="487.90" width="0.6" height="14.68" fill="#ffffff" opacity="0.75"/>
<rect x="312.70" y="487.90" width="0.6" height="8.79" fill="#b00000" opacity="0.75"/>
<rect x="314.20" y="487.90" width="0.6" height="12.69" fill="#f8a0a0" opacity="0.75"/>
<rect x="314.70" y="487.90" width="0.6" height="10.79" fill="#ffffff" opacity="0.75"/>
<rect x="315.70" y="487.90" width="0.6" height="10.82" fill="#b00000" opacity="0.75"/>
<rect x="316.00" y="487.90" width="0.6" height="11.72" fill="#ffffff" opacity="0.75"/>
<rect x="319.20" y="487.90" width="0.6" height="8.82" fill="#f8a0a0" opacity="0.75"/>
<rect x="319.70" y="487.90" width="0.6" height="10.41" fill="#b00000" opacity="0.75"/>
<rect x="320.20" y="487.90" width="0.6" height="6.24" fill="#ffffff" opacity="0.75"/>
<rect x="321.20" y="487.90" width="0.6" height="3.05" fill="#f8a0a0" opacity="0.75"/>
<rect x="322.70" y="487.90" width="0.6" height="7.36" fill="#ffffff" opacity="0.75"/>
<rect x="323.20" y="487.90" width="0.6" height="7.89" fill="#f8a0a0" opacity="0.75"/>
<rect x="326.20" y="487.90" width="0.6" height="10.52" fill="#f8a0a0" opacity="0.75"/>
<rect x="326.70" y="487.90" width="0.6" height="9.98" fill="#b00000" opacity="0.75"/>
<rect x="328.70" y="487.90" width="0.6" height="7.69" fill="#ffffff" opacity="0.75"/>
<rect x="330.70" y="487.90" width="0.6" height="8.22" fill="#b00000" opacity="0.75"/>
<rect x="332.20" y="487.90" width="0.6" height="10.96" fill="#f8a0a0" opacity="0.75"/>
<rect x="332.70" y="487.90" width="0.6" height="6.10" fill="#ffffff" opacity="0.75"/>
<rect x="339.00" y="487.90" width="0.6" height="10.91" fill="#b00000" opacity="0.75"/>
<rect x="339.20" y="487.90" width="0.6" height="10.01" fill="#ffffff" opacity="0.75"/>
<rect x="340.20" y="487.90" width="0.6" height="6.91" fill="#ffffff" opacity="0.75"/>
<rect x="341.00" y="487.90" width="0.6" height="9.65" fill="#ffffff" opacity="0.75"/>
<rect x="341.20" y="487.90" width="0.6" height="2.45" fill="#ffffff" opacity="0.75"/>
<rect x="342.20" y="487.90" width="0.6" height="11.73" fill="#ffffff" opacity="0.75"/>
<rect x="342.70" y="487.90" width="0.6" height="13.98" fill="#b00000" opacity="0.75"/>
<rect x="343.20" y="487.90" width="0.6" height="4.14" fill="#b00000" opacity="0.75"/>
<rect x="343.70" y="487.90" width="0.6" height="10.07" fill="#f8a0a0" opacity="0.75"/>
<rect x="344.70" y="487.90" width="0.6" height="13.04" fill="#ffffff" opacity="0.75"/>
<rect x="345.00" y="487.90" width="0.6" height="11.45" fill="#f8a0a0" opacity="0.75"/>
<rect x="345.20" y="487.90" width="0.6" height="12.33" fill="#f8a0a0" opacity="0.75"/>
<rect x="345.70" y="487.90" width="0.6" height="12.90" fill="#f8a0a0" opacity="0.75"/>
<rect x="346.70" y="487.90" width="0.6" height="12.83" fill="#f8a0a0" opacity="0.75"/>
<rect x="347.70" y="487.90" width="0.6" height="7.52" fill="#ffffff" opacity="0.75"/>
<rect x="348.70" y="487.90" width="0.6" height="13.54" fill="#ffffff" opacity="0.75"/>
<rect x="349.20" y="487.90" width="0.6" height="11.67" fill="#ffffff" opacity="0.75"/>
<rect x="351.20" y="487.90" width="0.6" height="12.82" fill="#b00000" opacity="0.75"/>
<rect x="351.70" y="487.90" width="0.6" height="8.29" fill="#f8a0a0" opacity="0.75"/>
<rect x="353.70" y="487.90" width="0.6" height="6.99" fill="#b00000" opacity="0.75"/>
<rect x="354.70" y="487.90" width="0.6" height="8.00" fill="#b00000" opacity="0.75"/>
<rect x="355.20" y="487.90" width="0.6" height="12.04" fill="#ffffff" opacity="0.75"/>
<rect x="355.70" y="487.90" width="0.6" height="11.56" fill="#ffffff" opacity="0.75"/>
<rect x="356.20" y="487.90" width="0.6" height="11.05" fill="#ffffff" opacity="0.75"/>
<rect x="358.20" y="487.90" width="0.6" height="2.65" fill="#ffffff" opacity="0.75"/>
<rect x="360.70" y="487.90" width="0.6" height="2.70" fill="#b00000" opacity="0.75"/>
<rect x="361.70" y="487.90" width="0.6" height="2.53" fill="#ffffff" opacity="0.75"/>
<rect x="362.70" y="487.90" width="0.6" height="3.10" fill="#ffffff" opacity="0.75"/>
<rect x="363.00" y="487.90" width="0.6" height="4.27" fill="#f8a0a0" opacity="0.75"/>
<rect x="364.00" y="487.90" width="0.6" height="10.37" fill="#ffffff" opacity="0.75"/>
<rect x="365.70" y="487.90" width="0.6" height="9.46" fill="#f8a0a0" opacity="0.75"/>
<rect x="366.70" y="487.90" width="0.6" height="10.14" fill="#ffffff" opacity="0.75"/>
<rect x="367.70" y="487.90" width="0.6" height="11.08" fill="#ffffff" opacity="0.75"/>
<rect x="369.70" y="487.90" width="0.6" height="13.33" fill="#ffffff" opacity="0.75"/>
<rect x="370.20" y="487.90" width="0.6" height="6.68" fill="#f8a0a0" opacity="0.75"/>
<rect x="370.70" y="487.90" width="0.6" height="7.38" fill="#ffffff" opacity="0.75"/>
<rect x="371.20" y="487.90" width="0.6" height="11.22" fill="#f8a0a0" opacity="0.75"/>
<rect x="374.70" y="487.90" width="0.6" height="12.40" fill="#b00000" opacity="0.75"/>
<rect x="375.20" y="487.90" width="0.6" height="8.45" fill="#b00000" opacity="0.75"/>
<rect x="377.20" y="487.90" width="0.6" height="9.12" fill="#ffffff" opacity="0.75"/>
<rect x="377.70" y="487.90" width="0.6" height="12.81" fill="#ffffff" opacity="0.75"/>
<rect x="380.20" y="487.90" width="0.6" height="13.40" fill="#ffffff" opacity="0.75"/>
<rect x="382.20" y="487.90" width="0.6" height="8.16" fill="#f8a0a0" opacity="0.75"/>
<rect x="384.20" y="487.90" width="0.6" height="7.30" fill="#b00000" opacity="0.75"/>
<rect x="385.70" y="487.90" width="0.6" height="12.69" fill="#b00000" opacity="0.75"/>
<rect x="387.70" y="487.90" width="0.6" height="9.74" fill="#ffffff" opacity="0.75"/>
<rect x="388.20" y="487.90" width="0.6" height="9.10" fill="#ffffff" opacity="0.75"/>
<rect x="388.70" y="487.90" width="0.6" height="6.60" fill="#ffffff" opacity="0.75"/>
<rect x="389.20" y="487.90" width="0.6" height="6.68" fill="#f8a0a0" opacity="0.75"/>
<rect x="389.70" y="487.90" width="0.6" height="7.59" fill="#ffffff" opacity="0.75"/>
<rect x="391.20" y="487.90" width="0.6" height="1.73" fill="#b00000" opacity="0.75"/>
<rect x="391.70" y="487.90" width="0.6" height="7.51" fill="#ffffff" opacity="0.75"/>
<rect x="392.70" y="487.90" width="0.6" height="9.99" fill="#f8a0a0" opacity="0.75"/>
<rect x="393.20" y="487.90" width="0.6" height="8.40" fill="#ffffff" opacity="0.75"/>
<rect x="394.20" y="487.90" width="0.6" height="7.85" fill="#ffffff" opacity="0.75"/>
<rect x="395.00" y="487.90" width="0.6" height="8.58" fill="#ffffff" opacity="0.75"/>
<rect x="397.70" y="487.90" width="0.6" height="7.53" fill="#b00000" opacity="0.75"/>
<rect x="399.70" y="487.90" width="0.6" height="9.52" fill="#ffffff" opacity="0.75"/>
<rect x="404.70" y="487.90" width="0.6" height="1.32" fill="#f8a0a0" opacity="0.75"/>
<rect x="405.70" y="487.90" width="0.6" height="9.13" fill="#f8a0a0" opacity="0.75"/>
<rect x="407.70" y="487.90" width="0.6" height="9.89" fill="#ffffff" opacity="0.75"/>
<rect x="409.20" y="487.90" width="0.6" height="8.26" fill="#b00000" opacity="0.75"/>
<rect x="409.70" y="487.90" width="0.6" height="1.47" fill="#b00000" opacity="0.75"/>
<rect x="410.20" y="487.90" width="0.6" height="8.53" fill="#f8a0a0" opacity="0.75"/>
<rect x="410.70" y="487.90" width="0.6" height="5.24" fill="#ffffff" opacity="0.75"/>
<rect x="411.70" y="487.90" width="0.6" height="6.40" fill="#ffffff" opacity="0.75"/>
<rect x="412.20" y="487.90" width="0.6" height="9.32" fill="#ffffff" opacity="0.75"/>
<rect x="415.70" y="487.90" width="0.6" height="7.67" fill="#b00000" opacity="0.75"/>
<rect x="416.70" y="487.90" width="0.6" height="7.60" fill="#ffffff" opacity="0.75"/>
<rect x="418.70" y="487.90" width="0.6" height="9.45" fill="#ffffff" opacity="0.75"/>
<rect x="419.20" y="487.90" width="0.6" height="10.84" fill="#f8a0a0" opacity="0.75"/>
<rect x="420.20" y="487.90" width="0.6" height="9.48" fill="#f8a0a0" opacity="0.75"/>
<rect x="420.70" y="487.90" width="0.6" height="8.42" fill="#f8a0a0" opacity="0.75"/>
<rect x="421.20" y="487.90" width="0.6" height="3.94" fill="#ffffff" opacity="0.75"/>
<rect x="423.70" y="487.90" width="0.6" height="11.63" fill="#f8a0a0" opacity="0.75"/>
<rect x="424.20" y="487.90" width="0.6" height="7.96" fill="#f8a0a0" opacity="0.75"/>
<rect x="424.70" y="487.90" width="0.6" height="10.89" fill="#ffffff" opacity="0.75"/>
<rect x="426.70" y="487.90" width="0.6" height="10.54" fill="#ffffff" opacity="0.75"/>
<rect x="428.20" y="487.90" width="0.6" height="11.10" fill="#ffffff" opacity="0.75"/>
<rect x="429.20" y="487.90" width="0.6" height="7.53" fill="#ffffff" opacity="0.75"/>
<rect x="430.20" y="487.90" width="0.6" height="15.21" fill="#f8a0a0" opacity="0.75"/>
<rect x="431.20" y="487.90" width="0.6" height="9.86" fill="#f8a0a0" opacity="0.75"/>
<rect x="433.70" y="487.90" width="0.6" height="8.62" fill="#ffffff" opacity="0.75"/>
<rect x="434.20" y="487.90" width="0.6" height="10.20" fill="#ffffff" opacity="0.75"/>
<rect x="434.70" y="487.90" width="0.6" height="11.32" fill="#ffffff" opacity="0.75"/>
<rect x="435.70" y="487.90" width="0.6" height="13.26" fill="#ffffff" opacity="0.75"/>
<rect x="438.70" y="487.90" width="0.6" height="9.73" fill="#ffffff" opacity="0.75"/>
<rect x="439.20" y="487.90" width="0.6" height="10.45" fill="#f8a0a0" opacity="0.75"/>
<rect x="439.70" y="487.90" width="0.6" height="14.97" fill="#ffffff" opacity="0.75"/>
<rect x="441.20" y="487.90" width="0.6" height="16.72" fill="#f8a0a0" opacity="0.75"/>
<rect x="444.20" y="487.90" width="0.6" height="10.80" fill="#ffffff" opacity="0.75"/>
<rect x="445.20" y="487.90" width="0.6" height="13.29" fill="#ffffff" opacity="0.75"/>
<rect x="445.70" y="487.90" width="0.6" height="11.96" fill="#f8a0a0" opacity="0.75"/>
<rect x="446.20" y="487.90" width="0.6" height="11.71" fill="#f8a0a0" opacity="0.75"/>
<rect x="449.70" y="487.90" width="0.6" height="12.07" fill="#b00000" opacity="0.75"/>
<rect x="452.70" y="487.90" width="0.6" height="12.40" fill="#b00000" opacity="0.75"/>
<rect x="453.70" y="487.90" width="0.6" height="6.10" fill="#ffffff" opacity="0.75"/>
<rect x="455.20" y="487.90" width="0.6" height="11.24" fill="#f8a0a0" opacity="0.75"/>
<rect x="456.20" y="487.90" width="0.6" height="4.23" fill="#ffffff" opacity="0.75"/>
<rect x="457.20" y="487.90" width="0.6" height="14.32" fill="#f8a0a0" opacity="0.75"/>
<rect x="457.70" y="487.90" width="0.6" height="10.38" fill="#ffffff" opacity="0.75"/>
<rect x="458.20" y="487.90" width="0.6" height="14.62" fill="#ffffff" opacity="0.75"/>
<rect x="458.70" y="487.90" width="0.6" height="10.58" fill="#b00000" opacity="0.75"/>
<rect x="459.70" y="487.90" width="0.6" height="17.03" fill="#ffffff" opacity="0.75"/>
<rect x="461.20" y="487.90" width="0.6" height="12.10" fill="#ffffff" opacity="0.75"/>
<rect x="463.70" y="487.90" width="0.6" height="10.62" fill="#ffffff" opacity="0.75"/>
<rect x="466.20" y="487.90" width="0.6" height="16.65" fill="#ffffff" opacity="0.75"/>
<rect x="467.70" y="487.90" width="0.6" height="17.35" fill="#b00000" opacity="0.75"/>
<rect x="468.20" y="487.90" width="0.6" height="12.23" fill="#ffffff" opacity="0.75"/>
<rect x="468.70" y="487.90" width="0.6" height="14.95" fill="#b00000" opacity="0.75"/>
<rect x="469.20" y="487.90" width="0.6" height="13.48" fill="#ffffff" opacity="0.75"/>
<rect x="469.70" y="487.90" width="0.6" height="11.45" fill="#ffffff" opacity="0.75"/>
<rect x="470.70" y="487.90" width="0.6" height="14.97" fill="#ffffff" opacity="0.75"/>
<rect x="471.70" y="487.90" width="0.6" height="3.14" fill="#ffffff" opacity="0.75"/>
<rect x="472.70" y="487.90" width="0.6" height="16.55" fill="#ffffff" opacity="0.75"/>
<path d="M473.00,487.90 L473.00,507.90 L473.50,505.66 L474.00,503.90 L474.50,503.35 L475.00,502.76 L475.50,499.36 L476.00,500.81 L476.50,491.72 L477.00,496.13 L477.50,499.41 L478.00,492.61 L478.50,496.13 L479.00,498.43 L479.50,497.17 L480.00,497.90 L480.00,487.90Z" fill="#f06060"/>
<path d="M480.00,487.90 L480.00,497.90 L480.50,494.07 L481.00,493.57 L481.50,496.61 L482.00,495.91 L482.50,495.05 L483.00,495.27 L483.50,492.48 L484.00,492.40 L484.50,489.20 L485.00,490.69 L485.50,489.55 L486.00,488.49 L486.50,489.24 L487.00,489.68 L487.50,489.57 L487.50,487.90Z" fill="#f8c8c8"/>
<rect x="296.00" y="488.70" width="0.8" height="20.80" fill="#fff" opacity="0.85"/>
<rect x="315.00" y="488.70" width="0.8" height="20.80" fill="#fff" opacity="0.85"/>
<rect x="330.00" y="488.70" width="0.8" height="20.80" fill="#fff" opacity="0.85"/>
<rect x="357.00" y="488.70" width="0.8" height="20.80" fill="#fff" opacity="0.85"/>
<rect x="360.00" y="488.70" width="0.8" height="20.80" fill="#fff" opacity="0.85"/>
<rect x="380.00" y="488.70" width="0.8" height="20.80" fill="#fff" opacity="0.85"/>
<rect x="394.00" y="488.70" width="0.8" height="20.80" fill="#fff" opacity="0.85"/>
<rect x="414.00" y="488.70" width="0.8" height="20.80" fill="#fff" opacity="0.85"/>
<rect x="427.00" y="488.70" width="0.8" height="20.80" fill="#fff" opacity="0.85"/>
<rect x="432.00" y="488.70" width="0.8" height="20.80" fill="#fff" opacity="0.85"/>
<rect x="440.00" y="488.70" width="0.8" height="20.80" fill="#fff" opacity="0.85"/>
<rect x="446.00" y="488.70" width="0.8" height="20.80" fill="#fff" opacity="0.85"/>
<rect x="451.00" y="488.70" width="0.8" height="20.80" fill="#fff" opacity="0.85"/>
<rect x="456.00" y="488.70" width="0.8" height="20.80" fill="#fff" opacity="0.85"/>
<rect x="463.00" y="488.70" width="0.8" height="20.80" fill="#fff" opacity="0.85"/>
<rect x="468.00" y="488.70" width="0.8" height="20.80" fill="#fff" opacity="0.85"/>
<line x1="280.20" y1="487.90" x2="493.00" y2="487.90" stroke="#1a1a3a" stroke-width="0.8"/>
<line x1="493.00" y1="469.18" x2="493.00" y2="506.62" stroke="#555" stroke-width="0.7"/>
<line x1="491.80" y1="469.18" x2="494.20" y2="469.18" stroke="#333" stroke-width="1.0"/>
<line x1="491.80" y1="506.62" x2="494.20" y2="506.62" stroke="#333" stroke-width="1.0"/>
<line x1="488.00" y1="467.10" x2="488.00" y2="508.70" stroke="#bbb" stroke-width="0.5"/>
<line x1="280.20" y1="528.00" x2="488.00" y2="528.00" stroke="#cfcfcf" stroke-width="0.7"/>
<line x1="280.20" y1="538.40" x2="488.00" y2="538.40" stroke="#cfcfcf" stroke-width="0.7"/>
<line x1="280.20" y1="522.80" x2="488.00" y2="522.80" stroke="#cfcfcf" stroke-width="0.7"/>
<line x1="280.20" y1="543.60" x2="488.00" y2="543.60" stroke="#cfcfcf" stroke-width="0.7"/>
<line x1="280.20" y1="517.60" x2="488.00" y2="517.60" stroke="#cfcfcf" stroke-width="0.7"/>
<line x1="280.20" y1="548.80" x2="488.00" y2="548.80" stroke="#cfcfcf" stroke-width="0.7"/>
<line x1="280.20" y1="512.40" x2="488.00" y2="512.40" stroke="#cfcfcf" stroke-width="0.7"/>
<line x1="280.20" y1="554.00" x2="488.00" y2="554.00" stroke="#cfcfcf" stroke-width="0.7"/>
<path d="M280.20,533.20 L280.20,532.20 L280.70,532.23 L281.20,531.89 L281.70,531.66 L282.20,531.35 L282.50,531.20 L282.70,526.45 L283.20,516.92 L283.30,512.40 L283.70,522.83 L284.00,530.20 L284.20,530.52 L284.70,530.91 L285.20,530.63 L285.70,530.45 L286.20,530.27 L286.70,530.37 L287.20,530.46 L287.70,530.51 L288.20,530.22 L288.70,530.70 L289.20,530.21 L289.70,530.20 L290.20,530.45 L290.70,530.28 L291.20,530.26 L291.70,530.65 L291.80,530.20 L292.20,529.89 L292.70,529.02 L293.20,527.48 L293.70,526.52 L294.00,525.20 L294.20,525.01 L294.70,524.50 L295.20,525.09 L295.70,525.07 L296.20,523.74 L296.70,524.00 L297.00,522.20 L297.20,522.60 L297.70,523.79 L298.20,526.00 L298.70,524.85 L299.00,525.20 L299.20,526.11 L299.70,526.53 L300.20,528.49 L300.70,528.30 L301.20,529.72 L301.30,529.20 L301.70,529.68 L302.20,529.61 L302.70,529.29 L303.20,529.80 L303.70,529.50 L304.20,529.21 L304.70,529.31 L305.20,529.90 L305.50,529.20 L305.70,529.37 L306.20,528.70 L306.70,528.51 L307.20,532.02 L307.70,528.33 L308.00,527.20 L308.20,527.90 L308.70,527.50 L309.20,527.21 L309.70,527.55 L310.20,527.64 L310.70,527.62 L311.20,528.41 L311.70,528.35 L312.20,527.57 L312.70,527.88 L313.20,527.33 L313.70,527.38 L314.00,527.20 L314.20,527.71 L314.70,529.07 L315.20,529.32 L315.70,529.82 L316.00,530.20 L316.20,530.54 L316.70,529.34 L317.20,528.72 L317.70,528.33 L318.20,527.55 L318.70,526.92 L319.20,530.31 L319.70,525.72 L320.00,525.20 L320.20,526.41 L320.70,529.55 L321.00,531.20 L321.20,531.62 L321.70,531.24 L322.20,531.65 L322.70,531.26 L323.20,531.29 L323.70,531.40 L324.20,531.47 L324.70,531.65 L325.20,531.51 L325.70,531.38 L326.20,531.72 L326.70,531.49 L327.20,531.59 L327.70,531.76 L328.20,531.51 L328.70,531.71 L329.20,531.53 L329.70,531.92 L330.20,531.54 L330.70,531.79 L331.20,531.56 L331.70,531.79 L332.20,531.71 L332.70,531.68 L333.20,531.67 L333.70,531.92 L334.20,531.74 L334.70,531.73 L335.00,531.70 L335.20,531.85 L335.70,531.72 L336.20,531.17 L336.70,530.88 L337.20,531.03 L337.70,530.17 L338.20,530.33 L338.70,529.54 L339.20,529.10 L339.70,529.83 L340.00,528.60 L340.20,529.29 L340.70,530.99 L341.00,531.70 L341.20,531.74 L341.70,531.44 L342.20,531.26 L342.70,531.11 L343.20,531.20 L343.70,530.86 L344.20,530.58 L344.70,530.36 L345.00,530.20 L345.20,530.67 L345.70,531.98 L346.20,530.44 L346.50,530.20 L346.70,530.36 L347.20,527.88 L347.70,527.85 L348.00,525.20 L348.20,524.61 L348.70,524.41 L349.20,522.76 L349.70,520.34 L350.00,519.20 L350.20,521.48 L350.70,519.58 L350.80,517.20 L351.20,519.71 L351.70,522.61 L351.80,523.20 L352.20,525.60 L352.50,527.40 L352.70,527.47 L353.20,526.60 L353.50,525.20 L353.70,524.63 L354.20,523.02 L354.70,519.94 L355.20,514.09 L355.40,512.40 L355.70,515.39 L356.20,522.26 L356.50,523.20 L356.70,526.65 L357.00,526.70 L357.20,527.18 L357.70,524.89 L358.00,523.20 L358.20,523.83 L358.70,519.72 L359.20,517.30 L359.60,512.40 L359.70,513.96 L360.20,514.97 L360.70,520.85 L361.00,518.20 L361.20,518.86 L361.70,519.49 L362.20,520.17 L362.70,519.48 L363.00,519.70 L363.20,522.62 L363.70,524.85 L364.20,528.15 L364.50,529.20 L364.70,529.53 L365.20,530.30 L365.70,530.87 L366.00,531.20 L366.20,531.48 L366.70,531.30 L367.20,531.26 L367.70,531.31 L368.20,530.76 L368.70,531.04 L369.20,530.57 L369.70,530.87 L370.20,531.02 L370.70,530.56 L371.00,530.20 L371.20,530.04 L371.70,529.80 L372.00,528.20 L372.20,529.01 L372.70,527.67 L373.00,526.20 L373.20,531.78 L373.70,526.19 L374.20,526.33 L374.70,527.37 L375.20,526.48 L375.70,525.67 L376.20,526.12 L376.70,527.20 L377.00,525.20 L377.20,525.42 L377.70,526.78 L378.20,527.86 L378.70,527.64 L379.20,528.80 L379.70,528.61 L380.00,528.20 L380.20,528.69 L380.70,529.49 L381.20,529.15 L381.70,529.94 L382.20,529.67 L382.70,530.01 L383.00,530.20 L383.20,529.94 L383.70,529.38 L384.20,529.24 L384.70,528.64 L385.20,528.34 L385.70,527.94 L386.00,526.20 L386.20,527.92 L386.70,529.56 L387.00,530.20 L387.20,532.39 L387.70,530.44 L388.20,530.49 L388.70,529.82 L389.20,530.03 L389.70,529.53 L390.20,529.72 L390.70,530.24 L391.20,529.73 L391.70,529.09 L392.20,528.93 L392.70,528.98 L393.20,528.67 L393.70,532.11 L394.20,529.51 L394.70,528.31 L395.00,528.20 L395.20,529.25 L395.70,530.33 L396.00,531.20 L396.20,532.59 L396.70,530.96 L397.20,530.75 L397.70,532.58 L398.20,530.45 L398.70,530.49 L399.20,530.60 L399.70,530.32 L400.20,529.63 L400.70,529.44 L401.20,529.27 L401.70,529.81 L402.20,529.14 L402.70,532.88 L403.20,531.90 L403.70,528.79 L404.00,528.20 L404.20,528.91 L404.70,530.30 L405.00,531.20 L405.20,531.40 L405.70,531.47 L406.20,531.16 L406.70,531.31 L407.20,531.17 L407.70,531.38 L408.20,530.80 L408.70,530.70 L409.20,531.13 L409.70,531.03 L410.20,530.68 L410.70,530.96 L411.20,530.32 L411.70,530.28 L412.00,530.20 L412.20,529.14 L412.70,525.40 L413.20,521.76 L413.70,527.00 L414.20,525.14 L414.50,529.20 L414.70,530.05 L415.20,529.16 L415.70,529.85 L416.20,529.06 L416.70,529.57 L417.20,529.95 L417.70,532.61 L418.20,529.16 L418.70,528.85 L419.20,528.99 L419.70,529.08 L420.20,529.24 L420.70,529.35 L421.20,529.33 L421.70,528.86 L422.20,528.72 L422.70,529.50 L423.20,528.51 L423.70,529.22 L424.20,528.85 L424.70,531.68 L425.00,528.20 L425.20,528.38 L425.70,530.80 L426.20,527.27 L426.70,525.46 L427.20,524.62 L427.70,523.98 L428.00,523.20 L428.20,523.12 L428.70,524.44 L429.20,521.33 L429.70,520.46 L430.20,521.59 L430.70,520.26 L431.20,518.73 L431.70,518.05 L432.20,517.31 L432.70,517.58 L433.00,514.20 L433.20,531.29 L433.70,519.24 L434.20,521.44 L434.70,522.10 L435.00,523.20 L435.20,525.25 L435.70,521.56 L436.20,520.70 L436.70,518.55 L437.20,518.64 L437.70,517.27 L438.00,514.20 L438.20,515.34 L438.70,519.57 L439.20,528.21 L439.70,522.96 L440.00,523.20 L440.20,524.80 L440.70,531.61 L441.20,530.29 L441.70,525.84 L442.20,526.75 L442.70,526.40 L443.20,526.92 L443.70,527.75 L444.20,528.96 L444.40,528.20 L444.70,528.44 L445.20,529.67 L445.70,529.33 L446.20,530.10 L446.70,530.03 L447.00,530.20 L447.20,530.36 L447.70,530.47 L448.20,530.23 L448.70,530.18 L449.20,530.62 L449.70,530.21 L450.20,529.69 L450.70,529.51 L451.20,529.55 L451.70,529.51 L452.00,529.20 L452.20,529.29 L452.70,529.38 L453.20,528.57 L453.70,527.73 L454.20,527.71 L454.70,526.51 L455.00,531.72 L455.20,526.26 L455.70,525.58 L456.20,525.41 L456.70,524.65 L457.20,525.34 L457.70,523.50 L458.20,525.04 L458.70,522.86 L459.20,523.29 L459.70,531.59 L460.00,521.20 L460.20,523.79 L460.70,524.39 L461.20,522.86 L461.70,523.64 L462.20,523.48 L462.70,523.95 L463.20,531.58 L463.70,524.90 L464.20,531.18 L464.70,526.05 L465.00,526.20 L465.20,526.09 L465.70,527.53 L466.20,526.32 L466.70,525.30 L467.20,525.03 L467.70,531.88 L468.20,526.44 L468.70,524.23 L469.20,523.94 L469.70,523.64 L470.00,523.20 L470.20,523.37 L470.70,523.90 L471.20,525.66 L471.70,524.60 L472.20,524.53 L472.70,524.83 L472.70,533.20Z" fill="#1616cc"/>
<rect x="282.20" y="532.11" width="0.6" height="1.09" fill="#4848e8" opacity="0.75"/>
<rect x="284.70" y="531.02" width="0.6" height="2.18" fill="#0c0c9a" opacity="0.75"/>
<rect x="285.70" y="531.20" width="0.6" height="2.00" fill="#0c0c9a" opacity="0.75"/>
<rect x="287.70" y="531.10" width="0.6" height="2.10" fill="#6a6af2" opacity="0.75"/>
<rect x="289.70" y="531.32" width="0.6" height="1.88" fill="#4848e8" opacity="0.75"/>
<rect x="290.20" y="531.44" width="0.6" height="1.76" fill="#4848e8" opacity="0.75"/>
<rect x="291.20" y="531.60" width="0.6" height="1.60" fill="#6a6af2" opacity="0.75"/>
<rect x="291.70" y="531.23" width="0.6" height="1.97" fill="#0c0c9a" opacity="0.75"/>
<rect x="293.70" y="529.53" width="0.6" height="3.67" fill="#4848e8" opacity="0.75"/>
<rect x="294.20" y="527.98" width="0.6" height="5.22" fill="#6a6af2" opacity="0.75"/>
<rect x="294.70" y="527.23" width="0.6" height="5.97" fill="#4848e8" opacity="0.75"/>
<rect x="295.20" y="528.31" width="0.6" height="4.89" fill="#0c0c9a" opacity="0.75"/>
<rect x="295.70" y="528.28" width="0.6" height="4.92" fill="#0c0c9a" opacity="0.75"/>
<rect x="296.20" y="527.64" width="0.6" height="5.56" fill="#6a6af2" opacity="0.75"/>
<rect x="296.70" y="528.39" width="0.6" height="4.81" fill="#6a6af2" opacity="0.75"/>
<rect x="297.00" y="524.81" width="0.6" height="8.39" fill="#0c0c9a" opacity="0.75"/>
<rect x="299.00" y="529.03" width="0.6" height="4.17" fill="#6a6af2" opacity="0.75"/>
<rect x="299.20" y="529.07" width="0.6" height="4.13" fill="#4848e8" opacity="0.75"/>
<rect x="299.70" y="527.32" width="0.6" height="5.88" fill="#6a6af2" opacity="0.75"/>
<rect x="301.20" y="531.42" width="0.6" height="1.78" fill="#6a6af2" opacity="0.75"/>
<rect x="301.70" y="530.65" width="0.6" height="2.55" fill="#4848e8" opacity="0.75"/>
<rect x="302.20" y="530.14" width="0.6" height="3.06" fill="#4848e8" opacity="0.75"/>
<rect x="302.70" y="529.82" width="0.6" height="3.38" fill="#4848e8" opacity="0.75"/>
<rect x="303.20" y="531.35" width="0.6" height="1.85" fill="#0c0c9a" opacity="0.75"/>
<rect x="303.70" y="530.29" width="0.6" height="2.91" fill="#0c0c9a" opacity="0.75"/>
<rect x="305.50" y="531.08" width="0.6" height="2.12" fill="#0c0c9a" opacity="0.75"/>
<rect x="306.20" y="529.74" width="0.6" height="3.46" fill="#0c0c9a" opacity="0.75"/>
<rect x="311.20" y="530.43" width="0.6" height="2.77" fill="#4848e8" opacity="0.75"/>
<rect x="312.70" y="530.20" width="0.6" height="3.00" fill="#6a6af2" opacity="0.75"/>
<rect x="314.00" y="529.43" width="0.6" height="3.77" fill="#4848e8" opacity="0.75"/>
<rect x="314.70" y="530.37" width="0.6" height="2.83" fill="#4848e8" opacity="0.75"/>
<rect x="315.70" y="530.39" width="0.6" height="2.81" fill="#0c0c9a" opacity="0.75"/>
<rect x="320.00" y="525.84" width="0.6" height="7.36" fill="#4848e8" opacity="0.75"/>
<rect x="320.70" y="529.89" width="0.6" height="3.31" fill="#6a6af2" opacity="0.75"/>
<rect x="321.00" y="532.14" width="0.6" height="1.06" fill="#6a6af2" opacity="0.75"/>
<rect x="321.70" y="531.99" width="0.6" height="1.21" fill="#0c0c9a" opacity="0.75"/>
<rect x="323.20" y="531.78" width="0.6" height="1.42" fill="#4848e8" opacity="0.75"/>
<rect x="323.70" y="532.21" width="0.6" height="0.99" fill="#0c0c9a" opacity="0.75"/>
<rect x="328.20" y="531.74" width="0.6" height="1.46" fill="#4848e8" opacity="0.75"/>
<rect x="331.20" y="531.77" width="0.6" height="1.43" fill="#6a6af2" opacity="0.75"/>
<rect x="336.20" y="532.06" width="0.6" height="1.14" fill="#4848e8" opacity="0.75"/>
<rect x="336.70" y="531.44" width="0.6" height="1.76" fill="#0c0c9a" opacity="0.75"/>
<rect x="337.70" y="530.73" width="0.6" height="2.47" fill="#6a6af2" opacity="0.75"/>
<rect x="339.20" y="529.37" width="0.6" height="3.83" fill="#0c0c9a" opacity="0.75"/>
<rect x="339.70" y="531.03" width="0.6" height="2.17" fill="#0c0c9a" opacity="0.75"/>
<rect x="345.20" y="530.90" width="0.6" height="2.30" fill="#6a6af2" opacity="0.75"/>
<rect x="346.20" y="531.28" width="0.6" height="1.92" fill="#4848e8" opacity="0.75"/>
<rect x="346.50" y="531.36" width="0.6" height="1.84" fill="#4848e8" opacity="0.75"/>
<rect x="346.70" y="531.09" width="0.6" height="2.11" fill="#0c0c9a" opacity="0.75"/>
<rect x="347.20" y="529.78" width="0.6" height="3.42" fill="#6a6af2" opacity="0.75"/>
<rect x="347.70" y="529.33" width="0.6" height="3.87" fill="#6a6af2" opacity="0.75"/>
<rect x="348.20" y="525.80" width="0.6" height="7.40" fill="#0c0c9a" opacity="0.75"/>
<rect x="348.70" y="525.10" width="0.6" height="8.10" fill="#6a6af2" opacity="0.75"/>
<rect x="349.20" y="524.36" width="0.6" height="8.84" fill="#6a6af2" opacity="0.75"/>
<rect x="349.70" y="524.43" width="0.6" height="8.77" fill="#0c0c9a" opacity="0.75"/>
<rect x="350.20" y="523.56" width="0.6" height="9.64" fill="#0c0c9a" opacity="0.75"/>
<rect x="350.70" y="523.46" width="0.6" height="9.74" fill="#0c0c9a" opacity="0.75"/>
<rect x="351.80" y="526.84" width="0.6" height="6.36" fill="#0c0c9a" opacity="0.75"/>
<rect x="353.20" y="527.22" width="0.6" height="5.98" fill="#4848e8" opacity="0.75"/>
<rect x="353.70" y="528.36" width="0.6" height="4.84" fill="#4848e8" opacity="0.75"/>
<rect x="354.70" y="522.14" width="0.6" height="11.06" fill="#6a6af2" opacity="0.75"/>
<rect x="357.20" y="530.08" width="0.6" height="3.12" fill="#0c0c9a" opacity="0.75"/>
<rect x="358.70" y="525.81" width="0.6" height="7.39" fill="#4848e8" opacity="0.75"/>
<rect x="359.20" y="523.21" width="0.6" height="9.99" fill="#4848e8" opacity="0.75"/>
<rect x="359.60" y="521.35" width="0.6" height="11.85" fill="#6a6af2" opacity="0.75"/>
<rect x="360.20" y="519.64" width="0.6" height="13.56" fill="#6a6af2" opacity="0.75"/>
<rect x="361.20" y="521.67" width="0.6" height="11.53" fill="#0c0c9a" opacity="0.75"/>
<rect x="363.20" y="526.69" width="0.6" height="6.51" fill="#6a6af2" opacity="0.75"/>
<rect x="365.20" y="531.49" width="0.6" height="1.71" fill="#6a6af2" opacity="0.75"/>
<rect x="366.00" y="532.02" width="0.6" height="1.18" fill="#0c0c9a" opacity="0.75"/>
<rect x="366.70" y="531.71" width="0.6" height="1.49" fill="#6a6af2" opacity="0.75"/>
<rect x="367.20" y="531.54" width="0.6" height="1.66" fill="#0c0c9a" opacity="0.75"/>
<rect x="368.70" y="531.80" width="0.6" height="1.40" fill="#6a6af2" opacity="0.75"/>
<rect x="370.70" y="531.28" width="0.6" height="1.92" fill="#0c0c9a" opacity="0.75"/>
<rect x="371.20" y="531.18" width="0.6" height="2.02" fill="#6a6af2" opacity="0.75"/>
<rect x="372.00" y="529.73" width="0.6" height="3.47" fill="#6a6af2" opacity="0.75"/>
<rect x="373.70" y="527.36" width="0.6" height="5.84" fill="#6a6af2" opacity="0.75"/>
<rect x="374.20" y="529.54" width="0.6" height="3.66" fill="#0c0c9a" opacity="0.75"/>
<rect x="375.70" y="526.15" width="0.6" height="7.05" fill="#0c0c9a" opacity="0.75"/>
<rect x="379.20" y="529.25" width="0.6" height="3.95" fill="#6a6af2" opacity="0.75"/>
<rect x="379.70" y="530.51" width="0.6" height="2.69" fill="#6a6af2" opacity="0.75"/>
<rect x="381.20" y="530.14" width="0.6" height="3.06" fill="#4848e8" opacity="0.75"/>
<rect x="382.20" y="530.37" width="0.6" height="2.83" fill="#0c0c9a" opacity="0.75"/>
<rect x="384.20" y="530.78" width="0.6" height="2.42" fill="#4848e8" opacity="0.75"/>
<rect x="385.20" y="529.55" width="0.6" height="3.65" fill="#0c0c9a" opacity="0.75"/>
<rect x="385.70" y="530.15" width="0.6" height="3.05" fill="#0c0c9a" opacity="0.75"/>
<rect x="388.20" y="531.02" width="0.6" height="2.18" fill="#4848e8" opacity="0.75"/>
<rect x="390.20" y="530.05" width="0.6" height="3.15" fill="#4848e8" opacity="0.75"/>
<rect x="392.70" y="529.67" width="0.6" height="3.53" fill="#6a6af2" opacity="0.75"/>
<rect x="393.20" y="530.66" width="0.6" height="2.54" fill="#6a6af2" opacity="0.75"/>
<rect x="394.20" y="530.77" width="0.6" height="2.43" fill="#0c0c9a" opacity="0.75"/>
<rect x="394.70" y="529.06" width="0.6" height="4.14" fill="#4848e8" opacity="0.75"/>
<rect x="396.00" y="531.87" width="0.6" height="1.33" fill="#6a6af2" opacity="0.75"/>
<rect x="396.70" y="531.69" width="0.6" height="1.51" fill="#4848e8" opacity="0.75"/>
<rect x="398.20" y="531.74" width="0.6" height="1.46" fill="#0c0c9a" opacity="0.75"/>
<rect x="400.20" y="530.44" width="0.6" height="2.76" fill="#6a6af2" opacity="0.75"/>
<rect x="401.20" y="530.86" width="0.6" height="2.34" fill="#4848e8" opacity="0.75"/>
<rect x="407.20" y="531.74" width="0.6" height="1.46" fill="#4848e8" opacity="0.75"/>
<rect x="412.70" y="527.86" width="0.6" height="5.34" fill="#4848e8" opacity="0.75"/>
<rect x="415.70" y="530.60" width="0.6" height="2.60" fill="#4848e8" opacity="0.75"/>
<rect x="418.20" y="529.78" width="0.6" height="3.42" fill="#4848e8" opacity="0.75"/>
<rect x="419.20" y="529.96" width="0.6" height="3.24" fill="#4848e8" opacity="0.75"/>
<rect x="419.70" y="530.16" width="0.6" height="3.04" fill="#0c0c9a" opacity="0.75"/>
<rect x="421.70" y="529.22" width="0.6" height="3.98" fill="#4848e8" opacity="0.75"/>
<rect x="422.20" y="530.60" width="0.6" height="2.60" fill="#6a6af2" opacity="0.75"/>
<rect x="422.70" y="530.32" width="0.6" height="2.88" fill="#6a6af2" opacity="0.75"/>
<rect x="426.20" y="529.88" width="0.6" height="3.32" fill="#6a6af2" opacity="0.75"/>
<rect x="431.20" y="521.16" width="0.6" height="12.04" fill="#4848e8" opacity="0.75"/>
<rect x="431.70" y="522.71" width="0.6" height="10.49" fill="#0c0c9a" opacity="0.75"/>
<rect x="432.20" y="522.92" width="0.6" height="10.28" fill="#4848e8" opacity="0.75"/>
<rect x="433.70" y="523.43" width="0.6" height="9.77" fill="#6a6af2" opacity="0.75"/>
<rect x="435.00" y="524.55" width="0.6" height="8.65" fill="#0c0c9a" opacity="0.75"/>
<rect x="435.20" y="528.67" width="0.6" height="4.53" fill="#0c0c9a" opacity="0.75"/>
<rect x="435.70" y="524.14" width="0.6" height="9.06" fill="#6a6af2" opacity="0.75"/>
<rect x="440.00" y="525.28" width="0.6" height="7.92" fill="#6a6af2" opacity="0.75"/>
<rect x="440.20" y="528.02" width="0.6" height="5.18" fill="#0c0c9a" opacity="0.75"/>
<rect x="441.20" y="531.67" width="0.6" height="1.53" fill="#0c0c9a" opacity="0.75"/>
<rect x="442.20" y="527.44" width="0.6" height="5.76" fill="#0c0c9a" opacity="0.75"/>
<rect x="443.20" y="529.24" width="0.6" height="3.96" fill="#4848e8" opacity="0.75"/>
<rect x="444.70" y="530.76" width="0.6" height="2.44" fill="#6a6af2" opacity="0.75"/>
<rect x="445.20" y="530.34" width="0.6" height="2.86" fill="#0c0c9a" opacity="0.75"/>
<rect x="445.70" y="529.98" width="0.6" height="3.22" fill="#0c0c9a" opacity="0.75"/>
<rect x="447.20" y="530.76" width="0.6" height="2.44" fill="#0c0c9a" opacity="0.75"/>
<rect x="450.20" y="530.53" width="0.6" height="2.67" fill="#4848e8" opacity="0.75"/>
<rect x="450.70" y="530.21" width="0.6" height="2.99" fill="#0c0c9a" opacity="0.75"/>
<rect x="451.20" y="530.84" width="0.6" height="2.36" fill="#0c0c9a" opacity="0.75"/>
<rect x="453.70" y="528.17" width="0.6" height="5.03" fill="#0c0c9a" opacity="0.75"/>
<rect x="456.70" y="526.52" width="0.6" height="6.68" fill="#4848e8" opacity="0.75"/>
<rect x="457.20" y="528.63" width="0.6" height="4.57" fill="#0c0c9a" opacity="0.75"/>
<rect x="460.00" y="525.47" width="0.6" height="7.73" fill="#0c0c9a" opacity="0.75"/>
<rect x="463.20" y="532.14" width="0.6" height="1.06" fill="#6a6af2" opacity="0.75"/>
<rect x="465.70" y="529.48" width="0.6" height="3.72" fill="#6a6af2" opacity="0.75"/>
<rect x="466.70" y="526.36" width="0.6" height="6.84" fill="#0c0c9a" opacity="0.75"/>
<rect x="468.70" y="527.22" width="0.6" height="5.98" fill="#0c0c9a" opacity="0.75"/>
<rect x="469.70" y="524.23" width="0.6" height="8.97" fill="#4848e8" opacity="0.75"/>
<rect x="470.00" y="527.17" width="0.6" height="6.03" fill="#4848e8" opacity="0.75"/>
<rect x="470.70" y="526.02" width="0.6" height="7.18" fill="#6a6af2" opacity="0.75"/>
<rect x="471.20" y="527.84" width="0.6" height="5.36" fill="#6a6af2" opacity="0.75"/>
<rect x="472.20" y="528.21" width="0.6" height="4.99" fill="#6a6af2" opacity="0.75"/>
<path d="M473.00,533.20 L473.00,525.04 L473.50,526.29 L474.00,525.65 L474.50,526.35 L475.00,526.20 L475.50,520.03 L475.80,516.20 L476.00,517.58 L476.50,521.29 L477.00,524.20 L477.50,525.19 L478.00,525.92 L478.50,524.96 L479.00,529.94 L479.50,526.32 L480.00,526.14 L480.50,525.81 L481.00,526.25 L481.50,530.37 L482.00,527.79 L482.50,526.74 L483.00,528.70 L483.50,527.78 L484.00,527.06 L484.50,527.28 L485.00,532.39 L485.50,529.24 L486.00,528.66 L486.50,528.29 L487.00,528.20 L487.50,528.67 L487.50,533.20Z" fill="#7070e0"/>
<path d="M280.20,533.20 L280.20,537.20 L280.70,539.93 L281.20,542.68 L281.70,545.51 L282.00,547.20 L282.20,545.58 L282.70,546.60 L283.20,544.19 L283.70,546.38 L284.20,545.52 L284.70,546.91 L285.20,547.18 L285.70,545.01 L286.20,546.87 L286.70,546.29 L287.20,544.74 L287.70,546.89 L288.20,547.19 L288.70,545.84 L289.20,545.13 L289.70,544.92 L290.20,545.50 L290.70,547.17 L291.20,547.13 L291.70,546.49 L292.20,544.28 L292.70,546.41 L293.20,545.40 L293.70,547.02 L294.20,546.99 L294.70,545.90 L295.00,547.20 L295.20,544.43 L295.70,539.41 L296.00,536.20 L296.20,536.86 L296.70,535.20 L297.20,544.35 L297.70,540.58 L298.00,550.20 L298.20,549.11 L298.70,549.57 L299.20,550.02 L299.70,549.88 L300.20,547.12 L300.70,536.06 L301.20,549.10 L301.70,549.54 L302.20,547.14 L302.70,549.65 L303.20,549.82 L303.70,537.59 L304.20,550.18 L304.70,547.53 L305.20,547.18 L305.70,549.46 L306.20,550.19 L306.70,550.19 L307.20,549.04 L307.70,550.19 L308.20,547.84 L308.70,550.07 L309.20,549.25 L309.70,547.82 L310.20,548.35 L310.70,548.60 L311.20,548.63 L311.70,546.54 L312.20,547.61 L312.70,550.06 L313.20,550.14 L313.70,549.90 L314.20,550.00 L314.70,549.97 L315.20,548.11 L315.70,546.85 L316.00,535.69 L316.20,546.13 L316.70,547.36 L317.00,547.20 L317.20,534.99 L317.70,545.14 L318.20,547.04 L318.70,546.91 L319.20,545.48 L319.70,546.87 L320.20,544.45 L320.70,544.48 L321.20,545.97 L321.70,544.52 L322.20,547.04 L322.70,544.40 L323.20,546.86 L323.70,546.59 L324.20,546.81 L324.70,546.22 L325.20,547.16 L325.70,544.32 L326.20,546.92 L326.70,545.07 L327.20,546.80 L327.70,545.68 L328.20,547.06 L328.70,547.16 L329.20,544.79 L329.70,546.05 L330.20,547.12 L330.70,546.58 L331.20,547.12 L331.70,547.14 L332.20,544.75 L332.70,537.11 L333.20,546.47 L333.70,546.47 L334.20,545.56 L334.70,546.82 L335.20,545.95 L335.70,545.99 L336.20,546.08 L336.70,544.35 L337.20,547.11 L337.70,544.28 L338.20,546.50 L338.70,547.19 L339.20,546.91 L339.70,545.52 L340.20,547.02 L340.70,546.31 L341.20,547.20 L341.70,545.81 L342.20,546.42 L342.70,546.03 L343.20,545.05 L343.70,544.67 L344.20,547.11 L344.70,544.91 L345.00,547.20 L345.20,547.32 L345.70,547.32 L346.20,545.25 L346.70,545.94 L347.00,549.20 L347.20,549.02 L347.70,546.46 L348.20,548.08 L348.70,547.61 L349.20,547.83 L349.70,546.89 L350.20,546.79 L350.70,540.24 L351.20,548.24 L351.70,547.98 L352.00,548.20 L352.20,543.98 L352.70,539.51 L353.00,537.20 L353.20,536.57 L353.70,536.41 L354.20,536.87 L354.70,534.51 L355.20,536.39 L355.70,537.05 L356.20,536.52 L356.70,536.73 L357.20,537.03 L357.70,537.18 L358.00,537.20 L358.20,535.78 L358.70,546.24 L359.00,550.20 L359.20,547.26 L359.70,535.99 L360.20,548.53 L360.70,547.09 L361.20,547.26 L361.70,548.89 L362.20,549.73 L362.70,548.07 L363.20,548.66 L363.70,549.73 L364.20,546.62 L364.70,549.03 L365.20,547.40 L365.70,546.62 L366.20,547.00 L366.70,549.52 L367.20,550.19 L367.70,546.66 L368.20,546.85 L368.70,549.40 L369.20,548.70 L369.70,539.57 L370.20,548.91 L370.70,548.49 L371.20,547.29 L371.70,547.22 L372.20,550.01 L372.70,547.02 L373.20,549.98 L373.70,549.98 L374.20,546.76 L374.70,550.05 L375.20,547.32 L375.70,550.20 L376.20,549.81 L376.70,547.11 L377.20,550.10 L377.70,546.49 L378.20,549.37 L378.70,550.18 L379.20,550.19 L379.70,549.50 L380.20,547.60 L380.70,550.13 L381.20,550.12 L381.70,549.64 L382.20,547.54 L382.70,550.10 L383.00,550.20 L383.20,549.76 L383.70,548.79 L384.20,545.83 L384.70,545.69 L385.00,546.20 L385.20,544.70 L385.70,544.12 L386.20,545.68 L386.70,537.62 L387.20,545.97 L387.70,545.55 L388.20,545.04 L388.70,534.83 L389.20,545.92 L389.70,543.64 L390.20,545.75 L390.70,535.37 L391.20,544.66 L391.70,546.10 L392.20,544.98 L392.70,546.04 L393.20,546.20 L393.70,546.20 L394.20,545.20 L394.70,545.81 L395.20,546.20 L395.70,546.20 L396.20,538.84 L396.70,545.92 L397.20,544.23 L397.70,544.18 L398.20,546.17 L398.70,546.20 L399.20,545.19 L399.70,544.39 L400.20,546.14 L400.70,545.66 L401.20,546.09 L401.70,545.77 L402.20,544.07 L402.70,545.74 L403.20,544.64 L403.70,545.40 L404.20,545.74 L404.70,546.01 L405.20,544.96 L405.70,546.12 L406.20,545.19 L406.70,545.00 L407.20,537.70 L407.70,545.37 L408.20,543.95 L408.70,546.16 L409.20,545.78 L409.70,546.18 L410.20,545.12 L410.70,546.14 L411.20,545.92 L411.70,538.23 L412.00,546.20 L412.20,546.32 L412.70,544.31 L413.20,545.75 L413.70,547.68 L414.00,548.20 L414.20,535.67 L414.70,546.82 L415.20,547.25 L415.70,547.44 L416.20,545.17 L416.70,548.20 L417.20,547.98 L417.70,547.90 L418.20,546.64 L418.70,546.77 L419.20,545.49 L419.70,547.47 L420.20,548.01 L420.70,547.10 L421.20,547.18 L421.70,546.32 L422.20,547.77 L422.70,548.15 L423.20,547.04 L423.70,547.15 L424.20,548.13 L424.70,546.56 L425.00,548.20 L425.20,548.70 L425.70,549.70 L426.00,551.20 L426.20,550.80 L426.70,548.25 L427.20,548.82 L427.70,550.82 L428.20,550.21 L428.70,551.01 L429.20,550.61 L429.70,547.42 L430.20,548.29 L430.70,538.05 L431.20,551.20 L431.70,547.73 L432.20,551.19 L432.70,548.17 L433.20,550.43 L433.70,548.85 L434.20,551.19 L434.70,549.70 L435.20,549.66 L435.70,535.05 L436.20,550.54 L436.70,547.87 L437.20,548.50 L437.70,549.24 L438.20,548.28 L438.70,550.23 L439.20,550.95 L439.70,551.14 L440.20,551.15 L440.70,550.80 L441.20,547.35 L441.70,549.21 L442.20,551.11 L442.70,549.84 L443.20,548.39 L443.70,537.14 L444.20,549.89 L444.70,550.86 L445.20,550.42 L445.70,550.25 L446.20,548.14 L446.70,551.07 L447.20,551.14 L447.70,539.96 L448.20,550.91 L448.70,550.25 L449.20,549.47 L449.70,551.05 L450.20,550.21 L450.70,550.28 L451.20,547.68 L451.70,548.74 L452.20,551.19 L452.70,548.90 L453.20,548.01 L453.70,550.64 L454.20,548.64 L454.70,550.75 L455.20,547.86 L455.70,550.73 L456.20,538.02 L456.70,547.48 L457.20,549.27 L457.70,548.36 L458.20,551.01 L458.70,550.30 L459.20,548.42 L459.70,551.19 L460.20,551.18 L460.70,539.96 L461.20,548.60 L461.70,550.23 L462.20,547.34 L462.70,551.05 L463.20,550.84 L463.70,548.20 L464.20,547.63 L464.70,548.52 L465.20,548.49 L465.70,548.45 L466.20,547.91 L466.70,550.90 L467.20,550.73 L467.70,550.33 L468.20,547.50 L468.70,551.19 L469.20,547.70 L469.70,551.20 L470.20,549.04 L470.70,549.54 L471.20,550.46 L471.70,547.77 L472.20,551.14 L472.70,551.20 L472.70,533.20Z" fill="#f00a0a"/>
<rect x="281.70" y="533.20" width="0.6" height="9.19" fill="#ffffff" opacity="0.75"/>
<rect x="284.20" y="533.20" width="0.6" height="10.37" fill="#b00000" opacity="0.75"/>
<rect x="284.70" y="533.20" width="0.6" height="8.78" fill="#f8a0a0" opacity="0.75"/>
<rect x="286.70" y="533.20" width="0.6" height="10.49" fill="#f8a0a0" opacity="0.75"/>
<rect x="287.20" y="533.20" width="0.6" height="6.14" fill="#ffffff" opacity="0.75"/>
<rect x="287.70" y="533.20" width="0.6" height="11.61" fill="#f8a0a0" opacity="0.75"/>
<rect x="288.70" y="533.20" width="0.6" height="9.97" fill="#ffffff" opacity="0.75"/>
<rect x="289.70" y="533.20" width="0.6" height="7.35" fill="#f8a0a0" opacity="0.75"/>
<rect x="290.20" y="533.20" width="0.6" height="11.67" fill="#f8a0a0" opacity="0.75"/>
<rect x="290.70" y="533.20" width="0.6" height="8.06" fill="#ffffff" opacity="0.75"/>
<rect x="291.70" y="533.20" width="0.6" height="11.94" fill="#ffffff" opacity="0.75"/>
<rect x="292.70" y="533.20" width="0.6" height="11.62" fill="#ffffff" opacity="0.75"/>
<rect x="293.20" y="533.20" width="0.6" height="9.50" fill="#ffffff" opacity="0.75"/>
<rect x="293.70" y="533.20" width="0.6" height="9.88" fill="#ffffff" opacity="0.75"/>
<rect x="295.00" y="533.20" width="0.6" height="10.48" fill="#ffffff" opacity="0.75"/>
<rect x="295.70" y="533.20" width="0.6" height="4.18" fill="#ffffff" opacity="0.75"/>
<rect x="296.20" y="533.20" width="0.6" height="1.88" fill="#f8a0a0" opacity="0.75"/>
<rect x="297.70" y="533.20" width="0.6" height="5.96" fill="#b00000" opacity="0.75"/>
<rect x="298.70" y="533.20" width="0.6" height="11.62" fill="#ffffff" opacity="0.75"/>
<rect x="299.20" y="533.20" width="0.6" height="10.62" fill="#f8a0a0" opacity="0.75"/>
<rect x="299.70" y="533.20" width="0.6" height="13.52" fill="#b00000" opacity="0.75"/>
<rect x="300.70" y="533.20" width="0.6" height="2.42" fill="#b00000" opacity="0.75"/>
<rect x="303.70" y="533.20" width="0.6" height="2.79" fill="#b00000" opacity="0.75"/>
<rect x="304.70" y="533.20" width="0.6" height="11.30" fill="#f8a0a0" opacity="0.75"/>
<rect x="306.20" y="533.20" width="0.6" height="11.83" fill="#ffffff" opacity="0.75"/>
<rect x="306.70" y="533.20" width="0.6" height="10.10" fill="#b00000" opacity="0.75"/>
<rect x="308.20" y="533.20" width="0.6" height="10.65" fill="#ffffff" opacity="0.75"/>
<rect x="309.20" y="533.20" width="0.6" height="11.89" fill="#ffffff" opacity="0.75"/>
<rect x="309.70" y="533.20" width="0.6" height="9.76" fill="#ffffff" opacity="0.75"/>
<rect x="310.20" y="533.20" width="0.6" height="8.08" fill="#ffffff" opacity="0.75"/>
<rect x="311.20" y="533.20" width="0.6" height="9.76" fill="#ffffff" opacity="0.75"/>
<rect x="312.70" y="533.20" width="0.6" height="11.46" fill="#f8a0a0" opacity="0.75"/>
<rect x="313.20" y="533.20" width="0.6" height="13.42" fill="#ffffff" opacity="0.75"/>
<rect x="313.70" y="533.20" width="0.6" height="15.70" fill="#f8a0a0" opacity="0.75"/>
<rect x="314.70" y="533.20" width="0.6" height="10.67" fill="#b00000" opacity="0.75"/>
<rect x="315.20" y="533.20" width="0.6" height="11.58" fill="#b00000" opacity="0.75"/>
<rect x="315.70" y="533.20" width="0.6" height="11.47" fill="#ffffff" opacity="0.75"/>
<rect x="316.00" y="533.20" width="0.6" height="1.66" fill="#ffffff" opacity="0.75"/>
<rect x="316.20" y="533.20" width="0.6" height="8.38" fill="#ffffff" opacity="0.75"/>
<rect x="318.20" y="533.20" width="0.6" height="7.99" fill="#ffffff" opacity="0.75"/>
<rect x="320.20" y="533.20" width="0.6" height="7.58" fill="#b00000" opacity="0.75"/>
<rect x="321.20" y="533.20" width="0.6" height="8.50" fill="#ffffff" opacity="0.75"/>
<rect x="322.70" y="533.20" width="0.6" height="10.36" fill="#ffffff" opacity="0.75"/>
<rect x="324.70" y="533.20" width="0.6" height="7.14" fill="#f8a0a0" opacity="0.75"/>
<rect x="325.20" y="533.20" width="0.6" height="9.24" fill="#ffffff" opacity="0.75"/>
<rect x="325.70" y="533.20" width="0.6" height="6.06" fill="#f8a0a0" opacity="0.75"/>
<rect x="326.20" y="533.20" width="0.6" height="13.00" fill="#f8a0a0" opacity="0.75"/>
<rect x="327.20" y="533.20" width="0.6" height="9.82" fill="#ffffff" opacity="0.75"/>
<rect x="330.20" y="533.20" width="0.6" height="10.84" fill="#b00000" opacity="0.75"/>
<rect x="332.20" y="533.20" width="0.6" height="6.59" fill="#ffffff" opacity="0.75"/>
<rect x="332.70" y="533.20" width="0.6" height="3.25" fill="#b00000" opacity="0.75"/>
<rect x="336.70" y="533.20" width="0.6" height="6.17" fill="#f8a0a0" opacity="0.75"/>
<rect x="339.20" y="533.20" width="0.6" height="10.32" fill="#ffffff" opacity="0.75"/>
<rect x="339.70" y="533.20" width="0.6" height="11.57" fill="#ffffff" opacity="0.75"/>
<rect x="340.20" y="533.20" width="0.6" height="10.67" fill="#ffffff" opacity="0.75"/>
<rect x="341.70" y="533.20" width="0.6" height="11.83" fill="#b00000" opacity="0.75"/>
<rect x="342.70" y="533.20" width="0.6" height="7.54" fill="#b00000" opacity="0.75"/>
<rect x="343.20" y="533.20" width="0.6" height="10.61" fill="#b00000" opacity="0.75"/>
<rect x="344.20" y="533.20" width="0.6" height="9.97" fill="#b00000" opacity="0.75"/>
<rect x="345.00" y="533.20" width="0.6" height="8.46" fill="#ffffff" opacity="0.75"/>
<rect x="345.20" y="533.20" width="0.6" height="10.18" fill="#f8a0a0" opacity="0.75"/>
<rect x="345.70" y="533.20" width="0.6" height="11.38" fill="#f8a0a0" opacity="0.75"/>
<rect x="346.70" y="533.20" width="0.6" height="9.70" fill="#ffffff" opacity="0.75"/>
<rect x="347.00" y="533.20" width="0.6" height="8.44" fill="#ffffff" opacity="0.75"/>
<rect x="348.70" y="533.20" width="0.6" height="7.66" fill="#b00000" opacity="0.75"/>
<rect x="349.20" y="533.20" width="0.6" height="8.21" fill="#ffffff" opacity="0.75"/>
<rect x="350.70" y="533.20" width="0.6" height="5.85" fill="#b00000" opacity="0.75"/>
<rect x="351.70" y="533.20" width="0.6" height="9.09" fill="#f8a0a0" opacity="0.75"/>
<rect x="352.00" y="533.20" width="0.6" height="8.49" fill="#ffffff" opacity="0.75"/>
<rect x="352.20" y="533.20" width="0.6" height="5.68" fill="#b00000" opacity="0.75"/>
<rect x="352.70" y="533.20" width="0.6" height="5.58" fill="#f8a0a0" opacity="0.75"/>
<rect x="354.20" y="533.20" width="0.6" height="2.50" fill="#f8a0a0" opacity="0.75"/>
<rect x="355.20" y="533.20" width="0.6" height="2.99" fill="#f8a0a0" opacity="0.75"/>
<rect x="356.20" y="533.20" width="0.6" height="2.99" fill="#ffffff" opacity="0.75"/>
<rect x="357.20" y="533.20" width="0.6" height="2.12" fill="#ffffff" opacity="0.75"/>
<rect x="358.20" y="533.20" width="0.6" height="1.30" fill="#ffffff" opacity="0.75"/>
<rect x="359.00" y="533.20" width="0.6" height="12.76" fill="#b00000" opacity="0.75"/>
<rect x="359.20" y="533.20" width="0.6" height="9.22" fill="#ffffff" opacity="0.75"/>
<rect x="359.70" y="533.20" width="0.6" height="1.57" fill="#b00000" opacity="0.75"/>
<rect x="360.20" y="533.20" width="0.6" height="13.69" fill="#f8a0a0" opacity="0.75"/>
<rect x="361.20" y="533.20" width="0.6" height="12.99" fill="#b00000" opacity="0.75"/>
<rect x="361.70" y="533.20" width="0.6" height="13.14" fill="#b00000" opacity="0.75"/>
<rect x="362.70" y="533.20" width="0.6" height="13.79" fill="#ffffff" opacity="0.75"/>
<rect x="363.20" y="533.20" width="0.6" height="12.04" fill="#b00000" opacity="0.75"/>
<rect x="364.20" y="533.20" width="0.6" height="12.03" fill="#ffffff" opacity="0.75"/>
<rect x="364.70" y="533.20" width="0.6" height="11.07" fill="#ffffff" opacity="0.75"/>
<rect x="366.20" y="533.20" width="0.6" height="9.69" fill="#ffffff" opacity="0.75"/>
<rect x="366.70" y="533.20" width="0.6" height="14.86" fill="#ffffff" opacity="0.75"/>
<rect x="367.70" y="533.20" width="0.6" height="6.95" fill="#ffffff" opacity="0.75"/>
<rect x="368.20" y="533.20" width="0.6" height="10.30" fill="#ffffff" opacity="0.75"/>
<rect x="368.70" y="533.20" width="0.6" height="12.55" fill="#ffffff" opacity="0.75"/>
<rect x="370.70" y="533.20" width="0.6" height="13.67" fill="#ffffff" opacity="0.75"/>
<rect x="372.20" y="533.20" width="0.6" height="10.63" fill="#ffffff" opacity="0.75"/>
<rect x="373.70" y="533.20" width="0.6" height="13.02" fill="#f8a0a0" opacity="0.75"/>
<rect x="374.70" y="533.20" width="0.6" height="11.07" fill="#f8a0a0" opacity="0.75"/>
<rect x="376.20" y="533.20" width="0.6" height="14.38" fill="#ffffff" opacity="0.75"/>
<rect x="377.70" y="533.20" width="0.6" height="11.16" fill="#ffffff" opacity="0.75"/>
<rect x="378.20" y="533.20" width="0.6" height="14.73" fill="#b00000" opacity="0.75"/>
<rect x="379.70" y="533.20" width="0.6" height="10.94" fill="#ffffff" opacity="0.75"/>
<rect x="381.70" y="533.20" width="0.6" height="11.81" fill="#ffffff" opacity="0.75"/>
<rect x="383.00" y="533.20" width="0.6" height="10.71" fill="#b00000" opacity="0.75"/>
<rect x="384.20" y="533.20" width="0.6" height="7.60" fill="#ffffff" opacity="0.75"/>
<rect x="385.00" y="533.20" width="0.6" height="11.20" fill="#ffffff" opacity="0.75"/>
<rect x="386.20" y="533.20" width="0.6" height="8.24" fill="#ffffff" opacity="0.75"/>
<rect x="386.70" y="533.20" width="0.6" height="3.08" fill="#ffffff" opacity="0.75"/>
<rect x="387.20" y="533.20" width="0.6" height="10.90" fill="#b00000" opacity="0.75"/>
<rect x="387.70" y="533.20" width="0.6" height="7.70" fill="#b00000" opacity="0.75"/>
<rect x="389.20" y="533.20" width="0.6" height="8.32" fill="#ffffff" opacity="0.75"/>
<rect x="389.70" y="533.20" width="0.6" height="6.08" fill="#f8a0a0" opacity="0.75"/>
<rect x="390.20" y="533.20" width="0.6" height="8.53" fill="#ffffff" opacity="0.75"/>
<rect x="392.70" y="533.20" width="0.6" height="12.20" fill="#ffffff" opacity="0.75"/>
<rect x="393.20" y="533.20" width="0.6" height="8.62" fill="#b00000" opacity="0.75"/>
<rect x="394.70" y="533.20" width="0.6" height="9.23" fill="#ffffff" opacity="0.75"/>
<rect x="396.20" y="533.20" width="0.6" height="4.87" fill="#f8a0a0" opacity="0.75"/>
<rect x="398.70" y="533.20" width="0.6" height="10.51" fill="#ffffff" opacity="0.75"/>
<rect x="402.70" y="533.20" width="0.6" height="9.65" fill="#b00000" opacity="0.75"/>
<rect x="404.20" y="533.20" width="0.6" height="9.65" fill="#b00000" opacity="0.75"/>
<rect x="405.20" y="533.20" width="0.6" height="8.43" fill="#f8a0a0" opacity="0.75"/>
<rect x="405.70" y="533.20" width="0.6" height="8.73" fill="#ffffff" opacity="0.75"/>
<rect x="407.70" y="533.20" width="0.6" height="8.99" fill="#f8a0a0" opacity="0.75"/>
<rect x="408.70" y="533.20" width="0.6" height="8.19" fill="#b00000" opacity="0.75"/>
<rect x="409.20" y="533.20" width="0.6" height="11.40" fill="#ffffff" opacity="0.75"/>
<rect x="410.70" y="533.20" width="0.6" height="7.95" fill="#f8a0a0" opacity="0.75"/>
<rect x="411.70" y="533.20" width="0.6" height="4.04" fill="#ffffff" opacity="0.75"/>
<rect x="413.20" y="533.20" width="0.6" height="10.12" fill="#f8a0a0" opacity="0.75"/>
<rect x="414.00" y="533.20" width="0.6" height="7.85" fill="#ffffff" opacity="0.75"/>
<rect x="414.20" y="533.20" width="0.6" height="1.70" fill="#f8a0a0" opacity="0.75"/>
<rect x="415.20" y="533.20" width="0.6" height="9.07" fill="#f8a0a0" opacity="0.75"/>
<rect x="416.70" y="533.20" width="0.6" height="12.67" fill="#b00000" opacity="0.75"/>
<rect x="417.20" y="533.20" width="0.6" height="11.54" fill="#ffffff" opacity="0.75"/>
<rect x="418.70" y="533.20" width="0.6" height="6.93" fill="#f8a0a0" opacity="0.75"/>
<rect x="421.70" y="533.20" width="0.6" height="11.57" fill="#b00000" opacity="0.75"/>
<rect x="422.20" y="533.20" width="0.6" height="12.86" fill="#b00000" opacity="0.75"/>
<rect x="422.70" y="533.20" width="0.6" height="9.48" fill="#ffffff" opacity="0.75"/>
<rect x="423.20" y="533.20" width="0.6" height="9.40" fill="#ffffff" opacity="0.75"/>
<rect x="424.20" y="533.20" width="0.6" height="9.53" fill="#ffffff" opacity="0.75"/>
<rect x="424.70" y="533.20" width="0.6" height="8.24" fill="#b00000" opacity="0.75"/>
<rect x="425.00" y="533.20" width="0.6" height="12.64" fill="#ffffff" opacity="0.75"/>
<rect x="425.70" y="533.20" width="0.6" height="15.24" fill="#ffffff" opacity="0.75"/>
<rect x="426.70" y="533.20" width="0.6" height="13.38" fill="#ffffff" opacity="0.75"/>
<rect x="427.20" y="533.20" width="0.6" height="8.07" fill="#ffffff" opacity="0.75"/>
<rect x="429.70" y="533.20" width="0.6" height="9.16" fill="#ffffff" opacity="0.75"/>
<rect x="430.70" y="533.20" width="0.6" height="3.67" fill="#b00000" opacity="0.75"/>
<rect x="431.20" y="533.20" width="0.6" height="16.54" fill="#f8a0a0" opacity="0.75"/>
<rect x="432.20" y="533.20" width="0.6" height="15.27" fill="#f8a0a0" opacity="0.75"/>
<rect x="433.70" y="533.20" width="0.6" height="9.85" fill="#f8a0a0" opacity="0.75"/>
<rect x="435.20" y="533.20" width="0.6" height="8.52" fill="#ffffff" opacity="0.75"/>
<rect x="436.20" y="533.20" width="0.6" height="10.52" fill="#ffffff" opacity="0.75"/>
<rect x="437.70" y="533.20" width="0.6" height="13.35" fill="#ffffff" opacity="0.75"/>
<rect x="440.70" y="533.20" width="0.6" height="13.17" fill="#ffffff" opacity="0.75"/>
<rect x="442.20" y="533.20" width="0.6" height="13.56" fill="#ffffff" opacity="0.75"/>
<rect x="443.70" y="533.20" width="0.6" height="2.53" fill="#b00000" opacity="0.75"/>
<rect x="445.20" y="533.20" width="0.6" height="10.79" fill="#ffffff" opacity="0.75"/>
<rect x="445.70" y="533.20" width="0.6" height="15.59" fill="#ffffff" opacity="0.75"/>
<rect x="446.20" y="533.20" width="0.6" height="9.06" fill="#ffffff" opacity="0.75"/>
<rect x="447.70" y="533.20" width="0.6" height="3.58" fill="#ffffff" opacity="0.75"/>
<rect x="448.70" y="533.20" width="0.6" height="11.16" fill="#f8a0a0" opacity="0.75"/>
<rect x="449.20" y="533.20" width="0.6" height="10.76" fill="#f8a0a0" opacity="0.75"/>
<rect x="450.70" y="533.20" width="0.6" height="9.42" fill="#f8a0a0" opacity="0.75"/>
<rect x="452.70" y="533.20" width="0.6" height="9.56" fill="#ffffff" opacity="0.75"/>
<rect x="455.70" y="533.20" width="0.6" height="12.61" fill="#ffffff" opacity="0.75"/>
<rect x="456.20" y="533.20" width="0.6" height="2.97" fill="#b00000" opacity="0.75"/>
<rect x="456.70" y="533.20" width="0.6" height="11.49" fill="#b00000" opacity="0.75"/>
<rect x="457.20" y="533.20" width="0.6" height="9.84" fill="#f8a0a0" opacity="0.75"/>
<rect x="457.70" y="533.20" width="0.6" height="13.00" fill="#b00000" opacity="0.75"/>
<rect x="459.70" y="533.20" width="0.6" height="12.88" fill="#ffffff" opacity="0.75"/>
<rect x="462.70" y="533.20" width="0.6" height="14.72" fill="#f8a0a0" opacity="0.75"/>
<rect x="464.70" y="533.20" width="0.6" height="11.19" fill="#ffffff" opacity="0.75"/>
<rect x="465.70" y="533.20" width="0.6" height="13.47" fill="#ffffff" opacity="0.75"/>
<rect x="467.70" y="533.20" width="0.6" height="9.61" fill="#b00000" opacity="0.75"/>
<rect x="469.20" y="533.20" width="0.6" height="10.55" fill="#ffffff" opacity="0.75"/>
<rect x="470.20" y="533.20" width="0.6" height="11.46" fill="#f8a0a0" opacity="0.75"/>
<rect x="471.20" y="533.20" width="0.6" height="11.96" fill="#f8a0a0" opacity="0.75"/>
<rect x="471.70" y="533.20" width="0.6" height="9.61" fill="#ffffff" opacity="0.75"/>
<path d="M473.00,533.20 L473.00,551.20 L473.50,545.00 L474.00,548.20 L474.50,547.77 L475.00,547.00 L475.50,545.96 L476.00,546.45 L476.50,542.54 L477.00,542.54 L477.50,542.00 L478.00,544.27 L478.50,544.40 L479.00,536.58 L479.50,542.90 L480.00,543.20 L480.00,533.20Z" fill="#f06060"/>
<path d="M480.00,533.20 L480.00,543.20 L480.50,542.57 L481.00,542.33 L481.50,536.32 L482.00,540.44 L482.50,537.48 L483.00,540.01 L483.50,538.04 L484.00,539.77 L484.50,535.16 L485.00,536.90 L485.50,538.14 L486.00,538.05 L486.50,537.44 L487.00,533.41 L487.50,536.48 L487.50,533.20Z" fill="#f8c8c8"/>
<rect x="296.00" y="534.00" width="0.8" height="20.80" fill="#fff" opacity="0.85"/>
<rect x="305.00" y="534.00" width="0.8" height="20.80" fill="#fff" opacity="0.85"/>
<rect x="318.00" y="534.00" width="0.8" height="20.80" fill="#fff" opacity="0.85"/>
<rect x="337.00" y="534.00" width="0.8" height="20.80" fill="#fff" opacity="0.85"/>
<rect x="353.00" y="534.00" width="0.8" height="20.80" fill="#fff" opacity="0.85"/>
<rect x="356.00" y="534.00" width="0.8" height="20.80" fill="#fff" opacity="0.85"/>
<rect x="380.00" y="534.00" width="0.8" height="20.80" fill="#fff" opacity="0.85"/>
<rect x="394.00" y="534.00" width="0.8" height="20.80" fill="#fff" opacity="0.85"/>
<rect x="414.00" y="534.00" width="0.8" height="20.80" fill="#fff" opacity="0.85"/>
<rect x="427.00" y="534.00" width="0.8" height="20.80" fill="#fff" opacity="0.85"/>
<rect x="431.00" y="534.00" width="0.8" height="20.80" fill="#fff" opacity="0.85"/>
<rect x="438.00" y="534.00" width="0.8" height="20.80" fill="#fff" opacity="0.85"/>
<rect x="443.00" y="534.00" width="0.8" height="20.80" fill="#fff" opacity="0.85"/>
<rect x="450.00" y="534.00" width="0.8" height="20.80" fill="#fff" opacity="0.85"/>
<rect x="455.00" y="534.00" width="0.8" height="20.80" fill="#fff" opacity="0.85"/>
<rect x="463.00" y="534.00" width="0.8" height="20.80" fill="#fff" opacity="0.85"/>
<rect x="470.00" y="534.00" width="0.8" height="20.80" fill="#fff" opacity="0.85"/>
<line x1="280.20" y1="533.20" x2="493.00" y2="533.20" stroke="#1a1a3a" stroke-width="0.8"/>
<line x1="493.00" y1="514.48" x2="493.00" y2="551.92" stroke="#555" stroke-width="0.7"/>
<line x1="491.80" y1="514.48" x2="494.20" y2="514.48" stroke="#333" stroke-width="1.0"/>
<line x1="491.80" y1="551.92" x2="494.20" y2="551.92" stroke="#333" stroke-width="1.0"/>
<line x1="488.00" y1="512.40" x2="488.00" y2="554.00" stroke="#bbb" stroke-width="0.5"/>
<text x="279.20" y="421.20" font-size="5.0" font-weight="normal" text-anchor="middle" fill="#222" transform="rotate(-90 279.20 421.20)">4</text>
<text x="279.20" y="431.60" font-size="5.0" font-weight="normal" text-anchor="middle" fill="#222" transform="rotate(-90 279.20 431.60)">2</text>
<text x="279.20" y="442.00" font-size="5.0" font-weight="normal" text-anchor="middle" fill="#222" transform="rotate(-90 279.20 442.00)">0</text>
<text x="279.20" y="452.40" font-size="5.0" font-weight="normal" text-anchor="middle" fill="#222" transform="rotate(-90 279.20 452.40)">2</text>
<text x="279.20" y="462.80" font-size="5.0" font-weight="normal" text-anchor="middle" fill="#222" transform="rotate(-90 279.20 462.80)">4</text>
<text x="279.20" y="467.10" font-size="5.0" font-weight="normal" text-anchor="middle" fill="#222" transform="rotate(-90 279.20 467.10)">4</text>
<text x="279.20" y="477.50" font-size="5.0" font-weight="normal" text-anchor="middle" fill="#222" transform="rotate(-90 279.20 477.50)">2</text>
<text x="279.20" y="487.90" font-size="5.0" font-weight="normal" text-anchor="middle" fill="#222" transform="rotate(-90 279.20 487.90)">0</text>
<text x="279.20" y="498.30" font-size="5.0" font-weight="normal" text-anchor="middle" fill="#222" transform="rotate(-90 279.20 498.30)">2</text>
<text x="279.20" y="508.70" font-size="5.0" font-weight="normal" text-anchor="middle" fill="#222" transform="rotate(-90 279.20 508.70)">4</text>
<text x="279.20" y="512.40" font-size="5.0" font-weight="normal" text-anchor="middle" fill="#222" transform="rotate(-90 279.20 512.40)">4</text>
<text x="279.20" y="522.80" font-size="5.0" font-weight="normal" text-anchor="middle" fill="#222" transform="rotate(-90 279.20 522.80)">2</text>
<text x="279.20" y="533.20" font-size="5.0" font-weight="normal" text-anchor="middle" fill="#222" transform="rotate(-90 279.20 533.20)">0</text>
<text x="279.20" y="543.60" font-size="5.0" font-weight="normal" text-anchor="middle" fill="#222" transform="rotate(-90 279.20 543.60)">2</text>
<text x="279.20" y="554.00" font-size="5.0" font-weight="normal" text-anchor="middle" fill="#222" transform="rotate(-90 279.20 554.00)">4</text>
<text x="273.40" y="489.60" font-size="7.8" font-weight="normal" text-anchor="middle" fill="#111" transform="rotate(-90 273.40 489.60)" textLength="54.7" lengthAdjust="spacingAndGlyphs" stroke="#111" stroke-width="0.4">Log2 Enrichment</text>
<text x="500.50" y="442.00" font-size="7.8" font-weight="normal" text-anchor="middle" fill="#111" transform="rotate(-90 500.50 442.00)" textLength="39" lengthAdjust="spacingAndGlyphs" stroke="#111" stroke-width="0.25">H3K27 H3K4</text>
<text x="508.60" y="442.00" font-size="7.8" font-weight="normal" text-anchor="middle" fill="#111" transform="rotate(-90 508.60 442.00)" textLength="26.3" lengthAdjust="spacingAndGlyphs" stroke="#111" stroke-width="0.25">Control</text>
<text x="500.50" y="487.90" font-size="7.8" font-weight="normal" text-anchor="middle" fill="#111" transform="rotate(-90 500.50 487.90)" textLength="39" lengthAdjust="spacingAndGlyphs" stroke="#111" stroke-width="0.25">H3K27 H3K4</text>
<text x="508.60" y="487.90" font-size="7.8" font-weight="normal" text-anchor="middle" fill="#111" transform="rotate(-90 508.60 487.90)" textLength="29.9" lengthAdjust="spacingAndGlyphs" stroke="#111" stroke-width="0.25">5-aza-dC</text>
<text x="500.50" y="533.20" font-size="7.8" font-weight="normal" text-anchor="middle" fill="#111" transform="rotate(-90 500.50 533.20)" textLength="39" lengthAdjust="spacingAndGlyphs" stroke="#111" stroke-width="0.25">H3K27 H3K4</text>
<text x="508.60" y="533.20" font-size="7.8" font-weight="normal" text-anchor="middle" fill="#111" transform="rotate(-90 508.60 533.20)" textLength="13" lengthAdjust="spacingAndGlyphs" stroke="#111" stroke-width="0.25">TSA</text>
<text x="517.80" y="496.00" font-size="7.8" font-weight="normal" text-anchor="middle" fill="#111" transform="rotate(-90 517.80 496.00)" textLength="69.4" lengthAdjust="spacingAndGlyphs" stroke="#111" stroke-width="0.25">AML8 patient blasts</text>
<rect x="18.10" y="572.40" width="207.20" height="8.30" fill="#0a0a0a"/>
<rect x="24.00" y="572.40" width="0.6" height="8.30" fill="#888"/>
<rect x="41.20" y="572.40" width="1" height="8.30" fill="#fff"/>
<rect x="55.00" y="572.40" width="0.6" height="8.30" fill="#999"/>
<rect x="72.30" y="572.40" width="0.6" height="8.30" fill="#aaa"/>
<rect x="74.60" y="572.40" width="0.6" height="8.30" fill="#aaa"/>
<rect x="77.00" y="572.40" width="0.8" height="8.30" fill="#ccc"/>
<rect x="81.50" y="572.40" width="1" height="8.30" fill="#fff"/>
<rect x="102.30" y="572.40" width="0.8" height="8.30" fill="#ccc"/>
<rect x="109.20" y="572.40" width="0.6" height="8.30" fill="#999"/>
<rect x="116.00" y="572.40" width="0.8" height="8.30" fill="#bbb"/>
<rect x="129.00" y="572.40" width="0.6" height="8.30" fill="#888"/>
<rect x="140.30" y="572.40" width="0.8" height="8.30" fill="#bbb"/>
<rect x="150.00" y="572.40" width="1" height="8.30" fill="#fff"/>
<rect x="156.00" y="572.40" width="0.6" height="8.30" fill="#888"/>
<rect x="160.50" y="572.40" width="0.6" height="8.30" fill="#999"/>
<rect x="164.00" y="572.40" width="0.6" height="8.30" fill="#888"/>
<rect x="168.50" y="572.40" width="0.8" height="8.30" fill="#ccc"/>
<rect x="174.00" y="572.40" width="0.6" height="8.30" fill="#999"/>
<rect x="181.00" y="572.40" width="0.8" height="8.30" fill="#bbb"/>
<rect x="189.00" y="572.40" width="0.6" height="8.30" fill="#888"/>
<rect x="199.50" y="572.40" width="0.6" height="8.30" fill="#999"/>
<rect x="202.00" y="572.40" width="0.8" height="8.30" fill="#ccc"/>
<rect x="210.00" y="572.40" width="0.7" height="8.30" fill="#aaa"/>
<rect x="212.00" y="572.40" width="0.7" height="8.30" fill="#bbb"/>
<rect x="214.00" y="572.40" width="0.7" height="8.30" fill="#aaa"/>
<rect x="216.00" y="572.40" width="0.7" height="8.30" fill="#bbb"/>
<rect x="219.00" y="572.40" width="0.8" height="8.30" fill="#ccc"/>
<rect x="280.10" y="557.00" width="208.40" height="8.30" fill="#0a0a0a"/>
<rect x="291.00" y="557.00" width="0.6" height="8.30" fill="#888"/>
<rect x="305.00" y="557.00" width="1" height="8.30" fill="#fff"/>
<rect x="319.00" y="557.00" width="0.6" height="8.30" fill="#999"/>
<rect x="336.00" y="557.00" width="0.6" height="8.30" fill="#aaa"/>
<rect x="338.50" y="557.00" width="0.6" height="8.30" fill="#aaa"/>
<rect x="345.40" y="557.00" width="1" height="8.30" fill="#fff"/>
<rect x="366.00" y="557.00" width="0.8" height="8.30" fill="#ccc"/>
<rect x="373.00" y="557.00" width="0.6" height="8.30" fill="#999"/>
<rect x="380.00" y="557.00" width="0.6" height="8.30" fill="#999"/>
<rect x="387.00" y="557.00" width="0.6" height="8.30" fill="#888"/>
<rect x="402.00" y="557.00" width="0.8" height="8.30" fill="#bbb"/>
<rect x="413.50" y="557.00" width="1" height="8.30" fill="#fff"/>
<rect x="419.00" y="557.00" width="0.6" height="8.30" fill="#999"/>
<rect x="424.00" y="557.00" width="0.6" height="8.30" fill="#888"/>
<rect x="429.60" y="557.00" width="0.8" height="8.30" fill="#ccc"/>
<rect x="435.00" y="557.00" width="0.6" height="8.30" fill="#999"/>
<rect x="442.00" y="557.00" width="0.8" height="8.30" fill="#bbb"/>
<rect x="451.50" y="557.00" width="0.8" height="8.30" fill="#ccc"/>
<rect x="463.00" y="557.00" width="0.8" height="8.30" fill="#ccc"/>
<rect x="473.50" y="557.00" width="0.7" height="8.30" fill="#aaa"/>
<rect x="475.50" y="557.00" width="0.7" height="8.30" fill="#bbb"/>
<rect x="478.00" y="557.00" width="0.7" height="8.30" fill="#aaa"/>
<rect x="480.00" y="557.00" width="0.7" height="8.30" fill="#bbb"/>
<rect x="482.70" y="557.00" width="0.7" height="8.30" fill="#aaa"/>
<rect x="485.00" y="557.00" width="0.7" height="8.30" fill="#ccc"/>
<line x1="18.10" y1="585.50" x2="119.60" y2="585.50" stroke="#444" stroke-width="0.9"/>
<line x1="140.40" y1="585.50" x2="226.20" y2="585.50" stroke="#444" stroke-width="0.9"/>
<line x1="18.10" y1="583.00" x2="18.10" y2="588.00" stroke="#444" stroke-width="0.8"/>
<line x1="226.20" y1="583.00" x2="226.20" y2="588.00" stroke="#444" stroke-width="0.8"/>
<text x="121.90" y="587.60" font-size="6.4" font-weight="normal" text-anchor="start" fill="#222" textLength="16.9" lengthAdjust="spacingAndGlyphs" stroke="#222" stroke-width="0.4">50 Kb</text>
<line x1="280.10" y1="569.90" x2="381.50" y2="569.90" stroke="#444" stroke-width="0.9"/>
<line x1="403.10" y1="569.90" x2="488.50" y2="569.90" stroke="#444" stroke-width="0.9"/>
<line x1="280.10" y1="567.40" x2="280.10" y2="572.40" stroke="#444" stroke-width="0.8"/>
<line x1="488.50" y1="567.40" x2="488.50" y2="572.40" stroke="#444" stroke-width="0.8"/>
<text x="385.00" y="572.30" font-size="6.4" font-weight="normal" text-anchor="start" fill="#222" textLength="16.5" lengthAdjust="spacingAndGlyphs" stroke="#222" stroke-width="0.4">50 Kb</text>
<text x="238.10" y="581.80" font-size="7.2" font-weight="normal" text-anchor="middle" fill="#111" transform="rotate(-90 238.10 581.80)" textLength="19.4" lengthAdjust="spacingAndGlyphs" stroke="#111" stroke-width="0.25">Probes</text>
<text x="501.00" y="566.30" font-size="7.4" font-weight="normal" text-anchor="middle" fill="#111" transform="rotate(-90 501.00 566.30)" textLength="19.8" lengthAdjust="spacingAndGlyphs" stroke="#111" stroke-width="0.25">Probes</text>
<rect x="33.40" y="600.80" width="2.90" height="10.00" fill="#d6a00c"/>
<rect x="46.80" y="600.80" width="14.30" height="10.00" fill="#d6a00c"/>
<path d="M36.3,600.8 C37.8,598.6 41.5,598.0 46.8,600.8" fill="none" stroke="#333" stroke-width="0.8"/>
<path d="M33.8,600.8 L33.8,595.0 L39.3,595.0" fill="none" stroke="#333" stroke-width="0.8"/>
<path d="M42.8,595.0 L38.199999999999996,593.5 L38.199999999999996,596.5Z" fill="#111"/>
<text x="32.20" y="618.80" font-size="7.6" font-weight="normal" text-anchor="start" fill="#111" textLength="30.4" lengthAdjust="spacingAndGlyphs" stroke="#111" stroke-width="0.4">p15INK4b</text>
<rect x="95.80" y="600.80" width="13.00" height="10.00" fill="#6b9ef0"/>
<path d="M96.3,600.8 L96.3,595.0 L100.7,595.0" fill="none" stroke="#333" stroke-width="0.8"/>
<path d="M104.2,595.0 L99.60000000000001,593.5 L99.60000000000001,596.5Z" fill="#111"/>
<path d="M108.8,600.8 L122,598.6 L188,599.2 L192,600.8" fill="none" stroke="#333" stroke-width="0.7"/>
<text x="91.40" y="618.60" font-size="7.6" font-weight="normal" text-anchor="start" fill="#111" textLength="23.7" lengthAdjust="spacingAndGlyphs" stroke="#111" stroke-width="0.4">p14ARF</text>
<rect x="176.90" y="612.00" width="3.10" height="10.90" fill="#9acd2a"/>
<rect x="192.00" y="600.80" width="3.10" height="11.20" fill="#6b9ef0"/>
<rect x="192.00" y="612.00" width="3.10" height="10.90" fill="#9acd2a"/>
<rect x="202.00" y="600.80" width="3.10" height="11.20" fill="#6b9ef0"/>
<rect x="202.00" y="612.00" width="3.10" height="10.90" fill="#9acd2a"/>
<path d="M180.0,622.9 L186.0,625.5 L192.0,622.9" fill="none" stroke="#333" stroke-width="0.7"/>
<path d="M195.1,622.9 L198.55,624.9 L202.0,622.9" fill="none" stroke="#333" stroke-width="0.7"/>
<path d="M195.1,600.8 L198.55,598.8 L202.0,600.8" fill="none" stroke="#333" stroke-width="0.7"/>
<path d="M177.20000000000002,612.0 L177.20000000000002,606.4 L182.20000000000002,606.4" fill="none" stroke="#333" stroke-width="0.8"/>
<path d="M185.70000000000002,606.4 L181.10000000000002,604.9 L181.10000000000002,607.9Z" fill="#111"/>
<text x="145.30" y="618.60" font-size="7.6" font-weight="normal" text-anchor="start" fill="#111" textLength="29.6" lengthAdjust="spacingAndGlyphs" stroke="#111" stroke-width="0.4">p16INK4a</text>
<rect x="294.50" y="582.00" width="3.00" height="10.00" fill="#d6a00c"/>
<rect x="307.50" y="582.00" width="14.50" height="10.00" fill="#d6a00c"/>
<path d="M297.4,582 C299,579.8 302.5,579.0 307.8,582" fill="none" stroke="#333" stroke-width="0.8"/>
<path d="M295.0,582.0 L295.0,575.5 L300.5,575.5" fill="none" stroke="#333" stroke-width="0.8"/>
<path d="M304.0,575.5 L299.4,574.0 L299.4,577.0Z" fill="#111"/>
<text x="292.30" y="598.90" font-size="7.6" font-weight="normal" text-anchor="start" fill="#111" textLength="31.4" lengthAdjust="spacingAndGlyphs" stroke="#111" stroke-width="0.4">p15INK4b</text>
<rect x="357.00" y="582.00" width="13.00" height="10.00" fill="#6b9ef0"/>
<path d="M357.5,582.0 L357.5,575.5 L362.7,575.5" fill="none" stroke="#333" stroke-width="0.8"/>
<path d="M366.2,575.5 L361.59999999999997,574.0 L361.59999999999997,577.0Z" fill="#111"/>
<path d="M370,582 L384,579.4 L450,580.2 L453.8,582" fill="none" stroke="#333" stroke-width="0.7"/>
<text x="350.20" y="598.90" font-size="7.6" font-weight="normal" text-anchor="start" fill="#111" textLength="24.3" lengthAdjust="spacingAndGlyphs" stroke="#111" stroke-width="0.4">p14ARF</text>
<rect x="438.80" y="592.00" width="2.50" height="11.00" fill="#9acd2a"/>
<rect x="453.80" y="582.00" width="2.50" height="10.00" fill="#6b9ef0"/>
<rect x="453.80" y="592.00" width="2.50" height="11.00" fill="#9acd2a"/>
<rect x="463.30" y="582.00" width="2.50" height="10.00" fill="#6b9ef0"/>
<rect x="463.30" y="592.00" width="2.50" height="11.00" fill="#9acd2a"/>
<path d="M441.3,603.0 L447.55,605.6 L453.8,603.0" fill="none" stroke="#333" stroke-width="0.7"/>
<path d="M456.3,603.0 L459.8,605.0 L463.3,603.0" fill="none" stroke="#333" stroke-width="0.7"/>
<path d="M456.3,582.0 L459.8,580.0 L463.3,582.0" fill="none" stroke="#333" stroke-width="0.7"/>
<path d="M439.1,592.0 L439.1,587.0 L444.1,587.0" fill="none" stroke="#333" stroke-width="0.8"/>
<path d="M447.6,587.0 L443.0,585.5 L443.0,588.5Z" fill="#111"/>
<text x="405.50" y="598.80" font-size="7.6" font-weight="normal" text-anchor="start" fill="#111" textLength="30.7" lengthAdjust="spacingAndGlyphs" stroke="#111" stroke-width="0.4">p16INK4a</text>
</svg></body></html>
